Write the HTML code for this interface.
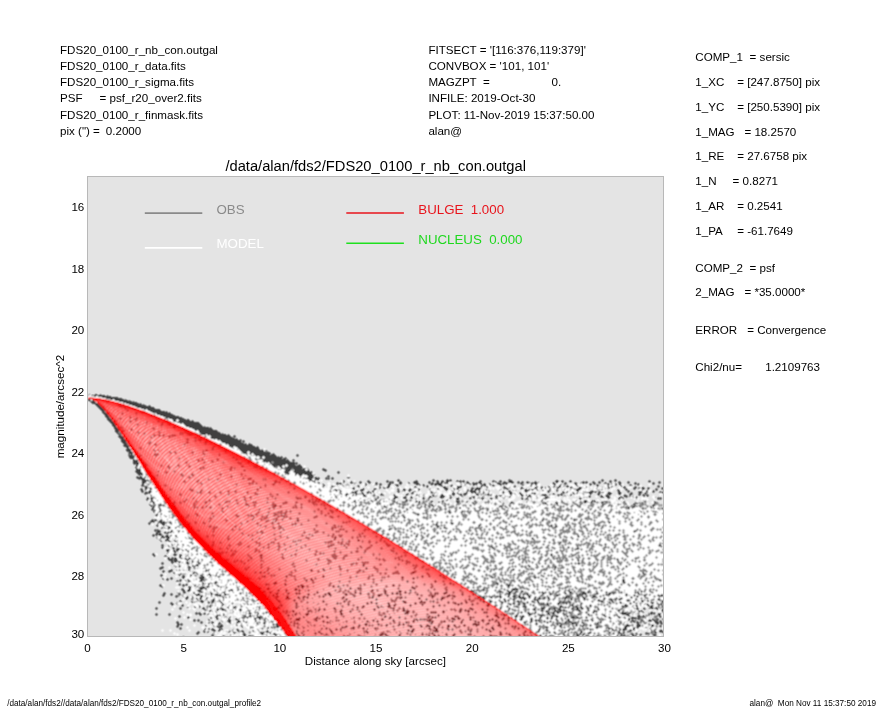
<!DOCTYPE html>
<html><head><meta charset="utf-8"><style>
html,body{margin:0;padding:0;background:#fff;width:885px;height:708px;overflow:hidden}
svg{display:block}
</style></head><body>
<svg width="885" height="708" viewBox="0 0 885 708" font-family="Liberation Sans, Arial, sans-serif">
<g shape-rendering="crispEdges">
<rect x="87" y="176" width="577" height="461" fill="#e4e4e4"/>
<g shape-rendering="auto"><line x1="144.8" y1="213.1" x2="202.3" y2="213.1" stroke="#8a8a8a" stroke-width="1.6"/>
<line x1="144.8" y1="247.9" x2="202.3" y2="247.9" stroke="#fff" stroke-width="1.6"/>
<line x1="346.3" y1="213.0" x2="403.9" y2="213.0" stroke="#e8141c" stroke-width="1.6"/>
<line x1="346.3" y1="243.3" x2="403.9" y2="243.3" stroke="#1ee01e" stroke-width="1.6"/></g>
<defs><clipPath id="pc"><rect x="87" y="176" width="577" height="461"/></clipPath></defs>
<defs><filter id="sb" x="0" y="0" width="885" height="708" filterUnits="userSpaceOnUse"><feConvolveMatrix order="3" kernelMatrix="1 2 1 2 4 2 1 2 1" divisor="16.0" edgeMode="none"/></filter></defs>
<g clip-path="url(#pc)"><g filter="url(#sb)">
<path d="M89 394.5h1m5 0h2m3 0h1m-13 1h1m2 0h14m2 0h1m-14 1h2m2 0h13m-9 1h16m-12 1h16m-34 1h2m20 0h3m1 0h10m1 0h1m-38 1h3m1 0h2m21 0h13m1 0h1m-40 1h5m24 0h13m1 0h1m-43 1h5m27 0h14m-45 1h6m28 0h13m1 0h1m-46 1h4m30 0h13m1 0h1m-48 1h4m32 0h14m3 0h1m-53 1h4m34 0h16m-53 1h4m35 0h17m-55 1h4m38 0h14m-55 1h4m40 0h2m1 0h13m-59 1h4m43 0h13m-59 1h2m46 0h15m1 0h1m-65 1h3m1 0h1m45 0h16m1 0h1m-67 1h4m47 0h1m1 0h15m-67 1h4m49 0h16m-68 1h3m52 0h15m-70 1h4m54 0h16m-73 1h3m57 0h16m-75 1h3m57 0h1m1 0h15m-77 1h5m60 0h5m1 0h8m1 0h2m-81 1h4m61 0h3m3 0h11m2 0h1m-84 1h4m60 0h4m1 0h16m-84 1h4m63 0h22m-88 1h4m65 0h2m1 0h17m-88 1h3m69 0h17m-89 1h4m69 0h17m-89 1h3m70 0h17m1 0h1m-91 1h3m72 0h20m1 0h1m-97 1h4m74 0h20m-97 1h4m75 0h19m-98 1h5m75 0h2m1 0h19m-102 1h4m80 0h19m-102 1h2m81 0h21m-103 1h2m1 0h1m80 0h20m1 0h1m-105 1h2m82 0h4m1 0h19m2 0h1m-110 1h2m87 0h1m1 0h20m4 0h1m-117 1h5m88 0h20m2 0h3m-117 1h6m85 0h23m1 0h1m-115 1h4m87 0h24m1 0h1m-116 1h4m89 0h1m2 0h21m2 0h1m-120 1h5m92 0h1m1 0h22m1 0h1m-123 1h5m95 0h20m1 0h3m-123 1h4m96 0h20m1 0h1m-121 1h4m98 0h19m1 0h1m3 0h1m-126 1h3m99 0h1m1 0h19m1 0h4m-129 1h5m1 0h1m99 0h24m-129 1h6m99 0h5m1 0h20m2 0h1m-132 1h3m102 0h2m4 0h22m-132 1h3m103 0h1m4 0h21m-133 1h5m106 0h1m1 0h21m2 0h1m-137 1h5m27 0h1m81 0h24m1 0h2m-140 1h5m109 0h7m1 0h15m1 0h1m1 0h1m-139 1h4m109 0h5m3 0h20m-142 1h5m108 0h1m1 0h5m1 0h3m1 0h18m2 0h1m-145 1h1m1 0h2m113 0h1m3 0h1m3 0h16m1 0h4m22 0h1m-170 1h5m114 0h1m3 0h1m1 0h1m1 0h21m20 0h3m-170 1h5m122 0h1m2 0h4m1 0h13m1 0h1m2 0h1m15 0h1m-169 1h6m125 0h2m3 0h18m2 0h1m-156 1h4m121 0h1m3 0h4m1 0h18m1 0h4m-154 1h2m1 0h1m121 0h1m1 0h1m1 0h24m1 0h1m5 0h1m-161 1h5m125 0h26m3 0h3m-162 1h5m124 0h10m1 0h17m3 0h1m-161 1h6m125 0h1m1 0h2m1 0h2m3 0h21m1 0h1m-164 1h6m131 0h2m1 0h25m-164 1h1m1 0h3m125 0h1m4 0h1m1 0h15m1 0h8m1 0h1m2 0h1m-164 1h2m134 0h11m1 0h1m3 0h8m1 0h4m-165 1h2m2 0h1m132 0h3m1 0h1m1 0h3m3 0h1m1 0h15m-167 1h2m3 0h1m35 0h1m97 0h1m5 0h3m2 0h18m-167 1h2m1 0h1m141 0h2m3 0h6m1 0h9m1 0h3m1 0h1m15 0h1m-188 1h5m137 0h1m1 0h1m4 0h6m3 0h11m3 0h1m13 0h4m-190 1h5m144 0h6m3 0h12m1 0h2m14 0h4m-192 1h6m143 0h6m3 0h17m1 0h1m13 0h1m12 0h1m-203 1h6m142 0h5m5 0h19m24 0h3m-203 1h6m142 0h5m5 0h17m26 0h1m-201 1h5m142 0h1m1 0h2m6 0h2m1 0h5m1 0h9m1 0h1m-176 1h1m2 0h1m102 0h1m49 0h1m3 0h3m5 0h7m14 0h1m-192 1h1m2 0h2m3 0h1m154 0h1m7 0h5m14 0h3m-194 1h7m1 0h2m1 0h1m2 0h1m149 0h1m3 0h1m2 0h7m1 0h2m1 0h1m7 0h1m1 0h1m3 0h1m14 0h3m-213 1h8m158 0h1m1 0h8m1 0h6m5 0h5m1 0h3m14 0h1m-210 1h1m1 0h5m1 0h1m160 0h4m3 0h4m7 0h1m1 0h1m3 0h1m65 0h1m34 0h1m13 0h1m2 0h1m58 0h1m92 0h1m12 0h1m-474 1h7m160 0h4m1 0h2m1 0h1m25 0h1m24 0h1m18 0h1m9 0h3m16 0h1m15 0h3m2 0h1m4 0h1m3 0h6m5 0h1m2 0h1m2 0h1m16 0h1m12 0h1m6 0h1m7 0h4m44 0h2m4 0h1m7 0h1m30 0h3m6 0h1m3 0h3m32 0h1m-508 1h5m1 0h1m151 0h1m8 0h1m2 0h3m28 0h2m6 0h1m8 0h1m6 0h3m16 0h3m1 0h1m1 0h1m4 0h2m1 0h1m13 0h4m11 0h1m3 0h1m2 0h3m2 0h3m2 0h3m1 0h1m5 0h9m2 0h1m11 0h3m10 0h4m3 0h3m2 0h1m4 0h4m5 0h1m3 0h1m4 0h1m7 0h1m19 0h4m2 0h3m5 0h3m11 0h1m2 0h1m6 0h1m5 0h1m2 0h1m6 0h3m3 0h1m3 0h1m8 0h1m19 0h3m8 0h1m-518 1h4m154 0h1m5 0h1m7 0h2m1 0h2m18 0h1m2 0h1m2 0h1m6 0h4m1 0h1m3 0h3m6 0h3m5 0h1m10 0h1m1 0h5m5 0h3m6 0h1m4 0h5m10 0h3m1 0h1m4 0h2m2 0h2m1 0h1m1 0h2m12 0h1m2 0h1m2 0h3m4 0h1m2 0h1m1 0h3m12 0h1m1 0h2m1 0h1m1 0h1m2 0h4m1 0h6m3 0h3m1 0h3m2 0h4m2 0h1m1 0h3m1 0h1m14 0h1m2 0h2m4 0h1m2 0h1m4 0h1m4 0h1m5 0h7m4 0h3m3 0h3m4 0h1m4 0h1m7 0h3m6 0h3m5 0h1m13 0h1m3 0h1m4 0h3m-519 1h3m1 0h1m171 0h2m16 0h6m9 0h1m2 0h1m5 0h1m4 0h1m3 0h1m5 0h3m2 0h1m8 0h2m1 0h1m6 0h3m6 0h2m4 0h5m10 0h1m1 0h3m1 0h8m1 0h4m12 0h1m3 0h1m2 0h3m2 0h6m1 0h3m2 0h1m4 0h1m7 0h4m1 0h6m4 0h1m5 0h1m1 0h3m4 0h2m1 0h8m14 0h3m9 0h3m7 0h4m2 0h1m1 0h2m2 0h1m3 0h1m2 0h3m3 0h1m4 0h3m1 0h1m2 0h1m3 0h1m3 0h3m6 0h1m5 0h3m1 0h1m13 0h3m4 0h1m-518 1h2m8 0h1m169 0h2m13 0h1m2 0h1m6 0h1m17 0h2m8 0h2m2 0h3m6 0h3m4 0h3m2 0h1m15 0h4m3 0h1m6 0h3m1 0h8m9 0h1m9 0h1m3 0h1m3 0h2m2 0h4m3 0h2m1 0h3m3 0h2m2 0h1m4 0h4m1 0h1m2 0h1m14 0h1m1 0h1m7 0h2m2 0h2m16 0h3m4 0h2m1 0h1m1 0h1m9 0h2m12 0h3m2 0h1m2 0h1m9 0h3m1 0h1m3 0h2m2 0h2m9 0h1m4 0h1m1 0h3m13 0h1m-513 1h4m1 0h1m176 0h2m7 0h1m9 0h1m3 0h1m1 0h1m9 0h1m6 0h1m8 0h1m1 0h1m3 0h1m7 0h2m6 0h3m18 0h1m1 0h2m1 0h3m2 0h1m3 0h1m3 0h2m1 0h5m7 0h3m7 0h1m3 0h1m8 0h2m1 0h1m4 0h5m4 0h1m1 0h3m5 0h1m13 0h1m7 0h2m6 0h2m4 0h1m17 0h1m4 0h2m3 0h1m2 0h1m8 0h2m12 0h1m5 0h3m9 0h1m6 0h1m4 0h2m7 0h3m6 0h1m19 0h1m-517 1h1m1 0h4m167 0h1m6 0h2m7 0h4m8 0h1m13 0h3m19 0h1m7 0h3m7 0h1m17 0h1m7 0h1m2 0h3m11 0h1m1 0h1m1 0h2m1 0h1m3 0h1m5 0h5m18 0h3m1 0h1m1 0h2m5 0h1m10 0h1m8 0h3m15 0h1m5 0h1m3 0h1m6 0h1m4 0h2m1 0h1m1 0h3m2 0h1m2 0h3m2 0h1m5 0h1m8 0h1m10 0h1m9 0h2m2 0h2m8 0h1m2 0h1m10 0h1m21 0h3m-515 1h2m1 0h1m1 0h1m172 0h1m6 0h1m1 0h1m20 0h1m4 0h1m20 0h2m2 0h2m1 0h3m25 0h3m10 0h1m15 0h4m10 0h4m11 0h1m1 0h1m1 0h2m1 0h1m1 0h1m5 0h1m15 0h4m2 0h1m4 0h1m6 0h2m12 0h3m2 0h3m2 0h1m2 0h2m3 0h1m3 0h3m7 0h1m2 0h3m6 0h3m4 0h1m10 0h1m4 0h1m5 0h2m1 0h1m11 0h3m8 0h3m2 0h1m2 0h2m4 0h1m9 0h1m3 0h1m-522 1h1m3 0h3m1 0h3m179 0h1m20 0h3m8 0h1m10 0h3m2 0h1m4 0h2m1 0h1m10 0h1m5 0h1m4 0h2m7 0h1m11 0h1m6 0h2m5 0h4m5 0h2m1 0h3m12 0h3m1 0h6m23 0h5m11 0h4m10 0h3m4 0h1m3 0h1m4 0h1m6 0h2m12 0h1m1 0h1m1 0h1m1 0h5m14 0h1m8 0h1m1 0h2m15 0h1m1 0h1m6 0h3m2 0h2m1 0h4m2 0h3m6 0h1m4 0h3m-524 1h3m2 0h2m3 0h2m178 0h1m3 0h3m1 0h1m14 0h1m7 0h4m9 0h2m21 0h3m3 0h3m3 0h3m6 0h2m9 0h1m8 0h1m6 0h3m6 0h1m2 0h1m9 0h1m3 0h2m2 0h6m5 0h1m13 0h1m3 0h1m1 0h2m13 0h1m3 0h2m2 0h1m1 0h3m2 0h2m11 0h2m6 0h1m6 0h1m5 0h1m3 0h1m1 0h5m16 0h1m1 0h1m1 0h2m15 0h1m6 0h3m6 0h1m7 0h2m4 0h1m6 0h3m4 0h1m-522 1h2m2 0h1m3 0h2m182 0h1m1 0h3m1 0h2m16 0h1m2 0h4m9 0h2m23 0h1m4 0h3m2 0h3m7 0h1m11 0h1m15 0h1m4 0h1m1 0h1m5 0h1m7 0h2m1 0h3m1 0h3m1 0h2m6 0h1m1 0h1m10 0h1m9 0h1m3 0h1m1 0h1m8 0h6m2 0h1m4 0h1m4 0h2m4 0h1m1 0h1m5 0h3m17 0h3m13 0h1m5 0h1m18 0h3m6 0h1m1 0h1m13 0h1m4 0h1m5 0h1m2 0h1m-516 1h3m2 0h1m1 0h4m4 0h1m179 0h1m3 0h2m10 0h1m2 0h3m3 0h1m6 0h1m3 0h2m23 0h3m2 0h1m1 0h1m4 0h1m4 0h2m15 0h1m20 0h1m5 0h1m7 0h2m2 0h6m3 0h2m2 0h1m5 0h1m13 0h1m4 0h3m14 0h3m19 0h3m7 0h1m5 0h1m3 0h1m9 0h1m5 0h1m1 0h1m4 0h7m2 0h1m18 0h2m7 0h3m9 0h3m4 0h2m4 0h3m5 0h1m2 0h1m-522 1h1m2 0h6m188 0h2m10 0h6m5 0h1m3 0h5m2 0h1m24 0h1m13 0h2m16 0h4m1 0h1m17 0h1m3 0h1m8 0h1m4 0h6m1 0h2m3 0h2m3 0h1m13 0h3m4 0h3m8 0h1m5 0h1m5 0h1m1 0h1m13 0h1m13 0h3m1 0h2m4 0h2m3 0h1m6 0h1m1 0h7m2 0h1m2 0h3m1 0h2m4 0h3m7 0h3m7 0h1m2 0h1m6 0h5m2 0h1m1 0h1m5 0h1m5 0h5m-520 1h4m1 0h1m190 0h2m4 0h2m2 0h1m1 0h1m2 0h3m1 0h1m1 0h3m3 0h2m1 0h2m9 0h1m25 0h1m3 0h3m17 0h1m2 0h1m17 0h3m2 0h2m1 0h1m3 0h4m4 0h1m2 0h1m1 0h1m2 0h1m1 0h2m4 0h1m14 0h1m5 0h4m1 0h1m4 0h3m9 0h5m17 0h1m7 0h1m1 0h1m9 0h2m1 0h2m4 0h1m6 0h3m6 0h2m7 0h5m6 0h4m8 0h3m6 0h2m3 0h3m16 0h1m-519 1h1m184 0h1m3 0h1m4 0h1m1 0h1m3 0h4m4 0h1m2 0h1m1 0h1m1 0h1m1 0h3m1 0h1m7 0h1m5 0h4m10 0h1m11 0h3m3 0h1m3 0h2m1 0h1m4 0h1m8 0h1m7 0h2m9 0h3m3 0h4m1 0h4m9 0h3m2 0h1m3 0h1m1 0h3m1 0h1m18 0h2m3 0h1m4 0h3m3 0h1m2 0h1m4 0h1m7 0h4m4 0h1m1 0h3m3 0h1m1 0h3m7 0h2m2 0h1m8 0h1m6 0h1m6 0h3m6 0h1m1 0h3m7 0h3m3 0h1m4 0h3m6 0h3m2 0h1m1 0h1m1 0h1m-498 1h2m183 0h1m1 0h1m7 0h2m5 0h2m1 0h2m6 0h3m9 0h1m5 0h1m1 0h1m9 0h3m10 0h2m8 0h1m1 0h1m4 0h1m8 0h3m1 0h1m3 0h4m5 0h2m2 0h1m6 0h2m2 0h1m12 0h1m6 0h1m1 0h1m1 0h1m1 0h2m4 0h1m2 0h3m9 0h1m9 0h3m2 0h1m1 0h3m10 0h6m2 0h1m7 0h3m1 0h1m2 0h1m5 0h1m18 0h1m8 0h1m2 0h1m3 0h4m1 0h1m12 0h4m3 0h1m2 0h1m5 0h1m2 0h3m1 0h3m-498 1h1m171 0h1m11 0h1m5 0h1m4 0h1m16 0h4m7 0h1m2 0h1m16 0h4m7 0h1m5 0h1m7 0h1m4 0h1m4 0h2m2 0h1m1 0h1m4 0h5m5 0h1m10 0h2m9 0h3m8 0h1m11 0h3m2 0h1m4 0h1m1 0h1m1 0h2m11 0h1m5 0h4m4 0h1m8 0h1m1 0h1m10 0h1m4 0h1m1 0h1m13 0h1m8 0h3m9 0h3m3 0h4m11 0h1m2 0h4m1 0h2m1 0h1m3 0h1m6 0h2m2 0h1m-501 1h2m1 0h2m179 0h1m17 0h1m27 0h2m15 0h4m5 0h4m3 0h3m10 0h1m4 0h4m8 0h4m5 0h3m6 0h1m11 0h1m2 0h2m3 0h1m3 0h1m1 0h1m6 0h1m4 0h1m5 0h1m1 0h1m4 0h1m12 0h1m4 0h2m1 0h1m6 0h1m7 0h5m30 0h1m3 0h1m1 0h1m2 0h1m11 0h3m3 0h4m8 0h4m3 0h1m6 0h1m1 0h3m17 0h1m2 0h1m1 0h1m-514 1h2m2 0h2m2 0h1m193 0h2m9 0h1m7 0h1m1 0h1m6 0h1m15 0h3m7 0h3m5 0h1m4 0h1m5 0h3m4 0h1m11 0h1m8 0h1m5 0h4m9 0h3m2 0h1m2 0h1m1 0h1m1 0h3m6 0h3m2 0h3m5 0h1m17 0h3m1 0h3m3 0h1m4 0h1m6 0h5m31 0h3m26 0h1m9 0h3m1 0h2m12 0h1m20 0h5m-516 1h3m1 0h3m185 0h1m9 0h1m27 0h1m4 0h1m1 0h1m5 0h1m4 0h1m11 0h1m8 0h1m7 0h1m23 0h1m8 0h3m11 0h1m11 0h1m8 0h1m30 0h1m2 0h1m1 0h2m13 0h1m2 0h1m34 0h1m38 0h1m38 0h1m1 0h1m-514 1h1m3 0h2m4 0h1m196 0h2m2 0h1m11 0h2m2 0h3m2 0h2m13 0h1m10 0h3m8 0h1m14 0h1m10 0h1m3 0h2m8 0h1m1 0h1m16 0h1m55 0h1m9 0h2m18 0h1m14 0h1m7 0h3m5 0h1m1 0h1m48 0h1m1 0h1m-496 1h4m199 0h2m28 0h2m1 0h1m7 0h2m1 0h1m4 0h1m1 0h1m1 0h1m8 0h3m1 0h1m10 0h3m6 0h1m1 0h3m12 0h4m6 0h2m6 0h1m1 0h1m22 0h1m11 0h1m15 0h1m13 0h1m5 0h1m8 0h1m4 0h1m13 0h1m4 0h1m2 0h5m3 0h5m6 0h1m1 0h3m17 0h1m19 0h1m9 0h1m-505 1h1m1 0h3m197 0h1m43 0h1m19 0h1m1 0h3m10 0h1m6 0h2m16 0h3m7 0h1m5 0h1m27 0h1m9 0h3m13 0h1m18 0h1m10 0h2m21 0h1m4 0h3m1 0h1m1 0h1m1 0h1m1 0h1m6 0h3m19 0h1m11 0h2m1 0h1m3 0h1m11 0h3m-504 1h2m5 0h1m215 0h1m22 0h1m19 0h1m24 0h1m12 0h1m14 0h2m2 0h1m14 0h1m19 0h1m30 0h1m1 0h3m8 0h3m44 0h1m31 0h1m1 0h2m4 0h1m11 0h1m-506 1h2m2 0h1m1 0h1m2 0h4m1 0h1m111 0h1m79 0h1m24 0h1m12 0h1m5 0h2m19 0h1m5 0h1m5 0h1m23 0h1m83 0h1m2 0h1m1 0h1m1 0h1m8 0h2m22 0h1m21 0h3m4 0h1m10 0h1m5 0h1m6 0h3m17 0h1m-504 1h3m1 0h2m2 0h1m1 0h5m109 0h3m75 0h1m3 0h1m8 0h1m18 0h1m2 0h1m3 0h1m11 0h1m1 0h1m22 0h1m2 0h3m1 0h1m20 0h1m43 0h1m38 0h1m7 0h1m9 0h2m18 0h1m2 0h1m7 0h1m14 0h1m4 0h2m14 0h1m7 0h1m1 0h1m4 0h1m12 0h3m-504 1h1m1 0h2m8 0h1m1 0h1m109 0h1m105 0h1m1 0h3m38 0h1m3 0h1m3 0h1m12 0h1m53 0h3m8 0h1m18 0h1m1 0h1m5 0h1m70 0h1m7 0h1m6 0h1m9 0h5m12 0h1m2 0h1m-502 1h3m3 0h1m216 0h1m8 0h1m74 0h2m5 0h1m32 0h1m1 0h1m4 0h2m24 0h1m12 0h1m8 0h2m24 0h1m42 0h1m4 0h2m2 0h3m8 0h1m6 0h3m7 0h1m1 0h1m-511 1h2m5 0h2m245 0h1m25 0h1m4 0h1m1 0h1m19 0h2m27 0h1m3 0h1m15 0h1m9 0h1m25 0h1m10 0h1m35 0h1m24 0h1m10 0h3m2 0h1m18 0h1m1 0h2m6 0h3m-513 1h4m4 0h2m251 0h1m75 0h1m25 0h1m39 0h1m14 0h1m58 0h1m14 0h1m16 0h1m1 0h1m-511 1h1m1 0h2m4 0h2m244 0h1m55 0h1m29 0h1m62 0h1m83 0h1m11 0h1m11 0h1m-511 1h2m4 0h2m288 0h1m11 0h3m176 0h2m1 0h1m11 0h2m-503 1h1m3 0h1m1 0h1m246 0h1m40 0h3m11 0h1m171 0h1m6 0h1m13 0h1m1 0h1m-501 1h1m3 0h1m256 0h1m30 0h1m-294 1h2m2 0h2m255 0h3m14 0h1m190 0h1m12 0h1m-484 1h3m6 0h1m4 0h1m248 0h1m-263 1h1m3 0h1m4 0h2m237 0h1m-236 1h1m233 0h3m-2 1h1m169 0h1m-423 1h1m1 0h3m4 0h1m5 0h1m129 0h1m244 0h1m30 0h3m41 0h1m-467 1h3m1 0h2m3 0h3m12 0h1m120 0h3m242 0h3m30 0h1m-425 1h6m1 0h1m1 0h3m1 0h2m2 0h1m2 0h1m126 0h1m244 0h1m66 0h1m-461 1h1m1 0h1m1 0h1m4 0h9m4 0h1m3 0h1m276 0h1m155 0h3m-463 1h3m6 0h2m1 0h5m1 0h1m3 0h2m264 0h1m14 0h3m155 0h1m-461 1h1m7 0h1m4 0h3m6 0h1m263 0h3m14 0h1m26 0h1m71 0h1m-396 1h3m4 0h1m2 0h1m12 0h1m256 0h1m1 0h1m39 0h3m69 0h3m3 0h1m-400 1h1m9 0h3m7 0h2m258 0h3m4 0h1m34 0h1m71 0h1m3 0h3m-397 1h2m1 0h1m3 0h3m4 0h2m2 0h1m258 0h1m4 0h3m110 0h1m-396 1h1m1 0h1m1 0h1m1 0h3m5 0h1m213 0h1m54 0h1m-290 1h1m1 0h1m10 0h1m219 0h3m-237 1h6m11 0h2m4 0h1m1 0h1m209 0h1m244 0h1m-480 1h1m1 0h4m4 0h1m2 0h1m1 0h3m5 0h2m2 0h2m449 0h3m-480 1h4m4 0h8m1 0h1m4 0h1m455 0h1m-479 1h2m1 0h2m4 0h1m1 0h2m-16 1h1m1 0h7m5 0h1m-16 1h3m1 0h1m2 0h2m1 0h1m3 0h3m1 0h2m3 0h2m239 0h1m161 0h1m-426 1h1m3 0h1m3 0h3m1 0h4m1 0h1m4 0h2m11 0h1m146 0h1m79 0h3m159 0h3m-424 1h1m4 0h4m1 0h4m7 0h1m7 0h1m3 0h1m144 0h3m79 0h1m115 0h1m45 0h1m-422 1h1m2 0h2m1 0h1m3 0h3m5 0h1m10 0h1m1 0h1m146 0h1m195 0h3m-375 1h1m6 0h3m22 0h1m166 0h1m173 0h1m-373 1h2m3 0h5m4 0h2m1 0h1m14 0h1m164 0h3m-199 1h1m4 0h1m1 0h3m4 0h2m4 0h1m9 0h1m166 0h1m201 0h1m-384 1h1m11 0h3m14 0h1m352 0h3m-2 1h1m44 0h1m-444 1h1m8 0h2m1 0h1m2 0h2m3 0h2m29 0h1m390 0h3m52 0h1m-499 1h3m4 0h1m3 0h1m4 0h1m5 0h1m3 0h2m416 0h1m52 0h3m-499 1h1m5 0h2m1 0h1m4 0h1m5 0h1m6 0h1m6 0h2m6 0h1m287 0h1m75 0h1m90 0h1m-499 1h3m9 0h1m3 0h1m21 0h1m291 0h3m73 0h3m7 0h1m-416 1h1m9 0h3m2 0h3m312 0h1m75 0h1m7 0h3m-413 1h3m4 0h1m2 0h4m1 0h1m3 0h2m4 0h1m385 0h1m-412 1h4m3 0h2m1 0h3m3 0h2m2 0h1m1 0h1m-22 1h2m4 0h3m1 0h1m9 0h2m8 0h1m-30 1h1m5 0h2m12 0h1m-36 1h1m13 0h1m6 0h1m16 0h1m5 0h1m2 0h1m3 0h2m345 0h1m-400 1h3m18 0h4m3 0h1m4 0h1m2 0h1m3 0h1m3 0h2m3 0h1m59 0h1m288 0h3m-400 1h3m9 0h1m8 0h3m2 0h3m5 0h1m3 0h1m68 0h3m288 0h1m-398 1h1m9 0h3m12 0h2m4 0h2m1 0h1m27 0h1m44 0h1m-94 1h1m3 0h1m2 0h1m3 0h2m8 0h1m5 0h1m-29 1h3m1 0h6m3 0h3m1 0h3m1 0h3m3 0h1m20 0h2m400 0h1m-450 1h5m1 0h3m8 0h5m1 0h1m1 0h1m4 0h1m2 0h2m8 0h1m366 0h1m37 0h3m-450 1h9m9 0h1m4 0h1m5 0h1m3 0h1m374 0h3m37 0h1m-447 1h2m1 0h3m1 0h3m5 0h1m2 0h1m1 0h3m3 0h2m2 0h1m8 0h1m52 0h1m314 0h1m-417 1h1m8 0h3m1 0h1m3 0h1m2 0h1m3 0h3m3 0h1m4 0h1m1 0h1m9 0h1m368 0h1m-418 1h3m8 0h1m13 0h4m1 0h1m6 0h3m376 0h3m-418 1h1m15 0h1m9 0h1m7 0h2m1 0h1m21 0h1m2 0h1m138 0h1m214 0h1m-405 1h1m4 0h1m7 0h1m4 0h2m1 0h4m22 0h1m140 0h3m164 0h1m96 0h1m-465 1h1m12 0h2m1 0h3m7 0h2m3 0h3m1 0h1m165 0h1m164 0h3m24 0h1m69 0h3m-468 1h4m15 0h1m7 0h4m3 0h1m9 0h1m21 0h1m139 0h1m162 0h1m24 0h3m69 0h1m-468 1h4m26 0h1m4 0h2m1 0h1m5 0h1m1 0h1m117 0h1m41 0h3m145 0h1m41 0h1m-396 1h1m10 0h1m7 0h1m8 0h3m15 0h1m1 0h2m9 0h2m1 0h1m88 0h1m10 0h3m41 0h1m145 0h3m-352 1h1m5 0h4m3 0h1m2 0h1m3 0h1m5 0h1m15 0h4m17 0h1m83 0h3m10 0h1m189 0h1m-352 1h3m3 0h4m18 0h1m1 0h1m10 0h1m1 0h2m1 0h1m51 0h1m50 0h1m101 0h1m-251 1h1m5 0h1m3 0h2m18 0h4m20 0h1m41 0h3m150 0h3m228 0h1m-470 1h1m5 0h2m1 0h1m1 0h1m6 0h3m1 0h2m11 0h1m6 0h1m43 0h1m152 0h1m228 0h3m-484 1h1m16 0h3m1 0h1m1 0h1m5 0h1m6 0h1m10 0h3m5 0h1m3 0h1m219 0h1m202 0h1m-484 1h3m16 0h1m3 0h1m6 0h2m8 0h2m5 0h1m1 0h3m1 0h1m1 0h2m10 0h1m36 0h1m21 0h1m36 0h1m98 0h1m16 0h3m-281 1h1m20 0h3m5 0h1m10 0h3m6 0h1m4 0h1m1 0h1m45 0h3m19 0h3m34 0h3m77 0h1m18 0h3m16 0h1m13 0h1m37 0h1m42 0h1m-365 1h1m10 0h3m14 0h6m4 0h1m1 0h1m6 0h1m25 0h1m19 0h1m21 0h1m36 0h1m77 0h3m9 0h1m8 0h1m30 0h3m35 0h3m40 0h3m-375 1h2m3 0h1m2 0h3m10 0h1m15 0h5m1 0h1m44 0h1m60 0h1m90 0h1m9 0h3m39 0h1m37 0h1m42 0h1m113 0h1m-487 1h1m2 0h3m2 0h1m8 0h1m6 0h2m7 0h1m3 0h4m2 0h1m4 0h1m7 0h1m10 0h1m75 0h1m3 0h3m100 0h1m105 0h1m103 0h1m36 0h1m-494 1h1m9 0h1m1 0h3m3 0h1m2 0h2m10 0h3m18 0h1m9 0h1m3 0h1m69 0h3m3 0h1m95 0h1m27 0h1m82 0h3m101 0h3m34 0h3m-486 1h3m1 0h1m5 0h1m1 0h3m8 0h3m13 0h2m89 0h1m99 0h3m25 0h3m82 0h1m103 0h2m35 0h1m-473 1h1m13 0h1m7 0h1m3 0h4m3 0h1m5 0h1m11 0h1m34 0h3m130 0h1m27 0h1m14 0h1m46 0h1m125 0h3m-447 1h1m6 0h1m15 0h2m1 0h1m2 0h2m1 0h2m1 0h2m17 0h1m32 0h1m6 0h4m8 0h1m163 0h3m44 0h3m125 0h1m-465 1h1m17 0h3m2 0h1m1 0h3m5 0h1m1 0h1m3 0h1m2 0h1m1 0h1m3 0h2m5 0h1m10 0h1m3 0h1m2 0h1m12 0h1m18 0h3m6 0h1m9 0h3m14 0h1m91 0h1m56 0h1m46 0h1m10 0h2m-351 1h3m17 0h1m2 0h3m1 0h1m7 0h2m7 0h1m4 0h1m3 0h1m12 0h1m10 0h1m8 0h1m20 0h1m18 0h1m12 0h1m1 0h4m29 0h1m4 0h1m53 0h3m112 0h4m-351 1h3m20 0h1m5 0h1m1 0h1m2 0h1m2 0h1m4 0h1m1 0h1m1 0h4m8 0h2m1 0h1m1 0h1m15 0h1m17 0h2m38 0h3m1 0h4m8 0h1m18 0h3m2 0h3m53 0h1m18 0h1m95 0h2m-348 1h1m25 0h3m5 0h1m1 0h1m1 0h5m1 0h1m1 0h1m11 0h2m32 0h1m3 0h3m7 0h1m29 0h1m2 0h3m29 0h1m4 0h1m11 0h1m7 0h1m1 0h1m50 0h4m100 0h1m-334 1h1m6 0h2m8 0h7m47 0h3m3 0h3m5 0h3m10 0h1m14 0h2m5 0h1m46 0h3m5 0h5m50 0h4m67 0h1m29 0h5m-337 1h3m4 0h3m7 0h1m1 0h3m2 0h2m6 0h2m5 0h1m4 0h1m4 0h3m21 0h1m3 0h3m6 0h2m9 0h1m7 0h1m7 0h4m1 0h1m23 0h1m26 0h1m7 0h1m1 0h1m11 0h1m37 0h1m3 0h1m67 0h3m27 0h7m-337 1h3m2 0h4m6 0h4m13 0h1m13 0h5m4 0h1m21 0h1m4 0h1m12 0h3m5 0h3m7 0h2m1 0h3m4 0h1m65 0h3m11 0h1m13 0h2m8 0h3m59 0h2m10 0h1m16 0h1m7 0h1m2 0h1m1 0h1m3 0h1m4 0h1m46 0h1m54 0h1m16 0h1m7 0h1m-467 1h2m3 0h2m8 0h5m11 0h1m1 0h1m7 0h2m3 0h1m2 0h1m10 0h1m19 0h2m5 0h1m1 0h1m5 0h1m7 0h1m12 0h1m17 0h1m37 0h1m16 0h1m11 0h3m11 0h4m3 0h1m4 0h1m35 0h1m23 0h4m25 0h3m5 0h6m2 0h1m5 0h3m18 0h1m25 0h3m12 0h1m4 0h1m17 0h1m14 0h1m13 0h1m2 0h1m1 0h3m-479 1h1m12 0h1m1 0h1m3 0h3m7 0h2m5 0h1m1 0h1m7 0h2m5 0h1m4 0h3m8 0h1m6 0h1m1 0h1m3 0h1m16 0h1m1 0h1m3 0h3m5 0h1m8 0h1m1 0h1m7 0h1m2 0h1m16 0h3m9 0h2m7 0h1m16 0h3m3 0h1m24 0h1m6 0h1m4 0h1m1 0h2m3 0h3m28 0h1m1 0h1m6 0h4m23 0h2m27 0h1m7 0h4m2 0h3m5 0h1m18 0h3m21 0h1m3 0h3m10 0h4m1 0h3m7 0h1m7 0h3m1 0h1m3 0h1m6 0h3m1 0h1m9 0h3m1 0h1m2 0h1m-479 1h3m5 0h1m6 0h2m4 0h1m9 0h1m3 0h1m6 0h1m5 0h2m3 0h1m1 0h1m2 0h1m2 0h2m13 0h3m1 0h1m2 0h1m1 0h1m21 0h1m4 0h4m8 0h3m5 0h6m7 0h1m8 0h1m7 0h1m1 0h4m15 0h1m8 0h1m3 0h3m22 0h3m4 0h3m2 0h3m1 0h1m4 0h1m11 0h1m16 0h5m4 0h4m15 0h1m10 0h1m33 0h4m4 0h1m7 0h1m3 0h1m14 0h3m5 0h1m13 0h3m3 0h1m8 0h1m2 0h5m1 0h1m7 0h3m7 0h1m1 0h3m1 0h3m6 0h1m4 0h1m8 0h1m1 0h3m-477 1h2m5 0h3m6 0h2m2 0h1m11 0h5m6 0h1m1 0h1m1 0h3m1 0h4m1 0h2m3 0h5m11 0h1m24 0h1m7 0h1m2 0h2m5 0h1m4 0h1m7 0h1m2 0h1m7 0h3m14 0h3m1 0h3m14 0h3m12 0h1m17 0h2m5 0h1m1 0h1m4 0h1m4 0h1m1 0h3m14 0h3m16 0h1m1 0h1m6 0h1m4 0h1m11 0h3m8 0h3m33 0h3m11 0h3m1 0h3m14 0h1m5 0h3m5 0h1m7 0h1m12 0h6m1 0h1m11 0h1m7 0h6m2 0h1m11 0h3m6 0h1m3 0h1m5 0h1m4 0h2m7 0h1m2 0h2m-501 1h3m6 0h1m4 0h1m5 0h1m13 0h4m1 0h2m2 0h1m5 0h1m3 0h7m1 0h1m1 0h1m9 0h2m18 0h2m1 0h2m2 0h1m3 0h1m2 0h1m2 0h3m2 0h1m9 0h1m20 0h1m14 0h1m1 0h1m3 0h3m14 0h1m30 0h4m5 0h3m11 0h1m16 0h1m14 0h1m14 0h4m3 0h1m7 0h1m10 0h1m6 0h1m16 0h1m2 0h1m7 0h2m3 0h2m4 0h1m3 0h1m3 0h3m20 0h1m5 0h3m7 0h1m1 0h1m8 0h1m1 0h1m2 0h1m11 0h1m11 0h1m2 0h1m16 0h1m2 0h1m3 0h3m1 0h1m5 0h3m3 0h1m7 0h7m-501 1h1m11 0h3m5 0h1m3 0h1m4 0h1m7 0h3m8 0h1m5 0h1m2 0h1m1 0h1m6 0h1m19 0h1m4 0h5m3 0h1m10 0h1m2 0h3m7 0h3m9 0h1m4 0h3m1 0h1m14 0h3m5 0h1m12 0h1m28 0h1m5 0h2m7 0h1m13 0h1m29 0h3m8 0h1m3 0h4m3 0h3m22 0h4m1 0h1m7 0h1m4 0h6m5 0h3m2 0h4m2 0h3m2 0h1m4 0h2m5 0h1m8 0h1m12 0h1m7 0h5m6 0h3m4 0h1m8 0h4m23 0h1m11 0h1m2 0h1m1 0h3m5 0h1m13 0h1m2 0h2m-487 1h1m9 0h3m3 0h2m6 0h2m5 0h1m14 0h2m1 0h2m2 0h1m12 0h2m11 0h1m1 0h1m1 0h1m2 0h1m14 0h1m8 0h3m8 0h3m2 0h3m1 0h3m14 0h1m18 0h3m26 0h3m26 0h3m16 0h1m12 0h1m8 0h3m3 0h1m6 0h1m22 0h4m1 0h3m5 0h3m4 0h1m1 0h3m6 0h1m4 0h2m3 0h7m3 0h3m3 0h3m2 0h1m3 0h3m2 0h1m16 0h2m1 0h1m8 0h1m4 0h3m6 0h4m9 0h1m11 0h1m4 0h1m8 0h3m4 0h1m-453 1h3m3 0h1m4 0h2m1 0h3m4 0h2m6 0h1m8 0h1m19 0h1m32 0h1m8 0h6m7 0h1m4 0h1m3 0h1m4 0h1m30 0h1m2 0h1m25 0h1m3 0h1m24 0h1m16 0h3m5 0h1m14 0h3m25 0h1m8 0h1m4 0h3m5 0h1m8 0h1m3 0h1m8 0h1m5 0h6m4 0h1m4 0h2m2 0h3m3 0h1m2 0h3m14 0h3m4 0h1m11 0h2m7 0h1m10 0h3m5 0h1m3 0h3m1 0h4m8 0h1m3 0h1m22 0h2m-474 1h1m10 0h1m2 0h1m5 0h1m5 0h3m8 0h1m18 0h1m6 0h1m20 0h1m5 0h2m8 0h1m1 0h1m5 0h1m50 0h3m27 0h3m41 0h1m5 0h3m12 0h3m25 0h3m13 0h1m18 0h3m2 0h1m3 0h3m6 0h1m1 0h3m7 0h3m1 0h1m1 0h1m8 0h1m16 0h1m4 0h3m10 0h3m12 0h1m5 0h1m5 0h3m3 0h1m1 0h4m5 0h1m16 0h1m12 0h3m-480 1h1m17 0h1m2 0h2m2 0h1m1 0h1m3 0h4m8 0h1m11 0h1m5 0h1m1 0h2m9 0h1m1 0h2m19 0h3m13 0h3m27 0h1m20 0h1m1 0h1m29 0h1m26 0h1m17 0h1m4 0h1m6 0h1m7 0h1m27 0h1m13 0h2m5 0h1m13 0h2m1 0h3m3 0h1m4 0h1m5 0h1m7 0h1m1 0h1m1 0h3m32 0h1m12 0h1m12 0h3m1 0h1m9 0h2m6 0h1m6 0h3m6 0h1m5 0h3m1 0h1m1 0h2m9 0h1m3 0h2m-505 1h1m19 0h3m9 0h1m1 0h1m1 0h1m1 0h1m1 0h5m4 0h1m3 0h2m1 0h1m1 0h1m2 0h1m8 0h1m15 0h1m9 0h1m15 0h1m6 0h3m13 0h1m27 0h3m18 0h3m25 0h1m19 0h1m10 0h4m14 0h3m1 0h1m7 0h3m13 0h1m17 0h1m15 0h4m3 0h3m10 0h1m1 0h3m1 0h1m8 0h3m7 0h1m3 0h3m3 0h2m20 0h1m3 0h1m5 0h1m28 0h1m1 0h3m4 0h1m1 0h1m1 0h3m6 0h1m6 0h1m5 0h2m3 0h1m2 0h3m3 0h2m2 0h1m4 0h1m5 0h2m-506 1h3m10 0h1m5 0h1m13 0h2m1 0h1m6 0h2m4 0h3m1 0h3m6 0h2m43 0h1m13 0h1m16 0h1m16 0h1m9 0h1m13 0h1m6 0h1m22 0h1m2 0h3m3 0h1m11 0h1m14 0h4m8 0h1m3 0h3m1 0h3m7 0h1m13 0h3m5 0h1m5 0h1m3 0h3m15 0h2m5 0h1m10 0h3m1 0h1m7 0h1m4 0h1m5 0h1m1 0h3m3 0h1m4 0h3m1 0h1m1 0h1m3 0h1m10 0h3m1 0h3m1 0h1m1 0h3m10 0h1m19 0h1m6 0h3m1 0h1m6 0h3m8 0h1m2 0h2m7 0h1m7 0h4m7 0h1m1 0h1m-505 1h1m10 0h3m3 0h1m31 0h1m3 0h1m2 0h1m5 0h2m20 0h1m1 0h1m1 0h1m6 0h1m2 0h2m1 0h1m1 0h1m17 0h1m14 0h3m20 0h1m17 0h3m9 0h1m17 0h3m2 0h1m3 0h3m9 0h3m15 0h1m8 0h3m3 0h1m1 0h1m1 0h1m23 0h1m5 0h3m1 0h1m1 0h3m3 0h1m5 0h1m29 0h1m7 0h1m1 0h3m3 0h1m4 0h3m1 0h1m10 0h1m1 0h5m1 0h3m8 0h3m3 0h1m1 0h3m1 0h1m10 0h3m26 0h1m10 0h2m1 0h1m5 0h3m13 0h1m1 0h1m3 0h3m6 0h1m-490 1h3m3 0h1m4 0h1m28 0h1m10 0h2m16 0h1m3 0h1m2 0h2m1 0h2m29 0h1m14 0h1m20 0h1m19 0h1m9 0h3m17 0h1m8 0h1m11 0h2m4 0h1m15 0h1m4 0h1m5 0h3m15 0h1m15 0h1m1 0h3m1 0h1m9 0h3m13 0h2m20 0h3m1 0h1m3 0h3m4 0h1m8 0h1m7 0h1m1 0h1m3 0h2m9 0h1m7 0h1m5 0h1m8 0h1m8 0h1m34 0h2m3 0h1m13 0h1m1 0h3m9 0h4m-490 1h1m8 0h3m15 0h1m10 0h1m1 0h1m2 0h1m5 0h2m6 0h1m34 0h1m14 0h4m12 0h3m50 0h1m14 0h1m24 0h3m2 0h3m13 0h3m10 0h1m10 0h1m4 0h3m17 0h1m13 0h1m13 0h4m4 0h1m12 0h1m2 0h1m5 0h1m1 0h1m4 0h1m1 0h1m6 0h3m12 0h3m10 0h2m9 0h3m15 0h3m30 0h1m1 0h4m5 0h1m1 0h3m2 0h1m6 0h3m1 0h3m5 0h1m1 0h1m-480 1h1m11 0h1m4 0h2m8 0h3m16 0h1m4 0h1m1 0h1m21 0h1m1 0h2m1 0h1m1 0h1m13 0h1m2 0h1m14 0h1m1 0h1m3 0h1m54 0h1m4 0h3m13 0h1m8 0h3m4 0h1m15 0h1m21 0h3m4 0h1m47 0h2m4 0h3m10 0h3m6 0h3m4 0h5m6 0h1m10 0h1m3 0h1m10 0h4m2 0h1m6 0h1m3 0h2m3 0h1m8 0h1m30 0h3m1 0h3m4 0h1m3 0h2m10 0h1m1 0h3m-497 1h1m23 0h1m6 0h2m5 0h2m3 0h1m3 0h1m6 0h1m6 0h1m3 0h1m5 0h2m4 0h4m9 0h1m9 0h1m1 0h2m5 0h1m2 0h1m4 0h1m3 0h3m15 0h3m15 0h1m5 0h1m14 0h1m21 0h3m4 0h1m13 0h3m3 0h1m4 0h1m4 0h1m9 0h1m29 0h1m36 0h1m23 0h1m5 0h1m6 0h1m1 0h1m6 0h1m6 0h1m1 0h1m15 0h5m8 0h1m4 0h3m2 0h3m5 0h1m2 0h4m1 0h3m5 0h1m33 0h1m3 0h1m6 0h1m3 0h1m6 0h1m5 0h4m1 0h2m2 0h1m1 0h1m-507 1h3m21 0h3m20 0h3m2 0h1m9 0h1m4 0h2m4 0h1m4 0h1m1 0h1m4 0h1m6 0h1m5 0h1m5 0h2m1 0h1m1 0h1m1 0h4m3 0h2m3 0h2m16 0h1m22 0h1m4 0h1m8 0h3m21 0h1m16 0h1m3 0h1m12 0h4m7 0h3m55 0h1m8 0h4m9 0h1m16 0h3m6 0h3m23 0h1m5 0h5m4 0h1m3 0h3m3 0h2m4 0h1m5 0h3m2 0h3m2 0h3m3 0h3m8 0h1m16 0h1m1 0h1m3 0h2m11 0h1m1 0h3m4 0h3m3 0h4m1 0h4m2 0h1m2 0h1m-508 1h1m23 0h1m22 0h2m1 0h1m9 0h3m2 0h4m10 0h1m3 0h3m14 0h1m1 0h1m9 0h1m4 0h3m27 0h1m14 0h3m2 0h3m8 0h1m6 0h1m31 0h3m17 0h1m9 0h2m54 0h3m3 0h1m4 0h4m7 0h3m16 0h1m8 0h1m23 0h3m5 0h2m5 0h3m3 0h2m2 0h3m2 0h1m8 0h1m2 0h5m2 0h1m5 0h1m8 0h3m16 0h1m1 0h1m18 0h1m6 0h1m11 0h2m4 0h2m-460 1h2m1 0h1m1 0h3m5 0h1m4 0h2m6 0h1m1 0h1m6 0h3m8 0h1m4 0h1m3 0h1m7 0h2m5 0h2m2 0h1m8 0h1m4 0h2m14 0h1m9 0h2m4 0h1m15 0h3m7 0h1m23 0h1m27 0h4m2 0h1m34 0h1m2 0h1m13 0h1m3 0h3m1 0h1m3 0h1m9 0h1m22 0h1m28 0h1m5 0h3m3 0h1m2 0h1m4 0h3m2 0h6m11 0h1m1 0h3m6 0h3m4 0h1m1 0h1m1 0h1m18 0h3m11 0h1m6 0h1m2 0h1m19 0h3m-455 1h2m1 0h1m2 0h1m17 0h1m6 0h1m5 0h1m2 0h1m16 0h1m1 0h2m2 0h1m5 0h2m10 0h1m1 0h3m12 0h3m6 0h1m1 0h1m20 0h3m7 0h3m51 0h2m1 0h4m21 0h1m1 0h1m1 0h1m6 0h3m14 0h3m3 0h1m1 0h3m14 0h1m1 0h1m17 0h3m14 0h1m13 0h1m5 0h1m3 0h3m5 0h3m1 0h2m1 0h1m2 0h1m5 0h1m9 0h1m6 0h1m1 0h1m4 0h5m7 0h1m12 0h1m3 0h1m9 0h1m1 0h1m3 0h5m8 0h1m10 0h1m-467 1h1m2 0h1m4 0h1m11 0h1m13 0h1m1 0h1m10 0h1m1 0h1m3 0h2m14 0h5m8 0h1m1 0h1m6 0h1m1 0h1m3 0h1m5 0h1m8 0h1m6 0h1m24 0h2m8 0h1m54 0h4m21 0h7m6 0h1m16 0h1m7 0h1m14 0h5m17 0h1m14 0h3m5 0h1m5 0h3m9 0h1m1 0h1m4 0h2m1 0h4m3 0h1m4 0h3m14 0h3m4 0h3m1 0h1m18 0h1m3 0h1m1 0h5m7 0h1m8 0h2m6 0h3m1 0h1m8 0h1m-508 1h1m12 0h1m25 0h6m2 0h3m2 0h1m14 0h1m22 0h1m1 0h4m6 0h1m7 0h1m2 0h2m4 0h1m5 0h1m3 0h2m8 0h1m3 0h1m6 0h3m31 0h3m18 0h1m32 0h1m9 0h5m22 0h1m1 0h1m1 0h1m48 0h1m1 0h1m34 0h1m5 0h4m4 0h1m11 0h3m2 0h3m2 0h2m3 0h3m4 0h1m8 0h1m7 0h1m1 0h1m4 0h1m11 0h1m14 0h7m1 0h2m18 0h1m1 0h6m2 0h3m-506 1h3m10 0h3m25 0h1m2 0h3m2 0h1m2 0h2m8 0h1m1 0h1m3 0h2m20 0h1m3 0h1m7 0h2m10 0h3m3 0h1m12 0h1m3 0h1m1 0h3m3 0h1m4 0h4m31 0h3m17 0h3m26 0h1m15 0h1m1 0h1m30 0h1m56 0h1m8 0h1m11 0h1m11 0h4m8 0h1m1 0h1m5 0h3m2 0h1m9 0h1m13 0h3m7 0h3m14 0h1m4 0h1m12 0h7m3 0h1m15 0h2m1 0h1m2 0h1m3 0h3m-505 1h1m12 0h1m9 0h1m20 0h1m15 0h5m2 0h1m21 0h1m3 0h2m1 0h1m1 0h1m1 0h2m2 0h1m13 0h1m4 0h1m7 0h3m2 0h1m2 0h1m10 0h2m14 0h1m18 0h1m19 0h1m23 0h1m43 0h1m7 0h3m15 0h1m31 0h1m6 0h4m5 0h3m9 0h3m4 0h2m6 0h1m8 0h5m5 0h1m2 0h1m3 0h2m9 0h1m10 0h1m9 0h1m14 0h3m11 0h1m8 0h4m8 0h2m3 0h1m4 0h1m10 0h2m-483 1h3m7 0h1m26 0h3m7 0h1m4 0h1m13 0h3m1 0h4m1 0h1m3 0h6m5 0h1m19 0h1m4 0h1m9 0h1m13 0h1m3 0h3m2 0h2m56 0h3m3 0h1m8 0h1m26 0h1m1 0h3m1 0h1m2 0h1m2 0h1m8 0h1m6 0h3m13 0h1m15 0h3m6 0h4m5 0h1m9 0h4m3 0h4m15 0h1m1 0h1m8 0h3m1 0h4m7 0h3m3 0h2m3 0h1m8 0h1m17 0h1m4 0h1m7 0h3m8 0h1m1 0h1m1 0h1m4 0h4m1 0h3m14 0h3m-483 1h1m7 0h3m20 0h2m4 0h2m6 0h1m1 0h1m2 0h2m10 0h2m1 0h1m1 0h3m1 0h1m3 0h1m1 0h5m38 0h1m3 0h2m11 0h2m4 0h1m3 0h3m24 0h2m29 0h2m3 0h3m6 0h3m26 0h3m1 0h6m15 0h1m2 0h1m2 0h1m10 0h3m15 0h1m9 0h3m3 0h1m4 0h1m6 0h2m4 0h3m15 0h3m5 0h1m3 0h2m3 0h2m9 0h1m3 0h4m1 0h3m6 0h3m20 0h3m7 0h3m10 0h5m2 0h2m3 0h1m1 0h1m8 0h1m1 0h1m3 0h1m-473 1h1m22 0h1m4 0h3m10 0h1m6 0h1m2 0h1m7 0h1m6 0h3m1 0h3m13 0h1m2 0h1m1 0h1m8 0h1m1 0h2m4 0h5m14 0h3m9 0h1m23 0h1m1 0h1m21 0h1m6 0h1m7 0h1m8 0h1m16 0h1m3 0h1m3 0h1m3 0h1m1 0h1m1 0h1m2 0h1m15 0h4m2 0h3m10 0h1m21 0h1m5 0h1m3 0h3m2 0h3m5 0h1m5 0h2m8 0h1m8 0h1m5 0h3m1 0h3m3 0h1m11 0h1m3 0h3m2 0h1m8 0h1m22 0h1m9 0h1m5 0h1m2 0h2m1 0h9m5 0h1m7 0h1m1 0h1m1 0h1m4 0h1m-469 1h1m3 0h1m9 0h1m8 0h1m10 0h3m4 0h4m15 0h2m3 0h2m3 0h1m2 0h1m9 0h2m11 0h1m4 0h5m16 0h1m56 0h1m7 0h3m9 0h1m21 0h3m1 0h3m1 0h3m3 0h3m20 0h4m2 0h1m4 0h1m5 0h3m10 0h1m6 0h1m1 0h3m2 0h1m6 0h1m4 0h1m5 0h3m3 0h3m7 0h3m3 0h1m1 0h1m8 0h1m3 0h1m3 0h3m9 0h3m3 0h1m11 0h1m1 0h1m4 0h1m12 0h1m22 0h2m2 0h1m5 0h1m3 0h1m6 0h1m2 0h3m1 0h3m-466 1h3m1 0h3m8 0h2m11 0h1m6 0h3m5 0h1m1 0h2m3 0h1m11 0h2m6 0h2m3 0h1m7 0h4m3 0h1m1 0h1m10 0h4m6 0h1m8 0h3m5 0h1m6 0h1m23 0h1m12 0h1m4 0h3m2 0h1m4 0h1m9 0h3m18 0h1m2 0h1m3 0h1m3 0h1m4 0h2m1 0h1m11 0h1m7 0h1m1 0h1m15 0h1m2 0h1m1 0h1m5 0h3m4 0h3m1 0h1m2 0h3m9 0h3m5 0h1m5 0h1m9 0h1m3 0h5m4 0h1m5 0h1m5 0h1m11 0h2m14 0h5m2 0h3m24 0h1m9 0h1m2 0h3m7 0h3m4 0h4m1 0h1m1 0h1m1 0h1m2 0h1m-484 1h1m16 0h1m3 0h1m2 0h1m10 0h1m9 0h1m4 0h4m6 0h4m2 0h2m1 0h1m8 0h1m17 0h1m2 0h4m4 0h1m6 0h1m15 0h1m8 0h1m5 0h3m2 0h1m2 0h1m1 0h1m29 0h1m3 0h3m4 0h1m2 0h3m14 0h1m12 0h1m5 0h3m13 0h6m9 0h3m5 0h3m7 0h1m12 0h3m1 0h1m3 0h1m6 0h1m6 0h1m1 0h1m9 0h1m15 0h1m5 0h3m3 0h1m1 0h1m4 0h3m1 0h1m1 0h3m13 0h1m2 0h4m3 0h1m6 0h1m2 0h1m1 0h1m4 0h1m7 0h1m15 0h1m1 0h1m11 0h1m1 0h3m2 0h1m3 0h1m1 0h1m5 0h3m2 0h4m1 0h3m-486 1h3m21 0h3m5 0h2m1 0h3m5 0h1m8 0h3m5 0h4m5 0h2m10 0h1m5 0h2m4 0h1m2 0h1m4 0h4m9 0h2m2 0h1m2 0h1m12 0h1m12 0h1m2 0h4m13 0h1m23 0h1m1 0h1m7 0h1m27 0h3m5 0h1m15 0h1m1 0h2m11 0h1m7 0h1m7 0h3m12 0h1m1 0h3m3 0h1m4 0h1m8 0h3m8 0h1m14 0h3m5 0h1m4 0h1m7 0h1m1 0h3m1 0h1m9 0h1m3 0h3m2 0h8m4 0h3m13 0h1m1 0h3m19 0h1m2 0h1m5 0h2m2 0h1m1 0h3m7 0h1m8 0h4m1 0h2m-485 1h2m2 0h1m19 0h1m6 0h1m3 0h1m5 0h3m9 0h1m6 0h1m3 0h1m14 0h2m5 0h3m7 0h1m2 0h3m14 0h6m28 0h1m2 0h1m34 0h2m11 0h1m20 0h1m3 0h1m2 0h1m23 0h3m28 0h1m11 0h4m1 0h1m8 0h3m8 0h2m7 0h3m14 0h1m10 0h3m9 0h1m9 0h1m1 0h3m3 0h1m5 0h5m6 0h1m13 0h3m1 0h1m20 0h1m15 0h2m6 0h1m10 0h3m1 0h3m-486 1h6m36 0h1m1 0h1m14 0h1m20 0h2m5 0h1m7 0h6m11 0h1m4 0h1m2 0h1m1 0h1m10 0h1m28 0h1m19 0h1m4 0h4m9 0h3m6 0h2m10 0h3m1 0h3m22 0h1m3 0h1m16 0h1m5 0h1m9 0h1m7 0h8m8 0h1m9 0h3m7 0h1m9 0h1m3 0h1m13 0h1m19 0h3m1 0h1m12 0h1m2 0h1m6 0h1m6 0h1m6 0h1m28 0h3m8 0h3m12 0h1m4 0h1m3 0h1m-485 1h2m2 0h1m23 0h2m6 0h1m6 0h3m13 0h2m9 0h1m8 0h1m16 0h1m2 0h3m12 0h1m1 0h2m3 0h1m8 0h1m3 0h1m8 0h1m2 0h1m22 0h1m11 0h3m4 0h2m11 0h1m6 0h3m11 0h1m3 0h1m6 0h2m9 0h1m4 0h4m17 0h3m3 0h3m7 0h3m7 0h1m1 0h4m14 0h1m3 0h3m12 0h1m2 0h1m5 0h3m33 0h1m1 0h3m13 0h3m4 0h3m4 0h3m20 0h1m12 0h6m5 0h5m1 0h1m8 0h3m6 0h1m-485 1h3m27 0h1m7 0h1m1 0h2m1 0h4m19 0h1m7 0h1m20 0h1m1 0h1m1 0h5m14 0h1m2 0h1m4 0h1m5 0h1m15 0h1m17 0h1m2 0h3m5 0h1m5 0h1m26 0h1m22 0h4m7 0h3m4 0h4m3 0h1m12 0h3m4 0h1m9 0h1m11 0h1m15 0h1m5 0h1m12 0h6m5 0h1m23 0h1m12 0h3m14 0h1m6 0h1m6 0h1m5 0h2m26 0h6m7 0h4m1 0h1m8 0h3m5 0h3m-485 1h1m2 0h1m36 0h5m20 0h1m7 0h1m16 0h2m2 0h2m4 0h2m3 0h1m1 0h1m2 0h1m9 0h2m4 0h2m21 0h1m14 0h3m2 0h1m5 0h3m8 0h1m11 0h1m27 0h1m6 0h2m9 0h1m7 0h1m3 0h3m12 0h1m9 0h1m32 0h3m18 0h1m2 0h1m2 0h1m26 0h3m12 0h1m26 0h1m7 0h4m10 0h1m14 0h3m6 0h2m1 0h3m6 0h2m4 0h1m8 0h1m-482 1h3m23 0h1m2 0h2m2 0h1m6 0h1m1 0h1m15 0h1m12 0h1m16 0h1m14 0h2m13 0h1m1 0h1m3 0h1m17 0h2m2 0h3m1 0h1m6 0h1m3 0h1m1 0h1m9 0h3m7 0h3m2 0h1m6 0h3m36 0h1m10 0h1m3 0h3m3 0h4m10 0h1m3 0h1m15 0h1m17 0h1m4 0h3m23 0h3m6 0h1m12 0h1m6 0h1m39 0h3m1 0h1m5 0h2m10 0h3m12 0h4m6 0h2m2 0h1m12 0h1m-471 1h1m23 0h2m2 0h1m2 0h4m4 0h4m10 0h1m2 0h3m18 0h1m63 0h1m4 0h1m2 0h2m4 0h3m2 0h2m11 0h1m9 0h1m3 0h1m7 0h1m32 0h1m3 0h3m14 0h1m5 0h3m9 0h3m1 0h3m13 0h3m15 0h3m1 0h1m2 0h3m23 0h1m19 0h3m6 0h1m20 0h1m18 0h1m1 0h3m17 0h1m2 0h2m1 0h1m4 0h1m2 0h4m3 0h1m2 0h2m16 0h1m8 0h1m-457 1h1m7 0h4m2 0h3m11 0h1m4 0h3m1 0h2m9 0h2m4 0h1m8 0h1m9 0h1m18 0h1m10 0h2m5 0h1m5 0h1m9 0h2m4 0h1m3 0h1m25 0h1m9 0h1m30 0h3m1 0h3m21 0h3m10 0h1m3 0h1m15 0h1m1 0h1m15 0h1m1 0h3m2 0h1m31 0h1m12 0h2m6 0h3m16 0h1m1 0h3m11 0h1m8 0h1m21 0h3m4 0h2m1 0h3m4 0h3m2 0h1m16 0h1m2 0h1m4 0h4m-465 1h1m4 0h3m1 0h2m5 0h1m4 0h1m6 0h1m6 0h1m4 0h1m1 0h4m9 0h1m5 0h1m1 0h1m1 0h1m1 0h4m2 0h1m12 0h2m3 0h1m6 0h2m20 0h2m10 0h3m8 0h1m24 0h2m21 0h1m9 0h1m8 0h1m1 0h4m16 0h1m3 0h5m30 0h3m17 0h3m8 0h1m23 0h3m3 0h1m6 0h3m4 0h1m2 0h1m1 0h1m4 0h1m9 0h3m1 0h1m11 0h3m7 0h1m20 0h1m2 0h1m3 0h2m3 0h1m6 0h1m7 0h1m12 0h1m3 0h1m3 0h5m-467 1h3m4 0h1m2 0h1m6 0h1m13 0h1m4 0h3m3 0h1m2 0h2m16 0h5m1 0h2m1 0h2m14 0h1m6 0h1m3 0h1m4 0h1m13 0h1m2 0h3m10 0h1m22 0h1m11 0h3m21 0h1m5 0h1m3 0h1m10 0h2m9 0h1m9 0h1m2 0h1m1 0h1m4 0h1m27 0h1m19 0h1m8 0h3m23 0h1m3 0h3m6 0h1m9 0h3m2 0h3m9 0h1m14 0h2m6 0h4m17 0h2m2 0h1m3 0h4m1 0h3m2 0h1m1 0h1m6 0h1m9 0h1m1 0h1m1 0h2m2 0h3m3 0h1m1 0h2m-468 1h3m14 0h1m20 0h1m8 0h2m15 0h4m6 0h1m2 0h3m8 0h3m2 0h1m1 0h2m3 0h2m3 0h2m11 0h3m3 0h3m3 0h1m7 0h1m14 0h1m14 0h1m2 0h1m14 0h1m2 0h1m15 0h1m20 0h1m8 0h3m12 0h1m7 0h1m13 0h1m1 0h1m29 0h1m8 0h1m20 0h1m18 0h1m4 0h1m22 0h1m1 0h3m1 0h1m3 0h4m15 0h1m3 0h1m1 0h3m3 0h4m1 0h1m8 0h1m2 0h3m2 0h1m4 0h5m5 0h1m-459 1h1m14 0h1m1 0h1m15 0h1m11 0h4m15 0h2m1 0h1m1 0h1m6 0h5m1 0h1m5 0h2m10 0h2m4 0h2m10 0h1m5 0h1m1 0h1m1 0h3m22 0h1m24 0h1m4 0h7m12 0h2m14 0h1m5 0h3m8 0h1m1 0h1m10 0h3m5 0h3m11 0h5m18 0h1m8 0h3m6 0h3m8 0h1m4 0h1m15 0h1m23 0h1m11 0h3m1 0h1m1 0h3m3 0h1m9 0h1m12 0h1m1 0h1m3 0h2m2 0h2m1 0h1m2 0h1m1 0h1m1 0h3m2 0h1m2 0h3m4 0h1m1 0h1m4 0h3m-445 1h3m9 0h1m6 0h1m12 0h3m3 0h1m1 0h3m12 0h1m8 0h2m3 0h1m5 0h3m3 0h1m5 0h2m3 0h1m20 0h1m1 0h1m1 0h1m14 0h1m3 0h1m1 0h1m14 0h1m14 0h4m2 0h4m9 0h3m21 0h1m5 0h2m3 0h3m10 0h1m5 0h3m13 0h1m1 0h1m12 0h1m5 0h3m2 0h1m1 0h1m3 0h1m8 0h1m8 0h3m2 0h3m13 0h3m3 0h1m3 0h1m3 0h1m9 0h3m10 0h3m4 0h1m2 0h1m1 0h1m4 0h1m3 0h3m6 0h1m10 0h1m3 0h1m1 0h2m3 0h1m3 0h2m1 0h1m4 0h1m12 0h4m-474 1h1m28 0h1m9 0h3m11 0h1m1 0h1m5 0h1m3 0h4m1 0h1m13 0h1m7 0h1m9 0h1m1 0h2m3 0h2m3 0h4m1 0h2m9 0h1m1 0h1m17 0h1m13 0h2m13 0h1m11 0h1m5 0h1m6 0h1m11 0h1m10 0h1m17 0h3m3 0h2m3 0h1m7 0h1m5 0h1m28 0h3m5 0h1m2 0h5m21 0h1m4 0h1m11 0h1m3 0h1m3 0h3m1 0h3m1 0h3m9 0h1m12 0h1m7 0h5m2 0h3m3 0h1m17 0h3m1 0h4m3 0h1m4 0h5m11 0h1m6 0h1" stroke="#404040" stroke-width="1"/>
<path d="M89 395.5h2m-3 1h6m2 0h2m-10 1h2m1 0h1m1 0h9m-14 1h1m5 0h2m1 0h3m1 0h5m-15 1h1m1 0h2m3 0h1m3 0h4m1 0h1m1 0h1m3 0h1m-23 1h1m2 0h2m1 0h3m1 0h4m5 0h5m-20 1h11m3 0h10m-23 1h11m1 0h10m1 0h4m-25 1h19m3 0h1m1 0h1m1 0h2m-27 1h19m7 0h4m-29 1h18m4 0h1m2 0h3m1 0h3m-31 1h2m1 0h15m7 0h1m3 0h5m-30 1h16m1 0h2m2 0h2m1 0h8m-33 1h20m3 0h7m1 0h6m-37 1h21m1 0h1m1 0h5m3 0h8m2 0h1m-41 1h20m3 0h5m1 0h8m1 0h4m-41 1h20m1 0h14m4 0h4m-43 1h1m1 0h13m1 0h13m1 0h4m7 0h4m-42 1h11m3 0h11m3 0h4m1 0h2m4 0h5m1 0h1m-46 1h12m1 0h13m1 0h10m1 0h3m2 0h1m1 0h2m-46 1h39m6 0h4m-49 1h19m1 0h20m2 0h1m1 0h1m1 0h6m-50 1h7m1 0h8m3 0h4m1 0h18m3 0h1m1 0h5m-51 1h5m3 0h8m1 0h4m3 0h18m1 0h1m3 0h3m4 0h1m-56 1h2m1 0h4m1 0h13m3 0h22m1 0h5m1 0h1m1 0h4m5 0h1m-66 1h2m3 0h13m1 0h4m1 0h22m1 0h7m3 0h4m3 0h3m-66 1h2m1 0h13m3 0h14m1 0h10m3 0h5m3 0h2m1 0h2m4 0h1m-64 1h16m1 0h14m3 0h10m1 0h3m1 0h3m1 0h1m4 0h5m-62 1h22m1 0h8m1 0h14m3 0h3m4 0h9m2 0h1m-68 1h21m3 0h22m2 0h5m3 0h4m1 0h8m-68 1h21m1 0h22m3 0h6m1 0h4m3 0h1m1 0h6m-69 1h5m1 0h39m1 0h11m3 0h1m3 0h6m-69 1h3m3 0h30m1 0h19m3 0h2m1 0h4m1 0h5m-71 1h3m1 0h9m1 0h20m3 0h19m1 0h7m3 0h7m-73 1h4m1 0h6m3 0h20m1 0h29m1 0h2m2 0h6m-74 1h2m3 0h6m1 0h53m4 0h6m2 0h1m-78 1h3m1 0h14m1 0h20m1 0h24m4 0h11m-78 1h16m3 0h4m1 0h13m3 0h19m1 0h1m1 0h2m1 0h1m1 0h4m1 0h2m1 0h3m-77 1h16m1 0h4m3 0h13m1 0h19m5 0h2m12 0h2m-77 1h21m1 0h9m1 0h4m1 0h3m1 0h8m1 0h1m1 0h5m1 0h1m1 0h4m6 0h2m11 0h1m-85 1h31m3 0h2m3 0h1m3 0h4m1 0h1m5 0h13m3 0h5m4 0h4m1 0h2m1 0h1m-87 1h28m1 0h2m1 0h4m1 0h3m1 0h4m3 0h1m1 0h1m1 0h23m1 0h2m1 0h2m3 0h4m-86 1h25m3 0h16m1 0h25m1 0h4m3 0h2m1 0h4m-86 1h27m1 0h35m1 0h6m3 0h2m1 0h1m1 0h5m1 0h3m-86 1h61m3 0h6m1 0h2m3 0h5m3 0h5m1 0h2m-91 1h1m1 0h59m1 0h6m3 0h2m3 0h4m2 0h2m1 0h7m1 0h1m-91 1h21m1 0h36m1 0h7m1 0h4m1 0h4m3 0h1m3 0h9m-92 1h20m3 0h34m3 0h16m2 0h3m1 0h4m1 0h6m-93 1h19m3 0h4m1 0h28m1 0h2m1 0h16m3 0h7m3 0h3m1 0h4m-95 1h19m1 0h4m3 0h26m3 0h19m1 0h9m1 0h2m4 0h4m1 0h1m-98 1h25m1 0h28m1 0h32m4 0h8m-99 1h83m1 0h4m1 0h10m5 0h1m-106 1h3m1 0h7m1 0h71m3 0h16m2 0h4m-107 1h1m3 0h5m3 0h16m1 0h53m2 0h12m1 0h6m1 0h4m26 0h1m-131 1h6m1 0h13m1 0h51m1 0h4m3 0h11m3 0h9m1 0h1m24 0h3m-135 1h1m1 0h20m3 0h2m1 0h44m1 0h1m3 0h4m1 0h12m2 0h13m24 0h1m-133 1h22m1 0h15m1 0h4m1 0h16m1 0h1m1 0h7m3 0h1m1 0h17m3 0h14m7 0h1m-116 1h36m3 0h2m3 0h14m3 0h9m1 0h21m1 0h16m5 0h3m-117 1h22m1 0h1m1 0h12m1 0h4m1 0h16m1 0h9m3 0h14m1 0h21m1 0h1m5 0h1m3 0h1m-120 1h1m1 0h2m1 0h2m1 0h13m5 0h44m3 0h12m3 0h25m1 0h3m1 0h3m-112 1h12m4 0h46m1 0h14m1 0h27m1 0h3m1 0h1m1 0h1m-120 1h2m1 0h2m1 0h14m1 0h77m1 0h10m1 0h4m1 0h6m1 0h2m4 0h1m-129 1h1m3 0h40m1 0h52m3 0h8m3 0h2m3 0h9m2 0h3m-131 1h3m1 0h3m1 0h36m3 0h21m1 0h14m1 0h15m1 0h2m1 0h7m1 0h2m1 0h1m2 0h4m2 0h2m4 0h1m-129 1h1m1 0h2m4 0h36m1 0h18m1 0h2m3 0h12m3 0h16m3 0h8m6 0h3m4 0h1m1 0h1m-120 1h55m3 0h2m1 0h9m1 0h4m1 0h18m1 0h10m5 0h4m1 0h6m-125 1h1m1 0h46m1 0h11m1 0h5m1 0h6m3 0h9m1 0h14m1 0h9m3 0h1m1 0h4m1 0h4m-123 1h46m3 0h15m3 0h6m1 0h9m3 0h12m4 0h6m3 0h1m3 0h2m3 0h5m1 0h1m2 0h1m-130 1h3m1 0h2m1 0h40m1 0h17m1 0h18m1 0h14m4 0h6m1 0h3m1 0h4m1 0h12m-131 1h2m6 0h14m1 0h16m1 0h61m1 0h23m1 0h4m1 0h1m15 0h1m-149 1h4m1 0h2m3 0h12m3 0h5m1 0h8m3 0h9m1 0h52m1 0h11m1 0h1m1 0h5m1 0h9m11 0h1m1 0h3m16 0h1m-167 1h2m1 0h2m1 0h2m1 0h14m1 0h5m3 0h8m1 0h9m3 0h12m1 0h27m1 0h9m3 0h9m5 0h3m3 0h9m5 0h1m3 0h3m1 0h1m16 0h3m-169 1h3m1 0h1m3 0h23m2 0h6m1 0h12m1 0h10m1 0h1m3 0h25m3 0h1m1 0h7m1 0h11m4 0h2m1 0h1m1 0h3m1 0h7m4 0h2m3 0h1m20 0h1m-167 1h1m1 0h3m1 0h24m3 0h28m3 0h1m1 0h26m2 0h1m3 0h20m1 0h2m3 0h3m3 0h8m1 0h4m25 0h1m-166 1h4m1 0h23m1 0h30m1 0h28m3 0h2m1 0h9m1 0h15m1 0h5m1 0h11m1 0h1m1 0h3m21 0h3m-167 1h3m4 0h10m1 0h15m1 0h55m1 0h12m3 0h19m3 0h17m6 0h1m1 0h1m12 0h1m-166 1h4m4 0h8m3 0h6m1 0h6m3 0h68m1 0h21m1 0h8m1 0h8m6 0h3m-151 1h3m3 0h2m1 0h7m1 0h6m3 0h6m1 0h99m3 0h1m1 0h5m5 0h5m19 0h1m-171 1h3m1 0h2m3 0h14m1 0h14m1 0h10m1 0h27m1 0h20m1 0h32m2 0h1m3 0h5m5 0h5m17 0h3m-172 1h2m4 0h1m1 0h6m1 0h22m3 0h8m3 0h25m3 0h18m3 0h30m3 0h2m1 0h3m1 0h2m1 0h1m2 0h6m2 0h1m5 0h1m9 0h1m34 0h1m-206 1h3m4 0h3m1 0h2m3 0h22m3 0h7m3 0h26m1 0h10m1 0h9m1 0h3m1 0h28m1 0h6m3 0h11m1 0h3m3 0h5m40 0h3m-208 1h3m1 0h2m1 0h3m3 0h2m1 0h24m1 0h6m1 0h2m1 0h37m3 0h49m1 0h1m1 0h15m1 0h7m40 0h1m-206 1h1m2 0h1m1 0h2m1 0h2m1 0h1m1 0h32m3 0h40m1 0h11m1 0h6m1 0h32m3 0h14m1 0h3m1 0h2m-162 1h9m3 0h32m1 0h18m1 0h8m1 0h24m3 0h3m4 0h11m1 0h1m1 0h15m1 0h2m1 0h18m1 0h1m8 0h1m-168 1h1m1 0h2m1 0h1m1 0h2m1 0h42m1 0h8m3 0h6m3 0h24m1 0h3m4 0h11m5 0h13m3 0h5m1 0h19m4 0h3m6 0h1m26 0h1m-195 1h2m1 0h27m1 0h12m3 0h8m1 0h8m1 0h30m1 0h4m1 0h9m1 0h1m1 0h9m2 0h4m1 0h4m4 0h19m4 0h1m2 0h1m3 0h3m18 0h1m5 0h3m4 0h1m-208 1h1m1 0h1m1 0h1m1 0h2m3 0h25m3 0h10m3 0h53m3 0h19m4 0h1m1 0h5m4 0h5m1 0h5m1 0h8m1 0h2m3 0h3m3 0h1m18 0h3m5 0h1m4 0h3m40 0h1m-251 1h3m3 0h4m1 0h27m1 0h12m1 0h3m1 0h47m1 0h2m2 0h2m1 0h17m3 0h1m3 0h5m1 0h6m3 0h4m1 0h2m1 0h2m1 0h7m2 0h1m11 0h2m11 0h1m12 0h1m40 0h3m52 0h1m6 0h1m36 0h1m64 0h1m-415 1h1m1 0h1m1 0h1m1 0h49m3 0h33m1 0h11m6 0h1m3 0h15m3 0h3m1 0h10m1 0h2m3 0h6m3 0h13m9 0h4m2 0h1m29 0h1m9 0h1m22 0h1m10 0h1m35 0h1m5 0h3m4 0h4m3 0h1m29 0h3m13 0h1m19 0h1m8 0h2m11 0h1m6 0h3m9 0h1m7 0h1m2 0h1m31 0h1m8 0h1m26 0h1m-506 1h3m3 0h2m1 0h2m1 0h9m1 0h35m1 0h33m3 0h11m1 0h2m1 0h3m1 0h8m1 0h6m3 0h14m3 0h2m1 0h8m1 0h15m1 0h2m6 0h2m2 0h3m27 0h3m7 0h3m31 0h3m33 0h3m1 0h1m3 0h1m6 0h4m1 0h3m3 0h1m10 0h1m8 0h1m5 0h1m13 0h3m1 0h1m14 0h4m2 0h1m3 0h4m9 0h3m4 0h1m1 0h1m2 0h1m6 0h5m3 0h6m4 0h1m17 0h1m4 0h1m1 0h3m6 0h3m16 0h1m7 0h3m-506 1h1m1 0h1m1 0h5m3 0h7m3 0h69m1 0h27m3 0h6m1 0h16m1 0h19m1 0h12m5 0h2m3 0h1m6 0h1m6 0h1m3 0h1m9 0h1m1 0h1m9 0h1m1 0h1m9 0h1m6 0h1m14 0h1m10 0h1m2 0h1m8 0h1m6 0h1m5 0h1m1 0h3m6 0h1m4 0h1m3 0h1m3 0h3m5 0h1m2 0h3m6 0h3m8 0h1m8 0h3m1 0h3m10 0h1m1 0h4m2 0h3m2 0h3m11 0h3m2 0h3m2 0h3m6 0h5m3 0h1m1 0h3m1 0h1m1 0h3m15 0h3m2 0h3m1 0h1m8 0h1m16 0h3m7 0h1m13 0h1m-516 1h7m1 0h9m1 0h94m1 0h4m1 0h43m3 0h3m1 0h6m5 0h4m4 0h1m3 0h4m3 0h3m1 0h3m7 0h3m5 0h1m5 0h4m6 0h3m4 0h3m11 0h2m1 0h1m2 0h1m5 0h6m6 0h3m4 0h4m6 0h1m6 0h3m8 0h1m3 0h1m5 0h3m2 0h1m3 0h1m4 0h3m5 0h4m6 0h4m2 0h1m10 0h3m1 0h1m4 0h2m4 0h3m11 0h1m4 0h1m4 0h1m9 0h3m1 0h1m4 0h1m1 0h3m1 0h1m3 0h1m3 0h1m9 0h2m3 0h1m8 0h1m8 0h1m1 0h1m9 0h1m-492 1h1m1 0h3m3 0h102m3 0h32m1 0h15m1 0h12m1 0h1m1 0h1m1 0h2m3 0h5m2 0h4m3 0h1m3 0h1m5 0h1m3 0h1m5 0h3m5 0h4m6 0h1m6 0h3m5 0h1m3 0h9m5 0h1m2 0h1m8 0h1m6 0h4m13 0h3m6 0h3m9 0h1m6 0h3m4 0h2m2 0h1m1 0h5m7 0h2m2 0h3m4 0h1m5 0h1m6 0h3m4 0h2m7 0h1m4 0h1m10 0h1m9 0h5m6 0h1m2 0h1m2 0h3m1 0h3m1 0h1m1 0h1m2 0h1m1 0h3m4 0h1m1 0h1m3 0h3m6 0h5m-484 1h1m3 0h3m1 0h3m1 0h10m1 0h19m1 0h66m1 0h2m1 0h32m3 0h23m1 0h11m1 0h7m3 0h4m1 0h1m1 0h1m6 0h3m9 0h1m8 0h1m8 0h1m6 0h1m5 0h3m3 0h2m1 0h1m2 0h1m3 0h2m14 0h1m2 0h1m4 0h1m1 0h1m10 0h1m2 0h1m8 0h3m16 0h1m5 0h6m1 0h5m11 0h1m1 0h1m2 0h3m12 0h1m4 0h3m4 0h1m1 0h3m2 0h3m5 0h1m2 0h3m1 0h1m1 0h1m3 0h1m1 0h1m1 0h1m5 0h1m3 0h3m2 0h1m2 0h2m1 0h8m1 0h1m4 0h5m3 0h1m1 0h1m6 0h1m1 0h1m9 0h1m-494 1h3m2 0h6m3 0h8m3 0h17m4 0h8m1 0h54m3 0h35m1 0h23m3 0h9m3 0h1m3 0h1m3 0h11m5 0h1m7 0h1m19 0h3m3 0h3m6 0h1m13 0h4m12 0h6m4 0h3m8 0h3m9 0h3m15 0h1m8 0h1m2 0h1m3 0h3m5 0h1m7 0h3m2 0h1m3 0h1m12 0h1m2 0h1m4 0h3m1 0h1m3 0h3m4 0h3m2 0h1m1 0h5m1 0h3m7 0h4m1 0h2m5 0h4m1 0h1m1 0h1m2 0h1m1 0h3m3 0h2m1 0h1m5 0h3m16 0h3m8 0h1m-505 1h3m2 0h8m1 0h1m1 0h8m1 0h19m4 0h6m3 0h25m1 0h6m1 0h21m1 0h61m3 0h7m2 0h2m5 0h1m3 0h11m11 0h3m8 0h1m10 0h3m1 0h5m11 0h1m8 0h3m10 0h1m2 0h1m2 0h1m3 0h1m2 0h1m7 0h2m1 0h1m3 0h1m3 0h1m3 0h3m10 0h1m2 0h3m2 0h1m1 0h1m10 0h1m1 0h1m3 0h3m7 0h1m6 0h3m6 0h1m2 0h4m7 0h2m6 0h3m4 0h1m4 0h3m1 0h1m2 0h4m6 0h8m5 0h2m6 0h3m1 0h1m3 0h3m8 0h1m18 0h1m2 0h1m5 0h3m-505 1h1m4 0h4m1 0h3m3 0h29m1 0h4m1 0h2m2 0h7m1 0h10m1 0h6m3 0h4m3 0h10m1 0h40m1 0h28m1 0h2m1 0h8m3 0h4m1 0h3m2 0h4m1 0h5m6 0h1m6 0h1m8 0h3m2 0h1m7 0h1m1 0h1m1 0h3m9 0h1m1 0h3m8 0h1m3 0h1m6 0h3m3 0h3m1 0h4m7 0h4m3 0h3m1 0h3m3 0h1m10 0h3m2 0h1m2 0h5m1 0h1m8 0h3m3 0h1m7 0h3m6 0h1m6 0h7m1 0h1m3 0h1m1 0h4m6 0h1m4 0h3m4 0h1m4 0h4m1 0h1m4 0h3m1 0h1m1 0h2m15 0h1m1 0h1m5 0h1m30 0h3m3 0h3m-499 1h9m1 0h34m6 0h6m3 0h8m3 0h6m1 0h6m1 0h10m3 0h6m1 0h31m3 0h21m1 0h4m3 0h11m1 0h8m2 0h10m6 0h3m5 0h1m9 0h1m2 0h3m3 0h1m3 0h3m11 0h3m1 0h1m8 0h1m2 0h4m6 0h2m4 0h1m3 0h4m2 0h1m3 0h3m5 0h1m1 0h3m16 0h1m2 0h3m2 0h1m1 0h1m1 0h3m8 0h1m4 0h1m1 0h1m6 0h1m1 0h1m4 0h3m3 0h5m1 0h1m2 0h3m1 0h6m13 0h1m8 0h2m1 0h1m2 0h3m4 0h1m22 0h3m36 0h1m5 0h1m-499 1h29m1 0h16m1 0h2m1 0h8m1 0h10m1 0h7m1 0h18m1 0h6m4 0h12m1 0h6m1 0h10m1 0h21m3 0h4m1 0h22m2 0h4m2 0h2m1 0h1m6 0h1m5 0h3m2 0h1m2 0h1m3 0h1m2 0h1m3 0h3m3 0h1m6 0h1m6 0h1m10 0h7m6 0h4m4 0h1m3 0h2m2 0h8m8 0h1m8 0h2m3 0h1m7 0h1m8 0h1m2 0h1m5 0h3m2 0h5m4 0h1m1 0h3m4 0h1m1 0h1m1 0h5m6 0h1m3 0h1m1 0h1m23 0h4m4 0h1m2 0h1m2 0h1m5 0h1m15 0h3m16 0h1m37 0h1m-509 1h27m3 0h45m3 0h25m4 0h10m3 0h4m3 0h32m1 0h8m1 0h9m1 0h3m1 0h4m1 0h1m2 0h2m4 0h4m6 0h1m1 0h1m3 0h1m1 0h6m2 0h3m6 0h1m10 0h4m2 0h1m11 0h1m1 0h1m2 0h1m1 0h1m4 0h5m4 0h3m1 0h3m3 0h6m7 0h1m9 0h4m1 0h3m17 0h3m5 0h1m4 0h4m3 0h3m1 0h1m1 0h1m4 0h3m1 0h2m3 0h1m18 0h1m16 0h2m5 0h1m1 0h6m2 0h4m14 0h3m11 0h1m3 0h3m35 0h3m-513 1h1m2 0h10m1 0h17m1 0h34m1 0h12m1 0h28m1 0h12m1 0h1m1 0h4m1 0h27m1 0h6m1 0h6m3 0h13m1 0h1m1 0h7m3 0h4m2 0h1m2 0h6m3 0h4m6 0h1m13 0h1m1 0h1m3 0h7m5 0h1m3 0h3m4 0h3m2 0h4m7 0h1m3 0h1m6 0h3m7 0h3m9 0h2m3 0h1m11 0h1m6 0h2m9 0h1m2 0h4m2 0h4m1 0h3m4 0h1m6 0h4m3 0h1m11 0h4m20 0h9m1 0h5m7 0h1m7 0h1m6 0h1m4 0h3m3 0h1m11 0h1m18 0h1m6 0h1m-513 1h3m1 0h1m1 0h1m1 0h5m3 0h5m1 0h44m3 0h27m1 0h5m1 0h20m3 0h22m1 0h7m3 0h4m3 0h2m1 0h3m1 0h2m1 0h11m2 0h4m1 0h4m1 0h5m1 0h10m4 0h3m1 0h1m3 0h1m13 0h5m4 0h1m2 0h1m5 0h3m3 0h1m3 0h1m2 0h1m4 0h4m18 0h3m7 0h1m2 0h1m15 0h1m7 0h3m4 0h3m8 0h3m1 0h1m1 0h1m2 0h4m3 0h1m5 0h1m7 0h4m1 0h3m1 0h2m6 0h6m2 0h1m1 0h1m4 0h1m2 0h1m7 0h1m2 0h1m1 0h3m2 0h1m1 0h1m7 0h3m12 0h3m1 0h1m2 0h1m13 0h1m1 0h3m6 0h1m9 0h3m-506 1h1m5 0h7m1 0h4m4 0h22m1 0h21m1 0h27m3 0h3m3 0h15m1 0h4m1 0h2m1 0h19m4 0h1m1 0h3m3 0h5m1 0h2m3 0h13m1 0h3m3 0h11m1 0h15m1 0h7m1 0h1m1 0h1m12 0h4m8 0h1m6 0h1m7 0h3m1 0h1m6 0h1m18 0h1m1 0h1m10 0h3m13 0h3m7 0h1m6 0h1m6 0h1m1 0h1m1 0h1m1 0h3m4 0h4m7 0h3m3 0h1m1 0h6m1 0h1m1 0h4m6 0h2m1 0h1m2 0h5m2 0h6m12 0h1m3 0h1m10 0h1m14 0h1m1 0h3m14 0h3m1 0h1m3 0h1m2 0h3m1 0h1m6 0h3m-501 1h1m1 0h10m4 0h16m1 0h5m3 0h49m1 0h5m1 0h15m3 0h5m3 0h19m6 0h3m1 0h6m1 0h3m1 0h2m2 0h15m1 0h12m2 0h9m1 0h5m1 0h1m1 0h1m1 0h2m13 0h1m3 0h2m8 0h3m14 0h1m1 0h3m8 0h1m14 0h3m6 0h1m5 0h1m15 0h1m1 0h1m19 0h5m3 0h1m2 0h1m1 0h4m9 0h1m3 0h3m1 0h2m1 0h1m3 0h4m5 0h1m1 0h6m1 0h1m1 0h1m4 0h1m2 0h1m5 0h1m1 0h1m8 0h3m1 0h1m13 0h1m2 0h1m8 0h3m4 0h1m9 0h1m1 0h3m1 0h3m1 0h7m5 0h3m-507 1h1m3 0h14m3 0h15m3 0h5m1 0h15m1 0h26m1 0h6m3 0h21m1 0h7m1 0h21m2 0h1m1 0h8m1 0h1m3 0h1m7 0h8m1 0h2m1 0h4m1 0h9m1 0h10m1 0h4m1 0h1m2 0h6m8 0h1m2 0h3m2 0h2m4 0h1m4 0h1m1 0h1m10 0h1m1 0h3m1 0h1m9 0h2m8 0h1m5 0h1m6 0h3m9 0h1m5 0h1m3 0h5m5 0h1m7 0h2m1 0h1m2 0h1m1 0h1m6 0h6m15 0h8m1 0h4m2 0h1m1 0h12m1 0h1m3 0h7m2 0h5m5 0h1m2 0h1m1 0h3m7 0h2m2 0h6m4 0h1m1 0h3m4 0h3m11 0h1m3 0h1m2 0h8m5 0h1m-507 1h3m2 0h4m1 0h6m1 0h3m3 0h13m1 0h1m1 0h9m1 0h11m3 0h16m1 0h1m1 0h5m3 0h6m3 0h61m3 0h1m1 0h2m2 0h1m3 0h3m1 0h3m7 0h19m2 0h2m1 0h4m3 0h1m2 0h1m3 0h1m3 0h2m2 0h10m4 0h3m4 0h3m8 0h3m1 0h1m4 0h1m7 0h1m8 0h3m6 0h1m5 0h1m9 0h3m3 0h3m3 0h1m1 0h3m3 0h3m3 0h1m1 0h6m10 0h4m7 0h1m10 0h1m2 0h1m1 0h1m1 0h4m2 0h18m3 0h2m1 0h4m2 0h3m1 0h2m2 0h3m3 0h4m5 0h4m2 0h1m2 0h1m4 0h6m5 0h1m15 0h1m4 0h1m1 0h1m2 0h1m-499 1h1m4 0h9m3 0h3m1 0h4m1 0h5m1 0h2m3 0h9m3 0h7m2 0h2m1 0h15m6 0h5m1 0h8m1 0h7m1 0h1m1 0h11m1 0h17m2 0h9m1 0h11m3 0h1m8 0h3m3 0h1m4 0h2m1 0h9m2 0h8m3 0h4m2 0h2m1 0h2m3 0h1m3 0h3m3 0h3m2 0h1m1 0h1m2 0h2m4 0h1m1 0h1m13 0h1m1 0h1m6 0h1m18 0h1m6 0h3m15 0h1m5 0h1m7 0h1m4 0h1m5 0h2m1 0h5m11 0h2m6 0h5m6 0h1m9 0h1m5 0h1m1 0h1m3 0h1m2 0h1m3 0h4m3 0h3m2 0h2m3 0h1m1 0h4m2 0h1m5 0h2m8 0h1m12 0h4m1 0h1m2 0h1m7 0h1m8 0h3m13 0h1m-502 1h1m3 0h9m2 0h7m3 0h3m3 0h2m1 0h9m1 0h1m1 0h7m4 0h16m4 0h1m1 0h7m1 0h8m1 0h5m5 0h9m3 0h4m1 0h9m5 0h7m3 0h11m1 0h1m5 0h2m1 0h3m4 0h2m2 0h12m4 0h5m2 0h1m3 0h2m11 0h2m1 0h3m5 0h8m1 0h2m6 0h2m9 0h5m3 0h1m3 0h1m5 0h2m11 0h1m5 0h3m1 0h1m4 0h1m7 0h1m6 0h1m12 0h1m6 0h1m2 0h2m1 0h4m2 0h1m1 0h1m4 0h1m5 0h8m2 0h1m1 0h3m18 0h5m6 0h1m5 0h1m3 0h3m3 0h4m8 0h1m1 0h1m3 0h1m17 0h3m1 0h6m5 0h3m8 0h1m9 0h1m3 0h3m-504 1h3m2 0h5m1 0h3m3 0h2m1 0h4m1 0h5m1 0h12m3 0h9m2 0h12m1 0h5m1 0h10m3 0h6m3 0h5m1 0h1m1 0h11m1 0h4m3 0h7m5 0h9m1 0h4m1 0h10m3 0h1m1 0h4m1 0h1m2 0h2m1 0h15m2 0h3m1 0h6m1 0h4m2 0h2m7 0h5m5 0h9m16 0h1m3 0h3m1 0h1m1 0h2m2 0h1m5 0h2m5 0h1m4 0h3m6 0h1m1 0h3m2 0h3m5 0h3m1 0h1m2 0h3m10 0h3m4 0h2m1 0h1m4 0h5m3 0h1m2 0h1m6 0h3m2 0h1m3 0h9m2 0h1m1 0h1m9 0h4m1 0h2m5 0h1m8 0h1m1 0h1m6 0h1m9 0h3m4 0h1m3 0h1m9 0h1m3 0h1m3 0h1m2 0h1m7 0h2m17 0h3m3 0h1m-502 1h1m4 0h2m4 0h1m1 0h1m1 0h2m3 0h3m1 0h19m1 0h23m3 0h16m1 0h7m4 0h5m1 0h17m2 0h1m1 0h7m1 0h11m1 0h4m3 0h10m5 0h2m3 0h1m1 0h1m4 0h10m1 0h2m1 0h3m3 0h5m1 0h3m4 0h3m1 0h1m2 0h6m5 0h8m5 0h3m1 0h1m10 0h3m2 0h3m4 0h1m1 0h1m3 0h1m5 0h2m2 0h5m1 0h1m6 0h1m3 0h2m6 0h1m3 0h2m1 0h1m1 0h2m3 0h2m3 0h5m1 0h1m1 0h5m5 0h3m2 0h1m1 0h1m1 0h1m2 0h2m1 0h4m7 0h1m2 0h11m2 0h2m1 0h1m3 0h2m5 0h1m2 0h6m5 0h1m1 0h1m1 0h1m12 0h4m5 0h1m1 0h3m6 0h3m3 0h5m4 0h1m5 0h3m17 0h1m-492 1h2m7 0h4m1 0h3m3 0h17m3 0h10m1 0h12m1 0h7m1 0h18m4 0h3m3 0h15m6 0h3m1 0h13m3 0h4m1 0h12m1 0h1m1 0h4m1 0h1m3 0h1m4 0h8m6 0h3m3 0h1m1 0h2m2 0h1m4 0h1m1 0h1m1 0h11m1 0h3m1 0h2m1 0h2m1 0h1m3 0h7m1 0h2m4 0h1m1 0h3m4 0h1m4 0h1m1 0h2m10 0h1m1 0h2m1 0h4m3 0h2m1 0h2m3 0h2m1 0h1m1 0h3m5 0h2m3 0h2m1 0h5m2 0h11m1 0h1m1 0h2m8 0h2m3 0h8m1 0h1m5 0h1m2 0h9m2 0h7m1 0h1m1 0h1m1 0h1m3 0h1m2 0h1m2 0h1m1 0h2m2 0h3m3 0h2m5 0h2m4 0h1m6 0h3m1 0h3m3 0h4m5 0h4m2 0h4m2 0h1m2 0h1m15 0h1m11 0h1m6 0h1m-509 1h3m3 0h2m1 0h1m1 0h2m1 0h5m2 0h18m1 0h2m1 0h4m1 0h2m3 0h2m1 0h15m3 0h19m1 0h5m1 0h17m4 0h3m3 0h11m1 0h1m2 0h4m1 0h22m1 0h4m3 0h8m1 0h2m1 0h3m3 0h3m4 0h2m1 0h2m3 0h2m1 0h13m6 0h10m4 0h1m2 0h6m1 0h1m2 0h3m1 0h2m3 0h1m2 0h2m3 0h1m3 0h2m4 0h3m3 0h2m6 0h1m1 0h6m1 0h1m2 0h3m2 0h7m3 0h6m1 0h9m9 0h2m2 0h10m4 0h1m4 0h1m1 0h5m1 0h1m1 0h12m3 0h4m6 0h5m3 0h4m4 0h7m1 0h1m4 0h4m1 0h1m4 0h3m2 0h1m3 0h3m1 0h4m3 0h1m18 0h1m1 0h1m9 0h4m1 0h1m1 0h1m-508 1h3m2 0h7m4 0h3m3 0h16m6 0h2m3 0h2m1 0h2m3 0h10m1 0h4m1 0h41m1 0h2m4 0h4m1 0h11m6 0h2m3 0h22m1 0h4m1 0h6m1 0h10m1 0h3m4 0h7m1 0h2m3 0h6m1 0h6m1 0h1m4 0h3m1 0h7m1 0h1m4 0h4m3 0h4m6 0h2m3 0h1m3 0h2m1 0h4m4 0h3m1 0h2m6 0h1m3 0h1m2 0h5m3 0h3m1 0h1m1 0h3m3 0h1m2 0h2m3 0h8m1 0h1m1 0h1m2 0h2m3 0h1m2 0h1m1 0h3m1 0h3m8 0h1m1 0h2m1 0h12m3 0h3m5 0h3m3 0h1m1 0h3m1 0h3m1 0h6m3 0h6m3 0h2m1 0h4m3 0h1m2 0h8m1 0h8m10 0h1m4 0h4m5 0h1m1 0h1m1 0h2m5 0h3m1 0h1m1 0h1m-508 1h5m2 0h7m4 0h1m3 0h18m1 0h2m1 0h4m1 0h7m1 0h10m3 0h35m1 0h8m3 0h2m2 0h18m1 0h2m1 0h4m1 0h16m1 0h5m3 0h9m3 0h13m3 0h7m1 0h3m2 0h3m1 0h9m3 0h2m1 0h2m4 0h2m1 0h6m2 0h2m2 0h2m1 0h6m4 0h4m1 0h1m1 0h1m1 0h2m2 0h2m2 0h1m3 0h2m3 0h2m1 0h1m1 0h2m3 0h2m2 0h6m3 0h3m3 0h3m10 0h3m1 0h3m3 0h2m4 0h3m1 0h2m3 0h1m4 0h2m3 0h2m1 0h1m3 0h13m5 0h3m1 0h2m1 0h1m5 0h4m3 0h2m1 0h10m1 0h5m1 0h1m2 0h6m1 0h1m2 0h9m1 0h2m1 0h1m1 0h4m1 0h3m5 0h2m1 0h8m6 0h4m1 0h1m2 0h2m-502 1h4m2 0h9m1 0h3m1 0h47m1 0h35m3 0h8m1 0h47m3 0h5m1 0h4m1 0h5m3 0h4m1 0h7m3 0h7m3 0h1m3 0h2m3 0h6m1 0h2m1 0h3m1 0h1m4 0h2m3 0h2m1 0h6m3 0h3m1 0h6m1 0h5m4 0h2m7 0h1m4 0h1m3 0h2m1 0h5m3 0h10m1 0h5m2 0h3m5 0h2m3 0h6m1 0h1m2 0h3m4 0h1m1 0h4m1 0h1m1 0h1m1 0h9m1 0h2m1 0h12m1 0h3m2 0h6m1 0h1m6 0h1m1 0h1m8 0h2m1 0h5m3 0h2m1 0h2m3 0h3m1 0h3m3 0h2m1 0h5m4 0h12m1 0h1m1 0h13m2 0h1m1 0h12m3 0h1m-506 1h3m3 0h7m1 0h1m1 0h4m1 0h45m1 0h36m1 0h21m1 0h4m1 0h3m1 0h23m1 0h3m1 0h2m1 0h7m4 0h2m3 0h2m1 0h1m3 0h7m1 0h5m1 0h3m1 0h3m1 0h4m1 0h1m1 0h4m3 0h4m5 0h1m1 0h3m6 0h3m1 0h1m2 0h16m4 0h2m7 0h1m4 0h3m1 0h2m3 0h4m2 0h5m1 0h1m1 0h2m2 0h1m1 0h3m7 0h5m3 0h3m8 0h4m1 0h1m3 0h25m2 0h5m3 0h2m3 0h6m1 0h1m8 0h1m4 0h1m1 0h2m3 0h5m1 0h2m3 0h2m1 0h3m3 0h3m1 0h2m3 0h4m3 0h6m1 0h19m1 0h7m1 0h3m1 0h1m2 0h4m1 0h3m-508 1h3m3 0h7m5 0h2m3 0h43m3 0h34m1 0h9m1 0h9m1 0h1m3 0h2m3 0h1m3 0h21m3 0h4m3 0h7m4 0h2m1 0h2m3 0h1m1 0h13m3 0h2m1 0h7m5 0h2m4 0h2m10 0h3m1 0h2m2 0h2m3 0h7m1 0h11m4 0h2m2 0h1m4 0h1m1 0h5m1 0h1m4 0h3m3 0h4m11 0h3m5 0h2m1 0h4m1 0h2m1 0h1m7 0h6m3 0h9m2 0h5m1 0h7m5 0h5m2 0h3m1 0h10m4 0h1m1 0h4m1 0h1m3 0h2m1 0h8m3 0h1m1 0h4m3 0h2m1 0h5m1 0h4m3 0h4m1 0h1m3 0h6m1 0h12m2 0h1m1 0h2m3 0h3m5 0h7m-509 1h3m1 0h1m1 0h8m1 0h1m1 0h4m1 0h2m1 0h32m1 0h9m1 0h34m3 0h7m3 0h4m1 0h2m5 0h2m3 0h3m1 0h8m1 0h14m1 0h6m1 0h6m1 0h2m3 0h6m1 0h1m3 0h11m3 0h1m4 0h4m1 0h2m1 0h1m1 0h3m10 0h1m1 0h2m1 0h2m1 0h3m4 0h2m1 0h2m1 0h4m4 0h7m1 0h1m3 0h8m1 0h7m3 0h1m4 0h3m1 0h4m3 0h1m1 0h2m4 0h6m2 0h2m3 0h2m1 0h2m3 0h1m1 0h3m1 0h1m1 0h4m4 0h8m4 0h3m3 0h1m1 0h3m5 0h5m4 0h4m2 0h2m1 0h5m1 0h11m1 0h13m1 0h1m3 0h2m1 0h1m1 0h2m4 0h7m3 0h4m7 0h2m1 0h1m4 0h3m2 0h6m1 0h1m2 0h2m1 0h5m1 0h1m1 0h1m1 0h5m-507 1h1m1 0h3m1 0h10m1 0h5m3 0h15m1 0h14m3 0h42m1 0h1m1 0h9m1 0h4m4 0h1m1 0h1m7 0h11m3 0h19m3 0h4m3 0h2m1 0h10m1 0h9m1 0h3m1 0h1m6 0h2m3 0h6m3 0h1m1 0h2m1 0h1m3 0h5m3 0h1m4 0h12m6 0h3m6 0h17m1 0h3m2 0h10m2 0h1m1 0h3m3 0h6m3 0h2m1 0h2m3 0h2m1 0h3m1 0h1m1 0h1m3 0h2m5 0h3m1 0h5m2 0h5m1 0h1m5 0h1m2 0h7m3 0h2m9 0h3m3 0h18m2 0h1m1 0h4m3 0h1m3 0h4m4 0h3m1 0h3m1 0h6m1 0h1m3 0h2m3 0h1m4 0h12m3 0h8m2 0h6m-503 1h1m2 0h9m4 0h4m1 0h8m1 0h6m3 0h14m1 0h23m1 0h11m1 0h2m1 0h3m3 0h9m1 0h6m4 0h3m1 0h2m2 0h13m1 0h21m1 0h3m1 0h2m1 0h18m1 0h4m3 0h5m1 0h2m1 0h4m1 0h8m1 0h8m1 0h5m3 0h3m1 0h3m2 0h11m5 0h3m1 0h2m3 0h1m1 0h3m2 0h25m6 0h2m1 0h8m1 0h7m1 0h6m5 0h1m1 0h4m1 0h1m3 0h1m3 0h3m1 0h6m9 0h8m3 0h2m6 0h1m3 0h2m1 0h1m1 0h2m1 0h4m2 0h9m6 0h4m1 0h3m1 0h1m1 0h3m3 0h3m4 0h11m1 0h4m2 0h1m1 0h1m1 0h8m1 0h5m1 0h8m4 0h6m-505 1h6m1 0h4m1 0h2m5 0h10m3 0h6m3 0h14m1 0h21m4 0h8m7 0h2m1 0h5m1 0h3m3 0h4m4 0h1m1 0h1m5 0h1m1 0h29m1 0h7m3 0h3m1 0h7m1 0h7m3 0h4m1 0h10m1 0h1m1 0h5m1 0h3m3 0h12m4 0h3m1 0h2m4 0h12m2 0h8m1 0h1m3 0h2m3 0h10m1 0h4m1 0h4m1 0h4m6 0h9m3 0h9m1 0h4m1 0h1m1 0h8m3 0h2m2 0h1m5 0h6m4 0h1m2 0h10m1 0h4m4 0h3m1 0h2m4 0h1m3 0h2m4 0h8m5 0h5m1 0h4m3 0h1m4 0h4m4 0h4m1 0h9m1 0h2m3 0h12m1 0h6m1 0h5m2 0h8m-509 1h1m1 0h3m1 0h4m2 0h5m6 0h8m1 0h1m1 0h8m1 0h14m3 0h21m4 0h8m1 0h2m4 0h6m3 0h2m2 0h6m1 0h2m3 0h1m7 0h26m4 0h7m1 0h3m4 0h4m3 0h7m3 0h13m5 0h3m3 0h3m1 0h4m2 0h1m1 0h4m6 0h1m3 0h2m3 0h18m2 0h1m3 0h1m1 0h4m1 0h10m3 0h2m3 0h2m3 0h3m5 0h11m2 0h8m3 0h6m1 0h2m1 0h5m1 0h2m8 0h6m1 0h1m4 0h1m1 0h3m1 0h13m1 0h3m2 0h3m6 0h3m3 0h8m5 0h5m3 0h4m1 0h1m1 0h1m2 0h6m2 0h4m3 0h7m3 0h2m1 0h4m1 0h7m3 0h4m3 0h14m-510 1h7m1 0h7m1 0h1m3 0h2m1 0h8m3 0h22m1 0h2m1 0h24m1 0h14m1 0h8m1 0h1m4 0h8m1 0h1m1 0h4m2 0h1m1 0h3m1 0h6m1 0h15m4 0h13m4 0h4m1 0h8m4 0h1m1 0h11m1 0h1m3 0h3m1 0h7m7 0h1m1 0h2m1 0h2m1 0h1m1 0h1m1 0h4m3 0h16m6 0h1m3 0h15m1 0h4m1 0h4m1 0h5m4 0h11m3 0h8m1 0h5m7 0h6m1 0h1m1 0h2m2 0h3m1 0h3m3 0h1m6 0h1m3 0h7m1 0h7m7 0h1m4 0h2m3 0h3m1 0h6m3 0h4m5 0h3m5 0h7m4 0h4m1 0h9m1 0h1m4 0h2m3 0h7m1 0h5m3 0h14m-509 1h5m2 0h10m1 0h4m2 0h7m1 0h22m3 0h40m3 0h6m1 0h1m4 0h6m1 0h1m3 0h4m1 0h6m3 0h4m3 0h15m1 0h17m1 0h15m2 0h1m3 0h13m1 0h4m1 0h2m1 0h3m5 0h1m1 0h1m6 0h2m3 0h6m1 0h3m1 0h8m1 0h5m6 0h1m1 0h32m1 0h1m1 0h2m1 0h10m1 0h1m2 0h11m7 0h6m3 0h7m3 0h1m1 0h1m1 0h3m1 0h2m1 0h1m1 0h1m1 0h1m1 0h5m3 0h1m1 0h5m7 0h2m2 0h1m3 0h3m3 0h1m1 0h1m1 0h4m1 0h2m8 0h2m1 0h1m1 0h9m4 0h14m4 0h1m1 0h2m1 0h5m1 0h9m1 0h14m-506 1h1m4 0h5m1 0h8m4 0h30m1 0h15m1 0h24m3 0h6m3 0h1m1 0h3m1 0h3m6 0h3m3 0h6m1 0h6m2 0h9m1 0h43m1 0h5m1 0h12m6 0h3m2 0h5m3 0h1m1 0h4m1 0h7m1 0h2m4 0h1m1 0h3m3 0h7m2 0h23m1 0h10m3 0h2m3 0h10m4 0h2m1 0h6m1 0h1m1 0h3m1 0h3m1 0h4m1 0h9m1 0h1m3 0h8m3 0h1m3 0h4m6 0h4m1 0h2m3 0h3m6 0h4m1 0h1m5 0h2m3 0h2m8 0h1m1 0h12m3 0h7m1 0h7m1 0h2m3 0h6m3 0h16m1 0h5m-499 1h12m1 0h1m3 0h29m1 0h15m3 0h19m1 0h4m1 0h8m1 0h4m4 0h3m1 0h1m2 0h5m1 0h13m4 0h7m3 0h39m1 0h7m3 0h12m1 0h2m1 0h12m1 0h1m1 0h1m1 0h2m1 0h2m1 0h4m3 0h2m6 0h3m2 0h13m1 0h17m3 0h10m1 0h4m1 0h12m2 0h2m3 0h4m3 0h7m3 0h6m1 0h9m1 0h8m3 0h3m1 0h4m3 0h2m1 0h1m2 0h1m3 0h1m3 0h4m1 0h1m2 0h7m4 0h3m2 0h5m1 0h3m1 0h1m3 0h6m1 0h5m1 0h10m1 0h5m1 0h3m1 0h6m3 0h16m3 0h5m-507 1h1m8 0h2m1 0h1m2 0h7m3 0h2m1 0h11m1 0h7m1 0h4m3 0h15m1 0h19m3 0h16m4 0h3m1 0h1m3 0h20m2 0h9m1 0h34m1 0h2m1 0h1m3 0h7m1 0h4m1 0h7m1 0h2m3 0h12m11 0h1m1 0h2m1 0h3m3 0h1m1 0h4m3 0h11m3 0h3m1 0h3m1 0h4m1 0h4m1 0h7m1 0h13m2 0h11m1 0h6m1 0h6m1 0h1m5 0h3m3 0h15m1 0h2m1 0h8m1 0h1m1 0h4m4 0h1m1 0h3m1 0h11m1 0h5m1 0h4m3 0h1m1 0h10m1 0h5m5 0h2m3 0h8m3 0h3m3 0h4m1 0h5m1 0h3m1 0h8m2 0h4m3 0h5m-509 1h3m9 0h1m4 0h3m1 0h2m3 0h1m3 0h4m1 0h4m3 0h5m3 0h4m1 0h31m1 0h5m1 0h9m1 0h8m1 0h4m3 0h1m1 0h2m1 0h16m1 0h30m1 0h15m6 0h1m1 0h12m3 0h5m3 0h2m1 0h1m1 0h12m1 0h1m1 0h2m1 0h2m1 0h1m3 0h4m4 0h7m1 0h13m1 0h3m3 0h1m3 0h2m3 0h2m3 0h5m3 0h11m4 0h14m1 0h8m3 0h1m5 0h3m1 0h15m3 0h9m3 0h4m5 0h16m3 0h2m1 0h5m3 0h1m3 0h9m1 0h3m8 0h2m3 0h8m1 0h5m1 0h4m3 0h7m3 0h6m4 0h4m1 0h6m-512 1h1m3 0h1m2 0h1m7 0h2m3 0h7m3 0h1m2 0h3m3 0h4m1 0h7m3 0h34m3 0h13m3 0h12m3 0h3m3 0h12m1 0h1m3 0h4m1 0h23m3 0h15m1 0h2m1 0h16m1 0h4m2 0h1m1 0h4m3 0h22m1 0h4m5 0h4m1 0h6m1 0h4m1 0h5m1 0h2m2 0h3m1 0h4m1 0h3m4 0h4m2 0h1m1 0h11m2 0h5m1 0h8m3 0h6m3 0h4m2 0h2m1 0h16m3 0h3m1 0h2m2 0h3m1 0h5m4 0h5m1 0h9m1 0h1m2 0h2m5 0h2m3 0h2m1 0h4m1 0h4m3 0h1m4 0h3m1 0h4m1 0h8m3 0h9m2 0h9m1 0h7m3 0h12m-513 1h3m4 0h3m5 0h5m1 0h7m7 0h2m2 0h14m1 0h36m1 0h15m1 0h2m1 0h11m1 0h5m1 0h12m6 0h3m3 0h13m1 0h9m1 0h7m1 0h32m6 0h4m1 0h14m1 0h13m2 0h1m1 0h4m3 0h1m1 0h2m3 0h2m3 0h3m6 0h3m1 0h2m1 0h6m2 0h4m6 0h16m3 0h7m3 0h5m1 0h1m1 0h8m3 0h5m1 0h4m1 0h3m3 0h1m1 0h1m7 0h1m4 0h3m3 0h2m1 0h2m3 0h7m6 0h2m5 0h2m3 0h3m1 0h1m3 0h4m6 0h3m1 0h1m1 0h13m1 0h9m4 0h7m3 0h5m3 0h13m-512 1h1m6 0h2m6 0h12m6 0h2m3 0h19m2 0h24m1 0h23m3 0h3m1 0h13m1 0h12m1 0h2m1 0h5m1 0h13m3 0h15m3 0h2m1 0h2m1 0h25m3 0h1m1 0h17m1 0h1m3 0h11m3 0h4m1 0h2m1 0h1m6 0h4m1 0h3m1 0h1m1 0h1m4 0h1m6 0h10m1 0h1m1 0h2m1 0h16m3 0h5m1 0h3m1 0h5m3 0h7m1 0h2m1 0h2m1 0h1m4 0h2m3 0h3m1 0h1m5 0h2m9 0h3m6 0h2m2 0h8m6 0h3m2 0h4m1 0h2m4 0h1m1 0h5m7 0h1m5 0h3m1 0h19m4 0h7m1 0h3m1 0h3m1 0h14m-505 1h3m4 0h1m3 0h7m3 0h2m1 0h5m1 0h19m4 0h2m1 0h1m1 0h17m3 0h23m1 0h3m3 0h6m1 0h4m4 0h34m1 0h15m1 0h1m2 0h1m6 0h23m3 0h19m3 0h1m1 0h1m1 0h11m1 0h4m4 0h2m3 0h1m1 0h1m1 0h6m3 0h3m4 0h1m1 0h2m1 0h10m3 0h12m1 0h1m1 0h5m2 0h1m1 0h3m3 0h5m2 0h2m1 0h2m1 0h4m3 0h3m6 0h4m1 0h7m4 0h3m1 0h2m1 0h2m1 0h5m5 0h1m4 0h5m1 0h1m3 0h1m2 0h2m3 0h3m7 0h9m1 0h2m2 0h1m3 0h1m1 0h3m3 0h2m1 0h16m2 0h11m3 0h16m-503 1h1m4 0h3m3 0h4m2 0h2m1 0h1m3 0h25m2 0h2m5 0h17m1 0h29m1 0h6m3 0h4m4 0h48m6 0h1m1 0h2m1 0h25m1 0h11m2 0h8m1 0h1m1 0h1m3 0h2m1 0h1m1 0h9m1 0h1m4 0h2m1 0h2m4 0h6m1 0h2m1 0h1m3 0h1m1 0h2m4 0h9m1 0h12m5 0h1m8 0h3m1 0h5m4 0h3m4 0h2m2 0h5m3 0h13m4 0h17m1 0h1m6 0h5m3 0h1m1 0h1m4 0h2m1 0h5m2 0h1m4 0h7m1 0h6m3 0h6m1 0h2m3 0h29m1 0h6m2 0h8m-498 1h1m1 0h1m4 0h4m1 0h6m1 0h9m1 0h20m2 0h1m1 0h15m1 0h6m1 0h33m3 0h2m4 0h1m1 0h30m1 0h16m3 0h1m1 0h4m1 0h2m1 0h21m1 0h2m1 0h8m5 0h7m4 0h1m8 0h1m1 0h5m3 0h2m1 0h5m5 0h8m3 0h1m1 0h1m3 0h2m4 0h5m1 0h1m4 0h10m2 0h1m1 0h1m8 0h2m1 0h4m1 0h3m2 0h5m7 0h6m3 0h13m1 0h12m1 0h2m1 0h2m1 0h3m4 0h6m2 0h4m3 0h1m1 0h1m1 0h5m3 0h2m3 0h5m3 0h1m1 0h2m3 0h11m1 0h22m1 0h13m4 0h2m1 0h2m1 0h2m-500 1h5m1 0h1m2 0h17m1 0h1m3 0h4m1 0h13m3 0h16m3 0h4m3 0h33m1 0h4m1 0h2m3 0h28m3 0h15m3 0h5m6 0h8m1 0h10m6 0h6m5 0h2m1 0h4m4 0h2m3 0h1m1 0h1m1 0h1m3 0h2m1 0h2m1 0h8m3 0h1m1 0h3m1 0h4m5 0h3m1 0h5m1 0h5m3 0h1m4 0h8m3 0h3m3 0h2m3 0h1m3 0h2m3 0h2m3 0h6m6 0h6m1 0h7m1 0h18m9 0h3m1 0h1m1 0h4m4 0h2m4 0h1m5 0h3m1 0h1m1 0h4m2 0h4m3 0h1m3 0h2m1 0h7m1 0h3m1 0h5m1 0h3m1 0h12m3 0h1m1 0h9m4 0h2m6 0h2m-500 1h7m2 0h4m3 0h8m3 0h1m1 0h4m3 0h13m1 0h18m1 0h6m1 0h21m1 0h21m1 0h30m1 0h2m1 0h14m1 0h3m1 0h1m1 0h1m1 0h2m1 0h2m1 0h5m3 0h8m3 0h2m1 0h6m5 0h2m3 0h4m1 0h5m1 0h1m3 0h3m1 0h2m3 0h2m1 0h8m1 0h5m3 0h4m3 0h6m1 0h2m1 0h4m1 0h2m1 0h2m1 0h1m3 0h5m1 0h1m4 0h3m2 0h3m3 0h1m1 0h4m1 0h4m1 0h8m1 0h2m1 0h1m1 0h4m3 0h5m3 0h2m1 0h4m1 0h10m4 0h2m3 0h3m3 0h2m11 0h2m1 0h1m1 0h3m5 0h3m3 0h1m1 0h2m1 0h3m1 0h3m1 0h6m3 0h1m3 0h3m3 0h1m3 0h9m4 0h1m3 0h8m3 0h4m1 0h2m1 0h3m-498 1h2m1 0h1m3 0h5m2 0h2m2 0h4m2 0h8m1 0h13m3 0h42m1 0h2m3 0h17m1 0h23m1 0h10m4 0h4m1 0h11m5 0h5m3 0h5m1 0h10m1 0h8m1 0h1m4 0h2m4 0h12m4 0h2m1 0h3m1 0h2m3 0h8m1 0h5m1 0h5m3 0h1m1 0h3m6 0h2m3 0h3m3 0h1m3 0h3m3 0h1m2 0h4m3 0h3m1 0h1m3 0h1m1 0h9m1 0h8m4 0h1m5 0h6m1 0h2m3 0h2m3 0h10m1 0h5m1 0h5m1 0h4m1 0h1m9 0h2m3 0h3m5 0h3m1 0h1m3 0h4m1 0h3m3 0h2m1 0h3m1 0h3m1 0h5m1 0h3m1 0h9m4 0h3m1 0h10m1 0h10m1 0h1m-492 1h1m1 0h4m1 0h8m3 0h23m1 0h28m1 0h13m3 0h1m4 0h15m3 0h21m3 0h8m4 0h4m3 0h11m1 0h1m1 0h7m1 0h15m1 0h9m6 0h4m2 0h10m1 0h3m7 0h6m1 0h2m1 0h5m3 0h1m1 0h9m1 0h1m3 0h3m1 0h2m1 0h2m3 0h5m1 0h2m3 0h4m1 0h1m1 0h3m1 0h3m1 0h5m1 0h1m1 0h1m3 0h7m3 0h6m4 0h1m6 0h2m1 0h7m1 0h2m4 0h9m3 0h9m3 0h3m10 0h3m3 0h5m3 0h4m1 0h1m1 0h4m3 0h3m1 0h2m3 0h15m3 0h9m1 0h26m-492 1h1m1 0h16m3 0h5m1 0h45m3 0h13m1 0h3m2 0h11m1 0h5m1 0h23m1 0h4m1 0h5m1 0h7m1 0h9m1 0h25m1 0h1m3 0h9m1 0h1m2 0h5m3 0h2m2 0h4m3 0h4m1 0h2m1 0h2m1 0h6m3 0h1m1 0h3m1 0h1m3 0h2m1 0h7m3 0h8m3 0h10m1 0h6m3 0h1m3 0h2m2 0h3m3 0h2m2 0h8m4 0h1m1 0h4m1 0h4m1 0h2m6 0h2m1 0h3m1 0h1m4 0h11m1 0h4m1 0h6m1 0h3m4 0h1m1 0h2m1 0h4m6 0h4m3 0h2m3 0h1m1 0h3m2 0h3m1 0h2m1 0h1m1 0h3m1 0h8m2 0h3m1 0h15m1 0h22m1 0h1m-496 1h3m1 0h16m1 0h2m1 0h2m3 0h16m1 0h28m1 0h5m1 0h3m1 0h20m3 0h26m1 0h5m3 0h1m1 0h15m1 0h3m3 0h4m1 0h1m1 0h16m3 0h1m1 0h18m3 0h2m4 0h3m2 0h4m3 0h3m3 0h3m1 0h2m1 0h1m3 0h2m1 0h2m1 0h2m3 0h7m1 0h10m1 0h15m1 0h3m1 0h1m3 0h2m4 0h2m2 0h2m3 0h4m1 0h4m2 0h1m3 0h4m1 0h1m1 0h5m4 0h1m4 0h1m3 0h1m2 0h3m1 0h1m1 0h10m4 0h1m1 0h5m4 0h11m6 0h2m3 0h4m1 0h1m3 0h1m3 0h2m6 0h2m4 0h4m6 0h3m1 0h2m1 0h10m3 0h7m1 0h15m-495 1h1m2 0h3m2 0h13m3 0h2m1 0h11m1 0h4m3 0h13m1 0h18m3 0h1m3 0h20m1 0h5m1 0h20m3 0h5m1 0h1m3 0h13m3 0h2m2 0h4m5 0h16m2 0h3m1 0h11m1 0h5m1 0h4m2 0h3m3 0h5m1 0h5m1 0h3m3 0h3m2 0h2m3 0h3m3 0h5m1 0h8m1 0h10m1 0h8m3 0h5m1 0h4m2 0h2m3 0h3m1 0h4m3 0h7m1 0h4m5 0h5m7 0h3m6 0h1m5 0h10m6 0h1m1 0h2m3 0h3m1 0h12m2 0h3m1 0h1m1 0h3m1 0h2m1 0h3m1 0h1m1 0h2m1 0h2m1 0h2m6 0h2m6 0h3m6 0h4m1 0h4m3 0h3m1 0h2m3 0h11m1 0h2m-506 1h2m11 0h4m2 0h11m1 0h2m1 0h1m1 0h12m3 0h4m1 0h13m3 0h18m1 0h3m1 0h26m3 0h5m1 0h14m1 0h3m1 0h5m1 0h15m1 0h2m3 0h1m1 0h3m3 0h10m1 0h4m1 0h1m3 0h1m3 0h9m3 0h3m3 0h2m1 0h6m2 0h4m1 0h3m1 0h1m4 0h2m1 0h3m3 0h3m3 0h2m3 0h3m4 0h6m3 0h3m1 0h4m3 0h8m1 0h13m1 0h2m1 0h10m1 0h3m1 0h3m1 0h1m2 0h3m1 0h1m1 0h7m1 0h2m1 0h6m1 0h1m2 0h3m1 0h1m2 0h5m2 0h5m1 0h1m1 0h1m3 0h2m2 0h2m4 0h4m1 0h5m3 0h3m3 0h1m3 0h6m3 0h6m1 0h1m2 0h1m1 0h3m3 0h5m4 0h1m1 0h4m3 0h3m3 0h2m3 0h2m1 0h4m1 0h2m1 0h3m3 0h1m-507 1h4m9 0h6m2 0h7m1 0h3m2 0h1m3 0h12m1 0h20m1 0h30m1 0h20m1 0h5m3 0h16m4 0h23m1 0h1m3 0h3m1 0h10m3 0h2m3 0h1m1 0h3m1 0h11m1 0h4m2 0h2m3 0h1m1 0h3m4 0h1m3 0h1m8 0h6m1 0h4m4 0h2m1 0h3m4 0h8m1 0h1m1 0h1m3 0h4m2 0h7m1 0h6m1 0h2m1 0h3m6 0h1m1 0h4m1 0h5m3 0h1m6 0h27m1 0h3m3 0h3m4 0h9m1 0h3m3 0h2m4 0h2m3 0h5m1 0h5m1 0h1m1 0h1m1 0h8m1 0h6m6 0h1m1 0h1m3 0h1m1 0h5m4 0h6m1 0h4m2 0h2m3 0h7m6 0h1m3 0h2m-506 1h2m2 0h1m7 0h2m2 0h1m1 0h10m1 0h1m6 0h33m3 0h22m1 0h5m3 0h14m1 0h11m1 0h18m4 0h24m2 0h6m1 0h9m1 0h4m1 0h22m3 0h3m5 0h2m5 0h1m1 0h3m1 0h2m1 0h1m1 0h6m1 0h5m3 0h6m3 0h11m3 0h1m1 0h2m1 0h2m3 0h5m3 0h4m6 0h3m8 0h2m3 0h1m1 0h3m1 0h2m5 0h27m3 0h3m1 0h5m4 0h6m1 0h6m1 0h2m1 0h2m1 0h4m3 0h3m1 0h5m1 0h1m3 0h12m1 0h4m1 0h1m2 0h1m3 0h1m1 0h1m3 0h5m2 0h4m1 0h6m3 0h1m1 0h1m1 0h8m2 0h2m1 0h3m1 0h3m-503 1h3m5 0h3m3 0h15m3 0h8m1 0h25m3 0h21m3 0h5m1 0h14m3 0h21m1 0h1m1 0h7m1 0h24m3 0h5m3 0h14m1 0h21m2 0h5m1 0h1m1 0h2m3 0h1m1 0h1m3 0h13m3 0h3m3 0h3m1 0h4m1 0h5m1 0h1m1 0h4m2 0h4m8 0h5m1 0h2m1 0h3m4 0h1m1 0h3m1 0h1m1 0h2m1 0h3m6 0h6m1 0h17m1 0h2m2 0h3m1 0h5m3 0h10m1 0h6m3 0h7m5 0h5m1 0h3m3 0h3m3 0h1m1 0h3m1 0h8m3 0h4m4 0h1m1 0h3m1 0h1m1 0h5m4 0h2m3 0h6m1 0h1m3 0h6m1 0h1m3 0h9m-501 1h1m7 0h1m5 0h1m1 0h3m1 0h10m1 0h6m4 0h25m1 0h23m1 0h22m1 0h17m1 0h1m1 0h1m5 0h28m2 0h2m1 0h7m1 0h5m2 0h7m3 0h2m1 0h6m1 0h9m3 0h2m1 0h6m3 0h3m1 0h1m1 0h3m1 0h2m1 0h5m1 0h2m1 0h5m1 0h2m4 0h8m5 0h2m3 0h3m3 0h2m1 0h1m1 0h8m3 0h3m1 0h2m3 0h8m1 0h3m1 0h2m1 0h19m1 0h4m7 0h1m4 0h2m1 0h1m3 0h1m1 0h1m1 0h4m1 0h7m3 0h7m6 0h9m1 0h3m1 0h1m1 0h5m3 0h4m1 0h2m2 0h6m4 0h3m3 0h7m2 0h4m1 0h10m1 0h6m3 0h1m3 0h7m-495 1h1m9 0h3m2 0h9m1 0h9m1 0h3m1 0h7m1 0h6m1 0h19m1 0h15m1 0h14m1 0h1m1 0h18m5 0h1m1 0h1m1 0h24m1 0h2m5 0h5m1 0h2m3 0h3m4 0h7m1 0h2m3 0h4m3 0h5m1 0h3m1 0h2m3 0h6m1 0h3m3 0h3m6 0h3m3 0h9m4 0h5m1 0h4m1 0h1m1 0h4m1 0h5m1 0h13m3 0h4m1 0h3m1 0h8m3 0h4m3 0h17m3 0h4m1 0h2m4 0h1m15 0h2m3 0h3m1 0h3m2 0h3m1 0h1m1 0h1m5 0h2m1 0h10m3 0h3m1 0h3m1 0h4m6 0h8m1 0h2m1 0h2m1 0h3m1 0h6m1 0h11m2 0h9m3 0h1m1 0h9m-497 1h4m3 0h1m2 0h1m1 0h11m4 0h13m1 0h5m3 0h4m3 0h17m3 0h13m3 0h1m1 0h10m5 0h3m1 0h14m1 0h1m1 0h28m8 0h5m3 0h1m2 0h3m1 0h1m2 0h12m1 0h5m3 0h4m3 0h6m1 0h1m1 0h10m1 0h4m2 0h1m2 0h3m1 0h1m1 0h11m4 0h2m4 0h2m1 0h12m1 0h15m1 0h4m3 0h1m3 0h8m1 0h6m1 0h2m1 0h12m1 0h3m2 0h8m4 0h1m2 0h1m10 0h4m1 0h3m3 0h2m3 0h1m5 0h1m4 0h1m3 0h10m1 0h3m5 0h3m1 0h2m1 0h2m1 0h11m3 0h4m3 0h3m4 0h4m1 0h4m4 0h9m1 0h9m1 0h2m-496 1h4m1 0h19m3 0h6m2 0h11m1 0h6m1 0h17m1 0h1m1 0h15m1 0h1m3 0h7m1 0h2m1 0h1m1 0h3m3 0h4m1 0h11m1 0h28m1 0h2m1 0h4m1 0h4m1 0h1m3 0h2m4 0h20m1 0h6m1 0h8m3 0h11m1 0h1m6 0h2m3 0h1m1 0h4m1 0h4m10 0h2m3 0h10m3 0h18m3 0h3m1 0h3m1 0h2m1 0h11m3 0h3m1 0h6m4 0h1m4 0h8m1 0h1m6 0h1m3 0h1m1 0h5m1 0h5m1 0h2m4 0h2m3 0h4m1 0h1m5 0h4m1 0h1m1 0h2m1 0h1m8 0h1m6 0h1m1 0h5m1 0h6m2 0h2m1 0h2m1 0h3m4 0h4m4 0h3m3 0h18m-490 1h2m2 0h1m1 0h2m2 0h3m2 0h8m1 0h6m4 0h9m2 0h15m1 0h7m5 0h17m1 0h7m3 0h8m1 0h4m3 0h9m3 0h7m1 0h24m5 0h5m3 0h1m1 0h1m4 0h21m1 0h14m4 0h8m3 0h1m1 0h1m3 0h3m1 0h1m3 0h2m3 0h4m1 0h2m2 0h1m1 0h5m1 0h12m1 0h11m1 0h3m1 0h4m1 0h7m6 0h4m1 0h2m1 0h3m1 0h3m3 0h2m1 0h3m4 0h1m4 0h10m1 0h2m1 0h1m1 0h1m1 0h7m3 0h3m1 0h4m2 0h3m3 0h1m1 0h1m3 0h1m1 0h1m1 0h4m11 0h1m4 0h1m2 0h2m1 0h1m4 0h2m3 0h5m6 0h5m2 0h4m1 0h2m4 0h1m1 0h1m3 0h17m2 0h2m-494 1h3m2 0h3m1 0h1m1 0h3m1 0h3m2 0h11m2 0h9m3 0h14m3 0h7m1 0h1m1 0h7m1 0h9m3 0h7m1 0h9m2 0h4m1 0h5m1 0h5m1 0h7m3 0h21m6 0h7m1 0h1m3 0h2m1 0h11m1 0h9m3 0h13m5 0h8m1 0h2m1 0h2m1 0h3m1 0h3m1 0h2m1 0h1m1 0h8m3 0h3m1 0h11m1 0h2m1 0h11m3 0h1m3 0h12m1 0h1m3 0h3m6 0h3m1 0h3m1 0h2m3 0h1m4 0h4m1 0h2m1 0h8m1 0h3m3 0h2m1 0h6m1 0h3m3 0h9m1 0h1m3 0h1m1 0h10m6 0h1m1 0h2m4 0h1m3 0h5m4 0h2m1 0h7m4 0h5m3 0h3m3 0h1m3 0h1m3 0h1m1 0h17m4 0h2m-497 1h1m2 0h1m4 0h1m1 0h5m1 0h6m1 0h4m1 0h1m2 0h6m1 0h7m1 0h16m1 0h17m3 0h9m1 0h3m1 0h4m1 0h8m4 0h8m3 0h9m1 0h3m1 0h21m5 0h12m1 0h1m1 0h12m3 0h7m1 0h1m1 0h15m3 0h8m6 0h4m4 0h3m3 0h5m1 0h4m1 0h3m3 0h9m6 0h11m1 0h3m1 0h7m1 0h1m1 0h1m1 0h4m1 0h5m5 0h2m3 0h6m7 0h6m3 0h6m3 0h3m1 0h2m3 0h3m1 0h4m3 0h3m1 0h7m1 0h1m2 0h4m1 0h7m3 0h1m1 0h6m2 0h2m4 0h6m1 0h2m3 0h1m1 0h5m2 0h7m2 0h4m1 0h3m1 0h3m1 0h2m1 0h7m1 0h10m4 0h1m-499 1h4m9 0h4m1 0h9m4 0h1m1 0h1m1 0h5m1 0h5m1 0h8m1 0h6m1 0h20m1 0h13m3 0h2m3 0h8m2 0h10m1 0h9m3 0h25m2 0h5m1 0h9m3 0h9m1 0h2m3 0h4m4 0h10m1 0h11m1 0h5m1 0h2m1 0h6m4 0h2m3 0h4m4 0h7m1 0h11m1 0h2m1 0h23m7 0h10m6 0h1m1 0h7m7 0h4m1 0h1m2 0h4m1 0h1m3 0h5m5 0h1m4 0h2m4 0h2m4 0h4m6 0h2m3 0h2m1 0h4m2 0h7m3 0h1m4 0h9m7 0h3m3 0h7m3 0h3m1 0h9m3 0h1m1 0h3m3 0h11m1 0h2m-500 1h4m12 0h1m1 0h9m4 0h1m3 0h4m2 0h5m1 0h8m3 0h4m3 0h27m1 0h6m1 0h4m1 0h9m1 0h6m1 0h15m1 0h7m1 0h24m3 0h9m1 0h9m3 0h2m1 0h4m4 0h10m3 0h9m3 0h13m1 0h2m1 0h3m2 0h6m4 0h45m7 0h10m1 0h2m4 0h7m5 0h1m4 0h1m5 0h3m5 0h5m10 0h4m4 0h2m4 0h4m1 0h1m3 0h1m1 0h1m1 0h2m3 0h1m5 0h1m1 0h5m1 0h1m4 0h9m4 0h2m1 0h2m1 0h2m1 0h2m1 0h6m1 0h1m5 0h7m1 0h1m1 0h1m3 0h3m1 0h14m-498 1h1m5 0h1m8 0h1m2 0h2m2 0h4m2 0h3m2 0h4m4 0h6m2 0h6m1 0h6m1 0h3m1 0h23m3 0h19m3 0h4m3 0h9m1 0h11m3 0h24m1 0h21m1 0h7m1 0h1m1 0h13m1 0h9m1 0h1m1 0h13m6 0h1m3 0h8m1 0h4m1 0h27m1 0h14m1 0h1m5 0h1m1 0h1m1 0h4m3 0h2m3 0h1m1 0h6m1 0h1m2 0h2m4 0h1m1 0h1m1 0h1m1 0h1m1 0h1m1 0h1m2 0h1m1 0h4m1 0h3m1 0h1m1 0h8m1 0h2m1 0h2m1 0h5m1 0h2m5 0h4m1 0h1m5 0h1m3 0h6m5 0h9m2 0h5m3 0h3m3 0h6m5 0h1m1 0h5m3 0h3m1 0h5m1 0h2m1 0h5m1 0h3m-492 1h3m6 0h3m2 0h1m4 0h6m3 0h5m2 0h6m4 0h15m3 0h2m1 0h19m2 0h2m1 0h18m1 0h6m1 0h9m3 0h11m1 0h6m1 0h17m1 0h21m2 0h6m3 0h23m4 0h14m1 0h2m1 0h1m4 0h1m1 0h10m3 0h13m1 0h11m3 0h17m2 0h1m5 0h4m1 0h4m1 0h1m4 0h5m8 0h5m5 0h1m6 0h5m1 0h3m1 0h6m7 0h6m6 0h1m1 0h4m3 0h1m1 0h5m1 0h4m1 0h1m3 0h1m1 0h2m1 0h7m3 0h5m2 0h4m1 0h4m1 0h3m2 0h2m3 0h5m1 0h9m6 0h2m4 0h3m-494 1h4m5 0h4m1 0h4m2 0h7m2 0h13m3 0h5m1 0h2m1 0h3m1 0h4m1 0h2m3 0h17m3 0h1m3 0h35m1 0h18m3 0h15m3 0h4m1 0h10m1 0h3m4 0h5m2 0h25m4 0h9m1 0h1m1 0h7m2 0h1m3 0h10m1 0h1m1 0h11m3 0h6m1 0h1m2 0h1m1 0h6m1 0h15m3 0h5m1 0h7m4 0h5m2 0h2m1 0h3m1 0h2m3 0h1m1 0h1m4 0h1m1 0h4m4 0h1m3 0h4m4 0h2m1 0h4m2 0h2m4 0h1m3 0h4m1 0h5m1 0h6m3 0h1m1 0h1m1 0h2m3 0h7m1 0h4m1 0h1m3 0h2m3 0h2m3 0h2m3 0h2m3 0h15m2 0h1m1 0h2m4 0h2m1 0h1m-494 1h5m5 0h2m2 0h5m1 0h18m1 0h4m4 0h2m6 0h1m3 0h5m1 0h1m1 0h19m1 0h3m1 0h56m1 0h3m1 0h2m1 0h10m1 0h4m3 0h8m3 0h3m2 0h5m3 0h27m1 0h2m1 0h6m5 0h10m1 0h12m3 0h11m1 0h4m1 0h1m6 0h6m3 0h15m1 0h5m3 0h3m1 0h3m2 0h2m1 0h3m1 0h2m1 0h3m7 0h3m4 0h5m4 0h2m2 0h6m2 0h7m4 0h2m2 0h3m1 0h9m4 0h6m1 0h3m3 0h2m1 0h3m1 0h8m3 0h1m1 0h4m1 0h4m6 0h4m1 0h15m4 0h4m1 0h3m-504 1h1m11 0h3m1 0h1m10 0h4m1 0h3m1 0h5m1 0h2m1 0h3m5 0h4m4 0h2m2 0h1m1 0h3m1 0h5m3 0h47m1 0h12m1 0h19m1 0h3m6 0h9m1 0h5m1 0h10m1 0h12m1 0h8m1 0h5m1 0h15m3 0h6m1 0h1m1 0h5m1 0h5m1 0h4m1 0h6m1 0h1m1 0h8m1 0h1m1 0h5m5 0h1m2 0h8m1 0h6m1 0h16m1 0h3m3 0h5m3 0h1m6 0h3m1 0h1m3 0h5m4 0h5m1 0h3m3 0h1m1 0h4m3 0h2m1 0h4m2 0h3m3 0h7m1 0h3m4 0h8m1 0h3m1 0h6m3 0h8m1 0h13m5 0h20m3 0h10m1 0h1m-508 1h3m10 0h3m13 0h1m4 0h3m1 0h3m2 0h3m1 0h2m1 0h2m1 0h1m1 0h1m1 0h1m4 0h2m3 0h9m4 0h13m1 0h11m2 0h19m3 0h7m1 0h2m3 0h17m3 0h3m1 0h2m1 0h8m4 0h10m1 0h25m3 0h3m3 0h15m1 0h8m1 0h5m3 0h3m3 0h2m3 0h4m3 0h8m5 0h5m3 0h18m3 0h16m1 0h3m2 0h6m1 0h3m1 0h2m1 0h3m1 0h1m3 0h4m1 0h1m5 0h9m1 0h1m3 0h2m3 0h2m3 0h5m1 0h3m2 0h1m1 0h4m7 0h1m1 0h3m1 0h3m3 0h2m1 0h2m1 0h1m4 0h7m1 0h3m1 0h12m3 0h19m1 0h2m1 0h14m-508 1h1m12 0h1m7 0h1m5 0h3m2 0h3m2 0h10m4 0h1m5 0h1m2 0h4m1 0h9m4 0h13m3 0h9m4 0h19m1 0h7m3 0h2m1 0h19m1 0h15m6 0h7m4 0h25m1 0h5m1 0h21m1 0h2m3 0h5m1 0h5m1 0h1m2 0h1m1 0h6m1 0h10m1 0h1m3 0h2m1 0h1m3 0h12m1 0h2m1 0h1m1 0h1m1 0h9m2 0h5m4 0h1m3 0h4m3 0h3m1 0h1m1 0h1m6 0h2m1 0h1m3 0h1m1 0h1m1 0h13m1 0h2m4 0h2m3 0h1m1 0h2m3 0h2m5 0h2m1 0h1m5 0h1m3 0h1m3 0h3m1 0h2m9 0h5m1 0h1m3 0h1m3 0h12m3 0h17m3 0h16m-488 1h3m4 0h2m2 0h1m1 0h15m4 0h1m1 0h1m1 0h4m1 0h1m1 0h1m1 0h10m1 0h16m1 0h1m1 0h9m2 0h20m1 0h8m1 0h40m6 0h5m4 0h14m1 0h36m1 0h1m3 0h2m1 0h11m7 0h7m1 0h1m1 0h7m1 0h2m1 0h2m3 0h1m1 0h12m8 0h9m4 0h5m4 0h1m1 0h6m1 0h3m11 0h1m3 0h1m1 0h1m3 0h1m1 0h11m3 0h2m2 0h4m5 0h2m2 0h2m4 0h2m6 0h2m1 0h1m2 0h2m1 0h8m1 0h1m5 0h4m4 0h1m5 0h14m3 0h9m1 0h5m1 0h1m1 0h9m1 0h7m-499 1h1m11 0h1m4 0h3m1 0h3m1 0h5m1 0h10m1 0h5m1 0h6m3 0h5m1 0h21m3 0h8m3 0h18m3 0h48m5 0h6m2 0h15m3 0h13m1 0h18m1 0h1m3 0h1m1 0h13m1 0h2m1 0h1m5 0h1m2 0h2m5 0h5m3 0h5m1 0h16m1 0h1m4 0h4m1 0h1m1 0h4m4 0h4m4 0h12m4 0h1m1 0h3m1 0h1m3 0h2m1 0h1m6 0h3m1 0h5m4 0h5m1 0h3m3 0h1m11 0h2m1 0h1m1 0h3m6 0h2m1 0h4m2 0h4m3 0h4m4 0h2m5 0h2m1 0h7m1 0h4m1 0h7m5 0h3m3 0h9m3 0h6m-500 1h3m12 0h1m3 0h1m3 0h1m3 0h3m1 0h2m1 0h13m3 0h1m2 0h2m2 0h5m2 0h22m3 0h7m3 0h9m1 0h9m3 0h33m1 0h8m1 0h5m4 0h5m3 0h13m1 0h2m1 0h13m3 0h1m1 0h3m1 0h10m3 0h1m2 0h14m3 0h2m1 0h3m1 0h1m4 0h2m3 0h7m1 0h1m1 0h11m1 0h6m1 0h2m1 0h2m2 0h4m5 0h4m5 0h3m4 0h12m1 0h4m1 0h5m2 0h1m6 0h1m1 0h3m3 0h3m4 0h5m3 0h2m9 0h1m6 0h4m1 0h3m4 0h2m3 0h2m4 0h4m3 0h4m3 0h1m10 0h1m1 0h3m3 0h1m1 0h8m5 0h5m1 0h11m1 0h6m-498 1h1m12 0h7m5 0h1m1 0h1m1 0h4m1 0h2m2 0h8m2 0h1m1 0h3m1 0h7m3 0h8m1 0h10m1 0h2m1 0h9m1 0h21m1 0h22m1 0h10m3 0h6m4 0h5m1 0h7m1 0h13m3 0h16m1 0h1m3 0h1m3 0h10m1 0h2m3 0h1m1 0h12m1 0h2m3 0h5m2 0h3m3 0h6m1 0h1m3 0h4m1 0h1m1 0h2m3 0h4m6 0h1m3 0h4m1 0h1m1 0h6m5 0h2m1 0h1m1 0h16m4 0h4m3 0h1m4 0h2m1 0h4m3 0h3m3 0h3m4 0h1m1 0h2m2 0h1m2 0h1m5 0h1m3 0h3m3 0h3m2 0h3m2 0h4m2 0h5m4 0h2m3 0h3m5 0h2m1 0h1m3 0h3m1 0h1m3 0h5m1 0h2m2 0h6m3 0h16m-483 1h7m3 0h3m1 0h5m1 0h3m1 0h10m3 0h1m3 0h7m1 0h1m1 0h4m1 0h1m3 0h2m1 0h5m3 0h10m3 0h42m3 0h10m1 0h8m4 0h27m1 0h20m1 0h3m3 0h13m1 0h1m3 0h2m2 0h11m1 0h2m2 0h8m1 0h6m3 0h1m3 0h2m5 0h2m1 0h4m1 0h1m1 0h2m1 0h3m1 0h7m1 0h6m4 0h2m5 0h14m4 0h6m1 0h2m8 0h4m1 0h3m3 0h3m4 0h1m3 0h5m6 0h1m5 0h3m1 0h4m3 0h1m3 0h12m3 0h1m3 0h3m5 0h6m2 0h4m3 0h5m3 0h1m1 0h3m1 0h3m3 0h17m-482 1h5m4 0h1m3 0h1m1 0h1m3 0h1m1 0h8m2 0h2m1 0h3m1 0h14m3 0h1m1 0h2m3 0h5m1 0h12m1 0h1m1 0h42m1 0h21m4 0h30m1 0h2m1 0h1m1 0h16m1 0h17m1 0h2m5 0h11m4 0h11m1 0h1m1 0h1m1 0h3m1 0h4m1 0h1m1 0h7m3 0h7m1 0h6m3 0h4m6 0h1m6 0h5m1 0h8m1 0h2m1 0h8m2 0h1m2 0h1m3 0h1m1 0h5m2 0h4m3 0h3m2 0h4m7 0h2m3 0h10m1 0h2m3 0h5m1 0h4m1 0h2m1 0h3m1 0h5m1 0h2m1 0h6m3 0h1m1 0h2m1 0h2m1 0h4m1 0h1m3 0h1m3 0h3m1 0h17m-479 1h3m3 0h3m2 0h2m5 0h8m4 0h5m1 0h10m1 0h3m2 0h6m1 0h2m1 0h48m1 0h34m1 0h1m1 0h22m1 0h2m1 0h4m8 0h37m5 0h11m2 0h10m8 0h3m2 0h2m1 0h10m1 0h7m3 0h1m1 0h4m1 0h5m2 0h1m9 0h4m4 0h6m1 0h2m3 0h6m3 0h1m3 0h1m1 0h1m3 0h3m3 0h5m1 0h3m4 0h4m5 0h9m1 0h3m1 0h2m2 0h1m4 0h3m3 0h2m3 0h1m1 0h2m3 0h3m6 0h5m6 0h3m3 0h6m1 0h3m1 0h6m1 0h5m1 0h10m-488 1h1m6 0h1m1 0h1m5 0h1m2 0h4m4 0h6m1 0h3m1 0h5m3 0h8m5 0h10m3 0h15m1 0h30m3 0h21m1 0h10m3 0h21m7 0h4m4 0h1m1 0h12m1 0h17m1 0h6m3 0h1m1 0h19m1 0h3m4 0h1m4 0h2m7 0h5m1 0h12m1 0h1m4 0h7m3 0h3m1 0h1m1 0h2m1 0h4m4 0h6m6 0h5m1 0h2m1 0h3m1 0h5m1 0h3m1 0h1m3 0h3m3 0h3m2 0h1m1 0h5m1 0h6m1 0h1m1 0h1m3 0h1m12 0h2m3 0h1m3 0h1m3 0h2m1 0h5m1 0h2m3 0h5m4 0h5m1 0h1m1 0h15m3 0h3m3 0h4m1 0h2m1 0h1m-489 1h4m3 0h3m1 0h1m3 0h3m1 0h3m4 0h4m1 0h1m3 0h3m1 0h5m1 0h2m1 0h2m1 0h4m3 0h12m1 0h15m3 0h28m3 0h20m4 0h10m1 0h21m4 0h2m1 0h6m2 0h14m3 0h15m3 0h6m1 0h6m1 0h2m1 0h11m3 0h1m3 0h4m2 0h4m2 0h2m3 0h3m3 0h4m1 0h4m2 0h3m5 0h6m1 0h6m1 0h4m1 0h3m2 0h8m1 0h2m1 0h5m3 0h7m1 0h6m3 0h1m1 0h5m1 0h2m1 0h3m3 0h4m1 0h1m1 0h3m5 0h1m1 0h3m1 0h2m2 0h2m1 0h1m1 0h2m5 0h1m1 0h2m2 0h2m3 0h4m1 0h3m1 0h7m3 0h6m3 0h13m1 0h1m1 0h2m4 0h4m-482 1h4m3 0h5m3 0h1m3 0h1m4 0h4m5 0h3m3 0h7m1 0h8m1 0h30m1 0h30m1 0h1m1 0h21m1 0h22m1 0h11m1 0h10m3 0h15m1 0h17m1 0h13m6 0h5m1 0h5m1 0h3m2 0h1m1 0h1m3 0h9m1 0h1m1 0h3m1 0h4m3 0h2m4 0h3m5 0h2m1 0h6m1 0h1m3 0h2m3 0h15m1 0h2m1 0h3m1 0h1m2 0h2m1 0h1m3 0h6m2 0h4m1 0h4m3 0h2m4 0h2m5 0h3m1 0h1m1 0h3m1 0h8m3 0h4m3 0h2m1 0h1m3 0h3m1 0h4m3 0h4m1 0h3m1 0h2m1 0h5m1 0h2m1 0h8m1 0h4m3 0h2m4 0h6m1 0h2m1 0h1m-494 1h1m7 0h1m3 0h3m1 0h3m8 0h1m2 0h5m2 0h6m1 0h26m1 0h8m1 0h12m1 0h31m3 0h42m3 0h22m1 0h10m1 0h20m1 0h17m1 0h1m2 0h5m3 0h8m5 0h1m2 0h1m1 0h4m1 0h1m1 0h1m3 0h1m3 0h2m3 0h2m4 0h5m1 0h1m1 0h2m3 0h4m3 0h1m1 0h3m3 0h5m1 0h6m1 0h1m6 0h3m7 0h1m3 0h5m3 0h2m3 0h3m3 0h2m5 0h2m1 0h1m3 0h7m4 0h7m1 0h9m5 0h3m3 0h4m1 0h3m4 0h1m3 0h6m3 0h9m3 0h4m1 0h4m1 0h14m-496 1h3m7 0h1m1 0h1m1 0h1m1 0h3m8 0h3m2 0h4m3 0h19m1 0h8m1 0h9m1 0h1m3 0h2m1 0h7m3 0h5m1 0h25m1 0h35m1 0h8m2 0h25m1 0h6m3 0h18m3 0h17m3 0h4m3 0h10m4 0h1m5 0h2m5 0h1m2 0h2m1 0h2m3 0h1m5 0h5m1 0h6m1 0h4m4 0h6m2 0h4m3 0h4m3 0h1m1 0h2m1 0h5m2 0h1m3 0h2m1 0h1m1 0h3m4 0h3m1 0h3m11 0h1m1 0h1m5 0h7m4 0h17m3 0h5m1 0h8m5 0h2m2 0h4m1 0h2m1 0h11m3 0h23m-495 1h1m7 0h5m2 0h3m9 0h1m1 0h1m1 0h3m1 0h1m1 0h38m3 0h1m1 0h12m1 0h5m3 0h9m1 0h43m1 0h5m3 0h7m3 0h23m3 0h6m4 0h8m1 0h8m1 0h17m3 0h6m1 0h3m1 0h1m1 0h7m1 0h2m4 0h1m1 0h2m1 0h1m1 0h2m3 0h5m1 0h1m5 0h5m3 0h11m4 0h1m1 0h1m5 0h1m4 0h4m3 0h3m1 0h11m4 0h1m4 0h2m2 0h5m5 0h1m1 0h2m1 0h1m2 0h1m7 0h3m1 0h4m3 0h5m1 0h2m1 0h5m1 0h2m3 0h7m1 0h8m1 0h1m1 0h1m1 0h1m3 0h2m3 0h14m1 0h3m1 0h10m1 0h9m-486 1h1m1 0h1m4 0h1m5 0h1m3 0h11m1 0h1m2 0h9m2 0h1m1 0h22m3 0h19m2 0h9m3 0h14m1 0h15m1 0h10m3 0h5m1 0h8m3 0h5m1 0h11m2 0h5m1 0h8m4 0h6m3 0h26m1 0h10m5 0h8m4 0h1m3 0h4m1 0h2m1 0h9m1 0h8m3 0h3m2 0h6m3 0h1m7 0h1m5 0h4m2 0h2m4 0h4m1 0h6m9 0h6m7 0h5m3 0h2m1 0h1m1 0h5m3 0h4m2 0h4m6 0h3m3 0h1m2 0h6m4 0h10m3 0h1m1 0h2m3 0h16m1 0h1m4 0h7m3 0h2m1 0h4m-488 1h1m6 0h1m7 0h3m3 0h9m4 0h9m1 0h3m1 0h2m2 0h10m1 0h8m1 0h19m3 0h10m1 0h14m3 0h13m3 0h5m1 0h4m3 0h14m1 0h5m3 0h9m4 0h1m1 0h13m1 0h8m1 0h10m1 0h17m1 0h10m1 0h1m1 0h10m2 0h2m5 0h1m3 0h12m1 0h8m1 0h3m4 0h3m1 0h2m1 0h2m2 0h1m2 0h4m1 0h1m1 0h4m3 0h1m4 0h4m3 0h2m2 0h1m1 0h1m1 0h2m1 0h1m1 0h6m7 0h4m1 0h2m1 0h2m4 0h6m1 0h5m3 0h2m1 0h1m2 0h1m1 0h5m5 0h5m4 0h1m1 0h10m1 0h2m1 0h3m1 0h16m8 0h7m1 0h2m3 0h2m-488 1h4m1 0h1m1 0h4m1 0h1m4 0h1m4 0h7m1 0h1m2 0h1m1 0h12m6 0h18m1 0h9m1 0h4m1 0h3m1 0h2m1 0h23m1 0h3m1 0h15m1 0h5m3 0h4m1 0h22m1 0h9m4 0h1m3 0h11m3 0h16m4 0h14m4 0h25m7 0h1m1 0h4m1 0h7m3 0h12m2 0h3m3 0h3m3 0h9m1 0h3m1 0h1m1 0h2m2 0h7m1 0h2m6 0h12m2 0h8m3 0h2m1 0h2m5 0h4m1 0h2m1 0h3m2 0h1m6 0h6m4 0h1m1 0h3m8 0h3m1 0h7m3 0h20m8 0h3m1 0h6m1 0h4m-488 1h13m1 0h4m4 0h12m1 0h7m2 0h3m1 0h2m1 0h12m1 0h15m3 0h2m3 0h1m3 0h2m1 0h21m3 0h25m1 0h37m3 0h4m1 0h13m1 0h2m1 0h4m1 0h7m6 0h12m5 0h11m1 0h15m1 0h2m3 0h5m3 0h7m2 0h3m1 0h14m1 0h5m1 0h4m1 0h4m3 0h1m3 0h2m3 0h8m5 0h1m1 0h2m1 0h1m2 0h5m4 0h2m1 0h6m1 0h2m3 0h3m4 0h2m6 0h2m3 0h1m4 0h8m1 0h2m3 0h3m6 0h3m3 0h7m1 0h4m1 0h18m2 0h2m1 0h3m3 0h11m-499 1h1m10 0h2m1 0h1m2 0h1m1 0h1m1 0h1m1 0h4m3 0h1m2 0h1m1 0h2m2 0h4m2 0h6m2 0h4m2 0h5m1 0h6m4 0h15m1 0h4m1 0h3m1 0h2m3 0h19m1 0h1m1 0h48m1 0h16m1 0h21m3 0h2m3 0h5m8 0h10m4 0h12m3 0h18m3 0h2m2 0h1m1 0h8m3 0h1m4 0h14m1 0h6m4 0h3m2 0h3m1 0h4m1 0h3m1 0h3m7 0h3m6 0h3m4 0h2m3 0h9m1 0h1m1 0h1m4 0h4m4 0h4m1 0h4m3 0h11m1 0h3m1 0h3m4 0h2m3 0h9m1 0h1m3 0h14m1 0h2m4 0h4m2 0h11m-499 1h3m21 0h2m4 0h1m1 0h1m7 0h3m4 0h1m1 0h3m1 0h3m5 0h3m3 0h7m2 0h28m1 0h2m1 0h2m1 0h13m4 0h47m3 0h30m1 0h7m1 0h4m1 0h7m1 0h4m1 0h12m1 0h15m3 0h10m1 0h5m3 0h2m6 0h8m1 0h2m5 0h12m3 0h1m1 0h2m4 0h3m4 0h1m3 0h1m1 0h1m1 0h2m3 0h1m5 0h1m1 0h3m3 0h1m2 0h1m1 0h3m1 0h2m1 0h2m1 0h3m1 0h2m1 0h4m3 0h1m1 0h8m1 0h4m1 0h6m2 0h7m1 0h6m3 0h3m2 0h4m1 0h8m4 0h1m1 0h2m1 0h11m3 0h2m4 0h2m3 0h10m-497 1h1m10 0h1m10 0h3m14 0h3m1 0h1m3 0h1m1 0h1m2 0h2m1 0h2m2 0h3m3 0h12m1 0h19m1 0h1m1 0h5m6 0h10m1 0h2m4 0h1m1 0h28m1 0h16m1 0h15m1 0h12m1 0h1m3 0h14m1 0h33m1 0h5m2 0h9m3 0h1m1 0h3m1 0h3m3 0h1m1 0h7m1 0h2m4 0h1m1 0h2m1 0h7m1 0h2m7 0h1m4 0h3m4 0h1m1 0h1m8 0h3m5 0h5m1 0h1m1 0h2m3 0h4m4 0h3m6 0h4m2 0h2m1 0h3m1 0h4m1 0h2m3 0h4m4 0h4m4 0h6m1 0h3m3 0h1m1 0h10m4 0h4m3 0h10m2 0h1m5 0h4m1 0h3m1 0h8m-499 1h1m10 0h3m9 0h2m3 0h3m10 0h5m1 0h4m1 0h1m4 0h20m3 0h4m1 0h12m5 0h5m1 0h2m1 0h10m3 0h3m1 0h1m3 0h26m3 0h25m1 0h4m3 0h10m3 0h1m1 0h9m1 0h1m1 0h2m3 0h12m1 0h14m1 0h3m3 0h4m3 0h9m1 0h1m3 0h5m3 0h1m1 0h7m7 0h4m3 0h5m3 0h2m1 0h2m4 0h1m2 0h2m1 0h3m1 0h5m1 0h1m1 0h2m1 0h3m3 0h1m1 0h6m8 0h2m1 0h2m4 0h3m1 0h2m1 0h2m1 0h2m6 0h1m4 0h1m3 0h2m1 0h2m1 0h1m4 0h4m6 0h10m1 0h1m3 0h2m1 0h5m3 0h4m1 0h2m1 0h10m8 0h6m1 0h1m3 0h8m-501 1h3m10 0h1m9 0h4m1 0h5m9 0h4m1 0h1m1 0h6m2 0h22m1 0h1m1 0h3m2 0h9m1 0h2m1 0h1m1 0h21m1 0h7m1 0h9m1 0h10m1 0h7m1 0h25m3 0h4m1 0h11m2 0h11m5 0h2m1 0h12m3 0h9m1 0h2m3 0h3m1 0h6m1 0h12m4 0h5m1 0h1m3 0h7m7 0h4m1 0h1m1 0h5m1 0h1m2 0h1m1 0h2m6 0h1m3 0h2m1 0h6m6 0h2m2 0h7m5 0h2m7 0h3m1 0h2m1 0h6m3 0h2m1 0h2m1 0h3m4 0h1m1 0h5m3 0h1m3 0h4m6 0h13m1 0h2m3 0h3m1 0h1m1 0h4m3 0h7m2 0h4m1 0h1m3 0h3m1 0h3m3 0h1m3 0h6m-499 1h1m20 0h8m1 0h1m3 0h1m7 0h9m1 0h27m1 0h3m4 0h7m3 0h34m1 0h7m3 0h5m1 0h2m3 0h33m1 0h16m3 0h3m1 0h8m1 0h1m1 0h17m1 0h9m3 0h2m1 0h25m4 0h3m1 0h3m1 0h7m5 0h1m1 0h6m3 0h5m6 0h3m1 0h1m1 0h1m1 0h1m2 0h1m3 0h2m1 0h3m1 0h2m1 0h2m3 0h6m6 0h3m2 0h2m1 0h2m1 0h3m3 0h4m5 0h9m4 0h6m3 0h2m2 0h3m1 0h1m2 0h1m1 0h16m1 0h1m1 0h3m3 0h6m1 0h7m4 0h4m3 0h3m3 0h1m1 0h1m1 0h2m5 0h5m-478 1h1m2 0h4m4 0h3m8 0h3m1 0h1m1 0h5m1 0h8m1 0h1m1 0h11m3 0h3m1 0h10m1 0h25m1 0h8m3 0h7m1 0h1m1 0h3m3 0h2m1 0h52m1 0h3m3 0h6m1 0h19m3 0h9m1 0h31m1 0h3m3 0h9m4 0h2m1 0h3m1 0h3m3 0h6m2 0h1m1 0h7m6 0h1m7 0h2m4 0h2m1 0h1m1 0h5m7 0h8m3 0h3m1 0h6m5 0h7m4 0h8m2 0h2m3 0h1m6 0h16m5 0h3m1 0h6m3 0h7m2 0h6m1 0h4m2 0h8m6 0h2m-480 1h1m7 0h2m2 0h4m8 0h12m1 0h1m1 0h5m3 0h1m1 0h3m1 0h7m1 0h40m3 0h8m1 0h9m3 0h3m3 0h25m1 0h9m1 0h23m1 0h6m3 0h19m1 0h4m1 0h27m1 0h7m1 0h6m1 0h11m3 0h1m7 0h3m1 0h6m3 0h6m1 0h1m1 0h1m1 0h2m3 0h1m12 0h3m3 0h3m4 0h1m4 0h8m3 0h9m1 0h2m1 0h9m1 0h1m1 0h7m4 0h2m1 0h3m1 0h2m1 0h5m1 0h12m1 0h1m1 0h6m1 0h4m3 0h19m3 0h6m1 0h2m1 0h1m4 0h2m-482 1h4m5 0h8m6 0h10m2 0h11m1 0h7m1 0h1m1 0h46m1 0h20m1 0h5m2 0h24m3 0h7m3 0h22m1 0h7m1 0h24m3 0h4m1 0h20m3 0h5m3 0h11m1 0h6m1 0h3m8 0h9m1 0h6m6 0h2m4 0h1m1 0h3m1 0h1m6 0h3m1 0h1m1 0h1m3 0h2m1 0h2m3 0h8m1 0h3m1 0h5m3 0h11m4 0h7m7 0h10m3 0h2m1 0h2m2 0h5m3 0h4m3 0h3m3 0h7m1 0h12m1 0h2m1 0h3m3 0h5m1 0h3m-487 1h1m5 0h4m2 0h2m1 0h9m4 0h5m1 0h3m4 0h1m1 0h1m1 0h5m1 0h7m3 0h1m1 0h34m3 0h35m3 0h15m1 0h8m1 0h9m1 0h22m3 0h32m1 0h4m3 0h20m1 0h7m1 0h6m1 0h4m3 0h3m1 0h3m1 0h3m8 0h6m1 0h1m1 0h6m6 0h2m2 0h1m3 0h3m3 0h2m1 0h5m10 0h2m1 0h8m3 0h1m3 0h4m4 0h5m1 0h3m6 0h8m1 0h1m3 0h1m1 0h9m1 0h2m7 0h4m2 0h6m1 0h4m4 0h5m3 0h9m1 0h3m3 0h3m1 0h10m-488 1h3m6 0h1m2 0h4m1 0h9m4 0h1m6 0h1m4 0h15m1 0h2m1 0h2m1 0h1m1 0h24m1 0h1m1 0h4m4 0h8m1 0h27m1 0h15m3 0h32m1 0h8m1 0h2m1 0h36m1 0h10m1 0h6m1 0h12m1 0h4m3 0h1m1 0h2m1 0h3m3 0h1m3 0h3m2 0h1m5 0h4m5 0h5m7 0h5m1 0h1m2 0h1m3 0h9m1 0h2m2 0h2m1 0h4m1 0h3m1 0h4m1 0h3m1 0h4m4 0h4m4 0h3m2 0h1m1 0h12m1 0h1m3 0h1m1 0h9m7 0h3m4 0h9m1 0h1m2 0h3m1 0h3m1 0h3m1 0h5m3 0h3m1 0h15m-501 1h1m13 0h1m11 0h2m1 0h1m1 0h1m1 0h1m3 0h1m4 0h3m2 0h1m1 0h3m3 0h8m1 0h3m1 0h2m1 0h12m1 0h4m1 0h13m5 0h4m1 0h9m3 0h14m1 0h27m2 0h12m1 0h3m1 0h12m1 0h2m3 0h9m3 0h15m1 0h5m1 0h23m3 0h4m3 0h10m3 0h4m1 0h1m3 0h6m1 0h1m3 0h6m3 0h1m1 0h6m1 0h1m1 0h2m1 0h2m8 0h2m1 0h3m6 0h1m1 0h5m1 0h10m1 0h2m3 0h1m3 0h3m1 0h9m1 0h4m6 0h22m1 0h1m4 0h1m1 0h6m5 0h4m5 0h7m3 0h4m3 0h5m3 0h5m1 0h8m1 0h8m1 0h2m-502 1h3m26 0h3m10 0h3m2 0h3m1 0h3m3 0h6m1 0h10m1 0h8m1 0h4m4 0h12m1 0h1m1 0h16m1 0h12m1 0h1m4 0h3m1 0h20m3 0h2m1 0h4m1 0h3m3 0h1m3 0h10m3 0h2m1 0h6m1 0h4m1 0h9m1 0h5m3 0h3m3 0h15m1 0h7m1 0h6m2 0h11m1 0h8m1 0h10m1 0h8m1 0h5m2 0h6m8 0h2m1 0h2m3 0h3m8 0h3m3 0h2m1 0h5m3 0h2m2 0h2m1 0h3m3 0h1m1 0h2m1 0h4m1 0h2m6 0h5m2 0h1m1 0h17m6 0h7m1 0h5m3 0h1m1 0h9m1 0h6m3 0h4m3 0h7m1 0h5m3 0h4m1 0h1m3 0h1m-501 1h1m12 0h1m1 0h1m13 0h2m11 0h1m4 0h1m2 0h4m3 0h1m1 0h1m2 0h1m1 0h10m1 0h1m1 0h4m1 0h6m4 0h2m2 0h38m3 0h1m4 0h1m3 0h4m1 0h15m1 0h2m3 0h2m3 0h3m1 0h3m1 0h12m1 0h9m3 0h12m3 0h5m1 0h5m1 0h12m1 0h2m3 0h13m3 0h12m1 0h15m1 0h4m2 0h4m1 0h3m5 0h2m1 0h3m1 0h2m3 0h2m1 0h3m3 0h4m3 0h2m1 0h5m6 0h5m1 0h3m6 0h3m1 0h1m7 0h1m3 0h2m1 0h1m1 0h5m7 0h3m1 0h11m4 0h1m1 0h1m1 0h4m1 0h6m3 0h10m1 0h9m1 0h6m1 0h7m3 0h5m1 0h4m3 0h1m1 0h2m-489 1h5m6 0h1m5 0h3m2 0h1m11 0h9m1 0h1m2 0h1m1 0h1m3 0h8m3 0h4m3 0h7m2 0h3m3 0h7m1 0h29m1 0h2m3 0h3m1 0h25m1 0h4m1 0h1m1 0h9m1 0h7m1 0h1m1 0h10m1 0h14m1 0h11m1 0h12m4 0h1m1 0h13m3 0h12m3 0h13m3 0h2m4 0h2m3 0h1m5 0h2m7 0h2m1 0h2m3 0h3m1 0h5m3 0h5m1 0h3m6 0h1m1 0h7m1 0h2m1 0h7m1 0h2m4 0h1m1 0h4m3 0h1m1 0h1m5 0h1m1 0h3m3 0h4m1 0h1m1 0h1m1 0h2m1 0h4m4 0h1m3 0h6m1 0h10m3 0h24m1 0h12m1 0h5m-488 1h1m1 0h1m6 0h3m4 0h2m2 0h3m10 0h3m1 0h4m1 0h6m1 0h1m1 0h10m2 0h3m1 0h1m1 0h3m1 0h4m3 0h3m3 0h5m3 0h10m1 0h14m2 0h5m1 0h36m3 0h7m3 0h5m5 0h22m1 0h12m3 0h12m4 0h15m1 0h2m1 0h9m3 0h15m1 0h4m2 0h4m1 0h3m2 0h4m6 0h7m1 0h3m3 0h1m1 0h3m1 0h3m6 0h1m10 0h8m1 0h9m1 0h2m1 0h7m9 0h2m1 0h2m1 0h2m3 0h1m8 0h6m5 0h1m1 0h15m2 0h2m1 0h19m1 0h5m1 0h4m1 0h2m1 0h10m-478 1h1m4 0h4m2 0h1m5 0h2m3 0h5m2 0h1m2 0h2m1 0h3m2 0h4m3 0h4m3 0h1m3 0h3m3 0h4m1 0h2m4 0h6m2 0h9m1 0h7m1 0h7m4 0h1m1 0h8m1 0h14m1 0h11m1 0h4m1 0h4m1 0h4m1 0h4m1 0h2m1 0h1m1 0h11m1 0h4m1 0h5m3 0h12m1 0h11m1 0h3m1 0h13m1 0h4m3 0h9m3 0h12m1 0h10m1 0h2m1 0h1m4 0h1m4 0h1m2 0h7m1 0h3m1 0h1m1 0h1m3 0h1m1 0h3m8 0h1m1 0h3m1 0h1m4 0h6m3 0h7m3 0h10m1 0h2m1 0h2m1 0h2m6 0h2m1 0h1m4 0h1m1 0h1m1 0h3m1 0h4m1 0h1m1 0h4m1 0h12m5 0h16m1 0h2m3 0h3m3 0h2m6 0h1m1 0h7m-486 1h1m12 0h5m6 0h4m1 0h3m1 0h3m3 0h11m6 0h3m2 0h3m2 0h4m1 0h7m4 0h4m1 0h12m3 0h5m3 0h7m2 0h1m3 0h4m1 0h1m3 0h24m3 0h2m3 0h2m3 0h1m1 0h5m3 0h2m3 0h9m3 0h2m3 0h5m2 0h13m2 0h8m3 0h15m3 0h4m1 0h10m3 0h11m3 0h8m19 0h5m3 0h1m3 0h3m1 0h1m3 0h2m7 0h3m2 0h5m1 0h4m1 0h3m1 0h9m1 0h5m1 0h4m3 0h3m6 0h2m1 0h1m1 0h3m4 0h6m3 0h5m1 0h3m3 0h10m1 0h1m5 0h4m1 0h9m3 0h2m1 0h1m1 0h2m2 0h3m2 0h2m1 0h1m3 0h6m-487 1h3m10 0h3m1 0h1m1 0h1m6 0h3m2 0h1m2 0h3m1 0h1m1 0h5m1 0h1m2 0h3m1 0h2m1 0h10m1 0h6m2 0h5m1 0h5m2 0h5m1 0h1m1 0h5m1 0h7m1 0h12m1 0h8m1 0h8m1 0h17m1 0h2m3 0h2m1 0h1m1 0h1m3 0h5m1 0h4m1 0h9m3 0h4m1 0h5m4 0h11m4 0h3m1 0h4m1 0h4m1 0h12m1 0h1m1 0h15m1 0h6m1 0h6m1 0h1m1 0h7m5 0h1m1 0h1m4 0h1m1 0h2m2 0h7m1 0h1m6 0h4m6 0h2m4 0h1m4 0h1m1 0h6m3 0h4m1 0h2m1 0h2m1 0h3m1 0h2m3 0h1m4 0h4m2 0h2m4 0h1m3 0h1m8 0h2m4 0h4m3 0h3m1 0h4m1 0h4m5 0h2m2 0h1m1 0h13m1 0h1m2 0h1m6 0h3m4 0h3m1 0h7m-486 1h1m10 0h3m3 0h3m6 0h1m7 0h5m1 0h4m3 0h8m1 0h6m1 0h1m1 0h3m1 0h1m5 0h10m1 0h1m1 0h3m3 0h5m1 0h8m1 0h1m1 0h7m1 0h2m1 0h16m3 0h9m2 0h7m1 0h1m1 0h2m3 0h3m1 0h1m1 0h3m3 0h3m1 0h7m1 0h2m1 0h1m1 0h10m2 0h6m1 0h3m2 0h1m2 0h3m3 0h2m3 0h2m3 0h12m3 0h3m1 0h1m1 0h6m4 0h4m3 0h6m3 0h7m6 0h2m1 0h5m3 0h8m8 0h2m1 0h1m4 0h1m5 0h2m3 0h1m4 0h3m4 0h3m9 0h1m3 0h1m2 0h1m4 0h4m3 0h3m4 0h1m1 0h1m1 0h1m1 0h1m6 0h1m5 0h4m2 0h7m3 0h1m8 0h1m5 0h1m1 0h9m5 0h2m1 0h2m1 0h5m4 0h10m-474 1h1m5 0h1m6 0h2m8 0h1m1 0h1m3 0h2m1 0h1m3 0h3m1 0h9m3 0h1m1 0h2m1 0h1m6 0h16m1 0h4m4 0h8m3 0h5m6 0h7m1 0h5m1 0h2m1 0h7m1 0h1m4 0h12m1 0h1m2 0h2m4 0h2m1 0h3m3 0h5m3 0h2m3 0h6m1 0h2m3 0h4m3 0h1m4 0h1m1 0h4m1 0h2m3 0h4m1 0h1m1 0h12m2 0h2m5 0h4m4 0h6m1 0h8m1 0h10m5 0h6m3 0h10m1 0h1m2 0h1m1 0h2m6 0h1m4 0h3m3 0h1m6 0h3m4 0h3m1 0h2m4 0h3m8 0h2m1 0h4m3 0h2m5 0h1m3 0h1m8 0h1m1 0h1m1 0h3m5 0h7m1 0h1m8 0h3m1 0h1m1 0h4m1 0h8m1 0h1m3 0h1m1 0h4m1 0h5m1 0h11m-480 1h1m17 0h4m1 0h1m1 0h1m3 0h1m7 0h3m6 0h10m1 0h5m1 0h3m1 0h1m1 0h6m1 0h5m1 0h7m1 0h2m2 0h5m1 0h4m1 0h7m1 0h2m1 0h7m3 0h3m3 0h8m3 0h1m3 0h13m4 0h2m5 0h5m1 0h6m3 0h3m1 0h4m5 0h2m1 0h1m1 0h4m1 0h3m2 0h1m3 0h7m1 0h6m3 0h2m1 0h7m4 0h1m2 0h1m1 0h6m1 0h4m1 0h2m1 0h8m3 0h8m3 0h1m1 0h1m1 0h6m1 0h8m1 0h4m3 0h2m7 0h2m4 0h2m2 0h1m7 0h1m1 0h3m1 0h6m3 0h5m4 0h1m7 0h4m1 0h1m1 0h1m4 0h3m11 0h3m1 0h1m6 0h5m1 0h1m6 0h2m1 0h11m3 0h6m1 0h3m5 0h1m4 0h1m2 0h7m1 0h2m2 0h1m-481 1h3m8 0h1m8 0h2m1 0h5m1 0h3m7 0h1m4 0h1m3 0h4m2 0h8m3 0h3m3 0h1m2 0h1m2 0h2m1 0h3m1 0h2m1 0h2m3 0h2m1 0h9m1 0h20m1 0h5m1 0h4m1 0h3m1 0h1m1 0h3m3 0h13m2 0h5m4 0h12m1 0h3m3 0h2m5 0h4m3 0h11m1 0h16m1 0h2m3 0h5m8 0h11m8 0h7m1 0h6m1 0h3m1 0h3m4 0h3m1 0h1m1 0h2m1 0h2m4 0h1m1 0h1m2 0h4m1 0h2m2 0h3m8 0h2m1 0h3m5 0h8m4 0h3m1 0h2m1 0h2m7 0h6m6 0h4m7 0h2m3 0h1m7 0h4m1 0h1m3 0h1m4 0h15m3 0h1m1 0h3m3 0h1m1 0h1m1 0h1m1 0h1m4 0h2m1 0h4m1 0h2m-473 1h1m5 0h1m2 0h3m2 0h1m8 0h4m2 0h1m2 0h1m9 0h3m2 0h10m1 0h4m1 0h2m1 0h2m1 0h1m5 0h3m1 0h5m1 0h3m2 0h1m4 0h7m3 0h9m1 0h4m3 0h1m1 0h10m3 0h1m3 0h5m1 0h12m1 0h9m3 0h13m1 0h2m2 0h4m2 0h7m1 0h9m1 0h1m1 0h1m1 0h3m1 0h15m1 0h7m1 0h1m4 0h7m1 0h1m1 0h1m4 0h2m4 0h12m3 0h7m24 0h5m3 0h2m5 0h1m3 0h1m2 0h4m3 0h4m1 0h3m4 0h1m1 0h1m3 0h5m4 0h5m1 0h1m8 0h3m8 0h1m3 0h2m1 0h1m5 0h2m3 0h1m1 0h4m1 0h10m1 0h6m1 0h4m1 0h2m1 0h1m3 0h5m2 0h7m3 0h2m5 0h1m-475 1h3m2 0h1m2 0h3m3 0h1m5 0h1m1 0h1m3 0h3m3 0h1m5 0h2m1 0h6m1 0h5m2 0h1m1 0h1m1 0h7m1 0h1m1 0h1m1 0h2m1 0h4m3 0h4m4 0h8m3 0h8m3 0h2m3 0h1m3 0h10m1 0h3m1 0h18m3 0h9m1 0h13m6 0h22m7 0h1m3 0h12m1 0h11m3 0h7m5 0h1m1 0h4m1 0h1m1 0h14m1 0h5m1 0h1m8 0h1m1 0h2m4 0h1m4 0h1m3 0h6m1 0h1m1 0h2m13 0h2m3 0h3m3 0h1m3 0h1m4 0h1m3 0h4m2 0h3m1 0h2m12 0h1m1 0h1m3 0h2m5 0h4m7 0h2m1 0h3m1 0h11m1 0h4m1 0h8m3 0h3m2 0h3m1 0h2m4 0h6m1 0h4m1 0h4m-481 1h1m6 0h1m7 0h1m3 0h3m3 0h1m1 0h3m2 0h3m1 0h4m2 0h12m1 0h3m8 0h3m1 0h15m1 0h6m2 0h8m6 0h7m3 0h2m1 0h3m1 0h4m1 0h28m3 0h2m1 0h22m1 0h2m1 0h3m1 0h14m1 0h3m3 0h1m3 0h3m1 0h12m3 0h5m1 0h5m1 0h4m1 0h3m4 0h6m3 0h15m1 0h4m7 0h1m4 0h5m1 0h3m1 0h4m1 0h3m1 0h4m3 0h1m4 0h2m8 0h2m1 0h4m2 0h1m9 0h1m3 0h3m3 0h2m15 0h1m6 0h3m3 0h1m1 0h4m1 0h1m1 0h1m1 0h6m3 0h3m3 0h2m4 0h1m4 0h8m1 0h3m2 0h3m3 0h2m4 0h4m1 0h4m2 0h4m-482 1h3m9 0h1m8 0h1m3 0h3m1 0h1m3 0h4m1 0h3m1 0h12m3 0h1m5 0h2m1 0h1m1 0h1m3 0h3m1 0h12m1 0h5m2 0h8m1 0h1m1 0h5m1 0h4m1 0h2m3 0h37m1 0h2m3 0h27m3 0h12m3 0h2m2 0h3m1 0h18m1 0h5m3 0h8m3 0h1m3 0h9m1 0h12m1 0h2m3 0h2m1 0h1m1 0h1m1 0h1m2 0h3m1 0h4m1 0h9m1 0h3m3 0h2m1 0h1m1 0h1m4 0h5m1 0h1m3 0h7m8 0h1m3 0h3m3 0h1m3 0h4m1 0h2m1 0h1m2 0h2m1 0h1m3 0h1m6 0h3m6 0h4m3 0h2m2 0h3m2 0h3m9 0h1m4 0h5m3 0h5m3 0h3m1 0h2m1 0h2m1 0h3m4 0h2m4 0h3m-481 1h1m9 0h3m10 0h1m1 0h1m6 0h3m3 0h1m2 0h11m1 0h1m5 0h1m2 0h2m1 0h3m4 0h1m2 0h19m3 0h13m3 0h5m1 0h1m1 0h19m1 0h20m1 0h1m1 0h2m1 0h26m1 0h14m6 0h6m1 0h17m1 0h4m1 0h3m1 0h2m1 0h3m1 0h3m1 0h22m3 0h2m1 0h1m4 0h4m3 0h1m2 0h3m4 0h6m3 0h3m2 0h1m3 0h3m2 0h2m2 0h1m2 0h2m1 0h7m1 0h1m5 0h8m3 0h3m1 0h4m4 0h1m3 0h1m3 0h1m1 0h2m3 0h1m2 0h4m1 0h2m1 0h4m1 0h1m1 0h2m8 0h4m4 0h1m3 0h2m1 0h6m5 0h4m2 0h4m3 0h1m1 0h1m2 0h1m4 0h4m-472 1h1m7 0h1m3 0h1m6 0h3m8 0h1m6 0h6m1 0h10m1 0h4m4 0h3m4 0h15m1 0h6m3 0h13m1 0h5m3 0h4m1 0h14m3 0h18m3 0h2m3 0h20m1 0h19m5 0h6m4 0h14m3 0h1m1 0h4m6 0h2m1 0h10m1 0h4m1 0h11m2 0h3m4 0h6m1 0h1m4 0h1m1 0h1m4 0h2m1 0h3m4 0h1m3 0h1m1 0h4m10 0h4m1 0h3m4 0h2m2 0h9m1 0h10m12 0h3m7 0h10m3 0h4m6 0h3m1 0h1m1 0h1m3 0h1m1 0h4m1 0h6m3 0h3m2 0h3m1 0h2m3 0h3m2 0h2m1 0h1m2 0h1m1 0h3m-482 1h1m1 0h1m4 0h3m2 0h1m6 0h3m6 0h1m8 0h3m1 0h1m4 0h4m1 0h3m1 0h13m2 0h5m1 0h11m1 0h13m1 0h16m1 0h4m1 0h4m3 0h4m1 0h9m1 0h13m1 0h2m1 0h3m1 0h2m3 0h17m1 0h2m3 0h3m1 0h11m1 0h5m1 0h8m4 0h8m1 0h3m7 0h4m1 0h2m1 0h2m3 0h8m3 0h2m4 0h5m1 0h3m3 0h3m1 0h5m1 0h5m2 0h1m6 0h2m3 0h3m4 0h1m1 0h2m1 0h4m2 0h2m8 0h1m3 0h3m4 0h1m3 0h1m1 0h1m1 0h3m1 0h2m1 0h7m14 0h1m1 0h1m2 0h2m1 0h1m1 0h10m1 0h8m4 0h3m3 0h1m3 0h1m1 0h2m3 0h8m1 0h2m2 0h1m1 0h3m1 0h1m1 0h7m4 0h3m1 0h3m-484 1h5m4 0h1m2 0h3m2 0h3m1 0h1m1 0h1m4 0h3m5 0h1m2 0h5m5 0h1m1 0h1m1 0h1m3 0h1m4 0h4m1 0h1m3 0h4m1 0h1m1 0h2m2 0h1m1 0h1m1 0h17m1 0h14m3 0h9m1 0h10m1 0h7m1 0h9m6 0h6m1 0h17m3 0h2m1 0h3m3 0h9m3 0h5m1 0h9m1 0h8m3 0h3m1 0h1m1 0h1m1 0h12m1 0h10m1 0h4m4 0h1m1 0h1m3 0h3m1 0h5m1 0h3m3 0h8m1 0h2m1 0h4m1 0h5m2 0h4m4 0h1m4 0h2m3 0h1m4 0h1m1 0h2m1 0h3m1 0h3m7 0h1m6 0h5m11 0h1m2 0h1m3 0h5m3 0h15m1 0h2m1 0h1m1 0h3m1 0h1m3 0h1m1 0h1m3 0h2m2 0h1m1 0h1m1 0h3m3 0h3m3 0h1m3 0h3m1 0h1m1 0h3m3 0h2m3 0h1m-482 1h1m1 0h1m7 0h1m1 0h1m2 0h5m1 0h3m4 0h1m5 0h10m5 0h5m1 0h2m6 0h3m1 0h2m2 0h1m2 0h1m1 0h19m1 0h7m1 0h14m1 0h20m1 0h7m3 0h9m1 0h2m1 0h6m3 0h3m1 0h13m1 0h8m1 0h11m2 0h4m3 0h13m1 0h4m1 0h5m3 0h15m1 0h4m1 0h10m1 0h1m3 0h1m1 0h9m3 0h3m1 0h9m2 0h6m2 0h3m3 0h5m4 0h1m2 0h2m4 0h1m4 0h3m3 0h1m1 0h4m11 0h1m1 0h6m3 0h1m1 0h1m1 0h2m1 0h2m5 0h3m1 0h2m2 0h8m1 0h6m6 0h1m1 0h1m3 0h1m1 0h5m1 0h7m3 0h1m1 0h1m1 0h5m1 0h3m1 0h3m1 0h1m3 0h2m2 0h4m6 0h1m-490 1h1m12 0h3m4 0h4m2 0h3m2 0h2m6 0h1m2 0h5m5 0h3m1 0h4m5 0h1m2 0h22m1 0h14m4 0h12m3 0h28m1 0h15m1 0h5m1 0h3m3 0h8m1 0h13m1 0h3m1 0h6m3 0h2m3 0h13m3 0h10m1 0h10m1 0h4m3 0h2m3 0h12m1 0h13m1 0h13m4 0h4m4 0h3m1 0h5m1 0h2m1 0h3m1 0h1m1 0h1m2 0h3m3 0h4m1 0h1m3 0h4m11 0h3m1 0h4m1 0h1m2 0h7m5 0h1m7 0h4m1 0h2m3 0h3m1 0h2m1 0h2m1 0h1m3 0h1m1 0h1m1 0h12m7 0h3m2 0h1m3 0h2m1 0h6m7 0h1m1 0h2m2 0h1m-488 1h3m12 0h1m7 0h3m2 0h1m10 0h9m3 0h1m2 0h1m1 0h3m6 0h2m3 0h1m1 0h12m1 0h1m2 0h1m1 0h1m4 0h10m1 0h2m1 0h14m1 0h1m1 0h3m1 0h38m3 0h9m1 0h3m1 0h4m3 0h11m3 0h1m3 0h4m4 0h3m1 0h15m1 0h21m3 0h4m1 0h4m1 0h42m2 0h4m4 0h3m3 0h3m3 0h4m6 0h3m5 0h6m1 0h1m1 0h5m1 0h1m2 0h1m1 0h1m1 0h1m6 0h3m5 0h1m1 0h2m3 0h1m6 0h2m2 0h3m3 0h1m3 0h2m4 0h6m1 0h3m3 0h10m8 0h3m1 0h3m2 0h3m1 0h1m1 0h4m5 0h3m4 0h1m-487 1h1m14 0h1m3 0h1m3 0h1m13 0h3m1 0h2m1 0h2m3 0h3m3 0h4m4 0h4m1 0h4m1 0h9m1 0h1m2 0h5m4 0h4m7 0h15m3 0h9m1 0h5m1 0h5m1 0h14m1 0h7m1 0h13m3 0h2m3 0h13m3 0h1m1 0h1m1 0h4m4 0h1m1 0h5m1 0h3m1 0h29m1 0h36m1 0h23m1 0h5m2 0h5m1 0h1m1 0h4m1 0h1m4 0h3m4 0h7m3 0h4m5 0h3m9 0h1m11 0h2m11 0h3m3 0h1m1 0h3m5 0h10m1 0h2m1 0h3m1 0h1m1 0h3m5 0h1m2 0h1m1 0h1m1 0h1m4 0h3m3 0h2m7 0h1m5 0h1m-489 1h1m15 0h3m1 0h3m13 0h1m3 0h1m1 0h3m7 0h1m2 0h1m1 0h3m4 0h4m1 0h6m1 0h5m1 0h5m2 0h1m1 0h1m1 0h1m4 0h3m7 0h16m1 0h9m3 0h6m1 0h3m1 0h4m1 0h8m3 0h16m1 0h4m1 0h4m1 0h11m1 0h3m1 0h11m5 0h3m3 0h1m3 0h22m1 0h23m1 0h2m1 0h5m2 0h7m4 0h9m1 0h4m1 0h8m1 0h2m3 0h6m3 0h1m1 0h5m1 0h5m3 0h1m1 0h4m4 0h1m1 0h1m5 0h3m13 0h2m1 0h1m1 0h2m1 0h2m4 0h1m3 0h1m4 0h2m4 0h5m1 0h1m2 0h6m1 0h5m3 0h1m3 0h2m5 0h3m1 0h5m6 0h1m-470 1h3m15 0h1m3 0h3m11 0h3m3 0h1m1 0h1m10 0h3m1 0h1m3 0h1m1 0h3m3 0h6m1 0h7m1 0h1m3 0h6m2 0h4m4 0h26m1 0h3m1 0h2m1 0h3m3 0h1m3 0h2m3 0h8m3 0h4m1 0h9m3 0h2m3 0h14m3 0h17m1 0h1m1 0h1m1 0h1m1 0h3m2 0h2m1 0h18m3 0h21m6 0h3m4 0h2m1 0h2m1 0h1m4 0h7m3 0h2m3 0h6m3 0h2m1 0h7m2 0h1m5 0h2m1 0h4m7 0h2m4 0h1m3 0h1m4 0h3m8 0h1m5 0h1m2 0h6m9 0h1m2 0h4m2 0h5m1 0h2m3 0h4m3 0h5m1 0h3m1 0h1m6 0h5m1 0h1m1 0h2m16 0h1m4 0h1m4 0h1m-489 1h1m21 0h1m8 0h1m4 0h1m3 0h3m5 0h1m6 0h1m1 0h1m1 0h1m1 0h6m3 0h5m4 0h4m1 0h3m1 0h7m2 0h5m2 0h2m1 0h4m2 0h1m2 0h4m2 0h14m4 0h3m1 0h2m2 0h4m1 0h10m1 0h4m3 0h7m1 0h1m1 0h4m1 0h1m1 0h14m1 0h12m1 0h4m3 0h1m3 0h3m7 0h4m1 0h13m1 0h15m1 0h2m1 0h4m1 0h2m3 0h2m3 0h2m6 0h2m1 0h9m1 0h4m1 0h8m1 0h8m1 0h1m3 0h2m8 0h4m3 0h1m1 0h4m4 0h1m1 0h1m4 0h2m4 0h2m1 0h1m13 0h5m3 0h1m5 0h6m3 0h3m4 0h1m1 0h6m1 0h4m1 0h6m4 0h1m3 0h4m3 0h3m14 0h3m2 0h3m2 0h2m-478 1h1m18 0h3m2 0h1m3 0h1m1 0h2m4 0h6m3 0h5m1 0h6m1 0h5m1 0h1m2 0h4m2 0h1m1 0h8m1 0h1m2 0h2m1 0h5m2 0h2m6 0h2m1 0h1m3 0h12m6 0h3m1 0h1m1 0h15m3 0h2m3 0h7m3 0h6m3 0h18m1 0h6m3 0h4m1 0h3m1 0h5m2 0h1m4 0h2m3 0h16m1 0h1m1 0h1m1 0h6m3 0h10m1 0h2m4 0h3m1 0h1m3 0h5m1 0h8m1 0h1m1 0h9m1 0h7m5 0h5m2 0h2m1 0h2m1 0h2m3 0h1m1 0h6m1 0h5m3 0h1m5 0h1m1 0h1m9 0h1m5 0h1m1 0h1m3 0h4m4 0h4m1 0h1m1 0h4m5 0h7m1 0h3m3 0h6m2 0h2m2 0h1m3 0h2m3 0h1m3 0h1m12 0h1m4 0h1m2 0h3m-479 1h3m18 0h1m2 0h3m1 0h6m2 0h1m1 0h6m3 0h1m1 0h1m2 0h3m1 0h1m3 0h1m1 0h1m1 0h3m2 0h3m5 0h4m1 0h1m5 0h8m1 0h1m1 0h2m1 0h2m2 0h1m1 0h3m1 0h2m1 0h2m1 0h8m1 0h2m1 0h3m1 0h19m1 0h4m2 0h8m1 0h8m1 0h18m3 0h2m2 0h2m1 0h17m4 0h3m3 0h15m7 0h5m3 0h14m2 0h7m1 0h5m3 0h6m5 0h7m3 0h7m1 0h1m1 0h1m1 0h1m3 0h3m6 0h2m1 0h1m3 0h2m1 0h1m3 0h5m1 0h3m9 0h1m5 0h2m1 0h2m1 0h1m5 0h6m4 0h2m3 0h4m3 0h1m1 0h12m2 0h4m1 0h3m1 0h1m15 0h2m3 0h1m17 0h1m-477 1h1m3 0h1m2 0h1m16 0h1m3 0h1m2 0h2m1 0h3m1 0h2m1 0h3m7 0h2m1 0h3m1 0h5m1 0h1m4 0h3m1 0h1m2 0h3m3 0h1m1 0h2m2 0h4m1 0h1m1 0h3m1 0h3m2 0h8m3 0h1m1 0h6m3 0h31m3 0h18m1 0h17m1 0h2m4 0h8m1 0h9m5 0h4m1 0h2m1 0h10m1 0h3m1 0h1m1 0h1m1 0h7m1 0h24m1 0h6m1 0h8m1 0h1m1 0h9m2 0h3m1 0h2m1 0h1m9 0h2m2 0h2m1 0h5m9 0h2m1 0h3m1 0h4m3 0h1m4 0h2m2 0h3m6 0h1m5 0h4m4 0h4m1 0h1m1 0h4m1 0h2m1 0h5m1 0h2m1 0h10m1 0h3m20 0h3m3 0h1m9 0h1m-471 1h6m17 0h1m1 0h1m2 0h3m1 0h1m1 0h3m2 0h1m3 0h1m1 0h1m1 0h4m1 0h2m2 0h1m1 0h1m1 0h3m3 0h5m2 0h4m1 0h5m3 0h3m1 0h2m1 0h1m1 0h5m1 0h1m1 0h3m1 0h1m3 0h3m1 0h4m4 0h31m3 0h17m3 0h15m4 0h1m2 0h4m1 0h15m1 0h1m1 0h7m3 0h8m3 0h9m1 0h28m3 0h25m4 0h1m6 0h1m1 0h1m5 0h2m3 0h9m5 0h1m1 0h2m8 0h1m5 0h1m4 0h7m4 0h3m3 0h1m1 0h2m5 0h5m3 0h1m1 0h3m3 0h3m4 0h4m1 0h4m4 0h3m10 0h1m2 0h1m6 0h1m3 0h1m1 0h1m7 0h2m4 0h1m-475 1h1m1 0h3m16 0h5m2 0h1m5 0h1m6 0h5m1 0h7m5 0h3m4 0h1m1 0h1m2 0h2m1 0h8m1 0h1m2 0h1m1 0h4m1 0h7m3 0h2m2 0h1m1 0h10m2 0h8m1 0h5m1 0h18m1 0h1m1 0h17m1 0h17m4 0h2m1 0h25m1 0h2m3 0h10m1 0h1m1 0h7m3 0h15m1 0h1m1 0h10m1 0h18m1 0h6m4 0h3m1 0h1m3 0h5m1 0h3m3 0h2m1 0h1m2 0h4m3 0h4m1 0h2m8 0h1m1 0h1m1 0h1m7 0h5m5 0h1m8 0h1m1 0h1m1 0h7m5 0h3m1 0h5m4 0h7m5 0h4m1 0h1m1 0h1m4 0h6m25 0h2m-479 1h1m5 0h1m18 0h1m1 0h3m5 0h1m9 0h1m1 0h1m4 0h6m5 0h1m4 0h1m1 0h3m6 0h5m1 0h19m1 0h4m1 0h9m1 0h13m1 0h3m3 0h2m2 0h8m1 0h5m3 0h36m1 0h2m3 0h3m1 0h8m1 0h10m3 0h2m1 0h10m1 0h1m3 0h1m1 0h2m1 0h2m1 0h8m1 0h6m5 0h11m1 0h2m1 0h12m3 0h6m4 0h5m1 0h6m1 0h2m4 0h1m6 0h4m1 0h4m3 0h3m3 0h1m1 0h2m1 0h2m9 0h5m1 0h1m3 0h1m8 0h3m1 0h4m1 0h2m1 0h1m1 0h5m1 0h6m3 0h2m1 0h4m1 0h2m3 0h1m1 0h2m1 0h3m3 0h1m2 0h1m28 0h1m-489 1h1m7 0h3m26 0h1m5 0h3m2 0h1m1 0h1m5 0h1m5 0h4m8 0h1m1 0h3m1 0h1m7 0h2m1 0h33m1 0h3m2 0h11m2 0h1m1 0h2m1 0h3m3 0h6m3 0h5m1 0h9m2 0h4m1 0h4m1 0h19m2 0h3m3 0h6m3 0h4m1 0h5m1 0h15m3 0h1m6 0h10m1 0h4m1 0h2m1 0h1m3 0h9m6 0h12m1 0h9m3 0h3m1 0h4m1 0h1m3 0h2m2 0h3m4 0h7m1 0h3m1 0h3m3 0h4m3 0h2m2 0h3m2 0h3m1 0h3m1 0h1m1 0h2m13 0h2m3 0h4m1 0h3m3 0h2m1 0h3m1 0h2m3 0h7m8 0h3m18 0h1m14 0h2m-490 1h3m7 0h1m5 0h1m22 0h1m5 0h1m2 0h5m3 0h3m5 0h1m1 0h2m4 0h1m1 0h6m3 0h1m9 0h6m2 0h1m2 0h1m1 0h8m1 0h1m2 0h4m5 0h13m7 0h6m1 0h8m1 0h4m1 0h9m1 0h1m1 0h4m3 0h2m3 0h9m1 0h6m1 0h5m3 0h8m1 0h4m3 0h7m1 0h1m1 0h3m1 0h1m1 0h1m1 0h1m1 0h1m1 0h1m1 0h1m1 0h2m1 0h10m3 0h2m4 0h2m4 0h9m1 0h2m1 0h18m1 0h5m1 0h3m3 0h2m3 0h1m1 0h3m1 0h4m3 0h7m3 0h6m2 0h5m3 0h1m3 0h3m1 0h3m3 0h1m3 0h1m1 0h2m11 0h4m1 0h4m3 0h3m7 0h5m3 0h5m1 0h1m1 0h4m2 0h2m16 0h1m1 0h3m5 0h1m-480 1h1m13 0h3m20 0h3m6 0h5m5 0h1m7 0h4m1 0h10m2 0h3m2 0h1m1 0h1m2 0h1m1 0h5m6 0h11m1 0h4m5 0h13m4 0h2m1 0h16m1 0h1m1 0h20m1 0h4m1 0h8m1 0h7m3 0h5m1 0h3m1 0h11m1 0h7m5 0h1m13 0h15m1 0h1m1 0h2m4 0h2m2 0h2m2 0h5m3 0h10m2 0h5m1 0h1m3 0h2m1 0h4m3 0h4m1 0h5m3 0h2m4 0h7m3 0h2m2 0h1m4 0h5m1 0h3m1 0h3m3 0h3m2 0h2m1 0h1m3 0h3m1 0h1m1 0h3m1 0h2m1 0h2m1 0h1m1 0h2m3 0h5m8 0h4m1 0h5m3 0h9m15 0h3m1 0h1m-458 1h1m16 0h1m5 0h1m8 0h4m9 0h1m4 0h2m2 0h3m1 0h7m2 0h1m1 0h1m1 0h2m3 0h2m1 0h2m1 0h1m7 0h3m1 0h1m1 0h8m6 0h6m1 0h7m4 0h5m1 0h6m1 0h4m5 0h6m1 0h7m1 0h12m1 0h4m3 0h2m1 0h4m1 0h9m3 0h18m2 0h1m3 0h1m1 0h1m1 0h1m1 0h1m5 0h1m1 0h8m1 0h2m1 0h3m3 0h1m1 0h1m1 0h6m3 0h6m1 0h2m1 0h1m1 0h5m4 0h3m3 0h1m1 0h2m3 0h4m1 0h4m3 0h4m3 0h3m2 0h4m1 0h3m3 0h1m9 0h1m1 0h5m1 0h5m3 0h2m3 0h2m4 0h2m3 0h3m1 0h2m8 0h2m3 0h5m5 0h6m1 0h6m2 0h1m1 0h6m17 0h2m-440 1h3m7 0h1m7 0h1m7 0h1m1 0h3m5 0h1m2 0h1m2 0h6m4 0h1m1 0h4m3 0h1m1 0h1m4 0h2m4 0h4m3 0h4m1 0h1m3 0h9m1 0h1m2 0h7m1 0h5m3 0h2m1 0h2m1 0h1m1 0h3m1 0h1m1 0h6m3 0h6m1 0h7m1 0h3m3 0h4m1 0h2m3 0h14m2 0h4m1 0h6m1 0h1m1 0h3m3 0h2m1 0h9m7 0h6m6 0h3m1 0h1m3 0h7m2 0h11m3 0h1m1 0h3m2 0h5m1 0h4m3 0h1m1 0h9m1 0h6m1 0h8m4 0h2m3 0h2m2 0h1m4 0h1m3 0h1m1 0h1m3 0h1m1 0h2m3 0h3m1 0h2m7 0h1m1 0h1m1 0h1m3 0h2m1 0h2m1 0h1m1 0h4m1 0h5m1 0h1m2 0h7m3 0h4m1 0h1m4 0h3m20 0h2m5 0h1m-446 1h1m7 0h3m9 0h1m3 0h3m1 0h1m5 0h4m4 0h5m7 0h2m3 0h2m2 0h1m2 0h4m4 0h4m1 0h4m2 0h2m1 0h2m1 0h9m4 0h12m1 0h2m4 0h13m1 0h2m1 0h6m3 0h11m1 0h1m1 0h7m1 0h12m1 0h2m3 0h2m3 0h4m5 0h3m1 0h15m1 0h1m2 0h7m3 0h1m1 0h7m1 0h7m3 0h12m1 0h1m3 0h3m1 0h4m1 0h6m1 0h1m3 0h5m1 0h2m1 0h14m4 0h2m3 0h4m1 0h2m4 0h1m1 0h1m3 0h1m1 0h1m3 0h1m5 0h1m1 0h1m15 0h2m4 0h10m1 0h1m5 0h8m1 0h2m1 0h5m3 0h1m2 0h1m3 0h1m20 0h4m-447 1h1m7 0h2m9 0h3m3 0h1m5 0h3m1 0h4m3 0h4m2 0h1m2 0h1m1 0h3m3 0h7m1 0h2m5 0h3m1 0h5m1 0h2m6 0h9m1 0h18m1 0h2m1 0h23m1 0h10m2 0h11m1 0h10m3 0h2m1 0h4m1 0h3m1 0h2m1 0h1m1 0h21m3 0h6m1 0h1m1 0h19m1 0h11m4 0h1m1 0h7m4 0h8m2 0h4m6 0h14m2 0h1m1 0h2m1 0h4m3 0h3m1 0h5m1 0h4m2 0h1m15 0h1m8 0h3m5 0h7m5 0h1m1 0h11m3 0h3m4 0h1m1 0h3m1 0h3m19 0h3m-459 1h1m11 0h3m5 0h3m10 0h1m6 0h1m2 0h4m1 0h4m2 0h9m2 0h1m1 0h1m1 0h1m1 0h4m1 0h2m8 0h9m3 0h2m1 0h2m1 0h1m1 0h10m1 0h3m1 0h24m1 0h19m1 0h4m4 0h1m1 0h2m1 0h4m3 0h1m1 0h4m2 0h2m1 0h7m3 0h1m3 0h3m1 0h11m1 0h6m1 0h3m1 0h6m3 0h7m1 0h5m1 0h9m1 0h7m8 0h5m4 0h9m3 0h4m1 0h2m1 0h9m1 0h3m1 0h1m5 0h1m1 0h4m3 0h5m1 0h7m4 0h1m3 0h1m14 0h1m3 0h2m1 0h2m5 0h2m1 0h3m6 0h5m3 0h5m1 0h4m3 0h1m3 0h1m3 0h1m4 0h1m11 0h1m-454 1h3m11 0h1m2 0h1m3 0h3m14 0h1m1 0h3m2 0h2m3 0h4m1 0h8m1 0h4m1 0h1m3 0h2m1 0h4m1 0h2m5 0h9m2 0h1m2 0h3m1 0h8m1 0h3m1 0h1m3 0h4m1 0h2m2 0h21m1 0h11m3 0h4m2 0h1m6 0h4m1 0h1m3 0h2m3 0h5m1 0h3m3 0h3m1 0h3m5 0h7m3 0h4m4 0h8m2 0h7m3 0h3m3 0h3m1 0h3m3 0h7m1 0h1m4 0h7m1 0h6m1 0h3m4 0h11m1 0h2m1 0h5m3 0h1m1 0h1m1 0h1m3 0h4m1 0h2m2 0h1m3 0h5m6 0h1m1 0h1m4 0h1m1 0h1m1 0h1m2 0h2m2 0h1m3 0h1m9 0h1m3 0h3m7 0h2m5 0h3m1 0h3m1 0h2m1 0h3m1 0h1m9 0h2m8 0h4m2 0h1m-464 1h1m6 0h1m7 0h2m3 0h1m1 0h3m3 0h1m14 0h3m1 0h1m1 0h1m1 0h1m4 0h1m1 0h5m3 0h10m3 0h2m2 0h1m1 0h1m7 0h14m1 0h2m1 0h4m1 0h5m1 0h5m1 0h9m1 0h17m1 0h1m4 0h5m1 0h4m2 0h9m1 0h2m1 0h8m1 0h4m1 0h5m3 0h3m1 0h9m5 0h7m3 0h2m6 0h3m1 0h2m3 0h2m1 0h4m3 0h4m3 0h1m3 0h3m1 0h3m1 0h7m1 0h5m1 0h9m1 0h5m4 0h9m6 0h5m3 0h5m1 0h7m10 0h3m1 0h2m3 0h2m3 0h2m1 0h2m3 0h2m3 0h1m1 0h3m4 0h1m2 0h3m1 0h5m7 0h2m4 0h7m1 0h7m6 0h2m1 0h2m6 0h1m1 0h4m3 0h1m3 0h1m8 0h1m-478 1h3m12 0h4m1 0h3m1 0h1m5 0h1m14 0h1m3 0h5m6 0h4m4 0h6m1 0h1m1 0h1m1 0h2m12 0h3m4 0h1m1 0h9m2 0h4m2 0h21m1 0h14m6 0h4m4 0h2m3 0h3m1 0h7m1 0h3m1 0h1m1 0h15m1 0h9m1 0h6m2 0h9m1 0h4m1 0h2m1 0h3m3 0h2m1 0h2m3 0h3m2 0h6m5 0h7m3 0h11m3 0h7m3 0h6m1 0h4m1 0h6m1 0h1m2 0h2m1 0h3m3 0h4m3 0h7m10 0h5m2 0h4m6 0h2m1 0h1m1 0h2m2 0h4m1 0h2m2 0h1m1 0h1m1 0h7m7 0h4m4 0h1m1 0h3m3 0h1m1 0h4m4 0h5m7 0h3m1 0h1m7 0h4m3 0h1m2 0h2m-477 1h1m14 0h2m3 0h1m7 0h3m18 0h1m1 0h1m1 0h1m6 0h3m1 0h1m1 0h4m1 0h1m5 0h1m13 0h3m4 0h9m1 0h1m2 0h1m1 0h3m1 0h17m2 0h2m3 0h1m1 0h6m1 0h2m2 0h1m1 0h1m1 0h5m5 0h3m1 0h3m3 0h2m1 0h6m5 0h15m1 0h18m1 0h10m1 0h3m3 0h3m4 0h4m1 0h3m3 0h3m1 0h3m1 0h11m1 0h2m1 0h5m1 0h4m1 0h3m1 0h4m3 0h10m3 0h6m3 0h1m3 0h3m1 0h2m1 0h2m2 0h8m2 0h1m3 0h1m2 0h5m3 0h5m1 0h2m1 0h4m7 0h2m3 0h1m7 0h1m1 0h1m1 0h3m2 0h7m8 0h3m1 0h1m9 0h5m4 0h1m2 0h5m1 0h1m5 0h4m3 0h3m2 0h1m-502 1h1m7 0h1m18 0h1m16 0h1m9 0h1m8 0h1m1 0h1m6 0h1m4 0h3m6 0h1m1 0h7m3 0h1m3 0h1m5 0h1m8 0h1m3 0h6m1 0h31m1 0h4m1 0h2m2 0h4m3 0h2m2 0h9m1 0h1m1 0h9m1 0h3m1 0h7m1 0h1m1 0h15m3 0h12m1 0h3m3 0h14m3 0h1m1 0h1m3 0h9m3 0h1m3 0h6m1 0h6m6 0h3m3 0h6m3 0h1m1 0h2m3 0h10m1 0h8m1 0h3m1 0h9m4 0h6m3 0h2m1 0h1m3 0h6m1 0h4m1 0h2m1 0h5m7 0h3m8 0h1m1 0h1m5 0h12m1 0h1m2 0h1m3 0h1m2 0h2m9 0h1m6 0h3m2 0h1m1 0h5m5 0h1m4 0h1m1 0h1m3 0h1m-503 1h3m5 0h3m16 0h3m14 0h3m13 0h1m2 0h5m4 0h3m4 0h1m10 0h1m2 0h4m1 0h7m3 0h3m1 0h1m2 0h1m2 0h2m1 0h5m4 0h5m2 0h5m1 0h3m2 0h5m1 0h5m1 0h9m2 0h4m1 0h2m2 0h23m1 0h1m1 0h9m1 0h10m1 0h6m1 0h12m3 0h1m3 0h16m1 0h1m6 0h10m1 0h3m1 0h6m3 0h3m1 0h2m1 0h1m2 0h5m1 0h8m1 0h1m3 0h2m1 0h31m1 0h3m3 0h6m2 0h5m4 0h9m6 0h1m1 0h1m3 0h2m1 0h4m5 0h1m2 0h5m1 0h1m1 0h11m5 0h3m9 0h1m13 0h4m4 0h1m1 0h1m3 0h1m6 0h3m4 0h1m-502 1h1m7 0h1m18 0h1m16 0h1m13 0h3m2 0h1m1 0h1m6 0h1m13 0h1m7 0h2m2 0h1m1 0h1m1 0h1m5 0h1m1 0h10m1 0h1m3 0h2m1 0h1m2 0h3m2 0h4m3 0h13m2 0h10m3 0h8m1 0h21m5 0h10m1 0h4m1 0h2m4 0h9m1 0h8m1 0h1m4 0h16m1 0h2m6 0h20m3 0h2m3 0h2m3 0h4m3 0h10m3 0h8m1 0h23m3 0h3m3 0h3m4 0h4m1 0h1m2 0h1m1 0h4m1 0h4m1 0h1m2 0h1m3 0h1m1 0h2m1 0h2m3 0h1m1 0h1m3 0h7m1 0h12m7 0h1m1 0h2m1 0h1m1 0h1m2 0h3m11 0h4m1 0h1m8 0h3m6 0h1m-484 1h1m40 0h1m4 0h2m1 0h4m4 0h1m8 0h2m5 0h1m4 0h1m3 0h3m6 0h1m5 0h3m1 0h10m1 0h6m2 0h1m2 0h4m1 0h1m1 0h3m1 0h7m1 0h1m4 0h10m2 0h21m1 0h9m1 0h1m3 0h12m4 0h2m1 0h2m1 0h5m1 0h3m1 0h6m1 0h3m2 0h9m1 0h6m1 0h2m1 0h2m1 0h1m1 0h4m1 0h17m3 0h2m1 0h4m1 0h6m1 0h12m1 0h8m3 0h4m1 0h16m3 0h3m3 0h3m4 0h4m1 0h2m1 0h1m3 0h2m3 0h4m6 0h2m1 0h1m8 0h2m3 0h1m1 0h3m4 0h2m1 0h3m1 0h5m1 0h3m3 0h2m1 0h1m1 0h1m4 0h1m13 0h1m1 0h4m8 0h1m-477 1h3m1 0h1m36 0h3m2 0h7m2 0h5m6 0h4m5 0h1m2 0h7m6 0h3m5 0h1m3 0h2m1 0h5m3 0h2m1 0h1m2 0h3m2 0h3m3 0h1m1 0h8m3 0h3m3 0h3m1 0h4m4 0h14m1 0h10m1 0h3m1 0h2m1 0h12m4 0h1m1 0h15m1 0h4m3 0h1m1 0h11m1 0h3m1 0h1m6 0h12m1 0h7m1 0h6m1 0h6m1 0h1m1 0h29m2 0h3m3 0h1m1 0h12m3 0h5m1 0h4m2 0h5m6 0h1m1 0h4m3 0h1m7 0h2m3 0h1m1 0h1m5 0h1m3 0h1m3 0h1m4 0h2m3 0h1m3 0h6m5 0h1m3 0h3m9 0h3m9 0h1m19 0h1m-486 1h1m1 0h3m36 0h1m2 0h1m1 0h1m2 0h1m5 0h1m1 0h1m3 0h1m1 0h1m2 0h2m10 0h6m1 0h2m4 0h1m2 0h1m9 0h1m1 0h5m5 0h1m1 0h5m2 0h3m3 0h10m1 0h5m1 0h1m1 0h1m3 0h2m1 0h1m1 0h17m1 0h7m1 0h16m1 0h3m8 0h12m2 0h6m1 0h1m3 0h3m1 0h5m3 0h1m3 0h1m1 0h2m1 0h1m1 0h3m1 0h6m3 0h5m3 0h11m5 0h18m1 0h8m4 0h3m1 0h1m3 0h8m1 0h3m2 0h2m1 0h3m1 0h2m4 0h2m1 0h2m1 0h2m1 0h4m1 0h3m1 0h1m4 0h1m3 0h2m2 0h4m2 0h1m5 0h1m3 0h1m1 0h1m1 0h5m1 0h3m1 0h1m1 0h3m1 0h3m2 0h1m1 0h1m1 0h3m2 0h1m8 0h1m29 0h3m-484 1h1m39 0h5m10 0h1m1 0h5m1 0h3m11 0h8m2 0h2m1 0h3m3 0h1m3 0h3m2 0h4m3 0h3m1 0h5m2 0h3m1 0h11m2 0h3m1 0h3m1 0h1m1 0h1m1 0h14m2 0h2m1 0h1m1 0h7m4 0h3m1 0h14m4 0h2m4 0h9m3 0h9m1 0h11m1 0h3m1 0h1m2 0h3m3 0h1m3 0h6m1 0h5m3 0h13m1 0h1m1 0h3m1 0h8m1 0h5m4 0h1m1 0h1m1 0h3m2 0h7m3 0h6m3 0h2m6 0h1m3 0h2m2 0h2m3 0h3m2 0h2m5 0h4m1 0h4m7 0h2m8 0h1m3 0h1m4 0h4m1 0h2m6 0h1m4 0h1m3 0h5m2 0h1m40 0h2m-443 1h1m1 0h1m8 0h1m1 0h3m1 0h1m1 0h1m3 0h1m10 0h1m1 0h13m1 0h1m3 0h3m1 0h3m2 0h4m1 0h1m2 0h3m4 0h1m4 0h1m2 0h9m1 0h1m2 0h16m1 0h9m3 0h1m2 0h9m5 0h11m1 0h5m1 0h6m1 0h11m1 0h10m1 0h8m1 0h8m3 0h3m2 0h2m2 0h2m1 0h4m1 0h5m1 0h19m3 0h6m3 0h5m8 0h12m1 0h8m1 0h4m1 0h2m3 0h1m1 0h4m1 0h2m3 0h2m11 0h9m1 0h2m3 0h3m1 0h2m4 0h2m1 0h2m6 0h1m7 0h1m1 0h3m2 0h3m1 0h1m1 0h3m4 0h1m11 0h1m24 0h1m2 0h3m1 0h1" stroke="#fff" stroke-width="1"/>
<path d="M90 397.5h1m1 0h1m-4 1h5m2 0h1m3 0h1m-11 1h1m1 0h1m2 0h3m1 0h3m4 0h1m1 0h1m-13 1h1m3 0h1m4 0h5m-4 1h3m-2 1h1m10 0h1m-2 1h3m1 0h1m1 0h1m-6 1h7m-7 1h4m1 0h2m3 0h1m-26 1h1m15 0h7m1 0h3m-28 1h3m16 0h1m2 0h2m2 0h1m-26 1h1m20 0h3m7 0h1m-10 1h1m1 0h1m5 0h3m-31 1h1m20 0h3m5 0h1m8 0h1m-40 1h3m20 0h1m14 0h4m-41 1h1m2 0h1m13 0h1m13 0h1m4 0h7m-41 1h3m11 0h3m11 0h3m4 0h1m2 0h4m-41 1h2m12 0h1m13 0h1m10 0h1m3 0h2m1 0h1m-47 1h3m39 0h6m-47 1h2m19 0h1m20 0h2m1 0h1m1 0h1m-48 1h4m7 0h1m8 0h3m4 0h1m18 0h3m1 0h1m5 0h1m-56 1h4m5 0h3m8 0h1m4 0h3m18 0h1m1 0h3m3 0h3m-55 1h1m2 0h1m4 0h1m13 0h3m22 0h1m5 0h1m1 0h1m-54 1h3m13 0h1m4 0h1m22 0h1m7 0h3m-54 1h1m13 0h3m14 0h1m10 0h3m5 0h3m2 0h1m-41 1h1m14 0h3m10 0h1m3 0h1m3 0h1m1 0h4m-35 1h1m8 0h1m14 0h3m3 0h4m-35 1h3m22 0h2m5 0h3m4 0h1m-39 1h1m22 0h3m6 0h1m4 0h3m1 0h1m-58 1h1m39 0h1m11 0h3m1 0h3m-60 1h3m30 0h1m19 0h3m2 0h1m4 0h1m-63 1h1m9 0h1m20 0h3m19 0h1m7 0h3m-62 1h1m6 0h3m20 0h1m29 0h1m2 0h2m-66 1h3m6 0h1m53 0h4m-70 1h1m3 0h1m14 0h1m20 0h1m24 0h4m-70 1h3m16 0h3m4 0h1m13 0h3m19 0h1m1 0h1m2 0h1m1 0h1m4 0h1m2 0h1m-77 1h1m1 0h1m16 0h1m4 0h3m13 0h1m19 0h5m2 0h12m2 0h1m-81 1h3m21 0h1m9 0h1m4 0h1m3 0h1m8 0h1m1 0h1m5 0h1m1 0h1m4 0h6m2 0h7m-81 1h1m31 0h3m2 0h3m1 0h3m4 0h1m1 0h5m13 0h3m5 0h4m4 0h1m-55 1h1m2 0h1m4 0h1m3 0h1m4 0h3m1 0h1m1 0h1m23 0h1m2 0h1m2 0h3m-57 1h3m16 0h1m25 0h1m4 0h3m2 0h1m-55 1h1m35 0h1m6 0h3m2 0h1m1 0h1m5 0h1m-22 1h3m6 0h1m2 0h3m5 0h3m-82 1h1m59 0h1m6 0h3m2 0h3m4 0h2m2 0h1m-85 1h3m21 0h1m36 0h1m7 0h1m4 0h1m4 0h3m1 0h3m-86 1h3m20 0h3m34 0h3m16 0h2m3 0h1m4 0h1m-89 1h2m19 0h3m4 0h1m28 0h1m2 0h1m16 0h3m7 0h3m3 0h1m-94 1h3m19 0h1m4 0h3m26 0h3m19 0h1m9 0h1m2 0h4m-94 1h1m26 0h1m28 0h1m32 0h4m-8 1h1m4 0h1m-87 1h1m7 0h1m71 0h3m-84 1h3m5 0h3m70 0h2m12 0h1m-96 1h3m6 0h1m13 0h1m51 0h1m4 0h3m11 0h3m-96 1h1m20 0h3m47 0h1m1 0h3m4 0h1m12 0h2m-73 1h1m15 0h1m4 0h1m16 0h1m9 0h3m1 0h1m17 0h3m-58 1h3m2 0h3m14 0h3m9 0h1m21 0h1m-71 1h1m1 0h1m12 0h1m4 0h1m16 0h1m9 0h3m14 0h1m-86 1h1m2 0h1m2 0h1m13 0h5m44 0h3m12 0h3m-88 1h9m12 0h4m46 0h1m14 0h1m-86 1h1m2 0h1m2 0h1m14 0h1m77 0h1m10 0h1m4 0h1m-114 1h3m40 0h1m52 0h3m8 0h3m2 0h3m-114 1h1m3 0h1m36 0h3m21 0h1m14 0h1m15 0h1m2 0h1m7 0h1m2 0h1m1 0h2m5 0h1m-118 1h4m36 0h1m18 0h1m2 0h3m12 0h3m16 0h3m8 0h6m3 0h3m-120 1h4m55 0h3m2 0h1m9 0h1m4 0h1m18 0h1m10 0h5m4 0h1m-118 1h1m46 0h1m11 0h1m5 0h1m6 0h3m9 0h1m14 0h1m9 0h3m1 0h1m4 0h1m14 0h1m-88 1h3m15 0h3m6 0h1m9 0h3m12 0h4m6 0h3m1 0h3m2 0h3m12 0h3m-132 1h1m2 0h1m40 0h1m17 0h1m18 0h1m14 0h4m6 0h1m3 0h1m4 0h1m14 0h1m-132 1h6m14 0h1m16 0h1m61 0h1m-99 1h1m2 0h3m12 0h3m5 0h1m8 0h3m9 0h1m52 0h1m11 0h1m1 0h1m5 0h1m-120 1h1m2 0h1m14 0h1m5 0h3m8 0h1m9 0h3m12 0h1m27 0h1m9 0h3m9 0h5m3 0h3m12 0h1m-135 1h3m23 0h2m19 0h1m10 0h1m1 0h3m25 0h3m1 0h1m7 0h1m11 0h4m2 0h1m1 0h1m3 0h1m8 0h3m6 0h1m-142 1h1m24 0h3m28 0h3m1 0h1m26 0h2m1 0h3m20 0h1m2 0h3m3 0h3m8 0h1m6 0h3m6 0h1m-148 1h1m23 0h1m30 0h1m28 0h3m2 0h1m9 0h1m15 0h1m5 0h1m17 0h1m6 0h3m-150 1h4m10 0h1m15 0h1m55 0h1m12 0h3m19 0h3m24 0h1m-148 1h4m8 0h3m6 0h1m6 0h3m68 0h1m21 0h1m8 0h1m-131 1h3m2 0h1m7 0h1m6 0h3m6 0h1m99 0h3m1 0h1m-133 1h1m2 0h3m14 0h1m14 0h1m10 0h1m27 0h1m20 0h1m32 0h2m1 0h3m-135 1h4m1 0h1m6 0h1m22 0h3m8 0h3m25 0h3m18 0h3m30 0h3m2 0h1m3 0h1m-137 1h4m3 0h1m2 0h3m22 0h3m7 0h3m26 0h1m10 0h1m9 0h1m32 0h1m6 0h3m-136 1h1m3 0h3m2 0h1m24 0h1m6 0h1m2 0h1m37 0h3m49 0h1m1 0h1m-132 1h1m1 0h1m32 0h3m40 0h1m11 0h1m6 0h1m32 0h3m-132 1h3m32 0h1m18 0h1m8 0h1m24 0h3m3 0h4m11 0h1m1 0h1m15 0h1m2 0h1m-135 1h1m1 0h1m2 0h1m42 0h1m8 0h3m6 0h3m24 0h1m3 0h4m11 0h5m13 0h3m5 0h1m-140 1h5m2 0h1m27 0h1m12 0h3m8 0h1m8 0h1m30 0h1m4 0h1m9 0h1m1 0h1m9 0h2m4 0h1m4 0h4m-140 1h1m1 0h1m2 0h3m25 0h3m10 0h3m53 0h3m19 0h4m1 0h1m5 0h4m5 0h1m-146 1h3m4 0h1m27 0h1m12 0h1m3 0h1m47 0h1m2 0h2m2 0h1m17 0h3m1 0h3m5 0h1m6 0h3m7 0h1m-156 1h1m1 0h1m49 0h3m33 0h1m11 0h6m1 0h3m15 0h3m3 0h1m10 0h1m2 0h3m6 0h3m-158 1h3m5 0h1m9 0h1m35 0h1m33 0h3m11 0h1m2 0h1m3 0h1m8 0h1m6 0h3m14 0h3m2 0h1m8 0h1m-156 1h1m5 0h3m7 0h3m69 0h1m27 0h3m6 0h1m16 0h1m19 0h1m-156 1h1m9 0h1m94 0h1m4 0h1m43 0h3m-158 1h3m102 0h3m32 0h1m15 0h1m-156 1h1m3 0h1m10 0h1m19 0h1m66 0h1m2 0h1m32 0h3m23 0h1m-162 1h3m8 0h3m17 0h4m8 0h1m54 0h3m35 0h1m23 0h3m-162 1h1m1 0h1m8 0h1m19 0h4m6 0h3m25 0h1m6 0h1m21 0h1m61 0h3m8 0h1m-171 1h3m29 0h1m4 0h1m2 0h2m7 0h1m10 0h1m6 0h3m4 0h3m10 0h1m40 0h1m28 0h1m2 0h1m8 0h3m-171 1h1m34 0h6m6 0h3m8 0h3m6 0h1m6 0h1m10 0h3m6 0h1m31 0h3m21 0h1m4 0h3m11 0h1m-151 1h1m16 0h1m2 0h1m8 0h1m10 0h1m7 0h1m18 0h1m6 0h4m12 0h1m6 0h1m10 0h1m21 0h3m4 0h1m-139 1h3m45 0h3m25 0h4m10 0h3m4 0h3m32 0h1m8 0h1m52 0h1m-212 1h1m17 0h1m34 0h1m12 0h1m28 0h1m12 0h1m1 0h1m4 0h1m27 0h1m6 0h1m6 0h3m50 0h3m-222 1h1m7 0h3m5 0h1m44 0h3m27 0h1m5 0h1m20 0h3m22 0h1m7 0h3m4 0h3m2 0h1m3 0h1m15 0h1m36 0h1m-222 1h3m7 0h1m4 0h4m22 0h1m21 0h1m27 0h3m3 0h3m15 0h1m4 0h1m2 0h1m19 0h4m1 0h1m3 0h3m5 0h1m2 0h3m17 0h3m37 0h1m-223 1h1m12 0h4m16 0h1m5 0h3m49 0h1m5 0h1m15 0h3m5 0h3m19 0h6m3 0h1m6 0h1m3 0h1m2 0h2m15 0h1m37 0h3m51 0h1m-262 1h3m15 0h3m5 0h1m15 0h1m26 0h1m6 0h3m21 0h1m7 0h1m21 0h2m1 0h1m8 0h1m1 0h3m1 0h7m8 0h1m2 0h1m30 0h1m10 0h1m16 0h1m17 0h1m16 0h3m-266 1h1m3 0h3m13 0h1m1 0h1m9 0h1m11 0h3m16 0h1m1 0h1m5 0h3m6 0h3m61 0h3m1 0h1m2 0h2m1 0h3m3 0h1m3 0h7m28 0h3m6 0h1m18 0h3m15 0h3m11 0h1m2 0h1m1 0h1m33 0h1m25 0h1m-326 1h3m3 0h1m4 0h1m5 0h1m2 0h3m9 0h3m7 0h2m2 0h1m15 0h6m5 0h1m8 0h1m7 0h1m1 0h1m11 0h1m17 0h2m9 0h1m11 0h3m1 0h8m3 0h3m1 0h4m2 0h1m9 0h2m10 0h1m4 0h2m2 0h1m3 0h1m2 0h3m3 0h3m12 0h2m9 0h1m1 0h1m4 0h1m11 0h6m33 0h3m11 0h1m9 0h1m1 0h3m43 0h2m8 0h1m18 0h1m10 0h1m7 0h1m15 0h1m9 0h1m1 0h1m35 0h1m-482 1h2m7 0h3m3 0h3m2 0h1m9 0h1m1 0h1m7 0h4m16 0h4m1 0h1m7 0h1m8 0h1m5 0h5m9 0h3m4 0h1m9 0h5m7 0h3m11 0h1m1 0h5m2 0h1m3 0h4m2 0h2m12 0h4m8 0h3m2 0h11m2 0h1m3 0h5m11 0h3m2 0h1m4 0h5m15 0h3m1 0h1m2 0h1m12 0h1m16 0h1m2 0h1m11 0h3m7 0h6m5 0h1m7 0h1m9 0h1m18 0h4m6 0h3m16 0h4m7 0h3m5 0h3m8 0h1m4 0h3m6 0h6m13 0h2m14 0h1m3 0h3m10 0h1m-494 1h3m2 0h1m4 0h1m5 0h1m12 0h3m9 0h2m12 0h1m5 0h1m10 0h3m6 0h3m5 0h1m1 0h1m11 0h1m4 0h3m7 0h5m9 0h1m4 0h1m10 0h3m1 0h1m4 0h1m1 0h2m2 0h1m15 0h2m3 0h1m6 0h1m4 0h2m2 0h7m6 0h4m9 0h4m2 0h3m3 0h4m1 0h1m10 0h1m2 0h5m2 0h3m10 0h3m1 0h1m2 0h1m9 0h3m13 0h2m9 0h1m2 0h1m5 0h3m5 0h3m4 0h2m1 0h3m4 0h1m1 0h1m11 0h2m8 0h1m7 0h1m10 0h6m5 0h4m3 0h3m7 0h4m3 0h1m6 0h4m1 0h1m8 0h1m4 0h4m12 0h3m1 0h1m1 0h1m9 0h4m-494 1h1m2 0h3m3 0h1m19 0h1m23 0h3m16 0h1m7 0h4m5 0h1m17 0h2m9 0h1m11 0h1m4 0h3m10 0h5m2 0h3m1 0h1m1 0h4m10 0h1m2 0h1m3 0h3m9 0h4m3 0h1m1 0h2m6 0h4m9 0h4m4 0h1m3 0h8m3 0h2m3 0h3m2 0h1m1 0h2m3 0h3m10 0h1m1 0h6m7 0h3m3 0h1m1 0h1m4 0h1m2 0h3m18 0h3m5 0h2m5 0h2m2 0h1m4 0h5m1 0h1m25 0h3m1 0h1m9 0h5m3 0h1m1 0h4m3 0h1m8 0h5m10 0h1m5 0h1m5 0h3m4 0h2m14 0h7m7 0h4m1 0h1m1 0h1m-503 1h1m9 0h1m3 0h3m17 0h3m10 0h1m12 0h1m7 0h1m18 0h4m3 0h3m15 0h3m6 0h1m13 0h3m4 0h1m12 0h1m1 0h1m4 0h1m1 0h3m1 0h4m8 0h6m3 0h3m4 0h1m2 0h4m1 0h1m13 0h1m12 0h1m8 0h1m2 0h1m1 0h1m2 0h1m3 0h4m1 0h3m2 0h1m2 0h3m2 0h2m7 0h1m4 0h3m2 0h1m2 0h1m1 0h1m4 0h1m3 0h5m2 0h3m2 0h1m5 0h1m14 0h1m5 0h3m1 0h1m2 0h3m8 0h1m1 0h1m1 0h3m1 0h1m23 0h1m1 0h3m4 0h1m2 0h1m2 0h2m3 0h3m2 0h1m1 0h2m9 0h5m7 0h2m7 0h3m5 0h1m8 0h1m3 0h1m8 0h4m1 0h1m1 0h1m7 0h1m2 0h5m-505 1h3m7 0h1m5 0h2m18 0h1m2 0h1m4 0h1m2 0h3m2 0h1m15 0h3m19 0h1m5 0h1m17 0h3m4 0h3m11 0h1m1 0h2m4 0h1m22 0h1m4 0h3m8 0h1m2 0h1m3 0h3m3 0h4m2 0h1m2 0h3m2 0h1m18 0h1m11 0h3m1 0h2m6 0h1m1 0h2m3 0h1m2 0h3m2 0h1m3 0h2m2 0h2m2 0h4m3 0h1m4 0h6m1 0h1m6 0h1m1 0h1m4 0h1m8 0h3m20 0h1m1 0h3m2 0h1m11 0h4m1 0h3m23 0h3m4 0h6m5 0h3m4 0h4m7 0h1m1 0h4m4 0h1m1 0h4m6 0h3m8 0h1m3 0h4m1 0h3m6 0h3m4 0h3m10 0h1m1 0h1m-503 1h1m7 0h4m3 0h3m16 0h6m2 0h3m2 0h1m2 0h3m10 0h1m4 0h1m41 0h1m2 0h4m4 0h1m11 0h6m2 0h3m22 0h1m4 0h1m6 0h1m10 0h1m3 0h4m7 0h1m2 0h3m13 0h1m2 0h3m3 0h1m7 0h1m1 0h4m4 0h3m4 0h6m2 0h3m1 0h3m2 0h1m4 0h4m3 0h1m2 0h6m1 0h3m10 0h1m5 0h1m3 0h3m1 0h2m2 0h1m10 0h1m4 0h1m2 0h1m6 0h1m3 0h1m3 0h8m1 0h1m16 0h2m3 0h3m5 0h3m1 0h1m3 0h1m3 0h1m6 0h2m7 0h3m2 0h1m4 0h3m1 0h2m8 0h1m8 0h3m1 0h4m3 0h1m8 0h1m1 0h1m2 0h1m1 0h1m10 0h1m-491 1h4m1 0h3m18 0h1m2 0h1m4 0h1m7 0h1m10 0h3m35 0h1m8 0h3m2 0h2m18 0h1m2 0h1m4 0h1m16 0h1m5 0h3m9 0h3m13 0h3m7 0h1m3 0h2m3 0h1m9 0h3m2 0h1m2 0h4m2 0h1m6 0h2m3 0h1m2 0h1m6 0h4m4 0h1m1 0h1m1 0h1m3 0h1m2 0h1m3 0h2m2 0h3m2 0h1m1 0h1m2 0h3m10 0h3m3 0h3m3 0h9m8 0h3m2 0h4m6 0h3m1 0h3m3 0h3m2 0h1m1 0h3m14 0h4m3 0h1m4 0h5m4 0h3m2 0h1m10 0h1m5 0h1m1 0h1m7 0h1m1 0h1m10 0h1m9 0h1m3 0h2m14 0h6m10 0h3m-490 1h1m3 0h1m47 0h1m35 0h3m8 0h1m47 0h3m5 0h1m4 0h1m5 0h3m4 0h1m7 0h3m7 0h3m1 0h3m2 0h3m6 0h1m2 0h1m3 0h1m1 0h4m2 0h3m2 0h1m6 0h3m10 0h1m5 0h4m2 0h7m1 0h4m1 0h3m2 0h1m5 0h3m10 0h1m5 0h2m3 0h5m2 0h2m7 0h1m1 0h2m3 0h4m1 0h1m4 0h1m3 0h1m12 0h1m12 0h1m3 0h2m8 0h6m1 0h1m1 0h4m1 0h3m2 0h1m5 0h3m2 0h1m2 0h3m3 0h1m3 0h3m2 0h1m5 0h3m13 0h1m15 0h1m2 0h1m12 0h1m-490 1h1m1 0h1m4 0h1m45 0h1m36 0h1m21 0h1m4 0h1m3 0h1m23 0h1m3 0h1m2 0h1m7 0h4m2 0h3m2 0h1m1 0h3m7 0h1m5 0h1m3 0h1m3 0h1m4 0h1m1 0h1m4 0h3m4 0h5m1 0h1m3 0h6m3 0h1m2 0h1m16 0h4m2 0h7m1 0h4m3 0h1m2 0h3m4 0h2m7 0h1m2 0h2m1 0h1m3 0h7m5 0h3m4 0h7m4 0h1m1 0h3m25 0h2m5 0h3m2 0h3m8 0h8m1 0h4m1 0h1m2 0h3m5 0h1m2 0h3m2 0h1m3 0h3m3 0h1m2 0h3m4 0h2m7 0h1m27 0h1m5 0h1m-486 1h5m2 0h3m43 0h3m34 0h1m9 0h1m9 0h1m1 0h3m2 0h3m1 0h3m21 0h3m4 0h3m7 0h4m2 0h1m2 0h3m1 0h1m13 0h3m2 0h1m7 0h5m2 0h4m2 0h10m3 0h1m2 0h2m2 0h3m7 0h1m11 0h4m2 0h2m1 0h4m1 0h1m5 0h1m1 0h2m1 0h1m3 0h3m7 0h8m3 0h5m2 0h1m4 0h1m2 0h1m1 0h7m6 0h3m9 0h2m5 0h1m7 0h5m5 0h2m3 0h1m10 0h4m1 0h1m4 0h1m1 0h3m2 0h1m8 0h3m1 0h1m4 0h3m2 0h1m5 0h1m4 0h3m4 0h1m1 0h3m6 0h1m18 0h3m3 0h3m-486 1h1m1 0h1m4 0h1m2 0h1m32 0h1m9 0h1m34 0h3m7 0h3m4 0h1m2 0h5m2 0h3m3 0h1m8 0h1m14 0h1m6 0h1m6 0h1m2 0h3m6 0h1m1 0h3m11 0h3m1 0h4m4 0h1m2 0h1m1 0h1m3 0h10m1 0h1m2 0h1m2 0h1m3 0h4m2 0h1m7 0h4m7 0h1m1 0h3m8 0h1m7 0h3m4 0h1m3 0h1m4 0h2m2 0h1m2 0h4m6 0h2m2 0h3m2 0h1m2 0h3m1 0h1m3 0h1m1 0h1m4 0h4m8 0h4m3 0h3m1 0h1m3 0h5m5 0h4m4 0h2m2 0h1m5 0h1m11 0h1m13 0h1m1 0h3m2 0h1m1 0h1m2 0h4m7 0h3m4 0h7m2 0h1m1 0h4m14 0h1m2 0h1m5 0h1m9 0h1m-492 1h1m5 0h3m15 0h1m14 0h3m42 0h1m1 0h1m9 0h1m4 0h4m1 0h1m1 0h7m11 0h3m19 0h3m4 0h3m2 0h1m10 0h1m9 0h1m3 0h1m1 0h6m2 0h3m6 0h3m1 0h1m2 0h1m1 0h3m5 0h3m1 0h4m12 0h5m4 0h6m17 0h1m4 0h1m10 0h2m1 0h1m3 0h3m6 0h3m2 0h1m2 0h3m2 0h1m3 0h1m1 0h1m1 0h3m2 0h5m3 0h1m5 0h2m5 0h1m1 0h5m1 0h2m7 0h3m2 0h9m3 0h3m18 0h2m1 0h1m4 0h3m1 0h3m4 0h4m3 0h1m3 0h1m6 0h1m1 0h3m2 0h3m1 0h4m12 0h3m8 0h2m6 0h2m-493 1h4m4 0h1m8 0h1m6 0h3m14 0h1m23 0h1m11 0h1m2 0h1m3 0h3m9 0h1m6 0h4m3 0h1m2 0h2m13 0h1m21 0h1m3 0h1m2 0h1m18 0h1m4 0h3m5 0h1m2 0h1m4 0h1m8 0h1m8 0h1m5 0h3m3 0h1m3 0h2m11 0h2m6 0h1m2 0h3m1 0h1m4 0h1m25 0h6m2 0h1m8 0h1m7 0h1m6 0h5m1 0h1m4 0h1m1 0h3m1 0h3m3 0h1m6 0h9m8 0h3m2 0h6m1 0h3m2 0h1m1 0h1m2 0h1m4 0h2m9 0h6m4 0h1m3 0h1m1 0h1m3 0h3m3 0h4m11 0h1m4 0h1m2 0h1m1 0h1m14 0h1m8 0h4m6 0h1m-492 1h5m10 0h3m6 0h3m14 0h1m21 0h4m8 0h7m2 0h1m5 0h1m3 0h3m4 0h4m1 0h1m1 0h5m1 0h1m29 0h1m7 0h3m3 0h1m7 0h1m7 0h3m4 0h1m10 0h1m1 0h1m5 0h1m3 0h3m12 0h4m3 0h1m2 0h4m12 0h1m9 0h1m1 0h3m2 0h3m10 0h1m4 0h1m4 0h1m4 0h6m9 0h3m9 0h1m4 0h1m1 0h1m8 0h3m2 0h2m1 0h5m6 0h4m1 0h2m10 0h1m4 0h4m3 0h1m2 0h4m1 0h3m2 0h4m8 0h5m5 0h1m4 0h3m1 0h4m4 0h4m4 0h1m9 0h1m2 0h3m12 0h1m6 0h1m5 0h2m-484 1h6m8 0h1m1 0h1m8 0h1m14 0h3m21 0h4m8 0h1m2 0h4m6 0h3m2 0h2m6 0h1m2 0h3m1 0h7m26 0h4m7 0h1m3 0h4m4 0h3m7 0h3m13 0h5m3 0h3m3 0h1m4 0h2m1 0h1m4 0h6m1 0h3m2 0h2m19 0h2m1 0h3m1 0h1m4 0h1m10 0h3m2 0h3m2 0h3m3 0h5m11 0h2m8 0h3m6 0h1m2 0h1m5 0h1m2 0h8m6 0h1m1 0h4m1 0h1m3 0h1m13 0h1m3 0h2m3 0h6m3 0h3m8 0h5m5 0h3m4 0h1m1 0h1m1 0h2m6 0h2m4 0h3m7 0h3m2 0h1m4 0h1m7 0h3m4 0h3m-479 1h3m2 0h1m8 0h3m22 0h1m2 0h1m24 0h1m14 0h1m8 0h1m1 0h4m8 0h1m1 0h1m4 0h2m1 0h1m3 0h1m6 0h1m15 0h4m13 0h4m4 0h1m8 0h4m1 0h1m11 0h1m1 0h3m3 0h1m7 0h7m1 0h1m2 0h1m2 0h1m1 0h1m1 0h1m23 0h6m1 0h3m15 0h1m4 0h1m4 0h1m5 0h4m11 0h3m8 0h1m5 0h7m6 0h1m1 0h1m2 0h2m3 0h1m3 0h3m1 0h6m1 0h3m7 0h1m7 0h7m1 0h4m2 0h3m3 0h1m6 0h3m4 0h5m3 0h5m7 0h4m4 0h1m9 0h1m1 0h4m2 0h3m7 0h1m5 0h3m-478 1h1m4 0h2m7 0h1m22 0h3m40 0h3m6 0h1m1 0h4m6 0h1m1 0h3m4 0h1m6 0h3m4 0h3m15 0h1m17 0h1m15 0h2m1 0h3m13 0h1m4 0h1m2 0h1m3 0h5m1 0h1m1 0h6m2 0h3m10 0h1m8 0h1m5 0h6m1 0h1m32 0h1m1 0h1m2 0h1m10 0h1m1 0h2m11 0h7m6 0h3m7 0h3m1 0h1m1 0h1m3 0h1m2 0h1m1 0h1m1 0h1m1 0h1m5 0h3m1 0h1m5 0h7m2 0h2m1 0h3m3 0h3m3 0h1m4 0h1m2 0h8m2 0h1m1 0h1m9 0h4m14 0h4m1 0h1m2 0h1m5 0h1m9 0h1m14 0h1m-488 1h4m30 0h1m15 0h1m24 0h3m6 0h3m1 0h1m3 0h1m3 0h6m3 0h3m6 0h1m7 0h1m9 0h1m43 0h1m5 0h1m12 0h6m3 0h2m5 0h3m1 0h1m4 0h1m7 0h1m2 0h4m1 0h1m3 0h3m7 0h2m23 0h1m10 0h3m2 0h3m10 0h4m2 0h1m6 0h1m1 0h1m3 0h1m3 0h1m4 0h1m9 0h1m1 0h3m8 0h3m1 0h3m5 0h5m4 0h1m2 0h3m3 0h6m4 0h1m4 0h2m2 0h3m2 0h8m1 0h1m12 0h3m15 0h1m2 0h3m6 0h3m16 0h1m5 0h2m-487 1h3m29 0h1m15 0h3m19 0h1m4 0h1m8 0h1m4 0h4m3 0h1m1 0h2m5 0h1m16 0h1m7 0h3m39 0h1m7 0h3m12 0h1m2 0h1m12 0h1m1 0h1m1 0h1m2 0h1m2 0h1m4 0h3m2 0h6m3 0h2m13 0h1m17 0h3m10 0h1m4 0h1m12 0h2m2 0h3m4 0h3m7 0h3m6 0h1m9 0h1m8 0h3m3 0h1m9 0h1m1 0h2m1 0h3m1 0h3m4 0h1m1 0h2m7 0h1m1 0h2m3 0h2m5 0h1m3 0h1m1 0h3m6 0h1m5 0h1m10 0h1m5 0h1m3 0h1m6 0h3m16 0h3m5 0h1m-495 1h1m8 0h3m2 0h1m11 0h1m7 0h1m4 0h3m15 0h1m19 0h3m16 0h4m3 0h1m1 0h3m21 0h1m9 0h1m34 0h1m2 0h1m1 0h3m7 0h1m4 0h1m7 0h1m2 0h3m12 0h11m1 0h1m2 0h1m3 0h3m1 0h1m4 0h3m11 0h3m3 0h1m3 0h1m4 0h1m4 0h1m7 0h1m13 0h2m11 0h1m6 0h1m6 0h1m1 0h5m3 0h3m15 0h1m2 0h1m8 0h1m6 0h4m1 0h1m3 0h1m11 0h1m5 0h1m4 0h3m1 0h1m10 0h1m5 0h5m2 0h2m9 0h3m3 0h3m4 0h1m5 0h1m3 0h1m8 0h2m4 0h3m-491 1h3m7 0h3m1 0h3m4 0h1m4 0h3m5 0h3m4 0h1m31 0h1m5 0h1m9 0h1m8 0h1m4 0h3m1 0h1m2 0h1m16 0h1m30 0h1m15 0h6m1 0h1m12 0h3m5 0h3m2 0h1m1 0h1m12 0h1m1 0h1m2 0h1m2 0h1m1 0h3m4 0h4m7 0h1m13 0h1m3 0h3m1 0h3m2 0h3m2 0h2m6 0h3m11 0h4m14 0h1m8 0h3m1 0h5m3 0h1m15 0h3m9 0h3m4 0h5m16 0h3m2 0h1m5 0h3m1 0h3m9 0h1m3 0h8m13 0h1m5 0h1m4 0h3m7 0h3m6 0h4m4 0h1m-489 1h1m9 0h3m1 0h2m3 0h3m4 0h1m7 0h3m34 0h3m13 0h3m12 0h3m3 0h3m12 0h1m1 0h3m4 0h1m23 0h3m15 0h1m2 0h1m16 0h1m4 0h2m1 0h1m4 0h3m22 0h1m4 0h5m4 0h1m6 0h1m4 0h1m5 0h1m3 0h1m3 0h1m4 0h1m3 0h1m7 0h2m1 0h1m11 0h2m5 0h1m8 0h3m6 0h3m4 0h2m2 0h1m16 0h3m3 0h1m2 0h2m3 0h1m5 0h4m5 0h1m9 0h1m1 0h2m2 0h5m2 0h3m2 0h1m4 0h1m4 0h3m1 0h4m3 0h1m13 0h3m9 0h2m9 0h1m7 0h3m-473 1h7m2 0h2m14 0h1m36 0h1m15 0h1m2 0h1m11 0h1m5 0h1m12 0h6m3 0h3m13 0h1m9 0h1m7 0h1m32 0h6m4 0h1m14 0h1m13 0h2m1 0h1m4 0h3m1 0h1m2 0h3m2 0h3m3 0h3m6 0h1m2 0h1m6 0h1m5 0h6m17 0h2m7 0h3m5 0h1m1 0h1m8 0h3m5 0h1m4 0h1m3 0h3m1 0h1m1 0h7m1 0h4m3 0h3m5 0h3m7 0h6m2 0h5m2 0h3m3 0h1m1 0h3m4 0h6m3 0h1m1 0h1m13 0h1m9 0h4m7 0h3m5 0h3m-471 1h5m2 0h3m19 0h2m24 0h1m23 0h3m3 0h1m13 0h1m12 0h1m2 0h1m5 0h1m13 0h3m15 0h3m2 0h1m2 0h1m25 0h3m1 0h1m17 0h1m1 0h3m11 0h3m4 0h1m2 0h1m1 0h6m4 0h1m3 0h1m1 0h1m1 0h1m1 0h1m2 0h6m10 0h1m1 0h1m2 0h1m24 0h1m3 0h1m5 0h3m7 0h1m2 0h1m2 0h1m1 0h4m2 0h3m3 0h1m1 0h5m2 0h9m3 0h3m5 0h1m9 0h6m3 0h2m4 0h1m2 0h4m1 0h1m5 0h7m1 0h5m3 0h1m19 0h4m7 0h1m3 0h1m3 0h1m-468 1h1m5 0h1m19 0h4m2 0h1m1 0h1m17 0h3m23 0h1m3 0h3m6 0h1m4 0h4m34 0h1m15 0h1m1 0h2m1 0h6m23 0h3m19 0h3m1 0h1m1 0h1m11 0h1m4 0h4m2 0h3m1 0h1m1 0h1m6 0h3m3 0h1m4 0h1m13 0h3m12 0h1m1 0h1m5 0h1m2 0h1m3 0h3m5 0h2m2 0h1m2 0h1m4 0h3m3 0h6m4 0h1m7 0h4m3 0h1m2 0h1m2 0h1m5 0h3m1 0h1m1 0h1m8 0h1m1 0h3m1 0h2m2 0h3m3 0h7m9 0h1m2 0h2m1 0h3m1 0h1m3 0h3m2 0h1m16 0h2m11 0h3m16 0h1m-483 1h3m25 0h2m2 0h5m17 0h1m29 0h1m6 0h3m4 0h4m48 0h6m1 0h1m2 0h1m25 0h1m11 0h2m8 0h1m1 0h1m1 0h3m2 0h1m1 0h1m9 0h1m1 0h4m2 0h1m2 0h4m6 0h1m2 0h1m1 0h2m2 0h1m5 0h1m9 0h1m12 0h5m1 0h8m3 0h1m5 0h4m3 0h4m2 0h2m5 0h3m13 0h4m17 0h1m1 0h5m6 0h3m1 0h1m1 0h4m2 0h1m5 0h2m1 0h4m7 0h1m6 0h3m6 0h1m2 0h3m29 0h1m6 0h2m8 0h2m-482 1h1m9 0h1m20 0h2m1 0h1m15 0h1m6 0h1m33 0h3m2 0h4m1 0h1m30 0h1m16 0h3m1 0h1m4 0h1m2 0h1m21 0h1m2 0h1m8 0h5m8 0h3m1 0h8m1 0h1m5 0h3m2 0h1m5 0h5m8 0h3m1 0h1m1 0h3m3 0h3m5 0h1m1 0h4m10 0h2m1 0h1m1 0h8m2 0h1m4 0h1m3 0h2m5 0h7m6 0h3m13 0h1m12 0h1m2 0h1m2 0h1m3 0h4m6 0h2m4 0h3m1 0h1m1 0h1m5 0h3m2 0h3m5 0h3m1 0h1m2 0h3m11 0h1m22 0h1m13 0h4m2 0h1m2 0h1m2 0h1m-475 1h1m1 0h3m4 0h1m13 0h3m16 0h3m4 0h3m33 0h1m4 0h1m2 0h3m28 0h3m15 0h3m5 0h6m8 0h1m10 0h6m6 0h5m2 0h1m7 0h1m2 0h3m1 0h1m1 0h1m1 0h3m2 0h1m2 0h1m8 0h3m1 0h1m3 0h1m4 0h5m3 0h1m5 0h1m5 0h3m1 0h4m8 0h3m3 0h3m2 0h3m1 0h3m2 0h3m2 0h3m6 0h6m6 0h1m7 0h1m18 0h9m3 0h1m1 0h1m4 0h4m2 0h4m1 0h5m3 0h1m1 0h1m4 0h2m4 0h3m1 0h3m2 0h1m7 0h1m3 0h1m5 0h1m3 0h1m12 0h3m1 0h1m9 0h4m2 0h6m-474 1h3m1 0h1m4 0h3m13 0h1m18 0h1m6 0h1m21 0h1m21 0h1m30 0h1m2 0h1m14 0h1m3 0h1m1 0h1m1 0h1m2 0h1m2 0h1m5 0h3m8 0h3m2 0h1m6 0h5m2 0h3m10 0h1m1 0h3m3 0h1m2 0h3m2 0h1m8 0h1m5 0h3m4 0h3m6 0h1m2 0h1m4 0h1m2 0h1m2 0h1m1 0h3m5 0h1m1 0h4m3 0h2m3 0h3m1 0h1m4 0h1m4 0h1m8 0h1m2 0h1m1 0h1m4 0h3m5 0h3m2 0h1m4 0h1m10 0h4m2 0h3m3 0h3m2 0h11m2 0h1m1 0h1m3 0h5m3 0h3m1 0h1m2 0h1m3 0h1m3 0h1m6 0h3m1 0h3m3 0h3m1 0h3m10 0h3m1 0h3m8 0h3m4 0h1m2 0h1m-473 1h2m8 0h1m13 0h3m42 0h1m2 0h3m17 0h1m23 0h1m10 0h4m4 0h1m11 0h5m5 0h3m5 0h1m10 0h1m8 0h1m1 0h4m2 0h4m12 0h4m2 0h1m3 0h1m2 0h3m8 0h1m5 0h1m5 0h3m1 0h1m3 0h6m2 0h3m3 0h3m1 0h3m3 0h3m1 0h2m4 0h3m3 0h1m1 0h3m1 0h1m9 0h1m8 0h4m1 0h5m6 0h1m2 0h3m2 0h3m10 0h1m5 0h1m5 0h1m4 0h1m1 0h9m2 0h3m3 0h5m3 0h1m1 0h3m4 0h1m3 0h3m2 0h1m3 0h1m3 0h1m5 0h1m3 0h1m12 0h1m3 0h1m10 0h1m10 0h1m-476 1h3m23 0h1m28 0h1m13 0h3m1 0h4m15 0h3m21 0h3m8 0h4m4 0h3m11 0h1m1 0h1m7 0h1m15 0h1m9 0h6m4 0h2m10 0h1m3 0h7m6 0h1m2 0h1m5 0h3m1 0h1m9 0h1m1 0h3m3 0h1m2 0h1m2 0h3m5 0h1m2 0h3m4 0h1m1 0h1m3 0h1m3 0h1m5 0h1m1 0h1m1 0h3m7 0h3m6 0h4m1 0h6m2 0h1m7 0h1m2 0h4m9 0h3m9 0h3m3 0h10m3 0h3m5 0h3m4 0h1m1 0h1m4 0h3m3 0h1m2 0h3m15 0h3m36 0h3m-477 1h3m5 0h1m45 0h3m13 0h1m3 0h2m11 0h1m5 0h1m23 0h1m4 0h1m5 0h1m7 0h1m9 0h1m25 0h1m1 0h3m9 0h1m1 0h2m5 0h3m2 0h2m4 0h3m4 0h1m2 0h1m2 0h1m6 0h3m1 0h1m3 0h1m1 0h3m2 0h1m7 0h3m8 0h3m10 0h1m6 0h3m1 0h3m2 0h2m3 0h3m2 0h2m8 0h4m1 0h1m4 0h1m4 0h1m2 0h6m2 0h1m3 0h1m1 0h4m11 0h1m4 0h1m6 0h1m3 0h4m1 0h1m2 0h1m4 0h6m4 0h3m2 0h3m1 0h1m3 0h2m3 0h1m2 0h1m1 0h1m3 0h1m8 0h2m3 0h1m15 0h1m22 0h1m-475 1h1m2 0h1m2 0h3m16 0h1m28 0h1m5 0h1m3 0h1m20 0h3m26 0h1m5 0h3m1 0h1m15 0h1m3 0h3m4 0h1m1 0h1m16 0h3m1 0h1m18 0h3m2 0h4m3 0h2m4 0h3m3 0h3m3 0h1m2 0h1m1 0h3m2 0h1m2 0h1m2 0h3m7 0h1m10 0h1m15 0h1m3 0h1m1 0h3m2 0h4m2 0h2m2 0h3m4 0h1m4 0h2m1 0h3m4 0h1m1 0h1m5 0h4m1 0h4m1 0h3m1 0h2m3 0h1m1 0h1m10 0h4m1 0h1m5 0h4m11 0h6m2 0h3m4 0h1m1 0h3m1 0h3m2 0h6m2 0h4m4 0h6m3 0h1m2 0h1m10 0h3m7 0h1m-459 1h3m2 0h1m11 0h1m4 0h3m13 0h1m18 0h3m1 0h3m20 0h1m5 0h1m20 0h3m5 0h1m1 0h3m13 0h3m2 0h2m4 0h5m16 0h2m3 0h1m11 0h1m5 0h1m4 0h2m3 0h3m5 0h1m5 0h1m3 0h3m4 0h1m2 0h3m3 0h3m5 0h1m8 0h1m10 0h1m8 0h3m5 0h1m4 0h2m2 0h3m3 0h1m4 0h3m7 0h1m4 0h5m5 0h7m3 0h6m1 0h5m10 0h6m1 0h1m2 0h3m3 0h1m12 0h1m4 0h1m1 0h1m3 0h1m2 0h1m3 0h1m1 0h1m2 0h1m2 0h1m2 0h6m2 0h6m3 0h6m4 0h1m4 0h3m3 0h1m2 0h3m11 0h1m-471 1h1m1 0h1m12 0h3m4 0h1m13 0h3m18 0h1m3 0h1m26 0h3m5 0h1m14 0h1m3 0h1m5 0h1m15 0h1m2 0h3m5 0h3m10 0h1m4 0h1m1 0h3m1 0h3m9 0h3m3 0h3m2 0h1m6 0h2m4 0h1m3 0h1m1 0h4m2 0h1m9 0h3m2 0h3m3 0h4m6 0h3m3 0h1m4 0h3m8 0h1m13 0h1m2 0h1m10 0h1m3 0h1m3 0h1m1 0h2m3 0h1m1 0h1m7 0h1m2 0h1m6 0h1m1 0h2m3 0h1m1 0h2m5 0h2m5 0h1m1 0h1m1 0h3m2 0h2m2 0h4m4 0h1m11 0h3m1 0h3m6 0h3m6 0h1m1 0h2m1 0h1m3 0h3m5 0h4m1 0h1m4 0h3m3 0h3m2 0h3m2 0h1m4 0h1m2 0h1m3 0h3m-473 1h1m1 0h3m12 0h1m20 0h1m30 0h1m20 0h1m5 0h3m16 0h4m23 0h1m7 0h1m10 0h3m2 0h3m1 0h1m3 0h1m11 0h1m4 0h2m2 0h3m1 0h1m3 0h4m1 0h3m1 0h8m11 0h4m2 0h1m3 0h4m8 0h1m1 0h1m1 0h3m4 0h2m7 0h1m6 0h1m2 0h1m3 0h6m1 0h1m4 0h1m5 0h3m1 0h6m31 0h3m3 0h4m9 0h1m3 0h3m2 0h4m2 0h3m11 0h1m1 0h1m1 0h1m8 0h1m6 0h6m1 0h1m1 0h3m1 0h1m5 0h4m6 0h1m4 0h2m2 0h3m7 0h6m1 0h3m-473 1h5m33 0h3m22 0h1m5 0h3m14 0h1m11 0h1m18 0h4m24 0h1m7 0h1m9 0h1m4 0h1m22 0h3m3 0h5m2 0h5m1 0h1m3 0h1m2 0h1m1 0h1m6 0h1m5 0h3m6 0h3m11 0h3m1 0h1m2 0h1m2 0h3m5 0h3m4 0h6m3 0h8m2 0h3m1 0h1m3 0h1m2 0h5m33 0h1m5 0h4m6 0h1m6 0h1m2 0h1m2 0h1m4 0h3m3 0h1m5 0h1m1 0h3m12 0h1m4 0h1m1 0h2m1 0h3m1 0h1m1 0h3m5 0h2m4 0h1m6 0h3m1 0h1m1 0h1m8 0h2m2 0h1m3 0h1m-471 1h1m1 0h1m8 0h1m25 0h3m21 0h3m5 0h1m14 0h3m21 0h1m1 0h1m7 0h1m24 0h3m5 0h3m36 0h2m5 0h1m1 0h1m2 0h3m1 0h1m1 0h3m13 0h3m3 0h3m3 0h1m4 0h1m5 0h1m1 0h1m4 0h2m4 0h8m5 0h1m2 0h1m3 0h4m1 0h1m3 0h1m1 0h1m2 0h1m3 0h6m6 0h1m17 0h1m2 0h2m3 0h1m6 0h2m10 0h1m6 0h3m7 0h5m5 0h1m3 0h3m3 0h3m1 0h1m3 0h1m8 0h3m4 0h4m1 0h1m3 0h1m1 0h1m5 0h4m2 0h3m6 0h1m1 0h3m6 0h1m1 0h3m9 0h1m-464 1h3m25 0h1m23 0h1m22 0h1m17 0h1m1 0h1m1 0h5m28 0h2m2 0h1m7 0h1m5 0h2m12 0h1m6 0h1m9 0h3m2 0h1m6 0h3m3 0h1m1 0h1m3 0h1m2 0h1m5 0h1m2 0h1m5 0h1m2 0h4m8 0h5m2 0h3m3 0h3m2 0h1m1 0h1m8 0h3m3 0h1m2 0h3m8 0h1m3 0h1m2 0h1m19 0h1m4 0h7m1 0h4m2 0h1m1 0h3m1 0h1m1 0h1m4 0h1m7 0h3m7 0h6m9 0h1m3 0h1m1 0h1m5 0h3m4 0h1m2 0h2m6 0h4m3 0h3m7 0h2m4 0h1m10 0h1m6 0h3m1 0h3m7 0h2m-463 1h1m11 0h1m6 0h1m19 0h1m15 0h1m14 0h1m1 0h1m18 0h5m1 0h1m1 0h1m24 0h1m2 0h5m5 0h1m2 0h3m3 0h4m10 0h3m4 0h3m5 0h1m3 0h1m2 0h3m6 0h1m3 0h3m3 0h6m3 0h3m9 0h4m5 0h1m4 0h1m1 0h1m4 0h1m5 0h1m13 0h3m4 0h1m3 0h1m8 0h3m4 0h3m17 0h3m4 0h1m2 0h4m1 0h15m2 0h3m3 0h1m3 0h2m3 0h1m3 0h5m2 0h1m10 0h3m3 0h1m3 0h1m4 0h6m8 0h1m2 0h1m2 0h1m3 0h1m6 0h1m11 0h2m9 0h3m1 0h1m9 0h1m-472 1h1m19 0h3m4 0h3m17 0h3m13 0h3m1 0h1m10 0h5m3 0h1m14 0h1m1 0h1m28 0h8m5 0h3m1 0h2m3 0h1m1 0h2m12 0h1m5 0h3m4 0h3m6 0h1m1 0h1m10 0h1m4 0h2m1 0h2m3 0h1m1 0h1m11 0h4m2 0h4m2 0h1m12 0h1m15 0h1m4 0h3m1 0h3m8 0h1m6 0h1m2 0h1m12 0h1m3 0h2m8 0h4m1 0h2m1 0h10m4 0h1m3 0h3m2 0h3m1 0h2m4 0h4m1 0h3m10 0h1m3 0h5m3 0h1m2 0h1m2 0h1m11 0h3m4 0h3m3 0h4m4 0h1m4 0h4m9 0h1m9 0h1m2 0h1m-473 1h3m6 0h2m11 0h1m6 0h1m17 0h1m1 0h1m15 0h1m1 0h3m7 0h1m2 0h1m1 0h1m3 0h3m4 0h1m11 0h1m28 0h1m2 0h1m4 0h1m4 0h1m1 0h3m2 0h4m20 0h1m6 0h1m8 0h3m11 0h1m1 0h6m2 0h3m1 0h1m4 0h1m4 0h10m2 0h3m10 0h3m18 0h3m3 0h1m3 0h1m2 0h1m11 0h3m3 0h1m6 0h4m1 0h4m8 0h1m1 0h6m1 0h3m1 0h1m5 0h1m5 0h1m2 0h4m2 0h2m5 0h1m1 0h5m4 0h1m1 0h1m2 0h1m1 0h8m1 0h6m1 0h1m12 0h2m2 0h1m2 0h1m3 0h4m4 0h4m3 0h3m18 0h5m-472 1h1m6 0h4m9 0h1m16 0h1m7 0h5m17 0h1m7 0h3m8 0h1m4 0h3m9 0h3m7 0h1m24 0h5m5 0h3m1 0h1m1 0h4m21 0h1m14 0h4m8 0h3m1 0h1m1 0h3m3 0h1m1 0h3m2 0h3m4 0h1m2 0h2m1 0h1m5 0h1m12 0h1m11 0h1m3 0h1m4 0h1m7 0h6m4 0h1m2 0h1m3 0h1m3 0h3m2 0h1m3 0h4m1 0h4m10 0h1m2 0h1m1 0h1m1 0h1m7 0h3m3 0h1m4 0h2m3 0h3m1 0h1m1 0h3m1 0h1m1 0h1m4 0h11m1 0h4m1 0h2m2 0h1m1 0h4m10 0h6m5 0h2m4 0h1m2 0h4m1 0h1m1 0h3m18 0h1m2 0h1m-464 1h2m9 0h3m14 0h3m7 0h1m1 0h1m7 0h1m9 0h3m7 0h1m9 0h2m4 0h1m5 0h1m5 0h1m7 0h3m21 0h6m7 0h1m1 0h3m2 0h1m11 0h1m9 0h3m13 0h5m8 0h1m2 0h1m2 0h1m3 0h1m3 0h1m2 0h1m1 0h1m8 0h3m3 0h1m11 0h1m2 0h1m11 0h3m1 0h3m12 0h1m1 0h3m3 0h6m3 0h1m3 0h1m2 0h3m1 0h4m4 0h1m2 0h1m8 0h1m3 0h3m2 0h1m6 0h1m3 0h3m9 0h1m1 0h3m1 0h1m10 0h6m1 0h1m2 0h4m1 0h3m5 0h4m10 0h4m5 0h3m3 0h3m1 0h3m1 0h3m1 0h1m20 0h1m-468 1h1m17 0h1m16 0h1m17 0h3m9 0h1m3 0h1m4 0h1m8 0h4m8 0h3m9 0h1m3 0h1m21 0h5m12 0h1m1 0h1m12 0h3m7 0h1m1 0h1m15 0h3m8 0h6m4 0h4m3 0h3m5 0h1m4 0h1m3 0h3m9 0h6m11 0h1m3 0h1m7 0h1m1 0h1m1 0h1m4 0h1m5 0h4m3 0h3m6 0h7m6 0h3m6 0h3m3 0h1m2 0h3m3 0h1m4 0h3m3 0h1m7 0h1m1 0h2m12 0h3m1 0h1m6 0h2m2 0h4m6 0h1m2 0h3m1 0h1m5 0h2m7 0h2m4 0h1m3 0h1m3 0h1m2 0h1m7 0h1m11 0h3m-471 1h4m1 0h1m22 0h1m6 0h1m20 0h1m13 0h3m2 0h3m8 0h2m10 0h1m9 0h3m25 0h2m5 0h1m9 0h3m9 0h1m2 0h3m4 0h4m10 0h1m11 0h1m5 0h1m2 0h1m6 0h4m2 0h3m4 0h4m7 0h1m11 0h1m2 0h1m23 0h7m10 0h2m3 0h1m1 0h1m7 0h7m4 0h1m1 0h2m4 0h1m1 0h3m5 0h5m1 0h4m2 0h4m2 0h4m4 0h6m7 0h1m5 0h1m7 0h3m1 0h4m9 0h7m3 0h3m7 0h3m3 0h1m9 0h3m1 0h1m3 0h3m11 0h1m-471 1h4m1 0h3m4 0h2m14 0h3m4 0h3m27 0h1m6 0h1m4 0h1m9 0h1m6 0h1m15 0h1m7 0h1m24 0h3m9 0h1m9 0h3m2 0h1m4 0h4m10 0h3m9 0h3m13 0h1m2 0h1m3 0h2m6 0h4m45 0h7m10 0h1m3 0h3m7 0h5m1 0h4m1 0h5m3 0h5m5 0h10m4 0h4m2 0h4m4 0h1m1 0h3m1 0h1m4 0h3m1 0h1m3 0h1m1 0h1m5 0h1m1 0h4m9 0h4m2 0h1m2 0h1m2 0h1m2 0h1m6 0h1m1 0h5m7 0h1m1 0h1m1 0h3m3 0h1m14 0h1m-472 1h1m3 0h2m4 0h4m6 0h2m6 0h1m6 0h1m3 0h1m23 0h3m19 0h3m4 0h3m9 0h1m11 0h3m24 0h1m21 0h1m7 0h1m1 0h1m13 0h1m9 0h1m1 0h1m13 0h6m1 0h3m8 0h1m4 0h1m27 0h1m14 0h1m1 0h5m1 0h1m1 0h1m4 0h3m2 0h3m1 0h1m6 0h1m1 0h2m2 0h4m1 0h1m1 0h1m1 0h1m1 0h1m1 0h1m1 0h2m1 0h1m4 0h1m3 0h1m1 0h1m8 0h1m2 0h1m2 0h1m5 0h1m2 0h5m4 0h1m1 0h3m1 0h1m1 0h3m6 0h5m9 0h2m5 0h3m3 0h3m6 0h5m1 0h1m5 0h3m3 0h1m5 0h1m2 0h1m5 0h1m3 0h2m-469 1h3m5 0h2m6 0h4m15 0h3m2 0h1m19 0h2m2 0h1m18 0h1m6 0h1m9 0h3m11 0h1m6 0h1m17 0h1m21 0h2m6 0h3m23 0h4m14 0h1m2 0h1m1 0h4m1 0h1m10 0h3m13 0h1m11 0h3m17 0h2m1 0h5m4 0h1m4 0h1m1 0h4m5 0h8m5 0h5m1 0h6m5 0h1m3 0h1m6 0h7m6 0h6m1 0h1m4 0h3m1 0h1m5 0h1m4 0h1m1 0h3m1 0h1m2 0h1m7 0h3m5 0h2m4 0h1m4 0h1m3 0h2m2 0h3m5 0h1m9 0h6m2 0h4m3 0h1m-468 1h1m15 0h2m5 0h1m2 0h1m3 0h1m4 0h1m2 0h3m17 0h3m1 0h3m35 0h1m18 0h3m15 0h3m4 0h1m10 0h1m3 0h4m5 0h2m25 0h4m9 0h1m1 0h1m7 0h2m1 0h3m10 0h1m1 0h1m11 0h3m6 0h1m1 0h2m1 0h1m6 0h1m15 0h3m5 0h1m7 0h4m5 0h2m2 0h1m3 0h1m2 0h3m1 0h1m1 0h4m1 0h1m4 0h4m1 0h3m4 0h4m2 0h1m4 0h2m2 0h4m1 0h3m4 0h1m5 0h1m6 0h3m1 0h1m1 0h1m2 0h3m7 0h1m4 0h1m1 0h3m2 0h3m2 0h3m2 0h3m2 0h3m15 0h2m1 0h1m2 0h4m2 0h1m1 0h1m-457 1h1m4 0h4m2 0h6m1 0h3m5 0h1m1 0h1m19 0h1m3 0h1m56 0h1m3 0h1m2 0h1m10 0h1m4 0h3m8 0h3m3 0h2m5 0h3m27 0h1m2 0h1m6 0h5m10 0h1m12 0h3m11 0h1m4 0h1m1 0h6m6 0h3m15 0h1m5 0h3m3 0h1m3 0h2m2 0h1m3 0h1m2 0h1m3 0h7m3 0h4m5 0h4m2 0h2m6 0h2m7 0h4m2 0h2m3 0h1m9 0h4m6 0h1m3 0h3m2 0h1m3 0h1m8 0h3m1 0h1m4 0h1m4 0h6m4 0h1m15 0h4m4 0h1m3 0h4m-458 1h3m4 0h4m2 0h2m1 0h1m3 0h1m5 0h3m47 0h1m12 0h1m19 0h1m3 0h6m9 0h1m5 0h1m10 0h1m12 0h1m8 0h1m5 0h1m15 0h3m6 0h1m1 0h1m5 0h1m5 0h1m4 0h1m6 0h1m1 0h1m8 0h1m1 0h1m5 0h5m1 0h2m8 0h1m6 0h1m16 0h1m3 0h3m5 0h3m1 0h6m3 0h1m1 0h3m5 0h4m5 0h1m3 0h3m1 0h1m4 0h3m7 0h2m3 0h3m7 0h1m3 0h4m8 0h1m3 0h1m6 0h3m8 0h1m13 0h5m20 0h3m10 0h1m1 0h1m-460 1h1m2 0h1m1 0h1m1 0h1m1 0h3m3 0h3m9 0h4m13 0h1m11 0h1m20 0h3m7 0h1m2 0h3m17 0h3m3 0h1m2 0h1m8 0h4m10 0h1m25 0h3m3 0h3m15 0h1m8 0h1m5 0h3m3 0h3m2 0h3m4 0h3m8 0h5m5 0h3m18 0h3m16 0h1m3 0h2m6 0h1m3 0h1m2 0h1m3 0h1m1 0h3m4 0h1m1 0h5m9 0h1m1 0h3m2 0h3m10 0h1m3 0h2m1 0h1m4 0h7m1 0h1m3 0h1m3 0h3m2 0h1m2 0h1m1 0h4m7 0h1m3 0h1m12 0h3m19 0h1m2 0h1m-447 1h4m1 0h5m1 0h1m5 0h1m9 0h4m13 0h3m9 0h1m22 0h1m7 0h3m2 0h1m19 0h1m15 0h6m7 0h4m25 0h1m5 0h1m21 0h1m2 0h3m5 0h1m5 0h1m1 0h2m1 0h1m6 0h1m10 0h1m1 0h3m2 0h1m1 0h3m12 0h1m2 0h1m1 0h1m1 0h1m9 0h2m5 0h4m1 0h3m4 0h3m3 0h1m1 0h1m1 0h6m2 0h1m1 0h3m1 0h1m1 0h1m13 0h1m2 0h4m2 0h1m1 0h1m1 0h1m2 0h3m2 0h5m2 0h1m1 0h5m1 0h3m1 0h3m3 0h1m2 0h9m5 0h1m1 0h3m1 0h3m12 0h3m17 0h3m-444 1h4m1 0h1m1 0h1m8 0h1m10 0h1m16 0h1m1 0h1m9 0h1m21 0h1m8 0h1m40 0h6m5 0h4m14 0h1m36 0h1m1 0h3m2 0h1m11 0h7m7 0h1m1 0h1m7 0h1m2 0h1m2 0h3m1 0h1m12 0h8m9 0h4m5 0h4m1 0h1m6 0h1m3 0h11m1 0h3m1 0h1m1 0h3m1 0h1m11 0h3m2 0h2m4 0h5m2 0h2m2 0h4m2 0h6m2 0h1m1 0h2m2 0h1m8 0h1m1 0h5m4 0h4m1 0h5m14 0h3m9 0h1m5 0h1m1 0h1m9 0h1m-451 1h1m5 0h1m6 0h3m27 0h3m8 0h3m18 0h3m48 0h5m6 0h2m15 0h3m13 0h1m18 0h1m1 0h3m1 0h1m13 0h1m2 0h1m1 0h5m1 0h2m2 0h5m5 0h3m5 0h1m16 0h1m1 0h4m4 0h1m1 0h1m4 0h4m4 0h4m12 0h4m1 0h1m3 0h1m1 0h3m2 0h1m1 0h6m3 0h1m5 0h4m5 0h1m3 0h3m1 0h11m2 0h1m1 0h1m3 0h6m2 0h1m4 0h2m4 0h3m4 0h4m2 0h5m2 0h1m7 0h1m4 0h1m7 0h5m3 0h3m9 0h3m-447 1h3m6 0h1m6 0h1m22 0h3m7 0h3m19 0h3m33 0h1m8 0h1m5 0h4m5 0h3m13 0h1m2 0h1m13 0h3m1 0h1m3 0h1m10 0h3m1 0h2m14 0h3m2 0h1m3 0h1m1 0h4m2 0h3m7 0h1m1 0h1m11 0h1m6 0h1m2 0h1m2 0h2m4 0h5m4 0h5m3 0h4m12 0h1m4 0h1m5 0h2m1 0h6m1 0h1m3 0h3m3 0h4m5 0h3m2 0h9m1 0h6m4 0h1m3 0h4m2 0h3m2 0h4m4 0h3m4 0h3m1 0h10m5 0h3m1 0h1m8 0h5m5 0h1m11 0h1m6 0h1m-452 1h1m1 0h1m3 0h1m7 0h3m8 0h1m10 0h1m2 0h1m9 0h1m21 0h1m22 0h1m10 0h3m6 0h4m5 0h1m7 0h1m13 0h3m16 0h1m1 0h3m1 0h3m10 0h1m2 0h3m1 0h1m12 0h1m2 0h3m5 0h2m3 0h3m6 0h1m1 0h3m4 0h1m1 0h1m2 0h3m4 0h6m1 0h3m4 0h1m1 0h1m6 0h5m2 0h1m1 0h1m16 0h4m4 0h3m1 0h4m2 0h1m4 0h3m3 0h3m3 0h4m1 0h1m2 0h2m1 0h2m1 0h5m1 0h3m3 0h3m3 0h1m4 0h2m4 0h2m5 0h4m2 0h3m3 0h5m2 0h1m7 0h1m1 0h3m5 0h1m2 0h2m6 0h3m16 0h2m-451 1h3m1 0h3m7 0h1m6 0h1m1 0h3m2 0h1m5 0h3m10 0h3m42 0h3m10 0h1m8 0h4m27 0h1m20 0h1m3 0h3m13 0h1m1 0h3m2 0h2m11 0h1m2 0h2m8 0h1m6 0h3m1 0h3m2 0h5m2 0h1m4 0h1m1 0h1m2 0h1m3 0h1m7 0h1m6 0h4m2 0h5m14 0h4m6 0h1m2 0h8m4 0h1m3 0h3m3 0h4m1 0h3m5 0h6m1 0h5m3 0h1m8 0h3m12 0h3m1 0h3m3 0h5m7 0h1m4 0h3m5 0h3m1 0h1m3 0h1m3 0h3m17 0h1m-453 1h1m2 0h1m3 0h1m14 0h3m1 0h1m2 0h3m5 0h1m12 0h1m44 0h1m21 0h4m30 0h1m2 0h1m1 0h1m16 0h1m17 0h1m2 0h5m11 0h4m11 0h1m1 0h1m1 0h1m3 0h1m4 0h1m1 0h1m7 0h3m7 0h1m6 0h3m4 0h6m1 0h6m5 0h1m8 0h1m2 0h1m8 0h2m1 0h2m1 0h3m1 0h1m5 0h2m4 0h3m3 0h2m4 0h7m2 0h3m13 0h3m5 0h1m4 0h1m2 0h1m3 0h1m5 0h1m2 0h1m6 0h3m1 0h1m2 0h1m2 0h1m4 0h1m1 0h3m1 0h3m3 0h1m17 0h2m-454 1h3m5 0h1m10 0h1m4 0h1m6 0h1m2 0h1m48 0h1m34 0h1m1 0h1m22 0h1m2 0h1m4 0h8m37 0h5m11 0h2m10 0h8m3 0h2m2 0h1m10 0h1m7 0h3m1 0h1m4 0h1m5 0h2m1 0h9m4 0h4m6 0h1m2 0h3m6 0h3m1 0h3m1 0h1m1 0h3m3 0h3m5 0h1m3 0h4m4 0h5m9 0h1m3 0h1m3 0h1m1 0h4m3 0h3m2 0h3m1 0h1m2 0h3m3 0h6m5 0h6m3 0h3m6 0h1m3 0h1m6 0h1m5 0h1m10 0h1m-457 1h1m3 0h1m5 0h3m8 0h3m12 0h3m15 0h1m30 0h3m21 0h1m10 0h3m21 0h7m4 0h4m1 0h1m12 0h1m17 0h1m6 0h3m1 0h1m19 0h1m3 0h4m1 0h4m2 0h7m5 0h1m12 0h1m1 0h4m7 0h3m3 0h1m1 0h1m2 0h1m4 0h4m6 0h6m5 0h1m2 0h1m3 0h1m5 0h1m3 0h1m1 0h3m3 0h3m3 0h2m1 0h1m5 0h1m6 0h1m1 0h1m1 0h3m1 0h3m3 0h6m2 0h3m1 0h3m1 0h3m2 0h1m5 0h1m2 0h3m5 0h4m5 0h1m1 0h1m15 0h3m3 0h3m4 0h1m2 0h1m1 0h1m-460 1h1m1 0h3m3 0h1m5 0h1m10 0h1m14 0h1m15 0h3m28 0h3m21 0h3m10 0h1m21 0h4m2 0h1m7 0h1m14 0h3m15 0h3m6 0h1m6 0h1m2 0h1m11 0h3m1 0h3m4 0h2m4 0h2m2 0h3m3 0h3m4 0h1m4 0h2m3 0h5m6 0h1m6 0h1m4 0h1m3 0h2m8 0h1m2 0h1m5 0h3m7 0h1m6 0h3m1 0h1m5 0h1m2 0h1m3 0h3m4 0h1m1 0h1m3 0h5m1 0h1m3 0h1m3 0h1m2 0h1m1 0h1m2 0h5m1 0h1m2 0h2m2 0h3m4 0h1m3 0h1m7 0h3m6 0h3m13 0h1m1 0h1m2 0h4m4 0h7m-461 1h3m1 0h1m3 0h3m47 0h1m30 0h1m1 0h1m21 0h1m22 0h1m11 0h1m28 0h1m17 0h1m13 0h6m5 0h1m5 0h1m3 0h2m1 0h1m1 0h3m9 0h1m1 0h1m3 0h1m4 0h3m2 0h4m3 0h5m2 0h1m6 0h1m1 0h3m2 0h3m15 0h1m2 0h1m3 0h1m1 0h2m2 0h1m1 0h2m7 0h2m4 0h1m4 0h3m2 0h4m2 0h5m3 0h1m1 0h1m3 0h1m8 0h3m4 0h3m2 0h1m1 0h3m3 0h1m4 0h3m4 0h1m3 0h1m2 0h1m8 0h1m8 0h1m4 0h3m2 0h4m6 0h1m2 0h1m1 0h1m-460 1h1m7 0h1m35 0h1m12 0h1m31 0h3m42 0h3m33 0h1m20 0h1m17 0h1m1 0h2m5 0h3m8 0h5m1 0h2m1 0h1m4 0h1m1 0h1m1 0h3m1 0h3m2 0h3m2 0h4m5 0h1m1 0h1m2 0h3m4 0h3m1 0h1m3 0h3m5 0h1m6 0h1m1 0h6m3 0h7m9 0h3m2 0h3m3 0h3m2 0h3m1 0h1m2 0h1m1 0h3m7 0h4m7 0h1m9 0h5m3 0h3m4 0h1m3 0h4m1 0h3m18 0h3m4 0h1m4 0h1m-405 1h1m1 0h3m10 0h3m5 0h1m25 0h1m35 0h1m8 0h2m32 0h3m18 0h3m17 0h3m4 0h3m10 0h4m1 0h5m2 0h5m1 0h2m2 0h1m2 0h3m1 0h5m5 0h1m6 0h1m4 0h4m6 0h2m4 0h3m4 0h3m1 0h1m2 0h1m5 0h2m1 0h3m4 0h1m3 0h4m3 0h1m3 0h8m4 0h1m1 0h5m7 0h4m17 0h3m5 0h1m8 0h5m2 0h2m4 0h1m14 0h3m-397 1h3m1 0h1m12 0h1m5 0h3m9 0h1m49 0h3m7 0h3m32 0h4m8 0h1m8 0h1m17 0h3m6 0h1m3 0h1m1 0h1m7 0h1m2 0h4m1 0h1m2 0h1m1 0h1m2 0h3m5 0h1m1 0h5m5 0h3m11 0h4m1 0h1m1 0h5m1 0h4m4 0h3m15 0h4m1 0h4m2 0h2m5 0h5m1 0h1m2 0h1m1 0h1m2 0h7m3 0h1m4 0h3m5 0h1m2 0h1m5 0h1m2 0h3m7 0h1m8 0h1m1 0h1m1 0h1m1 0h3m2 0h3m14 0h1m3 0h1m10 0h1m-410 1h3m19 0h2m9 0h3m14 0h1m34 0h1m8 0h3m5 0h1m11 0h2m14 0h4m6 0h3m26 0h1m10 0h5m8 0h4m1 0h3m4 0h1m2 0h1m9 0h1m8 0h3m3 0h2m6 0h3m1 0h7m1 0h5m4 0h2m2 0h1m7 0h1m6 0h9m6 0h7m5 0h3m2 0h1m1 0h1m5 0h3m4 0h2m4 0h6m3 0h3m1 0h2m6 0h4m10 0h3m1 0h1m2 0h3m16 0h1m1 0h4m7 0h3m2 0h1m4 0h1m-442 1h1m2 0h1m20 0h1m19 0h3m10 0h1m14 0h3m21 0h1m5 0h2m14 0h1m5 0h3m9 0h4m1 0h1m13 0h1m8 0h1m10 0h1m17 0h1m10 0h1m1 0h1m10 0h2m2 0h5m1 0h3m12 0h1m8 0h1m3 0h4m3 0h1m2 0h1m2 0h2m1 0h2m4 0h1m1 0h1m4 0h3m1 0h3m5 0h3m2 0h2m1 0h1m1 0h1m2 0h1m1 0h1m6 0h7m4 0h1m2 0h1m2 0h4m6 0h1m5 0h3m2 0h1m1 0h2m1 0h1m5 0h5m5 0h4m1 0h1m10 0h1m2 0h1m3 0h1m16 0h8m7 0h1m2 0h3m2 0h2m-443 1h6m28 0h1m8 0h1m2 0h1m23 0h1m3 0h1m21 0h3m4 0h1m22 0h1m9 0h4m1 0h3m11 0h3m16 0h4m15 0h3m25 0h7m1 0h1m4 0h1m7 0h3m12 0h2m3 0h3m3 0h3m9 0h1m3 0h1m1 0h1m2 0h2m7 0h1m2 0h6m12 0h2m8 0h3m2 0h1m2 0h5m4 0h1m2 0h1m3 0h2m1 0h6m6 0h4m1 0h1m3 0h8m3 0h1m7 0h3m20 0h8m3 0h1m6 0h1m4 0h1m-442 1h1m2 0h1m12 0h1m15 0h3m6 0h3m2 0h1m21 0h3m25 0h1m37 0h3m4 0h1m13 0h1m2 0h1m4 0h1m7 0h6m12 0h1m3 0h1m11 0h1m15 0h1m2 0h3m5 0h3m7 0h2m3 0h1m14 0h1m5 0h1m4 0h1m4 0h3m1 0h3m2 0h3m8 0h5m1 0h1m2 0h1m1 0h2m5 0h4m2 0h1m6 0h1m2 0h3m3 0h4m2 0h6m2 0h3m1 0h4m8 0h1m2 0h3m3 0h6m3 0h3m7 0h1m4 0h1m18 0h1m3 0h1m3 0h3m-451 1h1m19 0h2m5 0h1m7 0h3m15 0h1m8 0h1m2 0h3m19 0h1m1 0h1m48 0h1m16 0h1m21 0h3m2 0h3m5 0h8m10 0h3m13 0h3m18 0h3m2 0h2m1 0h1m8 0h3m1 0h4m14 0h1m6 0h4m3 0h2m3 0h1m4 0h1m3 0h1m3 0h7m3 0h6m3 0h4m2 0h3m9 0h1m1 0h1m1 0h4m4 0h4m4 0h1m4 0h3m11 0h1m3 0h1m3 0h4m2 0h3m9 0h1m1 0h3m14 0h1m5 0h1m4 0h2m11 0h1m-469 1h1m5 0h3m17 0h4m3 0h3m7 0h1m29 0h1m2 0h1m2 0h1m13 0h4m47 0h3m30 0h1m7 0h1m4 0h1m7 0h1m4 0h1m12 0h1m15 0h3m16 0h3m2 0h6m8 0h1m2 0h5m12 0h3m1 0h1m2 0h4m3 0h4m1 0h3m1 0h1m1 0h1m2 0h3m1 0h5m1 0h1m3 0h3m1 0h2m1 0h1m3 0h1m2 0h1m2 0h1m3 0h1m2 0h1m4 0h3m1 0h1m8 0h1m4 0h1m6 0h2m7 0h1m6 0h3m3 0h2m4 0h1m8 0h4m1 0h1m2 0h1m11 0h3m3 0h3m2 0h3m10 0h2m-470 1h3m5 0h1m16 0h1m2 0h2m5 0h1m12 0h1m19 0h1m7 0h6m13 0h4m1 0h1m45 0h1m15 0h1m12 0h1m1 0h3m14 0h1m39 0h2m13 0h1m3 0h1m3 0h3m1 0h1m7 0h1m2 0h4m1 0h1m2 0h1m7 0h1m2 0h7m1 0h4m3 0h4m1 0h1m1 0h8m3 0h5m5 0h1m1 0h1m2 0h3m4 0h4m3 0h6m4 0h2m2 0h1m3 0h1m4 0h1m2 0h3m4 0h4m4 0h4m6 0h1m3 0h3m1 0h1m10 0h4m4 0h3m10 0h2m1 0h5m4 0h1m3 0h1m8 0h1m-469 1h1m22 0h3m20 0h3m17 0h2m8 0h1m2 0h1m16 0h1m1 0h3m54 0h1m4 0h3m10 0h3m1 0h1m9 0h1m1 0h1m2 0h3m27 0h1m10 0h3m11 0h3m5 0h3m9 0h7m4 0h3m5 0h3m2 0h1m2 0h3m2 0h2m2 0h1m3 0h1m5 0h1m1 0h1m2 0h1m3 0h3m1 0h1m6 0h7m3 0h1m2 0h4m3 0h1m2 0h1m2 0h1m2 0h6m1 0h4m1 0h3m2 0h1m2 0h1m1 0h4m4 0h6m10 0h1m1 0h3m2 0h1m5 0h3m4 0h1m2 0h1m10 0h8m6 0h1m1 0h3m-437 1h1m22 0h1m5 0h1m10 0h1m2 0h1m31 0h1m9 0h1m10 0h1m33 0h3m4 0h1m11 0h2m11 0h5m2 0h1m27 0h3m10 0h1m12 0h4m5 0h1m11 0h7m4 0h1m1 0h1m5 0h1m1 0h2m1 0h1m2 0h1m3 0h2m1 0h3m2 0h1m6 0h6m2 0h2m7 0h5m2 0h1m3 0h3m3 0h1m2 0h1m6 0h3m2 0h1m2 0h1m3 0h4m1 0h1m5 0h3m1 0h3m4 0h6m13 0h1m2 0h3m3 0h1m1 0h1m4 0h3m7 0h2m4 0h1m1 0h3m3 0h1m3 0h3m1 0h3m6 0h1m-421 1h1m3 0h3m8 0h3m34 0h1m7 0h3m8 0h3m33 0h1m16 0h3m3 0h1m8 0h1m1 0h1m32 0h1m25 0h4m3 0h1m11 0h5m1 0h1m6 0h3m5 0h6m5 0h1m1 0h1m1 0h2m1 0h3m2 0h1m3 0h1m2 0h1m2 0h3m6 0h6m3 0h1m3 0h1m2 0h1m3 0h3m4 0h5m9 0h4m6 0h3m2 0h2m3 0h1m1 0h2m1 0h1m16 0h1m1 0h1m3 0h3m6 0h1m7 0h4m4 0h3m3 0h3m3 0h1m2 0h5m-455 1h1m23 0h1m13 0h3m3 0h1m10 0h1m25 0h1m8 0h3m7 0h1m10 0h1m52 0h1m3 0h3m6 0h1m19 0h3m41 0h1m3 0h3m9 0h4m2 0h1m3 0h1m3 0h3m6 0h2m1 0h1m7 0h6m1 0h7m2 0h4m2 0h1m7 0h7m8 0h3m3 0h1m6 0h5m7 0h4m8 0h2m2 0h3m1 0h6m16 0h5m3 0h1m6 0h1m1 0h1m7 0h2m6 0h1m4 0h2m8 0h5m3 0h1m-461 1h3m21 0h3m13 0h1m40 0h3m8 0h1m16 0h2m25 0h1m9 0h1m23 0h1m6 0h3m19 0h1m40 0h1m6 0h1m11 0h3m1 0h7m3 0h1m6 0h3m6 0h1m1 0h1m1 0h1m2 0h3m1 0h12m9 0h4m1 0h4m8 0h3m9 0h1m2 0h1m9 0h1m1 0h1m7 0h4m2 0h1m3 0h1m2 0h1m5 0h1m12 0h1m1 0h1m6 0h1m26 0h3m6 0h1m2 0h1m1 0h1m-455 1h1m23 0h1m7 0h1m48 0h1m26 0h2m24 0h3m7 0h3m22 0h1m7 0h1m31 0h1m28 0h3m11 0h1m6 0h1m3 0h8m9 0h1m6 0h6m2 0h4m1 0h1m3 0h1m1 0h6m5 0h1m1 0h3m2 0h1m2 0h3m8 0h1m3 0h1m5 0h3m11 0h4m7 0h7m10 0h3m2 0h1m2 0h2m5 0h3m4 0h3m3 0h1m9 0h1m12 0h1m2 0h1m3 0h3m-420 1h3m74 0h3m15 0h1m8 0h1m9 0h1m22 0h3m37 0h3m28 0h1m11 0h3m3 0h1m3 0h1m3 0h8m6 0h1m1 0h1m6 0h5m3 0h2m1 0h3m3 0h3m2 0h1m5 0h10m2 0h1m8 0h3m1 0h3m4 0h4m5 0h1m3 0h6m8 0h1m1 0h3m1 0h1m9 0h1m2 0h7m4 0h2m6 0h1m4 0h1m8 0h3m9 0h1m3 0h3m3 0h1m-418 1h1m31 0h1m44 0h1m15 0h3m32 0h1m8 0h1m2 0h1m36 0h1m10 0h1m6 0h1m12 0h1m8 0h1m2 0h1m3 0h3m1 0h3m3 0h2m1 0h5m4 0h5m5 0h4m8 0h1m1 0h2m1 0h3m9 0h1m2 0h2m2 0h1m4 0h1m3 0h1m4 0h1m3 0h1m4 0h4m4 0h4m3 0h2m1 0h1m12 0h1m1 0h3m1 0h1m9 0h7m3 0h4m9 0h1m1 0h1m4 0h1m3 0h1m3 0h1m5 0h3m3 0h1m-432 1h1m33 0h1m16 0h2m59 0h2m12 0h1m3 0h1m12 0h1m2 0h3m9 0h3m21 0h1m23 0h3m4 0h3m10 0h3m6 0h3m6 0h1m1 0h3m6 0h3m1 0h1m6 0h1m1 0h1m2 0h1m2 0h6m1 0h1m2 0h1m3 0h3m2 0h1m1 0h1m5 0h1m10 0h1m2 0h3m1 0h3m3 0h1m9 0h1m4 0h6m22 0h1m1 0h4m1 0h1m6 0h5m4 0h5m7 0h3m4 0h3m5 0h3m5 0h1m8 0h1m8 0h1m-446 1h3m31 0h4m14 0h1m38 0h1m20 0h3m11 0h3m1 0h3m10 0h3m2 0h1m6 0h1m4 0h1m9 0h1m11 0h3m15 0h1m7 0h1m6 0h2m11 0h1m8 0h1m10 0h1m8 0h1m5 0h2m6 0h8m2 0h1m2 0h3m3 0h1m4 0h3m3 0h3m2 0h1m5 0h3m2 0h2m2 0h1m3 0h3m1 0h1m2 0h1m4 0h1m2 0h6m5 0h2m1 0h1m17 0h6m7 0h1m5 0h3m1 0h1m9 0h1m6 0h3m4 0h3m7 0h1m5 0h3m4 0h1m1 0h3m-446 1h1m8 0h1m10 0h1m6 0h1m6 0h4m51 0h3m20 0h1m13 0h1m3 0h1m12 0h1m9 0h3m12 0h3m11 0h1m15 0h3m13 0h3m12 0h1m15 0h1m4 0h2m4 0h1m3 0h5m2 0h1m3 0h1m2 0h3m2 0h1m3 0h3m4 0h1m4 0h1m5 0h6m5 0h1m3 0h6m3 0h1m1 0h7m1 0h3m2 0h1m1 0h1m5 0h7m3 0h1m11 0h4m1 0h1m1 0h1m4 0h1m6 0h3m10 0h1m9 0h1m6 0h1m7 0h3m5 0h1m4 0h3m1 0h1m-437 1h3m8 0h3m4 0h3m7 0h1m53 0h1m32 0h1m30 0h1m14 0h1m11 0h1m17 0h1m13 0h3m12 0h3m13 0h3m2 0h4m2 0h3m1 0h5m2 0h7m2 0h1m2 0h3m3 0h1m5 0h3m9 0h6m1 0h1m7 0h1m2 0h1m7 0h1m2 0h4m1 0h1m4 0h3m1 0h1m1 0h5m1 0h1m3 0h3m4 0h1m1 0h1m1 0h1m2 0h1m4 0h4m1 0h3m6 0h1m10 0h3m24 0h1m12 0h1m-433 1h1m10 0h2m3 0h1m1 0h1m3 0h1m90 0h3m42 0h1m12 0h3m31 0h1m2 0h1m9 0h3m15 0h1m4 0h2m4 0h1m3 0h2m5 0h5m7 0h1m3 0h3m1 0h1m3 0h1m3 0h1m6 0h10m8 0h1m9 0h1m2 0h1m7 0h9m2 0h1m2 0h1m2 0h3m1 0h8m6 0h5m1 0h1m15 0h2m2 0h1m19 0h1m5 0h1m4 0h1m2 0h1m-417 1h3m1 0h3m3 0h3m7 0h1m50 0h1m26 0h1m4 0h1m4 0h1m9 0h1m21 0h1m5 0h3m12 0h1m29 0h1m4 0h3m9 0h3m12 0h1m10 0h1m2 0h1m1 0h4m1 0h1m4 0h2m7 0h1m3 0h1m1 0h1m1 0h3m1 0h1m3 0h1m8 0h1m3 0h1m1 0h4m6 0h3m7 0h3m10 0h1m2 0h1m2 0h1m2 0h6m2 0h1m1 0h4m1 0h1m1 0h1m3 0h1m4 0h1m1 0h1m4 0h1m12 0h5m16 0h1m2 0h3m3 0h3m2 0h6m1 0h1m-419 1h1m3 0h1m5 0h1m7 0h3m48 0h3m24 0h3m2 0h3m2 0h3m1 0h1m5 0h3m2 0h3m14 0h3m5 0h1m42 0h3m4 0h1m10 0h3m11 0h3m8 0h1m2 0h10m1 0h5m5 0h3m1 0h2m4 0h1m1 0h2m4 0h1m1 0h3m4 0h1m6 0h1m4 0h1m3 0h1m9 0h1m5 0h1m4 0h3m3 0h5m3 0h1m1 0h1m3 0h4m6 0h3m5 0h1m3 0h3m10 0h1m1 0h5m14 0h3m2 0h1m4 0h2m4 0h1m2 0h1m1 0h3m-408 1h1m6 0h1m50 0h1m26 0h1m2 0h3m2 0h1m1 0h1m1 0h3m10 0h1m9 0h2m5 0h1m5 0h1m31 0h1m12 0h1m1 0h1m22 0h1m6 0h1m1 0h1m11 0h1m1 0h1m1 0h4m1 0h1m2 0h2m7 0h1m1 0h2m3 0h1m13 0h3m1 0h1m4 0h1m6 0h3m4 0h1m5 0h1m3 0h1m2 0h3m1 0h4m4 0h2m5 0h1m1 0h3m1 0h6m1 0h1m2 0h1m1 0h2m4 0h3m3 0h1m9 0h5m2 0h2m17 0h1m5 0h3m3 0h4m3 0h1m-408 1h4m86 0h1m2 0h3m3 0h1m1 0h1m17 0h1m2 0h1m1 0h1m10 0h1m11 0h1m12 0h3m2 0h3m12 0h3m20 0h3m6 0h3m9 0h4m2 0h1m5 0h3m8 0h4m1 0h3m2 0h1m6 0h1m3 0h1m2 0h2m2 0h4m3 0h4m3 0h3m3 0h3m1 0h3m1 0h2m1 0h4m4 0h2m7 0h1m1 0h1m1 0h1m1 0h1m1 0h2m8 0h2m4 0h1m13 0h3m1 0h3m1 0h2m17 0h1m6 0h1m5 0h4m-405 1h5m60 0h1m28 0h1m1 0h1m3 0h4m14 0h3m2 0h3m6 0h1m13 0h1m12 0h3m4 0h1m14 0h2m21 0h1m20 0h4m6 0h3m10 0h1m1 0h2m1 0h1m2 0h2m5 0h3m4 0h3m2 0h3m1 0h1m3 0h4m3 0h1m5 0h1m3 0h1m1 0h6m2 0h1m9 0h1m1 0h3m1 0h3m2 0h2m8 0h1m3 0h2m15 0h1m3 0h1m3 0h1m21 0h1m4 0h1m5 0h1m-475 1h1m67 0h1m3 0h1m1 0h1m60 0h3m28 0h1m5 0h5m12 0h3m3 0h1m6 0h3m13 0h1m12 0h1m11 0h1m7 0h4m1 0h1m17 0h1m23 0h1m1 0h1m6 0h1m8 0h1m4 0h3m2 0h4m5 0h4m2 0h2m4 0h1m4 0h1m3 0h1m6 0h2m9 0h1m1 0h3m1 0h3m6 0h1m1 0h4m3 0h2m6 0h1m1 0h1m3 0h1m1 0h5m6 0h1m35 0h4m2 0h3m-471 1h3m65 0h3m3 0h3m60 0h1m4 0h1m25 0h1m6 0h4m12 0h1m3 0h3m6 0h1m38 0h3m5 0h4m1 0h3m15 0h3m15 0h1m7 0h3m4 0h1m1 0h1m2 0h1m2 0h4m3 0h1m5 0h1m9 0h4m1 0h1m9 0h2m8 0h4m3 0h1m5 0h3m3 0h1m7 0h1m1 0h3m4 0h1m1 0h1m1 0h2m3 0h3m1 0h5m1 0h1m4 0h1m1 0h3m2 0h2m16 0h1m1 0h1m11 0h1m1 0h1m4 0h1m7 0h1m-477 1h1m67 0h1m5 0h1m15 0h1m6 0h1m42 0h3m32 0h3m13 0h1m3 0h1m23 0h1m1 0h1m5 0h1m15 0h1m7 0h1m4 0h1m9 0h1m7 0h1m15 0h3m11 0h1m1 0h7m1 0h4m20 0h1m5 0h1m7 0h1m8 0h4m3 0h3m5 0h3m6 0h1m6 0h3m6 0h4m2 0h3m2 0h1m5 0h1m2 0h3m1 0h1m4 0h1m17 0h1m18 0h1m7 0h3m3 0h2m-414 1h1m19 0h3m4 0h3m42 0h1m34 0h1m13 0h3m25 0h4m4 0h3m24 0h1m1 0h1m10 0h2m6 0h1m16 0h1m5 0h1m5 0h1m4 0h1m2 0h1m4 0h3m13 0h1m4 0h3m7 0h1m12 0h1m1 0h1m1 0h1m4 0h1m1 0h1m4 0h2m3 0h1m2 0h3m2 0h1m1 0h5m1 0h1m2 0h2m5 0h2m8 0h3m2 0h1m40 0h1m2 0h4m6 0h1m4 0h1m-468 1h1m44 0h1m8 0h3m3 0h1m15 0h1m6 0h1m23 0h2m40 0h2m26 0h1m21 0h1m3 0h3m1 0h2m4 0h1m26 0h1m4 0h1m6 0h1m6 0h3m20 0h4m1 0h2m1 0h1m12 0h1m13 0h3m2 0h3m8 0h2m10 0h1m3 0h3m1 0h1m7 0h3m2 0h6m3 0h4m1 0h1m1 0h6m5 0h1m1 0h1m6 0h1m1 0h1m12 0h2m3 0h1m21 0h1m3 0h3m2 0h4m4 0h1m-463 1h3m25 0h1m16 0h3m8 0h1m3 0h3m45 0h1m2 0h3m37 0h1m47 0h3m2 0h2m3 0h1m35 0h3m13 0h1m12 0h1m7 0h1m1 0h1m1 0h1m1 0h2m8 0h1m9 0h1m10 0h1m4 0h1m20 0h1m1 0h1m1 0h1m1 0h3m4 0h2m1 0h3m4 0h1m2 0h1m1 0h1m3 0h1m5 0h6m6 0h3m4 0h3m3 0h1m3 0h1m4 0h2m3 0h3m12 0h2m5 0h3m3 0h1m5 0h1m3 0h4m5 0h1m-469 1h1m25 0h3m16 0h1m9 0h1m3 0h3m47 0h1m1 0h1m45 0h1m41 0h6m33 0h1m6 0h1m26 0h3m4 0h4m4 0h3m6 0h2m1 0h1m6 0h3m13 0h1m2 0h1m2 0h2m13 0h1m11 0h3m3 0h1m4 0h4m1 0h3m1 0h3m4 0h3m1 0h2m7 0h1m4 0h1m1 0h1m5 0h1m1 0h3m4 0h2m3 0h3m12 0h2m5 0h1m13 0h4m5 0h3m-443 1h1m26 0h3m3 0h3m45 0h3m4 0h1m40 0h3m41 0h4m33 0h3m5 0h1m15 0h1m11 0h1m4 0h4m6 0h1m6 0h1m4 0h1m2 0h1m3 0h3m11 0h4m3 0h3m11 0h1m13 0h1m11 0h3m1 0h5m1 0h1m3 0h7m10 0h3m5 0h1m3 0h1m11 0h1m12 0h2m30 0h1m-429 1h1m14 0h1m5 0h1m47 0h1m4 0h3m31 0h1m6 0h3m44 0h1m27 0h1m7 0h1m5 0h3m13 0h3m16 0h1m5 0h1m8 0h4m1 0h1m2 0h3m3 0h1m7 0h1m5 0h1m2 0h1m1 0h5m9 0h3m14 0h1m10 0h1m3 0h1m1 0h1m3 0h1m1 0h1m1 0h2m2 0h1m12 0h1m9 0h3m8 0h2m1 0h1m19 0h1m3 0h1m16 0h1m4 0h1m-432 1h3m73 0h1m18 0h1m12 0h3m53 0h1m41 0h1m15 0h1m22 0h3m8 0h1m2 0h1m4 0h1m5 0h1m5 0h3m5 0h1m3 0h2m1 0h1m7 0h1m3 0h1m4 0h1m9 0h3m8 0h3m1 0h1m5 0h1m1 0h3m23 0h1m2 0h1m1 0h1m3 0h1m2 0h2m1 0h1m1 0h3m17 0h3m1 0h3m14 0h3m2 0h3m-432 1h1m92 0h3m12 0h1m12 0h1m41 0h2m47 0h1m32 0h1m17 0h2m3 0h3m5 0h1m5 0h1m5 0h1m1 0h2m1 0h1m3 0h3m6 0h3m1 0h1m1 0h3m3 0h1m6 0h1m1 0h1m1 0h1m1 0h1m5 0h3m1 0h1m3 0h1m2 0h1m16 0h6m1 0h1m1 0h3m1 0h1m5 0h1m19 0h1m3 0h1m16 0h1m4 0h1m-456 1h1m33 0h1m84 0h1m15 0h1m9 0h3m22 0h1m3 0h1m61 0h3m49 0h3m3 0h1m12 0h1m4 0h1m4 0h1m5 0h1m8 0h8m6 0h1m4 0h1m10 0h2m4 0h7m4 0h1m8 0h1m2 0h1m2 0h1m1 0h3m1 0h1m1 0h1m48 0h1m3 0h2m-458 1h3m31 0h3m98 0h3m9 0h1m22 0h2m2 0h3m7 0h1m53 0h1m51 0h1m3 0h3m10 0h2m3 0h1m16 0h1m5 0h1m1 0h1m2 0h1m3 0h6m7 0h1m4 0h3m2 0h3m4 0h1m4 0h3m1 0h1m1 0h1m2 0h4m6 0h1m3 0h3m13 0h1m32 0h3m1 0h3m-457 1h1m12 0h1m20 0h1m34 0h1m30 0h1m34 0h1m18 0h2m18 0h1m7 0h3m7 0h1m101 0h1m12 0h1m2 0h3m4 0h1m1 0h1m7 0h3m12 0h5m1 0h3m4 0h2m3 0h3m3 0h2m4 0h1m6 0h2m2 0h1m3 0h5m10 0h1m2 0h1m10 0h3m32 0h1m3 0h2m-445 1h3m53 0h3m28 0h3m6 0h1m36 0h1m9 0h1m27 0h1m7 0h3m26 0h1m23 0h1m2 0h1m6 0h1m25 0h1m8 0h1m15 0h1m5 0h1m5 0h3m1 0h1m4 0h1m1 0h2m1 0h1m9 0h1m1 0h3m3 0h3m4 0h1m4 0h1m5 0h1m5 0h1m5 0h1m8 0h1m1 0h1m7 0h1m5 0h3m6 0h1m3 0h1m-405 1h1m4 0h1m22 0h1m27 0h1m30 0h1m2 0h1m3 0h3m18 0h2m14 0h3m2 0h3m38 0h1m1 0h1m7 0h1m18 0h3m21 0h6m6 0h1m5 0h1m17 0h3m6 0h3m10 0h1m2 0h5m2 0h1m4 0h7m2 0h1m4 0h3m3 0h2m6 0h3m3 0h1m3 0h1m2 0h1m6 0h1m1 0h2m6 0h1m5 0h1m6 0h1m9 0h3m5 0h1m6 0h3m1 0h1m-400 1h3m20 0h3m33 0h1m2 0h1m22 0h3m3 0h1m19 0h1m16 0h1m4 0h1m1 0h1m27 0h1m4 0h3m1 0h3m7 0h2m5 0h1m13 0h1m23 0h1m2 0h3m2 0h1m1 0h1m5 0h1m1 0h1m17 0h1m8 0h1m10 0h3m2 0h8m4 0h3m1 0h1m4 0h1m1 0h2m1 0h1m4 0h1m3 0h2m3 0h1m4 0h2m6 0h2m5 0h3m2 0h1m15 0h1m1 0h1m9 0h1m4 0h1m9 0h1m1 0h3m-400 1h1m22 0h1m6 0h1m1 0h1m24 0h6m22 0h3m21 0h3m21 0h3m18 0h1m6 0h3m4 0h1m3 0h1m14 0h3m40 0h1m2 0h1m16 0h1m20 0h1m10 0h2m5 0h2m2 0h1m5 0h3m1 0h1m13 0h2m4 0h2m1 0h1m4 0h1m2 0h1m1 0h1m2 0h4m3 0h3m4 0h1m1 0h2m27 0h3m7 0h1m3 0h1m3 0h1m2 0h1m-377 1h5m4 0h1m19 0h1m2 0h1m9 0h1m14 0h1m23 0h1m23 0h1m18 0h3m2 0h2m2 0h1m24 0h3m27 0h1m1 0h1m14 0h1m14 0h3m18 0h3m9 0h1m1 0h1m1 0h3m3 0h3m5 0h1m1 0h1m1 0h1m2 0h1m9 0h1m4 0h1m1 0h4m7 0h1m5 0h1m4 0h2m6 0h4m27 0h1m15 0h6m6 0h1m-384 1h1m1 0h1m4 0h3m31 0h2m81 0h1m2 0h4m27 0h1m2 0h1m10 0h1m15 0h1m24 0h1m6 0h1m20 0h2m3 0h1m2 0h1m1 0h9m2 0h2m12 0h4m3 0h1m3 0h1m8 0h1m13 0h3m2 0h4m5 0h3m14 0h1m5 0h1m13 0h1m10 0h1m2 0h1m6 0h3m-397 1h1m19 0h1m114 0h4m1 0h2m30 0h3m8 0h3m38 0h3m26 0h3m1 0h4m1 0h1m1 0h1m1 0h5m3 0h2m13 0h1m1 0h1m2 0h3m1 0h1m1 0h2m1 0h2m4 0h1m1 0h2m8 0h3m3 0h3m1 0h1m5 0h2m9 0h1m3 0h3m3 0h3m10 0h4m20 0h1m7 0h1m10 0h1m-416 1h3m98 0h1m35 0h4m28 0h1m2 0h3m10 0h1m29 0h1m10 0h1m32 0h1m9 0h1m8 0h1m7 0h2m5 0h1m2 0h1m5 0h2m1 0h1m3 0h1m1 0h3m7 0h4m2 0h8m3 0h1m8 0h4m3 0h1m5 0h1m10 0h4m28 0h3m7 0h4m-416 1h1m92 0h1m5 0h3m36 0h1m28 0h3m2 0h1m41 0h2m14 0h1m37 0h1m7 0h2m8 0h1m4 0h3m4 0h1m2 0h1m2 0h1m2 0h1m3 0h1m9 0h1m5 0h2m2 0h3m4 0h1m7 0h1m1 0h1m5 0h1m7 0h2m7 0h1m9 0h1m16 0h1m4 0h1m7 0h4m-415 1h1m17 0h2m2 0h1m53 0h1m15 0h3m5 0h1m15 0h1m4 0h1m40 0h1m5 0h1m35 0h1m9 0h1m1 0h1m12 0h3m35 0h3m7 0h1m10 0h1m3 0h1m10 0h1m1 0h1m12 0h1m3 0h1m4 0h1m4 0h1m3 0h4m9 0h1m3 0h3m2 0h1m3 0h1m17 0h3m14 0h3m1 0h1m10 0h1m-414 1h3m16 0h6m47 0h1m3 0h3m15 0h1m21 0h3m2 0h3m22 0h2m14 0h3m7 0h1m7 0h1m3 0h1m19 0h3m11 0h1m12 0h1m37 0h1m8 0h1m9 0h1m1 0h1m6 0h1m20 0h3m1 0h3m4 0h1m3 0h2m1 0h4m9 0h3m3 0h7m6 0h2m12 0h1m15 0h2m1 0h1m19 0h1m-421 1h1m18 0h1m2 0h1m47 0h3m3 0h1m16 0h1m1 0h1m20 0h1m4 0h1m24 0h1m15 0h1m7 0h2m7 0h1m3 0h3m18 0h1m1 0h1m9 0h1m2 0h1m20 0h1m17 0h2m16 0h1m15 0h1m3 0h3m19 0h2m2 0h1m9 0h1m3 0h1m2 0h1m7 0h2m6 0h7m5 0h1m24 0h1m3 0h3m13 0h1m6 0h2m-399 1h1m5 0h1m22 0h1m19 0h1m20 0h5m6 0h1m67 0h1m2 0h2m3 0h1m3 0h3m12 0h1m6 0h3m10 0h3m20 0h1m17 0h1m11 0h1m1 0h1m3 0h1m5 0h1m3 0h1m1 0h1m1 0h1m5 0h3m14 0h2m2 0h3m2 0h2m4 0h3m3 0h1m2 0h3m15 0h5m6 0h1m9 0h1m13 0h3m3 0h1m13 0h1m1 0h1m6 0h1m-405 1h1m4 0h3m3 0h3m20 0h3m12 0h1m27 0h1m1 0h1m6 0h3m6 0h1m39 0h1m4 0h1m8 0h1m8 0h1m9 0h1m12 0h3m6 0h1m12 0h1m20 0h1m10 0h2m19 0h1m9 0h3m7 0h1m3 0h3m11 0h1m2 0h3m3 0h1m3 0h2m5 0h1m3 0h3m18 0h1m2 0h1m7 0h3m7 0h3m13 0h1m4 0h1m3 0h1m-387 1h3m4 0h1m5 0h1m35 0h3m36 0h1m6 0h3m34 0h1m2 0h3m2 0h3m7 0h2m30 0h3m52 0h1m9 0h1m20 0h1m2 0h2m8 0h4m9 0h3m1 0h4m2 0h1m4 0h2m8 0h2m5 0h1m10 0h1m2 0h1m11 0h1m2 0h1m5 0h2m18 0h3m1 0h3m-387 1h1m48 0h1m45 0h1m34 0h3m2 0h1m13 0h1m30 0h1m1 0h1m44 0h1m17 0h3m18 0h1m1 0h1m2 0h1m10 0h1m10 0h2m1 0h2m1 0h1m3 0h3m1 0h4m6 0h3m4 0h4m7 0h2m16 0h3m3 0h3m2 0h1m16 0h1m3 0h1m4 0h1m-432 1h1m22 0h1m72 0h1m54 0h1m2 0h1m8 0h1m8 0h1m17 0h1m11 0h1m17 0h3m44 0h3m17 0h1m18 0h5m1 0h1m4 0h1m1 0h1m5 0h1m7 0h4m6 0h12m2 0h1m1 0h1m2 0h1m3 0h4m6 0h3m1 0h2m5 0h3m5 0h1m4 0h3m1 0h3m7 0h1m15 0h3m-434 1h3m20 0h3m21 0h1m48 0h3m52 0h6m6 0h3m10 0h1m3 0h2m8 0h3m9 0h2m17 0h2m19 0h1m26 0h1m13 0h1m24 0h1m1 0h1m1 0h3m4 0h1m2 0h2m1 0h3m5 0h6m6 0h1m1 0h1m1 0h1m1 0h2m2 0h2m5 0h3m3 0h3m7 0h7m2 0h5m10 0h1m3 0h1m7 0h3m15 0h1m6 0h1m-439 1h1m22 0h1m10 0h1m10 0h3m8 0h1m39 0h1m29 0h1m13 0h1m10 0h1m2 0h1m8 0h1m10 0h3m3 0h1m9 0h1m16 0h2m10 0h3m2 0h1m12 0h2m1 0h3m7 0h1m13 0h1m16 0h3m21 0h2m5 0h1m7 0h8m1 0h1m3 0h1m2 0h3m7 0h1m2 0h3m2 0h3m5 0h3m2 0h2m11 0h5m2 0h4m7 0h1m15 0h1m22 0h3m-407 1h3m8 0h1m1 0h1m8 0h3m68 0h2m5 0h1m5 0h3m17 0h1m15 0h1m32 0h1m11 0h1m2 0h3m3 0h1m7 0h3m1 0h1m7 0h3m11 0h3m16 0h1m4 0h1m8 0h1m7 0h3m4 0h3m7 0h6m3 0h1m5 0h2m5 0h5m2 0h1m1 0h1m2 0h2m4 0h1m2 0h2m1 0h1m13 0h3m4 0h3m2 0h1m3 0h3m1 0h1m36 0h1m-405 1h1m8 0h3m10 0h1m6 0h1m62 0h1m5 0h2m6 0h1m18 0h2m15 0h1m47 0h1m3 0h2m8 0h1m14 0h1m5 0h1m4 0h1m21 0h3m6 0h3m7 0h1m5 0h2m9 0h1m1 0h3m2 0h1m5 0h3m5 0h1m2 0h1m4 0h7m2 0h3m1 0h4m6 0h1m12 0h3m3 0h2m3 0h1m1 0h3m34 0h1m-394 1h1m17 0h3m68 0h1m25 0h1m15 0h3m34 0h2m1 0h1m26 0h1m9 0h3m3 0h3m26 0h1m8 0h1m13 0h4m11 0h1m1 0h2m7 0h1m4 0h1m2 0h1m6 0h6m3 0h8m6 0h2m12 0h1m1 0h1m2 0h1m4 0h1m2 0h1m34 0h3m-428 1h1m51 0h1m21 0h1m60 0h1m22 0h1m6 0h1m35 0h1m1 0h3m24 0h3m3 0h1m5 0h1m5 0h1m51 0h3m13 0h1m12 0h6m8 0h1m4 0h4m2 0h2m7 0h1m11 0h5m6 0h3m10 0h1m24 0h1m1 0h1m-428 1h3m18 0h1m52 0h3m58 0h3m17 0h1m2 0h3m44 0h1m25 0h3m2 0h3m9 0h3m52 0h2m3 0h1m9 0h1m12 0h1m1 0h2m8 0h1m2 0h3m1 0h1m24 0h7m6 0h1m10 0h3m22 0h3m-426 1h1m18 0h3m52 0h1m28 0h1m31 0h1m16 0h4m2 0h1m19 0h1m21 0h1m30 0h3m2 0h1m11 0h1m28 0h1m16 0h2m10 0h3m5 0h1m2 0h1m13 0h5m3 0h1m1 0h8m4 0h1m1 0h1m9 0h1m3 0h1m5 0h1m3 0h1m19 0h1m2 0h1m20 0h2m-405 1h1m81 0h3m46 0h2m1 0h1m22 0h3m1 0h1m15 0h1m1 0h3m30 0h1m39 0h1m3 0h3m14 0h3m10 0h2m5 0h6m7 0h2m1 0h7m2 0h3m1 0h1m1 0h4m7 0h2m7 0h3m1 0h3m7 0h3m20 0h2m19 0h3m-322 1h1m25 0h1m20 0h1m27 0h1m1 0h3m13 0h3m1 0h1m8 0h1m63 0h1m3 0h1m16 0h1m3 0h1m3 0h1m2 0h4m5 0h1m2 0h1m4 0h1m3 0h1m1 0h4m1 0h2m3 0h2m4 0h2m4 0h1m6 0h1m7 0h1m5 0h1m3 0h1m3 0h2m10 0h1m31 0h1m-309 1h1m12 0h4m49 0h1m15 0h1m10 0h3m34 0h1m17 0h1m8 0h1m8 0h2m14 0h3m1 0h3m2 0h2m9 0h1m3 0h3m5 0h1m7 0h4m2 0h4m3 0h1m1 0h2m2 0h1m1 0h1m8 0h1m3 0h2m1 0h3m2 0h3m8 0h2m4 0h1m-283 1h3m12 0h4m57 0h1m18 0h1m3 0h1m30 0h3m15 0h2m17 0h1m16 0h3m1 0h1m7 0h1m1 0h1m5 0h1m3 0h1m15 0h3m3 0h1m2 0h1m1 0h2m2 0h1m7 0h1m4 0h3m2 0h1m3 0h2m3 0h1m1 0h1m12 0h3m13 0h1m21 0h1" stroke="#888" stroke-width="1"/>
<defs><filter id="rb4" x="-30%" y="-30%" width="160%" height="160%"><feGaussianBlur stdDeviation="4"/></filter><filter id="rb20" x="-30%" y="-30%" width="160%" height="160%"><feGaussianBlur stdDeviation="20"/></filter><mask id="rm" maskUnits="userSpaceOnUse" x="0" y="0" width="885" height="708"><rect x="0" y="0" width="885" height="708" fill="#fff"/><polygon points="270,440 600,440 600,650 270,650" fill="#bbb" filter="url(#rb20)"/><polygon points="290,650 289,603 300,596 330,584 400,576 480,590 570,612 570,650" fill="#888" filter="url(#rb4)"/></mask></defs>
<path d="M504 640.2l-13.8-1.3l-13.5-.4l-14.7 .4l-15.6 1.2M515.4 640.3l-20.3-3.1l-21.1-1l-23.3 1l-26 3M522.2 640.3l-12.6-2.9l-12.5-2l-12.3-1.2l-13.5-.4l-13.2 .4l-15.7 1.2l-34.6 4.8M527.5 640.4l-14.3-4l-14.2-2.7l-15.4-1.7l-15-.5l-16.1 .5l-17 1.5l-20.2 2.8l-22.3 3.9M531.3 640.4l-16-5l-15.8-3.4l-17-2.2l-16.6-.6l-17.6 .6l-19.7 2l-23.7 3.5l-23.8 4.7M533.6 640.1l-17.8-6l-17.4-4.1l-17.1-2.3l-18.1-.8l-20.5 .8l-22.2 2.5l-28.2 4.7l-23.5 5.3M537.4 640.7l-19.5-7.4l-19.1-5l-18.7-2.8l-19.6-1l-21.9 1l-26.2 3.3l-31 5.7l-22.2 5.7M538.1 640.1l-19.6-7.9l-9.6-3l-11.2-2.8l-20.3-3.2l-19.7-1l-11.8 .3l-12.9 1l-28.5 3.9l-32.5 6.5l-11.5 3l-10.3 3.4M540.4 640.4l-9.9-4.6l-11.4-4.5l-9.7-3.3l-11.2-3.1l-11-2.3l-10.9-1.5l-21.3-1.2l-13.2 .4l-12.9 1l-15.2 2l-17.1 2.8l-18.3 3.6l-14.3 3.4l-11.9 3.5l-9.5 3.7M541.1 640.1l-11.6-5.6l-9.8-4.1l-11.3-4.1l-11.3-3.2l-11-2.4l-10.9-1.7l-10.8-1l-12.1-.4l-14.7 .5l-14.3 1.3l-16.4 2.2l-18 3.2l-17.8 3.8l-14.9 3.8l-11.2 3.7l-8.8 4M543.4 640.8l-11.6-6l-11.5-5.2l-11.4-4.3l-12.8-4l-11.1-2.6l-11-1.8l-12.3-1.2l-12.1-.4l-14.7 .5l-15.7 1.5l-19 2.8l-20.2 3.8l-17.1 3.9l-13.2 3.7l-10.6 3.9l-8.8 4.6M544.1 640.7l-13.3-7.1l-11.5-5.4l-11.4-4.5l-12.9-4.1l-11.1-2.8l-12.6-2.1l-12.3-1.3l-12.1-.4l-16.2 .6l-17 1.7l-18.8 3l-22.3 4.5l-16.6 4l-13.5 4.2l-9.8 4.2l-8 4.9M544.8 640.8l-13.3-7.5l-13.2-6.4l-11.4-4.7l-13-4.3l-11.1-2.9l-12.6-2.4l-12.4-1.4l-13.6-.5l-16.2 .6l-18.4 2l-21.3 3.5l-24.2 5.2l-15.8 4.2l-12.7 4.4l-8.9 4.5l-7.1 5.3M545.6 641l-13.4-7.8l-13.3-6.8l-13.1-5.6l-12.9-4.6l-12.8-3.4l-12.6-2.4l-12.4-1.4l-13.6-.6l-17.6 .7l-18.4 2.1l-22.5 4l-24.9 5.5l-15.3 4.3l-12.1 4.7l-9 5.1l-6.2 5.5M544.7 640.3l-15.1-9l-13.3-6.9l-13.1-5.7l-13-4.6l-12.8-3.5l-12.6-2.5l-13.9-1.5l-13.6-.5l-19 1l-19.6 2.5l-24.6 4.7l-24 5.7l-14.5 4.6l-10.5 4.5l-8.1 5.4l-5.4 5.8M545.4 640.7l-15.1-9.4l-13.3-7.2l-13.2-6.1l-13-5l-12.9-3.8l-14.2-3l-13.9-1.8l-13.7-.6l-19.1 .9l-21 2.7l-25.9 5l-24.7 6.2l-14.1 4.6l-10.7 5.1l-7.5 5.6l-3 3.4l-1.9 3.2M544.5 640l-15.2-9.6l-13.3-7.4l-14.9-7.1l-13-5l-12.8-3.9l-14.3-3.1l-13.9-1.7l-15.2-.6l-19.1 .9l-20.9 2.9l-26.9 5.4l-25.3 6.6l-13.5 4.8l-10 5.3l-4 3l-2.8 2.8l-2.5 3.6l-1.6 3.3M545.3 640.6l-15.2-10l-15.1-8.7l-14.9-7.3l-13-5.2l-12.9-4.1l-14.3-3.3l-14-2l-15.2-.7l-19.1 .8l-22.4 3l-28.1 5.9l-25 6.7l-14 5.3l-9.5 5.4l-3.7 3.1l-2.9 3.4l-2.2 3.7l-1.1 3.4M544.4 640.1l-15.2-10.3l-15.1-8.9l-15-7.5l-14.7-6.1l-14.5-4.6l-14.2-3.2l-14-1.9l-15.2-.6l-20.5 1.1l-22.2 3.3l-30.1 6.6l-24 7l-13.1 5.5l-4.7 2.7l-3.9 3l-3.2 3.2l-2.3 3.6l-1.6 3.9l-.6 3.6M545.2 640.9l-17-11.8l-15.1-9.1l-14.9-7.8l-14.8-6.4l-14.5-4.8l-14.3-3.4l-15.6-2.2l-15.2-.7l-20.5 1.2l-23.6 3.6l-31 7l-23.4 7.1l-12.6 5.7l-4.4 2.8l-3.6 3l-2.9 3.4l-2 3.6l-1.2 4l-.3 4.4M544.3 640.6l-17-12.1l-15.1-9.4l-16.7-8.9l-14.8-6.4l-14.5-4.9l-14.3-3.5l-15.6-2.2l-15.2-.7l-20.6 1.1l-23.5 3.7l-32.1 7.5l-13.8 4l-10.2 3.5l-12 5.8l-4.6 3.3l-3.2 3.2l-2.4 3.5l-1.6 3.8l-.7 4.1l0.1 4.6M543.5 640.2l-17.1-12.3l-15.2-9.7l-16.7-9.1l-14.8-6.7l-14.6-5.2l-15.9-4l-15.6-2.3l-15.2-.7l-10.4 .3l-11.6 1l-23.4 3.8l-31.9 7.7l-13.6 4.1l-10 3.6l-6.3 2.8l-5.4 3.1l-4.4 3.3l-3 3.3l-2.4 4l-1.2 3.9l-.4 4.3l0.5 4.6M544.3 641.3l-17.1-12.7l-16.9-11.2l-16.7-9.4l-14.9-6.9l-14.6-5.5l-16-4.2l-15.6-2.6l-16.8-.9l-10.4 .3l-11.6 1.1l-23.5 3.8l-16.6 3.9l-17.4 4.6l-13.2 4.1l-9.7 3.7l-6 2.9l-5.1 3.2l-4 3.4l-2.7 3.3l-2.1 4.2l-.8 4l0 4.4l1.1 5.4M543.4 641.1l-17.1-13l-17-11.4l-16.7-9.7l-16.5-7.9l-14.7-5.6l-16-4.3l-15.6-2.6l-16.8-.9l-10.4 .3l-11.6 1l-24.8 4.2l-16.5 4l-17.2 4.7l-13.1 4.2l-9.4 3.8l-5.9 2.9l-4.8 3.2l-3.9 3.5l-2.7 3.9l-1.7 4.2l-.4 4.1l0.5 5.2l1.7 5.7M542.6 641l-18.9-14.5l-17-11.6l-16.7-9.8l-16.6-8l-14.6-5.6l-16-4.5l-15.7-2.6l-16.8-1l-10.4 .3l-11.7 1.1l-12.6 1.8l-13.4 2.8l-17.6 4.3l-16.9 4.8l-12.7 4.3l-9.1 3.9l-5.5 3l-4.6 3.3l-3.4 3.6l-2.4 3.9l-1.2 4.4l-.1 4.2l1 5.3l2.1 5.8M541.7 640.9l-18.9-14.8l-17-11.8l-16.8-10.2l-16.6-8.3l-16.3-6.4l-16-4.5l-15.7-2.7l-16.8-1l-11.9 .4l-11.6 1.1l-11.2 1.7l-13.5 2.8l-17.5 4.4l-16.9 4.9l-12.6 4.4l-9.7 4.2l-6 3.5l-4.2 3.4l-3 3.7l-2 4.1l-.8 4.5l0.4 4.9l1.6 5.5l2.8 6M540.9 640.9l-18.9-15.1l-18.8-13.3l-16.8-10.2l-16.6-8.4l-16.3-6.6l-16.1-4.6l-17.3-2.9l-16.7-.9l-11.9 .5l-11.5 1.2l-12.6 2.1l-13.3 2.9l-17.3 4.6l-17.5 5.4l-12.1 4.4l-8.5 4l-5.5 3.6l-3.8 3.4l-2.7 3.8l-1.5 4.2l-.4 4.6l0.9 5.1l2 5.6l3.2 6.2M540.1 640.9l-19-15.4l-18.8-13.6l-18.5-11.4l-16.6-8.6l-16.4-6.6l-17.7-5.1l-15.6-2.6l-16.8-.9l-11.9 .5l-11.6 1.2l-12.5 2.1l-13.3 3l-17.3 4.6l-17.5 5.5l-12 4.5l-9 4.4l-5.3 3.6l-3.6 3.6l-2.4 3.8l-1.3 4.3l0 4.6l1.2 5.2l2.3 5.7l4 7.1M539.2 640.9l-20.7-17l-18.8-13.6l-18.6-11.7l-16.6-8.6l-16.4-6.7l-17.6-5.2l-15.7-2.7l-16.8-.9l-11.9 .4l-11.6 1.3l-12.5 2.1l-13.3 3l-18.4 5.1l-17.3 5.6l-11.8 4.6l-8.7 4.5l-5.1 3.7l-3.3 3.5l-2.3 4.5l-.8 4.3l0.4 4.8l1.6 5.3l2.8 5.8l4.6 7.3M538.4 641.1l-20.8-17.4l-18.8-13.9l-18.6-12l-16.7-9l-16.4-7l-17.7-5.4l-17.3-3.2l-16.8-1l-11.9 .5l-11.6 1.3l-12.5 2.1l-14.6 3.4l-18.3 5.2l-17 5.7l-11.5 4.7l-8.5 4.5l-4.8 3.8l-3 3.6l-2.1 4.5l-.5 4.4l0.8 4.9l1.9 5.3l3.6 6.7l5 7.5M537.6 641.2l-20.8-17.6l-18.9-14.3l-18.6-12.3l-18.4-10l-16.4-7.2l-17.8-5.6l-17.3-3.2l-16.8-1l-11.9 .5l-11.6 1.2l-12.6 2.2l-14.5 3.5l-18.3 5.3l-16.9 5.8l-12.3 5.1l-8.1 4.6l-4.5 3.8l-2.8 3.7l-1.7 4.6l-.2 4.5l1 4.9l2.7 6.1l4.1 6.8l5.5 7.8M536.8 641.4l-20.9-17.9l-20.6-15.8l-18.6-12.4l-18.4-10.2l-18.1-7.9l-16.1-5.1l-17.4-3.2l-16.9-1.1l-11.9 .4l-12.9 1.5l-12.5 2.3l-14.5 3.6l-19.2 5.8l-16.6 5.9l-10.9 4.8l-7.9 4.8l-4.2 3.8l-2.6 3.8l-1.3 4.6l0.1 4.5l1.4 5l3 6.2l4.5 7l6.6 8.8M534.3 640.1l-20.9-18l-20.7-16l-18.7-12.6l-18.4-10.3l-18.1-8l-17.7-5.5l-17.3-3.2l-16.9-.9l-11.8 .5l-13 1.6l-12.4 2.5l-14.4 3.6l-19 6l-16.3 6l-10.7 4.9l-7.5 4.8l-4 3.9l-2.4 4.3l-.8 4.8l0.5 4.6l1.9 5.1l3.6 6.4l12.1 16.2M533.5 640.4l-21-18.3l-20.7-16.3l-20.4-14l-18.4-10.5l-18.1-8.1l-17.8-5.6l-17.3-3.3l-16.9-.9l-11.8 .5l-13 1.6l-12.4 2.5l-14.4 3.7l-19 6.1l-16.2 6.1l-10.6 5l-7.4 4.9l-3.8 3.9l-2.3 4.3l-.7 4.3l0.8 5.2l2 5.1l3.8 6.3l13.4 17.2M532.7 640.8l-21-18.7l-20.7-16.6l-20.5-14.3l-18.5-10.8l-18.1-8.5l-17.9-6l-17.4-3.5l-9.2-1l-9.2-.2l-11.9 .5l-12.9 1.6l-13.8 2.8l-14.3 3.9l-18.8 6.2l-15.9 6.2l-10.3 5.1l-7 4.9l-3.5 4.1l-2 4.4l-.4 4.3l1.2 5.2l2.3 5.2l4.2 6.5l15 18.4M531.9 641.2l-22.8-20.5l-20.7-16.7l-20.5-14.5l-18.5-11l-18.2-8.6l-17.8-6.1l-17.4-3.6l-9.3-.9l-9.2-.4l-11.9 .6l-12.9 1.6l-13.8 2.9l-14.3 3.9l-18.8 6.4l-15.8 6.3l-10.8 5.5l-6.7 5.1l-3.2 4.1l-1.6 4.4l-.1 4.4l1.5 5.4l2.8 5.2l4.5 6.5l16.8 19.8M531.1 641.6l-22.8-20.7l-22.5-18.4l-20.5-14.7l-18.5-11.1l-18.2-8.7l-17.9-6.2l-17.4-3.7l-9.3-1l-9.2-.3l-11.9 .5l-12.9 1.6l-13.8 2.9l-14.3 4l-18.8 6.5l-15.7 6.5l-10.7 5.6l-6.5 5.1l-3.1 4.1l-1.4 4.5l0.1 4.4l1.7 5.4l2.9 5.2l4.7 6.6l18.3 20.8M528.6 640.4l-22.8-20.9l-22.6-18.5l-20.5-14.8l-18.5-11.3l-18.3-8.8l-17.8-6.4l-17.5-3.8l-9.3-1l-9.2-.3l-11.9 .4l-13 1.7l-13.8 2.9l-14.2 4.1l-18.7 6.6l-15.7 6.6l-10.6 5.8l-6.3 5.1l-2.9 4.2l-1.3 4.5l0.3 4.4l1.9 5.4l3.1 5.3l4.9 6.5l19.8 21.9M527.8 640.9l-22.8-21.1l-22.6-19l-20.6-15.1l-20.3-12.5l-18.2-9l-17.9-6.5l-17.5-3.9l-9.3-1.1l-9.2-.3l-13.4 .6l-12.9 1.8l-13.7 3l-14.2 4.3l-18.5 6.7l-15.3 6.7l-10.2 5.9l-6 5.2l-2.6 4.3l-.9 4.6l0.6 4.4l2.4 5.5l3.4 5.4l5.3 6.6l21.7 23.4M527.1 641.5l-22.9-21.5l-22.7-19.2l-20.6-15.5l-20.3-13l-10-5.4l-10-4.6l-17.9-6.6l-17.5-4l-9.3-1.1l-9.2-.4l-13.4 .6l-12.9 1.8l-13.7 3.1l-14.2 4.3l-18.4 6.9l-15.3 6.8l-10.1 6l-5.7 5.3l-2.5 4.3l-.7 4.1l0.8 5l2.5 5.5l3.7 5.4l5.5 6.6l23.4 24.5M524.5 640.3l-24.6-23.1l-22.7-19.3l-20.6-15.4l-20.3-12.9l-10-5.3l-9.9-4.7l-17.9-6.4l-8-2.1l-9.5-1.8l-9.3-1l-9.2-.3l-13.4 .7l-12.8 2l-13.7 3.2l-14 4.4l-18.2 7.1l-15 7l-9.7 6l-5.3 5.5l-2.1 4.3l-.4 4.2l1.2 5.1l2.9 5.6l4 5.4l5.2 6l25.1 25.7M523.8 641l-24.7-23.5l-22.7-19.6l-22.4-17l-20.3-13l-10-5.4l-10-4.7l-17.9-6.6l-8-2.1l-9.5-1.9l-9.3-1l-9.2-.4l-13.4 .7l-12.9 2l-13.6 3.3l-14 4.5l-18.2 7.2l-14.8 7.1l-9.6 6.2l-5.1 5.5l-2 4.4l-.2 4.2l1.5 5.2l3.1 5.6l9.6 11.4l26.8 26.9M523 641.6l-26.5-25.3l-22.7-19.8l-20.7-15.9l-20.3-13.4l-10.1-5.7l-10-4.9l-18-6.9l-9.6-2.7l-9.5-1.9l-9.3-1.1l-9.2-.3l-13.4 .6l-12.9 2l-13.6 3.3l-14 4.6l-18.2 7.4l-14.7 7.3l-8.8 5.8l-3.4 3.2l-2.1 2.9l-1.8 4.4l0 4.3l1.6 5.1l3.4 5.7l9.2 10.7l30.5 30.2M520.5 640.6l-26.5-25.5l-22.7-19.9l-22.5-17.4l-20.3-13.3l-10.1-5.6l-10-4.9l-17.9-6.8l-9.7-2.6l-9.4-1.8l-9.4-1l-9.1-.3l-13.3 .8l-12.9 2.1l-13.6 3.5l-15.1 5.2l-16.6 7.1l-14.4 7.4l-8.4 6l-3.2 3.2l-1.9 2.9l-1.3 4.6l0.3 4.3l1.7 4.7l3.6 5.7l9.6 10.7l32.4 31.5M519.8 641.3l-26.6-25.8l-22.8-20.2l-22.4-17.8l-20.5-13.7l-10.1-5.8l-9.9-5.1l-18.1-7.2l-9.6-2.8l-9.5-2l-9.4-1.1l-9.2-.5l-13.4 .7l-12.9 2l-13.7 3.4l-15.2 5.2l-16.8 7.2l-14.5 7.7l-8.5 6l-3.2 3.3l-1.9 3l-1.4 4.5l0.3 4.4l2.1 5.2l3.9 5.8l9.1 10l34 32.4M517.3 640.3l-26.6-26l-24.6-21.8l-22.4-17.7l-20.5-13.7l-10-5.8l-10-5l-18-7.1l-9.7-2.7l-9.5-1.9l-9.3-1.1l-9.2-.3l-13.4 .8l-12.8 2.1l-13.6 3.6l-15.1 5.4l-16.5 7.4l-13.4 7.3l-8.3 6.2l-3.1 3.3l-1.8 3l-1.2 4.6l0.5 4.4l1.9 4.7l3.9 5.8l9.3 10l24.6 22.6l12.1 11.9M516.6 641.1l-26.7-26.3l-24.6-22.2l-22.5-18l-12-8.6l-10.2-6.5l-10.1-5.9l-10-5.1l-18-7.2l-9.7-2.8l-9.5-2l-9.3-1.1l-9.2-.4l-13.4 .8l-12.8 2.1l-13.6 3.7l-15.1 5.5l-16.5 7.5l-13.2 7.5l-8.2 6.3l-3 3.4l-1.7 3.1l-1 4.7l0.7 4.4l2.2 4.8l4.1 5.7l9.6 10.1l25.2 22.7l13.6 13.3M514.1 640.1l-26.7-26.4l-24.6-22.3l-22.6-18.3l-22.2-15.3l-10.1-5.9l-10-5.2l-9.9-4.4l-9.8-3.5l-9.6-2.7l-9.5-1.9l-9.4-1l-9.1-.3l-13.4 .9l-14.1 2.6l-13.4 3.9l-14.8 5.8l-16.1 7.7l-12.6 7.6l-7.5 6.5l-2.2 3l-1.5 3.1l-.6 4.2l0.9 4.5l2.4 4.8l4.3 5.9l9.2 9.3l27.8 24.8l13.9 13.5M513.4 641l-28.5-28.4l-24.7-22.5l-22.6-18.4l-22.2-15.5l-10.1-6l-10-5.3l-9.9-4.4l-9.8-3.7l-8.1-2.3l-9.5-2.1l-9.4-1.2l-9.2-.5l-13.4 .8l-12.9 2.1l-13.5 3.8l-15.1 5.7l-16.4 7.8l-12.9 7.9l-7.9 6.6l-2.7 3.5l-1.5 3.2l-.6 4.3l0.9 4.5l2.4 4.8l4.4 5.9l9.3 9.3l28 24.5l15.4 14.7M510.9 640.1l-28.5-28.6l-24.7-22.7l-22.6-18.5l-22.3-15.7l-10.1-6.1l-10.1-5.4l-9.9-4.5l-9.8-3.7l-9.7-2.8l-9.5-2l-9.3-1.2l-9.2-.3l-13.4 .9l-12.8 2.3l-13.5 3.9l-14.9 5.9l-15.1 7.5l-12.9 8l-7.6 6.8l-2.6 3.6l-1.4 3.2l-.4 4.4l1.1 4.6l2.6 4.9l4.7 5.9l10.5 10.2l30.3 26.1l14.4 13.9M510.2 641l-28.6-28.8l-26.5-24.6l-22.6-18.8l-22.3-15.8l-10.1-6.2l-10.1-5.4l-9.9-4.6l-9.8-3.8l-9.7-2.9l-9.6-2.1l-9.3-1.1l-9.2-.4l-13.4 .8l-12.8 2.4l-13.5 3.9l-14.9 6l-15 7.7l-12.8 8.2l-7.4 6.9l-2.5 3.7l-1.2 3.3l-.3 4.4l1.3 4.7l2.9 5l4.9 5.9l10.8 10.3l31 26.3l16 15.3M507.7 640.1l-28.6-29l-26.5-24.7l-22.7-18.9l-22.3-16.1l-10.2-6.3l-10-5.5l-10-4.7l-9.8-3.8l-9.7-3l-9.5-2.1l-9.4-1.2l-9.2-.4l-13.4 .8l-14.2 2.7l-13.4 4.1l-14.7 6.2l-14.8 7.8l-12.3 8.4l-4.3 3.8l-2.8 3.3l-1.9 3.2l-1.1 3.4l0 4.5l1.5 4.8l3.1 5l4.5 5.3l10.9 10.3l32.5 27.2l16.3 15.5M507 641.1l-28.6-29.3l-26.6-25l-24.4-20.7l-22.4-16.2l-10.2-6.4l-10-5.6l-10-4.8l-9.9-3.9l-9.7-3.1l-9.5-2.1l-9.4-1.3l-9.2-.5l-13.4 .8l-12.9 2.4l-13.4 4l-14.8 6.2l-15 8l-12.4 8.6l-4.3 4l-2.8 3.3l-2 3.3l-1.1 3.4l0 4.6l1.5 4.8l3.1 5.1l4.6 5.3l11.1 10.3l34 28.2l16.5 15.5M504.6 640.2l-30.5-31.1l-26.6-25.1l-24.4-20.6l-22.4-16.2l-10.2-6.3l-10-5.6l-10-4.7l-9.8-3.9l-9.7-2.9l-9.6-2.1l-9.3-1.2l-9.2-.4l-13.4 1l-12.8 2.5l-13.3 4.2l-14.7 6.4l-14.7 8.2l-11.3 8.2l-4.2 4l-2.7 3.5l-1.9 3.4l-.9 3.4l0.1 4.7l1.8 4.9l3.3 5.1l4.8 5.4l10.6 9.6l35.7 29.2l18 17.1M503.9 641.3l-30.5-31.5l-26.7-25.4l-24.5-21l-22.4-16.6l-10.2-6.5l-10.1-5.8l-10-5l-9.9-4.1l-9.7-3.1l-9.6-2.3l-9.4-1.4l-9.2-.6l-13.4 .8l-14.3 2.7l-13.4 4.3l-14.6 6.4l-14.6 8.4l-11.2 8.4l-4.1 4.1l-2.6 3.5l-1.7 3.5l-.8 3.6l0.4 4.7l2 5l3.5 5.2l5 5.5l10.9 9.7l35.1 28.3l19.6 18.3M501.4 640.5l-32.3-33.4l-26.6-25.4l-24.6-21l-22.4-16.5l-10.2-6.6l-10.1-5.7l-10-4.9l-9.8-4l-9.8-3.1l-9.5-2.2l-9.4-1.3l-9.2-.5l-13.4 .9l-14.2 2.9l-13.3 4.5l-14.4 6.7l-13.4 7.9l-11 8.6l-4 4.2l-2.5 3.6l-1.6 3.6l-.7 3.6l0.4 4.3l2.1 5l3.6 5.2l5 5.6l11.1 9.7l36.7 29.3l11.1 9.9l10.2 10M500.8 641.6l-32.4-33.7l-26.7-25.7l-24.6-21.4l-22.5-17l-11.9-7.7l-10.1-5.9l-10-5l-9.9-4.1l-9.7-3.2l-9.6-2.2l-9.4-1.4l-9.2-.5l-13.4 .9l-12.8 2.6l-13.4 4.3l-14.6 6.7l-13.5 8.1l-11.2 8.8l-4 4.4l-2.5 3.6l-1.6 3.7l-.7 3.7l0.4 4.3l2.1 5.1l3.6 5.3l5.2 5.6l11.1 9.7l38.4 30.4l11.3 10l10.3 10M498.3 640.8l-32.4-33.8l-28.5-27.5l-24.6-21.4l-22.5-16.9l-10.2-6.7l-10.1-5.9l-10-5.1l-9.9-4.2l-9.8-3.3l-9.6-2.3l-9.4-1.4l-9.2-.5l-13.4 .8l-14.2 2.9l-13.3 4.6l-14.4 6.9l-13.2 8.3l-5.9 4.5l-4.8 4.5l-3.3 3.8l-2.4 3.7l-1.5 3.8l-.5 3.7l0.6 4.5l2.3 5.2l3.9 5.4l5.3 5.6l11.5 9.9l37.8 29.4l11.3 9.9l11.9 11.4M497.7 641.9l-32.5-34l-28.6-27.9l-24.6-21.7l-22.5-17.4l-12-8l-10.1-6l-10.1-5.1l-9.9-4.3l-9.7-3.4l-9.7-2.4l-9.4-1.5l-9.2-.5l-13.4 .8l-12.9 2.5l-13.3 4.5l-14.5 6.9l-13.4 8.4l-5.9 4.6l-5 4.6l-3.3 3.9l-2.4 3.9l-1.5 3.8l-.6 3.9l0.7 4.5l2.3 5.3l3.9 5.4l5.5 5.7l11.6 10l39.4 30.5l11.5 9.9l12 11.5M495.2 641.2l-32.5-34.2l-28.6-28l-26.4-23.4l-22.5-17.3l-12-8l-10.1-5.9l-10.1-5.1l-9.9-4.3l-9.7-3.2l-9.6-2.4l-9.4-1.4l-9.2-.4l-13.4 1l-12.8 2.7l-13.2 4.7l-14.3 7.1l-13.1 8.6l-9.8 8.8l-3.2 4l-2.3 3.9l-1.4 3.9l-.4 4l0.8 4.6l2.6 5.4l3.6 4.8l5.5 5.8l11.8 10l41.1 31.6l11.7 10l12.1 11.5M492.8 640.4l-32.6-34.3l-28.6-28.1l-26.4-23.6l-22.6-17.5l-12-8.1l-10.1-6.1l-10.1-5.2l-9.9-4.3l-9.8-3.3l-9.6-2.4l-9.4-1.5l-9.2-.5l-13.4 1l-14.2 3.1l-13.1 4.9l-14.1 7.3l-12.8 8.8l-5.5 4.8l-3.8 4.2l-3 4l-2 4.1l-1.1 4l-.1 3.4l1.1 4.7l2.3 4.8l4.3 5.6l5.7 5.9l12.2 10.1l41.9 31.9l13.3 11.5l12.3 11.7M492.2 641.6l-34.5-36.3l-28.6-28.4l-26.5-23.7l-22.6-17.7l-12-8.2l-10.2-6.2l-10-5.3l-9.9-4.4l-9.8-3.4l-9.7-2.5l-9.4-1.5l-9.2-.5l-13.4 .9l-14.2 3.1l-13.1 4.9l-14.1 7.5l-12.6 8.9l-8.7 8.5l-3 4.2l-2 4.1l-1.1 4.2l0 4.1l1.2 4.8l2.6 4.9l3.9 5l5.8 5.9l12.3 10.2l42.2 31.9l13.4 11.4l13.9 13.1M489.7 640.9l-34.4-36.5l-30.5-30.1l-26.5-23.8l-22.6-17.6l-12-8.2l-10.2-6.1l-10-5.3l-9.9-4.3l-9.8-3.4l-9.6-2.3l-9.4-1.4l-9.3-.5l-13.3 1.1l-14.1 3.3l-13 5.1l-12.8 7l-12.5 9.2l-8.5 8.6l-2.8 4.3l-2 4.3l-.9 4.2l0.1 3.5l1.2 4.9l2.6 5l4.6 5.8l6.1 6l11.6 9.5l44 33.1l13.6 11.4l14 13.2M487.3 640.2l-36.3-38.4l-28.7-28.5l-26.5-24l-22.7-17.8l-12-8.3l-10.2-6.2l-10-5.3l-10-4.5l-9.8-3.4l-9.6-2.5l-9.4-1.4l-9.3-.5l-13.3 1l-14.1 3.4l-14.2 5.7l-12.6 7.2l-11.4 8.6l-4.5 4.5l-3.7 4.4l-2.8 4.4l-1.8 4.3l-.7 4.3l0.1 3.6l1.5 5.1l2.9 5l4.1 5.2l6.2 6.1l12.8 10.4l43.3 32.2l13.6 11.4l15.7 14.5M486.7 641.5l-36.4-38.7l-30.5-30.5l-26.6-24.1l-22.6-18.1l-12.1-8.3l-10.2-6.3l-10.1-5.5l-9.9-4.5l-9.8-3.6l-9.7-2.5l-9.4-1.5l-9.3-.6l-13.3 1l-14.1 3.4l-13 5.2l-12.7 7.2l-11.5 8.7l-4.6 4.6l-3.8 4.5l-2.8 4.5l-1.8 4.4l-.8 4.4l0.2 3.7l1.5 5.2l2.9 5.2l4.2 5.2l6.3 6.2l12.9 10.5l30.6 22.2l14.6 11.2l13.7 11.4l15.8 14.6M484.3 640.8l-36.4-38.8l-30.6-30.6l-26.6-24.4l-22.7-18.2l-12.1-8.5l-10.2-6.4l-10.1-5.5l-10-4.7l-9.8-3.6l-9.6-2.6l-9.5-1.6l-9.3-.6l-13.3 1l-14.1 3.3l-13 5.3l-12.7 7.3l-11.4 8.9l-4.5 4.6l-3.7 4.6l-2.7 4.6l-1.6 4.6l-.6 4.5l0.3 3.8l1.8 5.2l3.1 5.3l4.4 5.4l6.5 6.2l12.3 9.9l32.2 23.3l14.8 11.2l13.8 11.6l16 14.6M481.8 640.2l-36.4-38.9l-30.6-30.9l-26.6-24.5l-12.3-10.3l-12.2-9.4l-12.1-8.4l-10.2-6.4l-10.1-5.5l-9.9-4.6l-9.9-3.5l-9.6-2.6l-9.4-1.4l-9.3-.5l-13.3 1.1l-14 3.6l-12.8 5.5l-12.5 7.5l-11 9.1l-4.4 4.7l-3.3 4.7l-2.4 4.7l-1.2 3.9l-.4 3.9l0.5 4.6l1.6 4.6l3.1 5.4l4.5 5.5l6.6 6.3l13.5 10.8l31.5 22.6l14.8 11.2l15.5 12.8l16.1 14.6M481.3 641.5l-38.3-41l-30.7-31l-26.7-24.7l-24.5-19.9l-12-8.6l-10.3-6.4l-10.1-5.6l-10-4.7l-9.8-3.6l-9.7-2.7l-9.4-1.5l-9.3-.5l-13.3 1.1l-7.1 1.5l-6.9 2l-12.8 5.5l-12.5 7.6l-5.8 4.6l-5.1 4.7l-4.2 4.9l-2.8 4l-2.4 4.8l-1.2 4l-.5 3.9l0.6 4.8l1.9 5.5l3.5 5.5l4.7 5.5l6.9 6.5l12.7 10.1l33.2 23.7l14.9 11.3l15.7 13l16.2 14.6M478.9 640.9l-38.4-41.1l-30.7-31.1l-26.7-24.9l-24.5-20.2l-12.1-8.7l-10.3-6.5l-10.1-5.7l-10-4.8l-9.9-3.7l-9.6-2.7l-9.5-1.7l-9.3-.5l-13.3 1l-7.2 1.5l-6.8 2.1l-12.8 5.5l-12.4 7.7l-5.8 4.7l-5 4.8l-4.2 4.9l-2.7 4.1l-2.2 4.9l-1.1 4.1l-.3 4.1l0.7 4.8l1.9 4.8l3.4 5.6l4.9 5.7l6.9 6.6l14.1 11l32.2 23l15.1 11.3l15.8 12.8l17.9 16.1M476.4 640.3l-40.2-43.2l-30.7-31.1l-26.7-24.8l-24.5-20.2l-12.1-8.6l-10.3-6.5l-10.1-5.7l-10-4.7l-9.8-3.7l-9.7-2.6l-9.5-1.5l-9.2-.4l-13.3 1.2l-7.1 1.6l-6.8 2.2l-12.6 5.8l-12.2 7.9l-5.6 4.8l-4.8 4.9l-3.9 5l-2.4 4.2l-2 5l-.7 4.2l0 4.1l0.9 4.2l2 4.9l3.7 5.7l5.1 5.8l7.2 6.7l13.3 10.3l34 24.1l15.2 11.4l15.9 13l18.1 16.1M475.9 641.7l-40.3-43.4l-30.8-31.4l-26.7-25.2l-24.7-20.6l-12.1-8.9l-10.3-6.8l-10.1-5.9l-10.1-4.9l-9.9-4l-9.7-2.8l-9.5-1.8l-9.3-.7l-13.4 .9l-7.1 1.5l-6.9 2.1l-12.8 5.6l-12.2 7.9l-5.7 4.8l-4.9 5l-3.9 5.1l-2.5 4.3l-2 5.2l-.8 4.2l0.1 4.3l0.8 4.2l2.1 5l3.8 5.9l5.2 5.9l7.3 6.8l14.6 11.3l33 23.3l15.4 11.4l17.6 14.3l18.2 16.1M473.5 641.1l-40.3-43.4l-32.6-33.4l-26.8-25.2l-24.7-20.5l-12.1-8.9l-10.3-6.8l-10.1-5.8l-10.1-4.9l-9.8-3.9l-9.7-2.8l-9.5-1.6l-9.3-.6l-13.3 1.1l-7.1 1.6l-6.8 2.2l-12.7 5.9l-11.9 8.1l-5.5 5l-4 4.2l-3.8 5.2l-2.4 4.4l-1.8 5.2l-.6 4.4l0.2 4.3l1 4.3l2.3 5.2l4.1 6l5.4 6l7.6 6.9l13.7 10.6l34.9 24.6l15.5 11.5l17.7 14.4l18.4 16.1M471.1 640.5l-42.2-45.4l-30.8-31.6l-26.9-25.4l-24.6-20.7l-12.2-9l-10.3-6.9l-10.2-6l-10-5l-9.9-3.9l-9.7-2.9l-9.5-1.8l-9.3-.6l-13.3 1.1l-7.1 1.6l-6.8 2.2l-12.7 5.9l-5.7 3.6l-6.2 4.7l-5.4 5l-3.9 4.3l-3.7 5.3l-2.3 4.4l-1.4 4.5l-.7 4.5l0.3 4.4l1 4.4l2.4 5.3l4.1 6.1l5.5 6.1l7.7 7.1l13.8 10.7l35.2 24.7l15.6 11.5l19.5 15.7l18.5 16.1M470.6 641.9l-42.3-45.6l-32.7-33.6l-26.9-25.5l-24.7-21l-12.1-9.1l-10.4-7l-10.2-6.1l-10-5.1l-9.9-4.1l-9.8-2.9l-9.5-1.8l-9.3-.7l-6 .1l-7.4 .9l-7.1 1.6l-6.8 2.1l-12.6 6l-5.6 3.6l-6.2 4.8l-5.4 5.1l-3.8 4.4l-3 4.4l-2.3 4.6l-1.7 5.5l-.5 4.5l0.4 4.6l1.2 4.5l2.6 5.4l4.4 6.2l5.7 6.2l8 7.2l14.3 11l34.1 23.8l17.3 12.8l19.7 15.8l18.6 16.1M468.2 641.3l-44.2-47.5l-32.7-33.6l-26.9-25.6l-24.7-20.9l-12.1-9.1l-10.4-7l-10.2-6l-10-5.1l-9.9-4l-9.7-2.8l-9.5-1.7l-9.3-.6l-6 .3l-7.3 .9l-12.5 3.5l-6.5 2.8l-6.1 3.2l-5.6 3.7l-6.1 4.8l-5.3 5.2l-3.7 4.4l-3 4.6l-2.2 4.6l-1.3 4.7l-.5 4.7l0.4 4.6l1.2 4.6l2.7 5.5l4.4 6.4l5.9 6.4l8 7.3l14.4 11.1l36 25.1l15.9 11.6l19.7 15.8l20.4 17.6M465.8 640.8l-44.2-47.7l-32.7-33.7l-27-25.7l-24.7-21.2l-12.2-9.2l-10.3-7.1l-10.3-6.1l-10.1-5.2l-9.9-4.1l-9.7-2.9l-9.5-1.8l-9.3-.6l-6 .2l-7.3 .9l-12.5 3.5l-6.5 2.8l-6 3.3l-5.7 3.7l-6.1 4.8l-5.2 5.3l-3.6 4.5l-2.9 4.7l-2 4.7l-1.2 4.8l-.3 4.7l0.5 4.8l1.5 4.7l2.9 5.6l4.7 6.5l6.1 6.5l7.3 6.5l15.8 12.2l35 24.4l17.6 12.8l19.9 15.9l20.5 17.6M463.4 640.2l-44.2-47.7l-32.8-33.8l-28.7-27.6l-24.8-21.1l-12.2-9.2l-10.4-7l-10.2-6.1l-10-5.1l-10-4l-9.7-2.9l-9.5-1.7l-9.2-.5l-6 .3l-7.3 1.1l-12.3 3.7l-6.4 2.9l-6 3.4l-5.5 3.8l-5.9 5l-4.2 4.5l-3.6 4.6l-2.7 4.8l-1.9 4.8l-1.1 4.8l-.1 4.9l0.8 4.8l1.6 4.8l3.1 5.8l5.1 6.6l6.3 6.7l7.5 6.6l14.9 11.4l36.8 25.6l16.2 11.8l21.7 17.2l20.6 17.7M462.9 641.7l-46.1-49.8l-32.8-34l-28.8-27.7l-24.9-21.3l-12.2-9.3l-10.3-7.2l-12-7.1l-10-5.1l-9.9-3.9l-9.7-2.8l-8-1.4l-9.2-.5l-6 .3l-7.3 1l-7 1.8l-6.7 2.4l-6.3 3.1l-5.8 3.5l-5.4 3.9l-4.8 4.3l-4.2 4.5l-3.4 4.7l-2.6 4.8l-1.8 4.9l-.9 5l0 3.9l0.7 5l1.7 4.9l3.2 5.9l5.1 6.8l6.5 6.8l7.6 6.7l16.4 12.6l35.8 24.8l17.8 13.1l21.9 17.3l20.7 17.6M460.6 641.2l-48.1-51.8l-32.8-34l-28.8-27.7l-24.8-21.3l-12.3-9.3l-10.3-7.1l-10.3-6.2l-10.1-5.1l-9.9-4.1l-9.7-2.8l-7.9-1.5l-9.3-.6l-6 .2l-7.3 1l-7 1.8l-6.7 2.5l-6.3 3l-5.8 3.6l-5.4 3.9l-4.7 4.4l-4.1 4.5l-3.3 4.8l-2.5 4.9l-1.7 5l-.7 5.1l0.1 4l1 5.1l1.9 5l3.4 6l5.5 6.9l6.7 6.9l7.8 6.9l15.5 11.8l37.6 26.1l18 13.2l22 17.4l20.9 17.7M458.2 640.6l-48.1-51.8l-32.9-34.1l-28.8-27.9l-24.9-21.5l-12.2-9.4l-10.4-7.2l-10.3-6.3l-10.1-5.3l-9.9-4.1l-9.8-3l-7.9-1.5l-9.3-.8l-6 .3l-7.3 1l-7 1.7l-6.7 2.5l-6.3 3l-5.8 3.6l-5.3 4l-4.7 4.4l-4 4.7l-3.2 4.8l-2.4 5l-1.3 4.1l-.7 5.1l0.1 4.1l1 5.2l2 5.1l3.4 6.2l5.5 7l6.9 7.1l7.9 7l17 12.9l36.5 25.4l18.1 13.2l22.2 17.4l20.9 17.6M455.8 640.1l-49.9-53.8l-32.9-34.1l-28.9-27.9l-24.9-21.5l-12.2-9.4l-10.4-7.1l-10.3-6.3l-10.1-5.2l-9.9-4.1l-9.8-2.8l-7.9-1.5l-9.2-.6l-6 .4l-7.3 1.1l-5.6 1.4l-6.6 2.5l-6.3 3.1l-5.8 3.6l-5.2 4.1l-4.7 4.4l-3.9 4.7l-3.1 4.9l-2.3 5.1l-1.1 4.2l-.6 5.2l0.3 4.2l1.2 5.2l2.2 5.3l3.8 6.2l5.8 7.3l7.1 7.1l8.2 7.1l15.9 12.2l55 38.8l22.2 17.4l22.8 19M455.4 641.6l-51.9-55.8l-33-34.2l-28.9-28.1l-24.9-21.7l-12.3-9.5l-10.4-7.3l-10.3-6.4l-10.1-5.3l-10-4.2l-9.7-3l-8-1.5l-9.2-.6l-6 .2l-7.3 1.1l-5.6 1.5l-6.6 2.4l-6.3 3.1l-5.8 3.7l-5.2 4.1l-4.5 4.5l-3.9 4.8l-3 5l-2.1 5.1l-1 4.2l-.4 4.3l0.5 5.4l1 4.2l2.3 5.4l3.8 6.4l5.9 7.4l7.2 7.3l8.3 7.2l17.6 13.4l37.2 26l18.4 13.3l22.3 17.5l22.9 19.1M453 641.1l-51.9-55.8l-33-34.4l-29-28.2l-24.9-21.9l-12.3-9.7l-10.5-7.4l-10.3-6.5l-10.1-5.4l-10-4.3l-9.8-3.1l-7.9-1.6l-9.3-.7l-6 .2l-7.3 1.1l-5.6 1.4l-6.7 2.5l-6.2 3.1l-5.7 3.6l-5.2 4.2l-4.5 4.6l-3.8 4.8l-2.9 5.1l-1.9 5.3l-.9 4.2l-.2 4.4l0.7 5.4l1.2 4.4l2.5 5.5l4.1 6.5l6.2 7.5l7.5 7.4l8.5 7.4l16.5 12.6l39.2 27.3l18.5 13.5l22.5 17.6l23 19.1M450.7 640.6l-53.8-57.8l-33.1-34.3l-29-28.3l-24.9-21.9l-12.3-9.6l-10.5-7.4l-10.3-6.4l-10.1-5.4l-10-4.2l-9.7-3l-8-1.5l-9.2-.6l-6 .3l-7.2 1.2l-5.6 1.6l-6.5 2.6l-5 2.5l-5.7 3.7l-5.1 4.2l-4.5 4.7l-3.6 4.9l-2.3 4.1l-2 5.3l-.9 4.3l-.2 4.4l0.7 5.6l1.2 4.4l2.5 5.6l4.2 6.7l6.3 7.7l7.6 7.5l10 8.6l16.8 12.8l38 26.5l18.6 13.6l24.4 18.9l23.1 19.2M448.4 640.1l-55.8-59.8l-33-34.3l-27.2-26.5l-25.1-22.2l-12.3-9.7l-10.4-7.5l-10.4-6.6l-10.1-5.5l-10-4.3l-9.8-3.1l-8-1.6l-9.2-.7l-6 .3l-7.3 1.2l-5.5 1.5l-6.6 2.6l-4.9 2.6l-5.7 3.7l-5.1 4.3l-4.3 4.7l-3.6 4.9l-2.2 4.2l-1.8 5.4l-.8 4.4l0 4.5l0.9 5.7l1.5 4.5l2.7 5.7l4.5 6.8l6.6 7.8l7.9 7.7l8.9 7.7l17 12.9l39.9 28l18.8 13.7l24.5 19.1l23.2 19.2M447.9 641.7l-57.7-61.8l-33.1-34.5l-29-28.4l-25.1-22.1l-12.3-9.7l-10.4-7.5l-10.4-6.5l-10.1-5.5l-10-4.2l-8.2-2.6l-8-1.7l-9.2-.7l-6 .2l-7.3 1.2l-5.5 1.5l-6.6 2.6l-4.9 2.6l-5.7 3.7l-5 4.3l-4.3 4.8l-3.4 5l-2.1 4.3l-1.7 5.4l-.6 4.5l0.2 4.6l0.8 4.6l1.5 4.6l2.8 5.8l4.6 6.9l6.7 8l8 7.9l10.4 8.9l17.3 13.2l57.5 40.9l24.6 19l23.3 19.2M445.6 641.2l-59.6-63.8l-33.1-34.4l-29.1-28.4l-23.3-20.6l-12.3-9.9l-10.5-7.6l-10.4-6.6l-10.1-5.6l-10.1-4.4l-8.1-2.7l-9.6-2l-7.7-.6l-6 .3l-7.3 1.1l-5.5 1.5l-6.6 2.6l-4.9 2.6l-5.6 3.8l-5 4.3l-4.2 4.8l-3.3 5.1l-2 4.3l-1.5 5.6l-.4 4.5l0.3 4.7l1 4.7l1.8 4.7l3 5.9l4.8 7l7.1 8.1l8.3 8.1l9.2 7.9l19.1 14.5l58 41.4l24.8 19.2l23.3 19.2M443.3 640.7l-61.5-65.7l-31.3-32.6l-29.2-28.5l-25.1-22.3l-12.3-9.9l-10.5-7.5l-10.4-6.6l-10.1-5.5l-10-4.4l-8.2-2.6l-8-1.6l-9.3-.7l-5.9 .3l-5.8 1l-5.6 1.4l-6.5 2.6l-4.9 2.7l-5.6 3.8l-4.9 4.4l-4.1 4.8l-3.2 5.2l-1.9 4.4l-1.1 4.5l-.4 4.6l0.3 4.7l1 4.7l1.8 4.8l3.1 6l5 7.2l7.1 8.3l8.4 8.2l10.8 9.2l17.8 13.6l41.1 29l19.1 14.1l24.8 19.2l23.5 19.3M441 640.2l-63.4-67.6l-31.4-32.6l-29.1-28.5l-25.2-22.3l-12.3-9.8l-10.5-7.6l-10.4-6.5l-10.1-5.5l-10-4.2l-8.2-2.5l-7.9-1.6l-9.3-.5l-5.9 .4l-5.7 1.1l-5.5 1.6l-6.5 2.7l-5.9 3.5l-5.3 4.1l-4.5 4.7l-3 4l-2.4 4.2l-1.7 4.4l-1 4.6l-.2 4.7l0.5 4.8l1.2 4.8l2 4.9l3.4 6.1l5.2 7.3l7.5 8.4l8.7 8.4l11 9.3l18.2 13.9l39.7 28.1l21 15.5l24.9 19.3l23.6 19.3M440.6 641.8l-65.4-69.6l-31.4-32.7l-29.2-28.7l-23.4-21l-12.4-10.1l-10.5-7.8l-10.4-6.8l-10.3-5.8l-10-4.6l-8.2-2.8l-9.6-2.1l-7.8-.6l-6 .2l-5.7 .9l-5.6 1.5l-6.5 2.5l-6 3.4l-5.4 4l-4.7 4.6l-3 4l-2.5 4.2l-1.7 4.5l-1 4.6l-.3 4.7l0.6 4.9l1.3 4.9l2 4.9l3.4 6.2l5.4 7.5l7.6 8.6l8.8 8.5l11.1 9.5l18.4 14.1l41.7 29.7l21.1 15.6l25.1 19.4l23.6 19.4M438.3 641.3l-69.2-73.5l-29.5-30.6l-29.3-28.8l-23.4-21l-12.4-10l-10.5-7.8l-10.4-6.8l-10.3-5.8l-10-4.5l-8.2-2.7l-8-1.7l-7.8-.7l-6 .2l-5.8 .8l-5.5 1.5l-6.5 2.6l-4.9 2.6l-5.5 3.9l-4.7 4.5l-3.1 4l-2.5 4.3l-1.8 4.4l-1 4.7l-.3 4.7l0.6 4.9l1.3 5l2 5l3.6 6.3l5.4 7.6l7.8 8.8l8.9 8.6l11.3 9.8l20.1 15.4l61.6 44.5l25.1 19.5l23.7 19.3M436 640.8l-71.1-75.3l-29.6-30.7l-29.2-28.7l-23.4-21l-12.5-10.1l-10.5-7.7l-10.4-6.8l-10.3-5.7l-10-4.4l-8.2-2.6l-7.9-1.6l-7.8-.6l-5.9 .3l-5.8 1l-5.5 1.5l-6.4 2.8l-4.7 2.8l-5.3 4.1l-4.5 4.6l-2.9 4.1l-2.2 4.4l-1.4 4.6l-.7 4.7l0.2 4.9l0.9 5l1.8 5l5.6 10.3l5.7 7.7l8.1 8.9l9.2 8.8l11.6 9.9l20.4 15.7l62 45l25.3 19.6l23.8 19.4M433.7 640.4l-73-77.3l-29.6-30.6l-29.3-28.8l-23.4-20.9l-12.5-10.1l-10.5-7.7l-10.4-6.7l-10.3-5.7l-10-4.3l-8.2-2.5l-7.9-1.5l-7.7-.4l-5.9 .4l-5.7 1.1l-5.4 1.7l-6.3 2.9l-4.6 2.9l-5.1 4.2l-3.4 3.9l-2.8 4.1l-2.1 4.4l-1.3 4.7l-.4 4.8l0.2 3.7l0.9 5l1.8 5.2l5.8 10.4l5.8 7.8l8.3 9.1l10.7 10.2l11.8 10l20.7 16l62.5 45.5l25.4 19.7l23.9 19.5M433.3 641.9l-104.6-109.9l-29.3-28.9l-23.5-21.1l-12.5-10.2l-10.6-7.8l-10.4-6.9l-10.3-5.8l-10-4.5l-8.2-2.6l-8-1.6l-7.7-.5l-5.9 .4l-5.7 1l-5.4 1.7l-6.3 2.9l-4.6 3l-5 4.3l-3.4 3.8l-2.6 4.2l-2 4.5l-1.1 4.7l-.3 3.6l0.4 5l1.2 5.1l2.1 5.3l6.2 10.5l6.2 8l8.5 9.2l11 10.4l12.1 10.2l19.3 14.9l64.7 47.4l25.5 19.8l23.9 19.5M431.1 641.4l-106.6-111.7l-27.6-27.2l-23.5-21.3l-12.5-10.3l-10.6-8l-10.5-7l-10.3-5.9l-10.1-4.6l-8.2-2.8l-8-1.7l-7.7-.5l-5.9 .3l-5.7 1l-5.5 1.7l-5 2.3l-4.7 2.8l-5.1 4.2l-3.4 3.8l-2.8 4.1l-1.9 4.5l-1.2 4.7l-.3 3.7l0.4 5l1.3 5.2l2 5.2l6.4 10.8l6.3 8l8.7 9.4l11.2 10.6l12.2 10.4l21.1 16.4l65.1 47.9l23.8 18.5l24 19.4M428.8 641l-108.6-113.6l-27.5-27.1l-23.6-21.4l-12.5-10.3l-10.6-7.9l-10.5-7l-8.6-5l-10.1-4.7l-8.2-2.9l-8-1.8l-7.8-.7l-6 .3l-5.7 1l-5.4 1.7l-5 2.2l-4.6 2.9l-5.1 4.2l-3.3 3.8l-2.7 4.2l-1.8 4.6l-1 4.7l-.1 3.8l0.6 5.1l3.2 9.2l6.5 10.9l7.7 9.5l9 9.6l11.4 10.7l12.4 10.5l21.5 16.7l65.5 48.4l47.9 38.1M426.6 640.6l-110.6-115.5l-27.6-27.1l-23.6-21.4l-12.5-10.2l-10.6-7.9l-10.5-7l-8.6-4.9l-10.1-4.7l-8.2-2.8l-8-1.6l-7.7-.6l-5.9 .4l-5.7 1.2l-5.3 1.8l-4.9 2.4l-4.5 3l-3.9 3.4l-3.3 3.9l-2.5 4.3l-1.6 4.5l-.8 4.9l0 3.8l0.9 5.1l3.7 9.4l7 11l8 9.8l9.3 9.6l11.8 10.9l12.6 10.7l21.7 16.9l66 49l48 38.2M424.3 640.1l-110.7-115.4l-27.6-27.2l-23.6-21.6l-12.6-10.4l-10.6-8l-10.5-7.1l-8.7-5l-10.1-4.9l-8.3-2.9l-8-1.8l-7.7-.6l-5.9 .4l-5.7 1.1l-5.3 1.8l-4.9 2.4l-4.4 3l-3.9 3.5l-3.2 3.9l-2.3 4.3l-1.5 4.7l-.5 3.6l0 3.8l0.9 5.2l3.8 9.5l7.2 11.1l8.2 9.9l9.4 9.8l11.9 11.1l12.8 10.9l21.8 17.1l68.1 50.9l46.3 36.8M424 641.6l-114.6-119.1l-27.7-27.3l-21.8-19.9l-12.6-10.6l-10.7-8.1l-10.5-7.3l-8.6-5.1l-10.2-5l-8.3-3l-8-1.9l-7.8-.7l-10.2 1l-5.4 1.6l-5 2.3l-4.6 2.8l-3.9 3.4l-3.2 3.9l-2.5 4.3l-1.5 4.6l-.5 3.6l0 3.8l0.9 5.3l3.9 9.5l7.4 11.3l8.3 10l9.6 10l12.1 11.2l14.5 12.4l22.1 17.5l68.5 51.3l46.4 37M421.7 641.2l-118.4-122.8l-27.6-27.1l-21.9-19.8l-12.6-10.4l-10.6-8l-10.5-7l-8.7-5l-8.4-4l-8.3-2.9l-8-1.8l-7.7-.5l-10.1 1.3l-5.3 1.7l-4.9 2.5l-4.4 3l-3.7 3.5l-2.9 4.1l-2.1 4.4l-1.2 7.2l0.2 3.8l1.3 5.3l4.3 9.7l7.9 11.5l8.7 10.1l9.9 10.1l12.4 11.5l14.7 12.5l22.4 17.7l68.8 51.9l46.6 37.2M419.5 640.7l-118.5-122.7l-27.8-27.2l-21.9-19.9l-12.6-10.6l-10.7-8.1l-10.5-7.2l-8.7-5l-8.4-4.2l-8.3-3l-8.1-1.9l-7.7-.6l-4.5 .2l-5.6 1l-5.4 1.7l-4.8 2.4l-4.3 3.1l-3.6 3.5l-2.8 4.1l-1.5 3.3l-1 3.5l-.3 3.7l0.2 3.9l1.3 5.3l4.5 9.7l8.1 11.6l8.9 10.3l11.5 11.7l12.6 11.6l15 12.7l22.6 17.9l71 53.9l44.8 35.9M417.3 640.3l-120.5-124.5l-26-25.5l-21.9-20l-12.7-10.7l-10.7-8.3l-10.6-7.3l-8.6-5.2l-8.6-4.2l-8.3-3.2l-8.1-2l-7.7-.8l-4.5 .2l-5.7 .9l-5.3 1.8l-4.8 2.4l-4.2 3l-3.6 3.7l-2.6 4.1l-1.4 3.3l-.8 3.6l-.1 3.7l0.4 3.9l1.6 5.4l5.1 9.9l7.4 10.2l9 10.4l11.8 11.9l12.7 11.8l15.1 12.9l24.5 19.6l71.4 54.5l43 34.4M417 641.7l-36-36.6l-88.4-91.4l-26-25.5l-22-20.1l-12.6-10.6l-10.8-8.3l-10.6-7.3l-8.6-5.1l-8.6-4.2l-8.3-3.1l-8-1.9l-6.2-.6l-4.5 .2l-5.7 .9l-4 1.2l-4.9 2.2l-4.4 2.9l-3.6 3.5l-2.8 4.1l-1.4 3.3l-.8 3.5l-.2 3.8l0.5 3.9l1.6 5.4l5.3 9.9l7.6 10.3l9.2 10.5l11.9 12.1l14.6 13.4l15.3 13.1l24.7 19.8l73.5 56.5l41.3 33.2M414.8 641.3l-38-38.5l-88.4-91.3l-26-25.5l-22-20l-12.7-10.7l-10.8-8.2l-10.6-7.2l-8.6-5.2l-8.5-4.1l-8.3-3l-8.1-1.7l-6.1-.5l-4.5 .3l-5.6 1l-3.9 1.4l-4.8 2.4l-4.1 3.1l-2.6 2.7l-2.6 4.1l-1.2 3.3l-.6 3.6l0 3.8l2.1 8l5.4 10l7.8 10.4l10.9 12.2l12.2 12.2l14.8 13.6l15.5 13.2l24.9 20.1l73.8 57.1l41.4 33.2M412.6 640.8l-39.9-40.2l-88.5-91.2l-24.2-23.7l-22.1-20.3l-12.7-10.7l-10.8-8.4l-10.6-7.4l-8.7-5.2l-8.6-4.3l-8.3-3.2l-8-1.8l-6.2-.5l-4.5 .2l-5.6 1l-3.9 1.3l-4.7 2.4l-4.1 3.1l-2.5 2.8l-1.9 3l-1.3 3.3l-.7 3.6l0.1 3.7l0.7 4l1.5 4.1l5.5 10l8 10.5l11.1 12.3l12.4 12.3l15 13.8l17.3 15l25.2 20.2l76 59.2l37.7 30.4M410.5 640.4l-41.9-42.1l-88.6-91l-24.2-23.7l-22.1-20.3l-12.8-10.7l-10.8-8.4l-10.6-7.3l-8.7-5.2l-8.6-4.2l-8.3-3.1l-8-1.7l-6.1-.4l-8.6 1.2l-3.9 1.3l-4.7 2.4l-4 3.1l-2.4 2.8l-1.8 3l-1.1 3.4l-.4 3.6l0.3 3.8l2.7 8.1l5.1 8.7l8.2 10.6l11.3 12.4l12.6 12.5l15.1 13.9l17.5 15.2l23.4 19.1l74.3 58.1l43.4 35M410.2 641.8l-43.8-43.8l-92.5-94.7l-24.2-23.6l-20.3-18.4l-21.7-17.8l-10.7-7.5l-8.8-5.4l-8.6-4.3l-8.3-3.2l-8.1-1.8l-6.1-.5l-8.6 1.1l-3.9 1.2l-4.7 2.4l-3.9 3.2l-2.3 2.8l-1.6 3.1l-1 3.4l0.1 6.2l1.1 4l1.8 4.1l5.3 8.7l8.4 10.6l11.5 12.5l14.5 14.3l15.3 14.1l17.7 15.3l23.5 19.4l76.5 60.2l41.6 33.6M408 641.4l-45.7-45.6l-90.7-92.7l-24.3-23.7l-20.3-18.6l-21.8-18l-10.7-7.6l-8.8-5.5l-8.7-4.5l-8.4-3.4l-8.1-2l-6.1-.5l-8.7 1l-3.8 1.2l-4.7 2.4l-2.9 2.4l-2.4 2.7l-1.7 3l-1 3.4l0.1 6.1l1.1 4l1.9 4.1l5.5 8.7l8.6 10.7l11.8 12.6l14.6 14.4l17.2 15.8l17.9 15.6l25.5 21l76.8 60.8l39.8 32.3M405.9 640.9l-47.7-47.3l-92.7-94.4l-22.4-21.8l-20.3-18.6l-21.9-18l-10.7-7.6l-8.8-5.5l-8.7-4.4l-6.7-2.7l-8.1-2.1l-6.2-.7l-8.7 .9l-3.9 1.3l-4.5 2.4l-2.9 2.3l-2.2 2.7l-1.6 3.1l-.7 3.4l0.5 6.2l2.8 6.8l5.7 8.7l8.9 10.8l12 12.7l16.5 16.1l17.4 16l18 15.7l27.6 22.8l75.1 59.9l38 30.8M403.7 640.4l-49.6-49l-92.7-94.3l-22.5-21.7l-20.4-18.6l-21.9-18l-10.7-7.6l-8.8-5.4l-8.7-4.4l-6.7-2.6l-8.1-1.9l-6.2-.5l-8.4 1.1l-3.8 1.4l-3.3 1.9l-2.8 2.4l-2.1 2.7l-1.8 5.4l0.6 6.1l2.9 6.8l5.9 8.8l9.2 10.7l13.8 14.4l16.9 16.3l17.6 16.2l20 17.5l27.7 23l111.5 89.8M403.5 641.8l-51.5-50.6l-94.8-96.1l-22.5-21.7l-18.6-17l-21.9-18.2l-10.8-7.7l-8.9-5.6l-8.7-4.5l-6.7-2.7l-8.2-2.2l-6.2-.5l-4.3 .2l-4.1 .8l-3.8 1.4l-3.2 1.9l-2.7 2.4l-2 2.8l-1.1 3.1l-.3 2.3l1.2 6.2l3.5 6.9l6.4 8.8l8.2 9.3l14.1 14.5l17 16.4l19.7 18l20.1 17.6l29.7 24.8l109.8 89M401.4 641.4l-53.5-52.4l-94.9-95.9l-22.5-21.7l-18.6-17l-22-18.1l-9-6.5l-8.9-5.7l-8.7-4.7l-6.8-2.9l-8.2-2.2l-6.3-.7l-7.1 .6l-3.9 1.2l-3.4 1.7l-2.8 2.3l-2 2.6l-1.2 3.1l-.3 2.2l0.8 4.9l3.2 6.7l5.1 7.3l9.4 10.7l14.2 14.5l18.9 18.2l21.5 19.8l20.3 17.8l31.7 26.6l106.3 86.5M399.3 640.9l-55.4-54l-95-95.7l-22.6-21.7l-18.6-17l-22.1-18.1l-9-6.5l-8.9-5.7l-8.7-4.6l-6.8-2.8l-8.2-2.1l-6.2-.5l-7 .9l-5.8 2.6l-4.1 4l-1.2 2.9l-.3 2.2l0.8 4.8l3.4 6.7l5.3 7.2l9.7 10.8l14.4 14.6l20.9 20l42.2 37.9l35.6 30l102.7 84M397.2 640.4l-55.5-53.7l-97-97.4l-22.6-21.7l-18.6-17l-22.1-18.1l-9.1-6.5l-8.9-5.6l-8.7-4.5l-6.8-2.7l-8.2-2l-6.1-.3l-6.8 1.2l-5.4 2.8l-2.3 2.5l-1 1.8l-.6 4.3l1.3 4.9l4 6.7l6 7.3l8.6 9.3l16.4 16.3l23 21.8l42.5 38.3l39.6 33.4l97.1 79.8M397 641.8l-59.3-57.2l-99-99.1l-20.7-19.8l-16.9-15.3l-22.2-18.3l-9.1-6.6l-8.9-5.8l-8.8-4.7l-6.8-2.9l-6.6-1.8l-6.3-.7l-7 .7l-4.7 1.9l-2.7 2.1l-1.3 1.7l-1.2 4l1 4.6l2.8 5.2l5.4 7.1l8.5 9.1l18 17.8l25 23.6l44.6 40.3l43.5 36.9l91.5 75.6M394.9 641.3l-61.3-58.8l-99-98.9l-20.8-19.8l-16.9-15.3l-22.2-18.3l-9.1-6.5l-9-5.8l-7.1-3.8l-6.9-2.9l-6.6-2l-6.3-.8l-7 .6l-4.6 1.9l-3.2 2.9l-1.3 3.8l0.5 3.4l2.6 5l4.1 5.4l8.2 8.9l46.6 44.7l46.7 42.4l45.5 38.9l89.8 74.4M392.8 640.8l-61.3-58.5l-101.1-100.5l-20.8-19.8l-16.9-15.3l-22.3-18.2l-9.1-6.6l-9-5.7l-7.1-3.7l-6.9-2.9l-6.6-1.8l-6.2-.7l-5.5 .6l-4.6 1.9l-2.9 2.9l-.8 2.9l0.6 3.2l2.7 4.9l4.3 5.5l7 7.3l54.3 51.5l45.1 40.9l47.5 40.8l86.1 71.7M390.8 640.4l-63.3-60.2l-101.2-100.3l-35.9-33.3l-22.3-18.5l-9.2-6.7l-9.1-5.8l-7.1-3.9l-7-3l-6.6-2l-6.3-.7l-5.6 .5l-3.4 1.3l-3.2 2.7l-.8 2.6l0.6 3.2l2 3.6l4.2 5.2l5.5 5.7l65.5 61.6l41.6 37.7l47.6 41.1l82.3 68.9M390.6 641.7l-65.2-61.7l-105.1-103.7l-34-31.5l-20.6-17l-9.3-6.8l-9.1-6l-7.1-4l-7-3.1l-6.8-2.2l-6.3-.8l-5.6 .4l-3.4 1.3l-2.3 1.9l-.9 2.5l0.2 2l1.7 3.4l8.1 9.1l80.6 75.1l36.1 32.6l47.7 41.3l78.6 66.1M388.6 641.2l-67.2-63.2l-105.2-103.4l-34.1-31.5l-20.6-17l-9.3-6.7l-9.1-6l-7.2-3.9l-7-3.1l-6.8-2l-6.2-.6l-4.1 .4l-3.3 1.2l-2.1 2l-.5 1.6l0.3 1.9l1.9 3.3l7.1 7.6l94.4 87l32.4 29.2l45.9 39.9l74.8 63.2M386.6 640.7l-59.6-55.5l-109.1-106.9l-21-19.8l-18.9-17.1l-20.7-16.9l-9.3-6.7l-9.2-5.9l-7.2-3.9l-7-3l-6.7-1.8l-6.1-.4l-3.9 .7l-2 .8l-1.3 1.3l-.6 1.5l0.3 1.8l1.2 2l5.6 6l37.8 33.7l66.1 61.3l34.4 31.1l44.1 38.4l71 60.2M384.5 640.2l-61.4-57l-109.3-106.6l-20.9-19.8l-19.1-17l-20.7-16.9l-9.3-6.7l-9.3-5.8l-7.2-3.8l-7-2.9l-6.7-1.6l-4.6-.2l-4.8 .9l-1.5 1.1l-.6 1.4l0.9 2.6l4 4.4l41.4 35.9l74 68.6l38.3 34.6l40.3 35.1l63.4 54M384.4 641.5l-65.3-60.4l-109.3-106.2l-21-19.7l-17.2-15.4l-20.8-17l-16.8-11.7l-7.4-4.1l-7.2-3.3l-6.8-2.1l-4.8-.6l-5.2 .5l-2.2 1.5l0.2 2.2l2.5 2.9l26.3 21.5l20.5 17.9l80 74.3l44.1 39.7l92.2 79.5M382.4 641l-67.2-61.8l-109.4-105.9l-21.1-19.7l-17.1-15.3l-20.9-17l-16.9-11.6l-7.4-4l-7.2-3.2l-6.9-1.9l-4.7-.4l-3.7 .5l-1.4 .9l-.2 1.2l2.1 2.5l22.9 17.5l22.4 19l120.5 111.2l42.3 37.3l59.5 51.2M380.5 640.5l-71.2-65.1l-107.5-103.7l-36.4-33.3l-21-17.1l-17-11.8l-7.4-4.2l-7.3-3.2l-7.1-2.1l-4.7-.5l-2.6 .2l-1.7 .7l-.3 .4l0.6 1.3l25.9 18.6l24.5 20.5l22.9 20.7l63.3 59.3l38.4 35.2l40.3 35.8l55.8 48.2M380.4 641.7l-40.4-36.3l-34.6-32l-105.7-101.5l-36.4-33.3l-21-17.2l-17.1-12l-13.2-7l-7.2-2.5l-5.1-.9l-4.9 .4l-.4 .3l0.8 1.1l12.3 7.4l11.1 7.7l13.2 10.3l17.2 14.5l24.8 22.5l63.4 59.6l38.4 35.3l40.4 36l53.8 46.8M378.4 641.2l-40.3-36.1l-34.6-31.8l-34.7-32.7l-74.9-72l-19.2-17.8l-17.3-15.3l-21.1-16.9l-17.2-11.5l-7.5-4l-5.6-2.4l-7.3-1.9l-4.6-.3l-1.6 .4l0.2 .3l14.2 7.4l15.1 10.2l13.4 10.4l15.3 13l26.9 24.3l65.3 61.6l36.5 33.8l38.5 34.5l53.8 47M376.5 640.7l-44.2-39.4l-34.7-31.7l-105.7-100.7l-34.6-31.5l-19.2-15.7l-17.3-12.3l-7.6-4.5l-7.7-3.6l-5.6-1.9l-5.5-1.1l-3-.1l-.8 .1l0.3 .2l6.2 2.1l7.5 3.5l7.6 4.4l9.6 6.5l13.4 10.2l17.3 14.5l28.8 26.1l65.4 61.9l38.4 35.8l38.5 34.6l48.1 42.1M374.6 640.2l-44.3-39.2l-34.6-31.5l-34.6-32.4l-75-71.5l-34.6-31.1l-21.2-17l-17.3-11.4l-7.7-4l-5.7-2.2l-5.8-1.5l-5.1-.4l4.2 .7l5.7 1.7l5.8 2.5l7.6 4.1l17.3 11.8l19.3 15.5l32.7 29.3l73.1 69.4l36.5 34l36.5 33.1l46.2 40.6M374.6 641.4l-46.2-40.7l-36.5-33l-36.6-34.1l-73.1-69.4l-32.7-29.4l-19.2-15.5l-17.3-11.9l-7.7-4.3l-5.8-2.5l-5.7-1.8l-5.4-.8l6.4 .6l5.7 1.7l5.8 2.4l7.7 4.1l17.3 11.7l19.2 15.4l34.6 31.1l75 71.5l34.6 32.4l36.6 33.2l44.2 39.1M372.6 640.9l-48-42.2l-38.5-34.6l-36.5-33.9l-69.3-65.6l-30.7-27.7l-19.2-15.8l-15.4-11l-13.3-7.6l-11.1-4.3l6.4 .5l5.7 1.6l5.7 2.4l7.6 4l17.3 11.6l19.2 15.3l17.3 15.2l19.2 17.7l75 71.8l34.6 32.5l34.6 31.6l42.3 37.6M370.7 640.4l-51.9-45.4l-38.4-34.5l-38.5-35.6l-63.4-59.9l-26.9-24.3l-19.1-16.1l-15.3-11.5l-13.2-8.3l-11.8-5.9l2.3-.5l5 .6l7.3 2.2l5.7 2.5l7.6 4.1l17.1 11.7l21.1 17.1l34.6 31.4l109.6 104.7l34.6 31.7l40.4 36.1M370.8 641.5l-53.8-46.8l-40.4-36l-38.5-35.4l-63.3-59.6l-23-20.9l-17.2-14.6l-15.2-11.9l-11.1-7.8l-13.8-8.2l-.3-.9l1.7-.5l4.5 .2l7 1.7l7.4 3l7.5 4.1l17.1 11.5l21 17l17.3 15.3l19.1 17.8l109.6 105.1l73 66.4M368.9 641l-57.7-49.9l-40.3-35.8l-38.4-35.3l-61.4-57.5l-22.9-20.8l-26.4-22l-24.8-17.5l-1-1.3l0.6-.9l4.9-.6l4.9 .8l7.1 2.3l12.9 6.6l17 11.7l21 17.1l36.4 33.2l109.5 105.4l71.1 65M367.1 640.5l-59.6-51.3l-40.3-35.6l-120.6-111.3l-22.5-19.1l-24.4-18.6l-1.5-1.7l-.2-1.3l1.2-.9l3.5-.6l4.6 .3l6.8 1.8l7.3 3.1l7.3 4l17 11.5l20.9 16.9l17.2 15.3l21 19.7l109.4 105.8l67.3 61.8M365.2 640l-61.5-52.7l-42.2-37.1l-32.6-29.6l-83.8-77.7l-18.6-16l-24.2-19.6l-2.2-2.8l-.2-.8l0.4-1.2l2.6-1.3l4-.3l4.7 .5l6.8 2l7.2 3.2l7.4 4.1l9.3 6.1l9.4 6.9l20.8 17.2l17.2 15.5l21 19.8l105.5 102.5l67.3 62.1M365.3 641.1l-61.4-52.3l-40.3-35.2l-40.2-36.2l-74.1-68.7l-43.1-37.3l-3.8-4.2l-.6-2.5l0.9-1.3l1.7-1l5.2-.7l4.6 .5l6.8 1.8l7.1 3.1l7.3 3.9l9.2 6l9.4 6.8l20.7 17.1l17.2 15.3l21 19.8l109.2 106.5l63.4 58.8M363.5 640.6l-69.1-58.6l-44.1-38.5l-36.3-32.8l-64.3-59.7l-39.5-35.1l-5.3-5.8l-1-2l-.1-1.7l0.7-1.4l1.6-1.2l2.2-.7l4-.5l6.2 .7l6.8 2l7.1 3.2l7.2 4l9.2 6.1l9.3 6.8l20.8 17.1l18.9 17.2l21 19.9l105.3 103.1l61.5 57.3M361.7 640.1l-72.9-61.6l-45.9-39.9l-30.5-27.5l-60.3-55.9l-37.8-34.5l-6.9-7.4l-1.6-3.2l-.1-1.8l0.7-1.6l2.3-1.8l3.5-1l4.3-.3l6.3 .9l6.8 2.2l7 3.3l7.3 4.1l18.4 12.9l20.7 17.2l18.9 17.2l21 19.9l105.2 103.4l59.5 55.8M361.8 641.2l-78.5-66.1l-47.8-41.4l-36.1-32.6l-81-75.3l-8.5-9.2l-1.9-3.4l-.4-2l0.6-2.6l2.2-2l3.3-1.3l5.5-.6l6.2 .8l6.8 2l7 3.1l7.1 4l9.1 5.9l9.3 6.8l20.6 17l35.9 33.2l103.2 101.9l65.2 61.6M360.1 640.7l-82.4-68.9l-47.6-41.2l-39.7-35.9l-67.8-63.5l-10.1-11.1l-2.2-3.6l-.8-3.2l0.6-2.8l2.9-2.7l3.4-1.4l5.5-.6l6.2 .6l6.7 1.9l6.9 3l7.1 3.8l9.1 5.8l9.1 6.7l22.4 18.4l35.9 33.3l101.2 100.2l65.2 62M358.3 640.2l-84.1-70.1l-47.6-40.8l-43.3-39.2l-56.5-53.5l-7.1-7.3l-4.5-5.5l-3-5l-.8-3.3l0.6-2.9l2.7-3l4.4-1.9l5.5-.8l6.2 .6l6.6 1.7l6.8 2.9l7.1 3.7l9 5.6l9.1 6.5l22.3 18.2l16.9 15.3l20.8 19.7l101.1 100.5l61.3 58.5M358.5 641.3l-89.8-74.5l-45.5-38.9l-44.9-40.7l-48.8-46.5l-8.3-8.9l-4.4-5.6l-2.7-5l-.8-3.4l1-3.9l3-3l4.5-2l5.5-.7l6.1 .4l6.6 1.6l6.8 2.7l8.8 4.6l9 5.6l9.1 6.6l22.2 18.2l16.9 15.3l20.8 19.8l101 100.7l59.3 56.9M356.8 640.8l-93.5-77.2l-43.5-37l-44.6-40.4l-25-23.6l-18-17.8l-7-7.6l-5.7-7.1l-3.1-5.2l-1.2-4.8l1-4l1.2-1.7l2.5-2.2l4.6-1.9l7-.9l6.2 .6l6.6 1.8l6.8 2.8l8.8 4.6l8.9 5.7l9.1 6.6l22.2 18.3l18.7 17l20.8 19.9l97.1 97.2l59.3 57.2M355.1 640.3l-95.3-78.3l-41.5-35l-44.3-40.1l-22.9-21.8l-16.2-16.2l-8.3-9.1l-5.5-7.2l-2.8-5.3l-1.1-4.7l0.2-2.2l1.1-2.9l1.4-1.7l2.7-2.2l5.9-2.3l7.2-.6l6.3 .8l6.6 1.9l6.8 2.9l8.8 4.7l8.9 5.8l9.1 6.6l22.1 18.2l18.7 17.1l20.7 19.9l97 97.4l57.4 55.6M355.3 641.4l-102.7-84l-35.7-30.1l-42.2-38l-21-20l-16.1-16.2l-8.3-9.2l-5.5-7.3l-3.7-6.7l-1-4.9l0.2-2.2l1.1-3l1.2-1.8l2.6-2.3l5.8-2.7l6.9-1l6.1 .4l8.2 2.1l6.8 2.7l8.7 4.6l8.9 5.6l9 6.5l22.1 18l18.6 16.9l22.6 21.7l95 95.7l55.4 54M353.6 640.9l-104.4-85l-33.7-28.2l-20.2-17.8l-21.7-19.8l-19-18.3l-14.2-14.5l-9.6-10.8l-5.4-7.3l-3.4-6.8l-1-4.9l0.2-2.2l1-3.2l2-2.7l2.7-2.3l3.3-1.8l3.8-1.2l7.1-.7l6.2 .6l8.2 2.2l6.8 2.8l8.7 4.6l8.9 5.7l9 6.5l22 18l18.6 17l22.5 21.7l94.9 95.8l53.5 52.4M351.9 640.4l-107.9-87.5l-31.6-26.4l-20.2-17.6l-19.6-18.1l-17-16.4l-14-14.5l-8.1-9.3l-6.4-8.7l-3.2-6.8l-.9-6.2l0.3-2.2l1.3-3.1l2.1-2.7l2.8-2.3l3.4-1.8l3.8-1.2l7.1-.9l6.2 .5l8.1 2.1l6.8 2.7l8.6 4.4l8.9 5.6l10.8 7.7l21.9 18.1l18.6 16.9l22.5 21.8l94.8 96l51.5 50.6M352.2 641.5l-111.5-89.9l-27.8-23.1l-37.7-33.6l-16.9-16.3l-14-14.5l-9.3-10.8l-6.1-8.8l-3.2-6.8l-.8-6.2l0.3-2.3l1.3-3.2l2-2.8l2.7-2.4l3.2-1.9l3.7-1.5l8.4-1.2l6.1 .4l8.1 1.9l6.7 2.5l8.7 4.3l8.8 5.4l10.7 7.6l21.9 17.9l20.4 18.5l22.5 21.8l94.7 96.2l49.6 48.9M350.6 641l-38-30.9l-75.1-59.9l-27.6-22.8l-35.6-31.8l-16.6-16.1l-12.1-12.8l-9.1-10.7l-5.9-8.8l-3-6.9l-.8-6.2l0.6-3.4l1.5-3.2l2.1-2.7l2.8-2.4l3.3-2l3.7-1.4l8.4-1.4l6.1 .3l8.1 1.8l6.6 2.4l8.6 4.2l8.8 5.2l10.7 7.4l21.8 17.7l20.4 18.4l24.2 23.5l92.7 94.4l47.7 47.3M349 640.5l-39.8-32.2l-74.9-59.4l-25.6-21.1l-17.9-15.5l-17.3-15.9l-14.7-14.4l-11.9-12.6l-8.8-10.7l-5.7-8.8l-2-4.2l-1.2-4l-.4-6.2l0.9-3.4l1.6-3l2.3-2.8l2.9-2.4l4.5-2.4l3.9-1.4l8.5-1l6.2 .4l8.1 2l8.3 3.2l8.7 4.5l8.7 5.4l10.8 7.7l21.8 17.9l20.3 18.6l24.3 23.6l90.7 92.7l45.7 45.5M347.4 640.1l-39.7-32.2l-76.5-60.2l-23.7-19.4l-17.7-15.4l-17-15.7l-14.4-14.2l-11.5-12.5l-8.3-10.6l-5.1-8.7l-1.7-4.1l-1-4l0.1-6.1l1.1-3.3l1.8-3.1l2.4-2.7l4-3.1l4.8-2.2l3.9-1.2l8.7-.8l6.2 .6l8.1 2.1l8.4 3.3l8.7 4.5l8.7 5.5l10.7 7.7l21.8 17.9l20.3 18.6l24.3 23.7l90.6 92.8l43.8 43.8M347.7 641.1l-35.9-29l-78.2-61.3l-27.1-22.1l-17.6-15.2l-15.1-13.9l-12.7-12.5l-11.5-12.5l-8.3-10.6l-5.4-8.7l-2.9-8.2l-.4-3.8l0.3-3.6l1-3.4l1.7-3.1l2.3-2.8l3.9-3.2l4.6-2.5l3.9-1.4l5.6-1l4.4-.2l6.2 .5l8.1 1.9l8.3 3.3l8.6 4.3l8.8 5.4l10.6 7.5l21.8 17.7l22.1 20.2l24.2 23.7l90.5 93l41.9 41.9M346.2 640.7l-37.8-30.5l-77.9-60.6l-25.1-20.4l-15.6-13.5l-15-13.8l-12.5-12.3l-11.3-12.3l-8.1-10.6l-5.8-10l-2.4-8.1l-.2-3.8l0.5-3.6l1.2-3.4l1.9-3l2.4-2.8l4-3.2l4.6-2.5l3.9-1.3l5.6-1.1l4.4-.3l6.2 .5l8 1.8l8.4 3l8.5 4.3l8.7 5.2l10.6 7.3l10.8 8.4l12.7 10.7l22.1 20.2l24.2 23.7l88.5 91.2l39.9 40.2M344.6 640.2l-39.5-31.8l-73.9-57.2l-25-20l-15.5-13.3l-14.9-13.6l-12.3-12.3l-11-12.1l-8-10.5l-5.6-10l-2.3-8.1l-.2-3.8l0.5-3.6l1.2-3.4l2.5-4.1l2.5-2.8l4-3.1l4.7-2.5l3.9-1.4l5.6-1.1l4.4-.3l6.2 .4l8 1.6l8.3 3l8.5 4l8.6 5.1l10.6 7.2l10.8 8.2l12.7 10.6l22 20.1l25.9 25.4l88.5 91.3l38 38.5M345 641.3l-41.3-33.2l-75.4-58l-24.7-19.9l-15.3-13.2l-14.5-13.4l-11.9-12.1l-9.2-10.5l-7.5-10.3l-5-9.9l-1.8-8l0-3.8l0.7-3.6l1.4-3.3l2.6-4.1l2.6-2.7l4.1-3.1l4.8-2.5l5.2-1.8l5.7-.9l4.4-.2l6.2 .5l8.1 1.8l8.3 3l8.5 4.2l8.6 5.1l10.6 7.2l10.8 8.3l12.6 10.6l22 20l26 25.5l88.4 91.4l36 36.6M343.5 640.8l-43.1-34.5l-73.2-56l-22.8-18.2l-15.1-12.9l-14.4-13.3l-11.7-11.9l-9-10.4l-7.3-10.3l-4.8-9.8l-1.5-5.4l-.4-3.8l0.3-3.8l0.9-3.5l1.5-3.3l2.8-4l3.6-3.6l4.3-2.9l4.9-2.3l4-1.3l5.7-1l4.4-.2l7.8 .6l8 2l8.4 3.1l8.5 4.2l8.6 5.2l10.6 7.3l10.7 8.2l12.7 10.6l21.9 20.1l26 25.5l122.4 126.2M342 640.4l-43-34.4l-72.8-55.4l-22.6-18l-14.9-12.8l-12.6-11.6l-11.5-11.8l-8.8-10.2l-8-11.6l-4.3-9.7l-1.3-7.9l0.2-3.7l1.3-4.7l1.6-3.3l2.9-3.9l3.7-3.6l4.4-2.9l5-2.3l5.3-1.6l5.8-.9l4.5-.1l7.7 .8l8.1 2.1l8.4 3.2l8.5 4.3l8.6 5.2l10.6 7.3l10.7 8.3l12.6 10.6l22 20.1l25.9 25.4l120.4 124.6M342.5 641.5l-44.8-35.8l-72.5-54.8l-22.4-17.8l-14.7-12.6l-12.3-11.5l-9.8-10.1l-8.7-10.2l-7.7-11.4l-4.2-9.7l-1.3-7.8l0.2-3.7l1.3-4.7l1.5-3.3l2.9-4.1l3.6-3.6l4.3-3.1l4.8-2.5l5.3-1.8l5.6-1l4.4-.4l7.7 .5l8 1.7l8.3 2.9l8.4 3.9l8.7 5l10.5 6.9l10.6 8l12.6 10.4l21.8 19.7l27.7 27.1l118.4 122.7M341 641l-46.5-37l-68.5-51.5l-22.2-17.5l-14.6-12.4l-12.1-11.3l-9.8-10l-8.4-10l-7.6-11.3l-4.1-9.6l-1-5.3l-.2-3.8l0.5-3.7l1.4-4.6l2.3-4.3l3.2-3.9l3.9-3.5l4.4-2.9l5-2.3l5.4-1.7l10.2-1.1l7.7 .6l8 1.9l8.3 2.9l10.2 5l8.6 5.1l10.5 7.2l10.7 8.1l12.6 10.5l21.8 19.9l27.7 27.3l114.6 119.1M339.6 640.6l-46.4-36.9l-68.1-51l-22-17.2l-14.3-12.2l-11.9-11.1l-9.4-9.9l-8.1-9.9l-7-11.1l-3.6-9.5l-.8-5.2l0-3.7l0.6-3.7l1.6-4.6l2.5-4.2l3.3-3.9l3.9-3.4l4.5-2.9l5-2.3l5.4-1.7l10.2-1.2l7.7 .5l8 1.7l8.2 2.9l10.1 4.8l8.7 5l10.5 7l10.6 8l12.5 10.4l23.7 21.5l27.6 27.2l112.6 117.3M338.2 640.2l-46.2-36.8l-67.8-50.4l-21.7-16.9l-12.6-10.7l-11.7-11l-9.2-9.7l-8-9.8l-6.8-11l-3.5-9.4l-.8-5.1l0-3.8l0.9-4.8l1.8-4.5l2.6-4.2l3.4-3.9l4-3.3l4.5-2.9l5-2.4l5.4-1.6l5.7-1l6-.3l7.7 .7l8.1 1.8l8.2 2.9l10.1 4.9l8.7 5l10.4 7.1l10.7 8.1l12.5 10.3l23.6 21.5l27.6 27.3l110.6 115.5M338.7 641.3l-48-38.1l-67.3-49.9l-21.4-16.7l-12.4-10.6l-11.4-10.7l-9-9.6l-6.5-8.2l-6.7-10.9l-3.4-9.3l-.8-5.1l0.1-3.8l0.8-4.8l1.8-4.5l2.5-4.3l3.3-3.9l3.9-3.5l4.4-3l5-2.4l5.3-1.9l5.6-1.2l5.9-.5l7.6 .4l8 1.5l8.2 2.6l10 4.5l10.3 5.8l10.5 6.9l10.6 7.9l12.5 10.3l23.6 21.3l27.5 27.1l108.6 113.6M337.3 640.9l-24-19.5l-23.8-18.5l-65.2-48l-21.2-16.5l-12.3-10.3l-11.3-10.6l-8.7-9.4l-6.5-8.2l-6.5-10.7l-2.2-5.3l-1.4-5.2l-.5-5l0.2-3.7l1.1-4.8l1.9-4.5l2.6-4.2l3.4-3.8l5-4.3l4.6-2.8l5.1-2.3l5.4-1.7l5.6-1.1l6-.4l7.7 .5l8 1.6l8.2 2.7l10 4.6l10.3 5.9l10.5 6.9l10.6 8l12.5 10.2l23.5 21.4l27.6 27.1l106.6 111.7M336 640.5l-23.9-19.4l-23.7-18.4l-64.8-47.5l-21-16.2l-12-10.2l-11-10.5l-8.4-9.2l-6.2-8l-6-10.6l-2-5.2l-1.1-5.1l-.3-3.8l0.4-4.9l1.2-4.6l2.1-4.5l2.8-4.1l3.4-3.8l5.1-4.2l4.6-2.9l6.4-2.8l5.5-1.6l5.7-.9l6-.3l7.7 .7l8 1.7l8.3 2.8l10 4.7l10.3 5.9l10.5 7l10.6 8l12.5 10.2l23.5 21.4l27.5 27.1l104.6 109.9M334.7 640.1l-23.9-19.4l-25.4-19.6l-62.5-45.6l-19.1-14.7l-11.9-10.1l-10.8-10.2l-8.4-9.1l-6-7.9l-5.9-10.4l-1.9-5.2l-1.1-5l-.2-5l0.5-4.8l1.4-4.6l2.2-4.4l2.9-4.1l3.5-3.7l5.2-4.2l4.7-2.8l6.3-2.8l5.5-1.6l5.7-1l6-.3l7.7 .6l8 1.6l8.2 2.7l10 4.5l10.3 5.8l10.4 6.8l10.6 7.9l12.5 10.1l23.4 21.2l29.3 28.8l102.7 108M335.2 641.3l-23.8-19.4l-25.3-19.7l-63.8-46.4l-18.9-14.5l-11.6-9.9l-9.3-8.8l-8.2-8.9l-5.9-7.7l-5.7-10.3l-1.9-5.1l-1.1-5l-.2-4.9l0.6-4.8l1.3-4.6l2.1-4.4l2.9-4.1l4.3-4.7l5.3-4.2l4.7-2.8l6.3-2.8l5.5-1.6l5.7-1l6-.4l7.7 .5l8 1.6l8.1 2.6l10 4.3l10.3 5.7l10.4 6.7l10.5 7.7l12.4 10l23.5 21l29.2 28.7l29.6 30.6l71.1 75.4M334 640.9l-23.8-19.3l-25.2-19.6l-61.7-44.6l-20.2-15.5l-11.3-9.8l-9-8.6l-7.9-8.8l-5.6-7.6l-5.3-10.1l-1.6-5l-.9-5l0-4.8l0.7-4.7l1.5-4.5l2.3-4.4l2.9-4l4.5-4.7l5.3-4.1l4.7-2.8l6.4-2.8l5.4-1.6l5.7-1.1l6-.4l7.7 .4l9.5 1.9l8.2 2.7l10 4.4l10.3 5.7l10.4 6.8l10.5 7.7l12.4 10.1l23.4 20.9l29.3 28.7l29.5 30.7l69.2 73.4M332.7 640.5l-23.6-19.3l-25.1-19.4l-61.2-44.1l-18.4-14.1l-11.3-9.5l-8.8-8.5l-7.8-8.7l-5.4-7.4l-3.6-6.3l-2.1-4.9l-1.4-4.9l-.6-4.9l0.1-4.7l0.9-4.7l1.7-4.4l2.4-4.3l3-4l4.5-4.7l5.3-4l4.8-2.8l6.4-2.8l5.4-1.7l7.2-1.2l6-.3l7.7 .6l9.6 2l8.2 2.7l10 4.6l10.3 5.7l10.4 6.8l10.5 7.8l12.4 10l23.4 21l29.2 28.7l31.4 32.6l65.4 69.6M331.5 640.2l-23.6-19.3l-24.9-19.3l-59.1-42.4l-19.7-15l-11-9.4l-8.6-8.4l-7.4-8.5l-5.2-7.3l-3.3-6.1l-1.9-4.9l-1.1-4.8l-.5-4.8l0.4-4.7l1.1-4.6l1.8-4.4l3.2-5.2l4.1-4.8l4.9-4.4l5.7-3.8l4.9-2.5l6.6-2.5l5.6-1.4l5.8-.8l6-.2l7.8 .7l9.6 2.1l8.2 2.9l10 4.6l10.3 5.8l10.4 6.9l10.5 7.7l12.4 10.1l23.4 21l29.1 28.7l31.4 32.6l63.5 67.7M332.1 641.4l-23.5-19.3l-24.9-19.3l-20.8-15.4l-39.5-27.9l-17.9-13.6l-10.9-9.2l-8.4-8.2l-7.3-8.3l-5.1-7.2l-3.2-6.1l-1.9-4.8l-1.1-4.7l-.4-4.7l0.3-4.7l1.1-4.5l1.7-4.4l3.1-5.2l4.1-4.9l4.8-4.4l5.6-3.9l4.8-2.6l6.6-2.7l5.5-1.5l7.2-1.1l6-.3l7.8 .6l9.5 2.1l8.2 2.7l10.1 4.5l10.2 5.7l10.3 6.7l10.5 7.7l12.4 9.9l23.3 20.8l29.2 28.5l31.3 32.6l63.4 67.6M330.9 641.1l-23.4-19.3l-24.7-19.2l-19-14l-40.8-28.7l-17.6-13.4l-9.3-8l-8.4-8l-7.2-8.2l-4.9-7l-3.2-5.9l-1.8-4.7l-1.1-4.7l-.4-4.7l0.3-4.6l1-4.5l1.8-4.3l3-5.2l4-4.9l4.8-4.5l5.4-4l4.8-2.7l6.4-2.8l5.5-1.7l7.1-1.3l6-.4l9.2 .5l8 1.5l9.8 3.1l10 4.3l10.2 5.5l10.3 6.6l10.5 7.6l12.3 9.8l25.1 22.3l29.1 28.5l31.3 32.6l59.6 63.7M329.8 640.7l-23.3-19.2l-24.6-19.1l-18.9-13.8l-38.8-27.2l-18.8-14.3l-9.1-7.8l-8.1-7.9l-6.9-8.1l-4.6-6.9l-2.9-5.8l-1.6-4.6l-1-4.6l-.2-4.6l0.5-4.5l1.6-5.5l2-4.3l3.4-5.1l4.2-4.7l5-4.4l5.6-3.8l4.9-2.6l6.5-2.7l5.5-1.5l7.2-1.2l6-.3l9.3 .7l8 1.6l8.1 2.5l10 4.2l10.1 5.5l10.4 6.4l10.4 7.5l12.3 9.7l25.1 22l29 28.4l33.1 34.4l57.7 61.8M328.7 640.4l-23.2-19.1l-24.5-19l-57.1-40.6l-17.2-13l-10.1-8.7l-7.8-7.8l-6.6-7.8l-4.4-6.8l-2.6-5.7l-1.4-4.6l-.8-5.7l0.1-4.4l0.8-4.5l2-5.3l2.2-4.2l3.7-5l4.5-4.6l5.1-4.2l5.8-3.7l5-2.5l6.6-2.5l5.6-1.4l7.2-1.1l6-.1l9.3 .8l8 1.7l8.2 2.6l10 4.3l10.1 5.5l10.4 6.5l10.4 7.5l12.3 9.7l25.1 22.1l29 28.3l33.1 34.5l55.7 59.8M327.5 640.1l-23-19.1l-22.7-17.6l-18.6-13.6l-39.6-27.7l-16.8-12.8l-8.7-7.5l-7.7-7.6l-6.5-7.7l-4.2-6.7l-2.6-5.6l-1.4-4.4l-.8-5.6l0.1-4.4l0.8-4.4l1.9-5.3l2.3-4.1l3.5-5l4.4-4.6l5.1-4.3l5.7-3.7l6.2-3.2l6.6-2.5l5.6-1.5l7.2-1.1l6-.2l9.3 .7l8 1.7l9.8 3.1l10 4.4l10.1 5.5l10.4 6.6l10.4 7.5l12.3 9.7l25 22.1l29 28.4l33.1 34.4l53.9 57.9M328.3 641.4l-23.1-19.2l-24.2-18.9l-18.5-13.4l-37.7-26.3l-16.6-12.6l-9.7-8.5l-7.5-7.4l-6.1-7.6l-4-6.5l-2.4-5.5l-1.1-4.4l-.6-5.5l0.3-4.3l0.9-4.3l2.1-5.2l2.3-4.1l3.7-4.9l4.4-4.6l5.2-4.2l5.7-3.7l6.2-3.2l6.6-2.5l5.6-1.4l7.2-1.1l6-.3l9.3 .6l8 1.6l9.7 3l10 4.3l10.1 5.4l10.3 6.4l10.5 7.4l12.3 9.6l24.9 21.9l29 28.2l33 34.3l51.9 55.9M327.2 641.1l-22.9-19.1l-22.4-17.5l-18.4-13.4l-38.9-27.1l-16.2-12.4l-8.4-7.3l-7.3-7.3l-6-7.4l-4-6.4l-2.3-5.4l-1.1-4.3l-.6-5.4l0.3-4.2l0.9-4.3l2-5.1l3-5.1l3.8-4.8l4.5-4.5l5.1-4.2l5.8-3.7l6.2-3.1l6.6-2.5l5.6-1.5l7.2-1.1l6-.3l9.3 .5l7.9 1.5l9.8 2.9l9.9 4.2l10.1 5.3l10.3 6.3l10.4 7.2l12.3 9.5l24.9 21.7l28.9 28l33 34.2l51.9 55.9M326.2 640.9l-22.8-19.1l-22.3-17.4l-18.2-13.3l-37-25.7l-17.3-13.2l-8.1-7.1l-7.1-7.2l-5.7-7.3l-3.6-6.3l-2.1-5.2l-1.2-5.3l-.2-4.2l0.7-5.3l1.2-4.1l2.4-5.1l3.2-4.9l4-4.7l4.7-4.4l5.3-4l5.9-3.6l6.3-3l6.7-2.3l5.6-1.4l7.3-1l6-.2l9.3 .7l8 1.5l9.7 3.1l10 4.2l10.1 5.3l10.3 6.4l10.4 7.3l12.3 9.5l24.9 21.7l28.9 28l32.9 34.2l50 53.9M325.2 640.7l-21-17.7l-22.2-17.4l-18.1-13.3l-38.1-26.5l-15.7-12l-8-7l-7-7l-5.6-7.1l-3.6-6.2l-2-5.1l-1.1-5.2l-.2-4.2l0.6-5.1l1.2-4.1l2.3-5l3.2-4.9l3.9-4.7l4.6-4.4l5.3-4l5.8-3.6l6.2-3.2l6.7-2.4l7-1.9l7.2-1l6-.3l9.3 .7l8 1.5l9.7 2.9l9.9 4.1l10.1 5.2l10.3 6.3l10.4 7.2l12.2 9.3l24.9 21.5l28.8 27.9l32.9 34.1l49.9 53.8M324.2 640.5l-20.9-17.7l-22-17.3l-18-13.1l-36.1-25.2l-16.8-12.8l-7.8-6.9l-6.6-6.9l-5.4-6.9l-3.3-6.1l-1.8-5l-.9-5.1l-.1-4l0.8-5.1l1.8-5l2.6-4.9l3.4-4.7l4.2-4.6l4.8-4.3l5.4-3.9l5.9-3.5l6.3-3l6.8-2.4l5.6-1.4l7.2-1.1l6-.2l9.3 .5l7.9 1.4l9.7 2.9l10 4l10 5.1l10.3 6.1l10.3 7.1l12.3 9.2l24.8 21.3l28.8 27.7l32.8 34l48 51.7M323.2 640.3l-20.7-17.6l-21.9-17.3l-16.2-11.8l-37.3-25.9l-15.2-11.7l-7.7-6.7l-6.5-6.8l-5.3-6.8l-3.2-5.9l-1.8-5l-.9-4.9l0-5l1-4.9l1.9-5l2.7-4.8l3.5-4.7l4.3-4.5l4.9-4.2l5.4-3.9l5.9-3.5l6.4-2.9l6.7-2.4l7-1.7l7.3-.9l6.1-.2l9.2 .7l8 1.5l9.7 2.9l9.9 4.1l10.1 5.2l10.3 6.2l10.3 7l12.2 9.3l24.8 21.3l28.8 27.7l32.9 34l46.1 49.7M322.3 640.1l-20.6-17.6l-20.1-15.9l-17.7-12.9l-35.4-24.6l-15-11.5l-8.6-7.6l-6.3-6.6l-5-6.7l-3-5.8l-1.6-4.8l-.6-4.9l0.2-4.8l1.1-4.9l2-4.8l2.9-4.8l3.6-4.6l4.3-4.4l6-5l5.5-3.8l6.1-3.3l6.4-2.8l12.4-3.6l7.3-1l6.1-.2l9.2 .6l8 1.5l9.7 2.8l9.9 4l10 5l12 7.2l10.3 7.1l12.2 9.3l24.8 21.3l27 25.9l32.8 33.9l46.1 49.7M323.1 641.5l-20.5-17.7l-20-15.9l-17.6-13l-36.4-25.4l-14.7-11.3l-7.4-6.5l-6.2-6.5l-4.8-6.5l-3-5.7l-1.6-4.7l-.6-4.8l0.2-4.7l1.1-4.8l2-4.7l2.8-4.7l3.5-4.6l5.2-5.3l6-4.9l5.6-3.7l6.1-3.3l6.4-2.8l12.5-3.6l7.3-1l6-.3l9.2 .6l9.5 1.8l9.7 2.9l10 4l10 5.1l10.3 6.2l10.3 7l12.2 9.2l24.7 21.1l28.8 27.5l32.7 33.8l44.2 47.7M322.3 641.3l-20.5-17.6l-19.8-15.8l-17.4-12.9l-34.6-24.1l-14.6-11.1l-8.1-7.3l-6-6.4l-4.6-6.4l-2.7-5.5l-1.3-4.7l-.5-4.6l0.4-4.7l1.2-4.7l2.1-4.6l3-4.6l3.6-4.5l5.2-5.2l6.1-4.8l5.6-3.7l6.1-3.3l6.4-2.8l12.5-3.6l7.3-1l6-.3l9.2 .5l9.5 1.7l9.7 2.8l9.9 3.9l10 5l10.2 6l10.4 6.9l12.1 9.1l24.7 20.9l26.9 25.5l32.7 33.6l44.2 47.5M321.4 641.2l-18.6-16.2l-19.7-15.9l-17.4-12.8l-35.6-24.9l-14.2-11l-7.9-7.2l-5.6-6.2l-4.3-6.3l-2.5-5.4l-1.2-4.5l-.3-4.6l0.6-4.6l1.4-4.5l2.2-4.6l3.7-5.4l3.9-4.4l5.4-5l6.3-4.8l5.7-3.5l12.7-5.9l12.5-3.3l7.4-.9l6-.2l9.2 .6l9.6 1.8l9.7 2.9l9.9 4l10 5.1l10.2 6l10.4 6.9l12.1 9.1l24.7 21l26.9 25.5l32.7 33.6l42.2 45.5M320.6 641.1l-18.5-16.2l-19.6-15.8l-15.6-11.6l-35.4-24.7l-14-10.8l-7.8-7.1l-5.5-6.1l-4.3-6.2l-2.4-5.3l-1.2-4.4l-.3-4.4l0.6-4.5l1.4-4.5l2.2-4.5l3.6-5.3l3.8-4.3l5.4-5.1l6.1-4.7l5.7-3.6l12.6-6l6.8-2.2l7-1.6l13.4-1.2l9.2 .6l9.5 1.7l9.7 2.8l9.9 3.9l10.1 5l10.1 5.9l10.3 6.8l12.2 9l24.6 20.7l26.9 25.4l32.6 33.4l42.2 45.5M319.8 641l-18.4-16.2l-19.4-15.6l-15.5-11.5l-33.5-23.5l-14.9-11.6l-7.5-6.9l-5.3-6l-4-6l-2.2-5.2l-1-4.3l-.1-4.4l0.7-4.4l1.5-4.4l2.3-4.3l3.8-5.3l3.9-4.2l5.4-5l6.2-4.6l5.7-3.6l12.6-5.9l6.8-2.3l7.1-1.6l13.3-1.2l9.2 .5l9.5 1.6l9.7 2.7l9.8 3.9l10.1 4.8l10.1 5.9l10.3 6.7l12.1 8.8l24.7 20.5l26.8 25.2l32.6 33.3l40.3 43.4M319 640.9l-18.2-16.1l-17.7-14.4l-15.4-11.4l-34.5-24.3l-13.5-10.5l-7.4-6.9l-5.2-5.9l-3.9-5.9l-2.2-5l-1-4.2l-.1-4.3l0.7-4.3l1.9-5.1l2.4-4.3l3.9-5.1l9.4-9.1l12-8.1l12.6-5.9l6.8-2.2l7.1-1.6l13.3-1.3l9.2 .4l9.5 1.6l9.6 2.6l9.9 3.7l10 4.8l10.1 5.7l10.3 6.6l12.1 8.8l24.6 20.2l26.7 25l32.6 33.2l40.3 43.3M318.3 640.9l-18.1-16.1l-17.5-14.3l-15.3-11.3l-32.7-23.1l-14.3-11.3l-7.2-6.7l-5-5.8l-3.6-5.7l-2-5l-.7-4.1l0-4.2l0.9-4.1l2-5.1l2.5-4.2l4-5l4.9-4.9l5.7-4.8l12.2-7.9l12.8-5.6l6.8-2.1l7.1-1.6l13.4-1l9.2 .5l9.5 1.7l9.7 2.7l9.9 3.8l10 4.8l10.1 5.8l10.3 6.7l12.1 8.7l24.6 20.3l26.7 25l30.7 31.3l40.3 43.2M317.6 640.9l-18-16.1l-15.8-12.9l-15.2-11.4l-33.6-23.9l-13-10.2l-7-6.6l-4.9-5.7l-3.6-5.7l-2-4.8l-.8-4.9l0.2-4l1-4.1l2.2-4.9l2.7-4.2l4-4.9l5-4.8l5.7-4.7l12.3-7.8l12.8-5.6l6.8-2.1l7.1-1.5l13.4-1.1l9.2 .5l9.5 1.6l9.7 2.6l9.8 3.7l10 4.7l10.1 5.7l10.3 6.5l12.1 8.7l24.5 20.1l26.7 24.8l30.7 31.1l38.3 41.1M316.9 640.9l-17.8-16.1l-15.7-12.8l-15-11.3l-31.9-22.7l-13.7-10.9l-6.8-6.5l-4.7-5.6l-3.3-5.5l-1.8-4.8l-.6-4.7l0.4-4l1.1-4l2.4-4.8l2.7-4l4.2-4.8l5-4.8l5.8-4.6l12.3-7.7l12.8-5.5l6.9-2.1l7.1-1.6l13.3-1.1l9.2 .4l9.5 1.5l9.6 2.6l9.8 3.6l10 4.6l10.1 5.6l10.3 6.4l12 8.6l12.2 9.5l12.3 10.3l26.7 24.7l30.6 30.9l38.4 41M316.3 640.9l-16.2-14.6l-15.5-13l-14.9-11.2l-32.8-23.6l-12.5-9.9l-6.7-6.4l-4.6-5.5l-3.3-5.4l-1.8-5.4l-.4-3.9l0.5-4.6l1.2-3.9l2.5-4.7l3.5-4.8l4.4-4.7l11.2-9.1l12.6-7.5l12.9-5.3l14-3.4l13.4-1l9.3 .6l9.4 1.6l9.7 2.6l9.8 3.7l10 4.7l10.1 5.6l10.3 6.5l12 8.5l24.5 20l26.7 24.6l30.6 31l36.5 39M315.7 641l-16-14.6l-15.5-12.9l-14.7-11.1l-31-22.4l-12.4-9.9l-6.6-6.3l-4.5-5.4l-3.3-5.3l-1.8-5.3l-.4-3.7l0.5-4.6l1.2-3.8l2.5-4.6l3.4-4.6l4.3-4.7l11.1-9l12.4-7.4l14.2-6l14-3.4l13.4-1l9.2 .5l9.5 1.6l9.6 2.5l9.9 3.6l9.9 4.6l10.1 5.5l10.2 6.4l12.1 8.5l22.7 18.2l26.6 24.2l30.6 30.7l36.4 38.8M315.1 641.1l-15.9-14.6l-13.8-11.6l-14.6-11.2l-30.8-22.3l-13.1-10.6l-6.3-6.2l-4.3-5.2l-3-5.2l-1.6-5.2l-.3-3.7l0.7-4.4l1.7-4.5l2.7-4.5l3.7-4.5l4.6-4.6l11.4-8.8l12.7-7.2l12.9-5.3l14-3.4l13.4-1.1l9.2 .5l9.5 1.5l9.6 2.5l9.8 3.5l10 4.5l10 5.4l10.2 6.3l12.1 8.3l22.6 18l26.6 24.1l30.5 30.4l36.4 38.7M314.5 641.2l-15.7-14.6l-13.6-11.4l-44.7-33.2l-11.9-9.6l-6.2-6.2l-4.3-5.2l-2.9-5.1l-1.6-5l-.3-3.6l0.7-4.3l1.7-4.4l2.7-4.4l3.6-4.4l4.5-4.5l11.3-8.7l12.5-7.2l14.2-5.8l14.1-3.4l13.3-1.1l9.2 .4l9.4 1.4l9.7 2.4l9.7 3.4l10 4.4l10 5.3l10.2 6.2l12 8.2l12.2 9.2l12.2 10.1l26.6 24.1l28.7 28.7l36.3 38.5M314 641.4l-14.1-13.2l-13.5-11.6l-14.3-11.1l-30-22.1l-12.6-10.3l-6-6l-4-5.1l-2.7-5l-1.4-4.9l-.1-3.6l0.8-4.2l1.9-4.3l2.8-4.3l3.7-4.3l4.6-4.3l11.4-8.6l12.6-7.1l14.2-5.7l14-3.4l13.3-1.2l9.2 .4l9.4 1.3l9.6 2.4l9.8 3.3l9.9 4.3l10.1 5.2l10.1 6.1l12 8.1l22.6 17.6l26.5 23.7l30.5 30.2l34.4 36.4M311.9 640l-12.3-11.6l-13.4-11.5l-42.5-32l-12.5-10.3l-5.9-5.9l-4.4-5.7l-2.5-4.9l-1.2-4.9l0.1-3.4l1-4.1l1.9-4.2l3-4.2l8.5-8.5l12.5-9l14-7.5l13.1-5l14.1-3.2l13.4-.9l9.2 .4l9.5 1.5l9.6 2.4l9.8 3.4l9.9 4.4l10.1 5.3l10.1 6.1l12 8.1l22.6 17.7l26.5 23.7l28.6 28.3l34.5 36.4M311.5 640.2l-12.3-11.6l-13.2-11.3l-41.8-31.8l-12-10.1l-5.7-5.8l-3.7-4.9l-2.7-5.5l-1-4.8l0.3-4l1.3-4l2.3-4.1l3.2-4.1l4-4.2l5.8-4.8l13.1-8.8l14.4-7.2l13.3-4.6l12.8-2.6l13.4-.8l9.3 .6l9.4 1.6l9.7 2.5l9.8 3.5l9.9 4.4l10.1 5.3l10.1 6.2l12 8.2l22.6 17.7l26.5 23.7l28.6 28.3l32.6 34.4M311.1 640.5l-12.1-11.6l-13.2-11.3l-40-30.6l-11.9-10l-5.6-5.8l-3.7-4.9l-2.6-5.4l-1-4.6l0.2-3.3l1.1-3.9l2.1-4l3-4l3.9-4l5.5-4.8l12.8-8.7l14.1-7.2l13.1-4.9l14.1-3.2l13.3-1l9.2 .4l9.4 1.3l9.6 2.3l9.8 3.2l9.9 4.2l10 5.1l10.1 5.9l12 8l22.5 17.2l26.4 23.4l28.6 27.9l32.5 34.2M310.7 640.8l-12-11.5l-11.6-10.1l-39.6-30.7l-11.8-9.9l-5.6-5.8l-4-5.5l-2.4-5.3l-.8-4.5l0.5-3.9l1.4-3.8l2.4-3.9l3.2-3.9l9.9-8.6l13-8.5l14.3-7l13.3-4.7l14.1-3l13.4-.8l9.3 .5l9.4 1.4l9.6 2.4l9.7 3.3l10 4.2l10 5.2l10.1 5.9l12 8l22.5 17.3l24.6 21.7l28.6 27.8l32.5 34M310.4 641.1l-11.9-11.5l-11.5-10l-38.9-30.3l-11.4-9.9l-5.3-5.6l-3.4-4.8l-2.4-5.2l-.7-4.4l0.4-3.8l1.4-3.8l2.3-3.7l3.3-3.9l9.7-8.4l14-8.9l14.4-7l13.2-4.6l14.1-3l13.4-.9l9.2 .5l9.5 1.4l9.5 2.3l9.8 3.2l9.9 4.2l10 5l10.1 5.9l12 7.8l22.5 17.2l24.6 21.5l28.5 27.6l32.4 33.9M310.1 641.5l-10.4-10.1l-11.3-10.1l-38.7-30.5l-11.2-9.8l-5.3-5.6l-3.7-5.3l-2.2-5.2l-.5-4.3l0.6-3.7l1.5-3.7l2.5-3.7l3.3-3.7l9.9-8.2l14.1-8.8l14.4-6.8l13.2-4.6l14.2-2.9l13.3-1l9.2 .4l9.4 1.3l9.6 2.3l9.7 3.1l9.9 4.1l10 5l10.1 5.8l12 7.7l22.4 16.9l24.6 21.4l26.7 25.7l32.4 33.6M308.3 640.4l-10.2-9.9l-9.8-8.7l-37.9-30.2l-10.9-9.7l-5-5.5l-3.5-5.3l-1.9-5l-.3-4.3l0.7-3.6l1.7-3.6l2.5-3.6l4.1-4.2l11.2-8.7l13.5-7.9l14.6-6.7l13.3-4.3l14.2-2.8l13.4-.8l9.3 .5l9.4 1.4l9.6 2.4l9.7 3.2l9.9 4.1l10 5l10.1 5.9l10.2 6.6l22.5 16.7l24.5 21.2l26.7 25.5l32.3 33.5M308.1 640.8l-10.1-9.8l-9.7-8.6l-36.2-29.2l-10.8-9.7l-4.9-5.5l-3.5-5.2l-1.9-4.9l-.3-4.2l0.7-3.6l1.7-3.5l2.5-3.5l4-4.1l10.2-7.8l14.3-8.5l14.4-6.6l13.2-4.4l14.2-3l13.3-1l9.2 .3l9.4 1.3l9.5 2.1l9.7 3l9.9 3.9l10 4.7l10 5.6l11.9 7.6l22.4 16.5l24.5 21l26.7 25.4l30.5 31.4M307.9 641.3l-10-9.8l-9.5-8.5l-34.6-28.2l-10.7-9.7l-4.9-5.4l-3.4-5.2l-1.9-4.9l-.2-4.7l0.8-3.4l1.8-3.5l2.7-3.4l4.1-4l11.2-8.3l14.6-8.2l14.6-6.4l13.3-4.3l14.2-2.8l13.4-.8l9.2 .4l9.4 1.3l9.6 2.2l9.7 3.1l9.9 4l10 4.8l10 5.7l10.2 6.4l22.4 16.4l24.5 20.8l26.6 25.2l30.5 31.2M306.3 640.4l-17.8-16.8l-33-27.2l-11.3-10.3l-4.6-5.4l-3.2-5.1l-1.7-4.8l0-4.6l1-3.4l1.9-3.3l2.7-3.4l4.2-3.9l12.4-8.6l14.8-8.1l14.8-6.2l13.4-4.1l12.9-2.4l13.3-.9l9.2 .4l9.4 1.3l9.6 2.1l9.7 3l9.8 3.9l10 4.7l10.1 5.6l10.1 6.3l22.4 16.2l24.4 20.6l26.6 25.1l28.6 29.2M306.2 641.1l-16.3-15.6l-33.7-28.2l-10.2-9.5l-5.1-6l-2.9-5l-1.5-4.8l0.2-4.5l1.1-3.3l2.1-3.3l2.8-3.3l4.3-3.8l12.5-8.4l14.9-7.9l14.8-6.1l13.5-4.1l12.8-2.4l13.3-.9l9.2 .4l9.4 1.2l9.5 2.1l9.7 2.9l9.9 3.8l9.9 4.7l10.1 5.4l10.1 6.3l22.3 16l24.5 20.4l26.5 24.9l28.6 29.1M304.7 640.3l-14.7-14.1l-32.1-27.2l-10.7-10.2l-4.8-5.9l-2.8-5l-1.2-4.6l0.3-4.5l1.3-3.2l2.1-3.2l3-3.2l4.4-3.8l12.6-8.2l15-7.7l14.8-6l13.5-4.1l12.8-2.3l13.3-.9l9.2 .3l9.4 1.1l9.5 2l9.7 2.9l9.8 3.7l9.9 4.6l10.1 5.4l10.1 6.2l22.3 15.8l22.6 18.7l26.5 24.5l28.6 28.8M304.7 641l-14.5-14l-30.6-26.2l-10.6-10.3l-4.8-5.9l-2.7-4.9l-1.2-4.6l0.4-4.4l1.2-3.2l2.6-3.7l7.5-6.8l12.8-8l15-7.5l14.9-6l13.4-3.9l14.3-2.6l13.4-.7l9.2 .4l9.3 1.2l9.6 2.1l9.7 3l9.8 3.8l9.9 4.6l10.1 5.4l10.1 6.3l22.3 15.8l22.6 18.7l24.7 22.9l28.6 28.6M303.3 640.4l-15.4-14.7l-29.1-25.5l-8.6-8.6l-4.5-5.8l-2.5-4.9l-1-4.5l0.5-4.4l1.4-3.1l2.7-3.6l7.7-6.6l12.9-7.9l16.3-7.9l15-5.7l13.5-3.8l12.9-2.2l13.4-.8l9.1 .4l9.4 1.2l9.5 2l8.1 2.4l9.8 3.5l9.9 4.5l10 5.2l10.1 6l22.3 15.4l22.5 18.4l24.7 22.4l28.5 28.4M303.4 641.3l-15.2-14.7l-27.7-24.5l-8.5-8.7l-4.4-5.8l-2.5-4.9l-1-5l0.7-4.3l1.5-3.1l2.8-3.5l7.9-6.5l13-7.6l16.4-7.8l15-5.6l13.5-3.7l12.9-2.2l13.4-.9l9.1 .4l9.4 1.2l9.5 1.9l9.7 2.8l9.8 3.7l9.9 4.5l10 5.2l10.1 6.1l22.3 15.4l22.5 18.4l24.7 22.5l26.7 26.6M302.2 640.9l-13.7-13.3l-26.2-23.7l-9-9.3l-4.2-5.8l-2.3-4.8l-.8-4.5l0.9-4.7l1.6-3l3-3.5l8-6.3l13.2-7.5l16.4-7.6l15-5.5l13.5-3.7l12.9-2.2l13.4-.8l9.1 .3l9.4 1.1l9.5 1.9l9.6 2.8l18.1 7.2l9.9 5l10.1 5.8l10.2 6.6l12 8.5l22.5 18l24.6 22.2l26.7 26.2M301 640.6l-12.1-12l-24.9-22.8l-9.4-10l-4-5.8l-2-4.7l-.6-4.4l1-4.7l1.8-2.9l3-3.4l8.3-6.2l14.2-7.9l16.7-7.3l15.1-5.4l13.7-3.5l12.9-2.1l13.4-.7l9.2 .5l9.3 1.2l9.5 2l9.7 2.8l18 7.3l10 5.1l10.1 5.8l20.5 13.9l22.5 17.8l24.6 22l26.6 26.1M300 640.3l-10.8-10.6l-23.4-21.9l-9.9-10.8l-3.7-5.7l-1.9-4.6l-.4-4.4l1.3-4.6l1.8-2.9l3.2-3.4l8.4-6l14.4-7.7l16.7-7.2l15.2-5.3l13.6-3.5l12.9-2l13.4-.7l9.1 .4l9.4 1.1l9.5 2l9.7 2.7l18 7.2l10 5l10 5.8l20.5 13.7l22.5 17.7l22.7 20.1l26.6 25.9M299 640.2l-32.3-31.2l-9.4-10.7l-3.5-5.6l-1.7-4.7l-.2-4.3l1.4-4.5l2-2.9l3.3-3.3l8.5-5.9l14.5-7.5l16.8-7.1l15.2-5.2l13.6-3.4l12.9-2l13.4-.7l9.1 .3l9.4 1.1l9.5 1.9l9.6 2.7l18 7l10 5l10.1 5.7l20.4 13.5l22.4 17.5l22.8 20l26.5 25.7M298.1 640.2l-29.6-29.1l-9.4-10.8l-3.4-5.7l-1.8-5.2l0-4.2l1.6-4.5l2.1-2.9l3.3-3.2l8.8-5.8l14.6-7.3l16.8-7l15.2-5.1l13.6-3.3l12.9-2l13.4-.8l9.1 .4l9.4 1l9.4 1.9l9.7 2.6l17.9 6.9l10 4.8l10.1 5.7l20.3 13.3l20.7 15.9l22.7 19.7l26.5 25.4M297.3 640.2l-27-27l-9.8-11.5l-3.2-5.7l-1.5-5.1l0.1-4.3l1.8-4.4l5.1-5.5l9.4-6.2l14.7-7.1l18.1-7.3l14-4.5l13.6-3.4l12.9-2l13.4-.7l9.1 .3l9.3 1l9.5 1.8l8 2.1l17.9 6.5l10 4.7l10 5.4l20.3 13l22.4 16.9l22.7 19.6l24.7 23.4M296.6 640.4l-26-26.6l-5.1-5.9l-4-5.5l-2.8-5.5l-1.1-5.1l0.5-4.1l2.1-4.4l5.5-5.4l9.9-6.1l15-7l18.4-7.1l14.1-4.4l13.7-3.2l12.9-1.8l13.4-.6l9.2 .4l9.3 1.1l9.5 1.8l8 2.2l17.9 6.6l10 4.7l10 5.5l20.3 13l20.7 15.6l22.6 19.4l24.7 23.3M296 640.6l-23.6-24.6l-5.7-6.7l-3.7-5.4l-2.6-5.5l-.9-5.1l0.6-4.1l2.4-4.3l5.7-5.3l9.9-6l15.2-6.9l18.4-6.9l14.1-4.3l13.7-3.2l12.9-1.8l13.4-.7l9.1 .4l9.4 1.1l17.5 3.9l17.9 6.5l9.9 4.7l10 5.3l20.3 12.9l20.6 15.5l22.7 19.2l22.9 21.4M295.4 640.9l-21.9-23.5l-5.4-6.6l-3.6-5.4l-2.4-5.5l-.7-4.5l0.8-4.6l2.5-4.3l5.9-5.2l10.1-5.9l15.3-6.7l18.4-6.8l14.1-4.3l13.7-3.1l12.9-1.8l13.4-.7l9.1 .4l9.4 1l17.4 3.8l17.9 6.4l18.3 9l20.2 12.5l20.6 15l22.6 18.9l22.8 21.1M294 640.2l-20-22l-5.1-6.6l-3.1-5.3l-2.1-5.5l-.3-4.4l1.1-4.5l2.9-4.2l6.2-5.2l10.5-5.7l15.6-6.6l18.6-6.7l14.3-4.1l13.7-3l13-1.7l11.9-.5l9.1 .3l9.3 1l17.5 3.8l17.9 6.2l18.2 8.8l20.2 12.4l20.6 14.9l22.5 18.7l22.8 21M293.6 640.6l-18.5-20.9l-4.8-6.6l-2.9-5.3l-1.9-5.4l-.2-4.4l1.4-4.5l3-4.1l6.4-5.1l10.6-5.7l15.7-6.5l18.6-6.5l14.3-4l13.7-3l13-1.7l11.9-.5l9.1 .3l9.3 1l17.4 3.6l17.9 6.2l18.2 8.6l18.5 11.1l20.5 14.6l22.5 18.4l22.8 20.6M292.4 640l-16.6-19.5l-4.4-6.5l-2.7-5.2l-1.4-5.3l0.1-4.4l1.7-4.4l3.3-4.1l6.8-5l11-5.6l15.9-6.3l17.6-6l14.3-4l13.8-2.9l12.9-1.6l11.9-.6l9.1 .3l9.3 .9l17.4 3.6l17.8 6l18.2 8.5l18.5 11l20.5 14.4l20.7 16.7l22.8 20.4M292.3 640.6l-15.2-18.5l-4.3-6.5l-2.4-5.2l-1.2-5.3l0.2-4.3l1.9-4.4l3.5-4.1l6.9-4.9l10.2-5.1l15.8-6.2l18.8-6.3l14.2-3.9l13.8-2.9l12.9-1.6l11.9-.6l9.1 .3l9.3 .9l17.4 3.4l17.8 6l18.2 8.4l18.4 10.8l20.5 14.2l20.7 16.6l21 18.6M291.4 640.2l-13.6-17.3l-3.8-6.3l-2.1-5.2l-.9-5.2l0.6-4.3l2.2-4.3l3.8-4l7.3-4.8l11.4-5.4l17.4-6.5l18-5.7l14.4-3.8l12.5-2.4l13-1.5l11.9-.5l16.9 1.1l17.3 3.4l17.8 5.8l18.2 8.3l18.4 10.7l20.5 14.1l20.7 16.4l20.9 18.5M291.5 640.9l-7.8-10l-5-7l-3.4-6.3l-1.8-5.1l-.5-4.6l0.9-4.8l2.5-4.2l4.1-3.9l7.6-4.8l11.7-5.3l16.6-6l18-5.6l14.5-3.7l12.4-2.4l13-1.5l11.9-.5l16.9 1.1l17.3 3.3l17.8 5.7l18.1 8.2l18.4 10.5l18.7 12.7l20.7 16.1l20.9 18.2M291 640.6l-6.7-8.8l-4.6-7l-3.1-6.2l-1.5-5l-.2-4.6l1.3-4.6l2.5-3.8l4.2-3.9l7.7-4.7l10.9-4.9l16.4-5.9l19.2-5.8l14.5-3.6l12.4-2.4l13-1.5l11.9-.5l16.9 1.1l17.3 3.2l16.1 5l18.1 7.8l18.4 10.2l18.6 12.3l20.6 15.8l20.9 17.9M290.6 640.5l-5.6-7.8l-4.2-6.9l-2.8-6.2l-1.1-4.9l0.1-4.5l1.6-4.6l2.8-3.7l4.4-3.8l8.1-4.7l11.2-4.7l17.8-6.2l18.2-5.3l14.6-3.5l12.5-2.2l11.5-1.4l11.9-.4l16.8 .9l17.4 3.2l17.7 5.5l16.4 7.1l18.4 10l18.6 12.3l18.9 14.2l20.8 17.6M290.4 640.4l-5.1-7.6l-3.7-6.7l-2.1-5.4l-.8-4.8l0.5-4.5l1.9-4.5l3-3.6l4.7-3.8l8.4-4.6l11.4-4.7l17-5.6l18.2-5.3l14.6-3.4l12.5-2.2l11.5-1.3l11.9-.5l16.8 .9l17.3 3.1l17.7 5.4l16.4 7l16.7 8.9l18.6 11.9l18.8 13.9l20.8 17.3M290.4 640.4l-4.6-7.4l-2.9-5.9l-1.8-5.3l-.4-4.8l0.7-4.3l2.2-4.5l3.3-3.6l5-3.7l8.6-4.5l11.7-4.6l17.2-5.6l17.1-4.8l14.6-3.3l12.5-2.2l11.5-1.3l11.9-.5l16.8 .9l15.7 2.6l17.7 5.1l16.3 6.7l16.7 8.6l18.5 11.6l18.8 13.6l20.7 17M290.5 640.4l-4.1-7.2l-2.4-5.7l-1.3-5.1l0-4.7l1.2-4.3l2.3-3.9l3.5-3.5l5.3-3.6l8.9-4.5l12-4.5l17.4-5.5l17.2-4.6l13.3-3l12.5-2.2l11.6-1.2l11.8-.5l16.8 .8l15.7 2.6l17.6 5l16.4 6.6l16.6 8.4l18.5 11.5l18.8 13.5l19 15.3M290.9 640.5l-3.3-6.2l-2.1-5.6l-1-5.1l0.3-4.7l1.5-4.2l2.6-3.8l3.7-3.5l5.5-3.6l8.4-4l12-4.4l17.5-5.4l17.3-4.6l13.2-2.9l12.6-2.1l11.5-1.3l11.8-.5l16.8 .8l17.2 2.9l16.1 4.5l16.3 6.5l16.6 8.4l16.8 10.2l18.8 13.2l18.9 15M291.4 640.7l-2.8-6.1l-1.7-5.5l-.5-4.9l0.7-4.5l1.9-4.1l3-3.8l4.1-3.3l5.9-3.5l9.7-4.3l12.5-4.3l16.9-5l17.5-4.5l13.4-2.7l11.2-1.8l11.5-1.2l11.9-.4l16.8 1l15.7 2.6l16 4.5l16.4 6.4l16.5 8.2l16.8 10.1l17 11.8l18.9 14.8M291.7 640.2l-2.2-5.9l-1.1-5.2l0.1-4.3l1.1-4.4l2.3-4l3.4-3.6l4.5-3.3l5.5-3l9-3.9l12.6-4.3l16.9-4.8l17.5-4.4l13.4-2.7l12.6-1.9l11.6-1.1l10.4-.3l16.8 .9l15.7 2.6l16 4.4l14.7 5.5l16.5 8l16.8 9.8l16.9 11.5l18.9 14.5M292.7 640.5l-1.8-5.7l-.6-5.1l0.4-4.2l1.5-4.2l2.7-3.9l3.8-3.6l4.8-3.2l5.8-2.9l9.4-3.8l13-4.2l17.2-4.8l16.4-3.9l24.7-4.3l11.6-1l10.4-.4l16.8 .9l15.7 2.5l16 4.3l14.6 5.5l16.5 7.9l16.8 9.6l16.9 11.4l17.1 13M293.5 640.2l-1.2-5.5l0-4.4l0.7-4l2-4.2l2.6-3.3l4.1-3.5l5-3.1l5.9-3l9.6-3.7l13.2-4.1l32.6-8.2l24.8-4.2l11.5-1.1l10.4-.3l16.8 .8l15.6 2.5l16 4.2l14.6 5.4l14.9 6.9l16.7 9.4l16.9 11.1l17.1 12.7M294.9 640.7l-.7-4.8l0.1-4.3l1-4l2.3-4.1l2.8-3.3l4.2-3.4l5.3-3.1l6.1-2.9l9.8-3.6l13.4-4.1l32.9-8l23.4-3.9l11.6-1l10.3-.3l15.2 .6l15.6 2.3l16 3.9l14.6 5.2l14.8 6.6l16.6 9.1l16.9 10.8l17.1 12.5M296.3 640.5l-.2-4.6l0.6-4.1l1.5-3.8l2.8-4l3.3-3.2l4.6-3.3l12.2-5.7l10.3-3.6l13.8-3.9l32.3-7.6l23.6-3.5l20.5-1.1l15.3 .8l15.6 2.4l14.3 3.5l14.6 5.1l14.8 6.5l16.6 9l15.2 9.6l17 12.2M298 640.4l0.2-4.4l1.2-4l2-3.7l2.8-3.3l3.5-3.1l4.4-2.8l12.5-5.7l23.3-7.1l30.9-7.1l23.5-3.6l20.6-1.2l15.1 .6l15.6 2.1l14.3 3.4l14.5 4.8l14.8 6.3l14.9 7.7l15.1 9.2l17 11.7M299.9 640.4l0.8-4.2l1.6-3.9l2.4-3.5l3.3-3.2l3.9-3l4.8-2.7l13.2-5.5l24.2-6.9l30.1-6.6l22.3-3.2l20.6-1l15.2 .7l14 1.9l14.3 3.3l14.5 4.8l14.7 6.2l14.9 7.6l15.2 9.1l15.2 10.4M302.2 640.5l1-3.5l1.9-3.8l2.8-3.4l3.5-3.2l9.3-5.5l13.7-5.3l24.7-6.8l29.2-6.1l22.3-3.1l19.2-.9l15.2 .7l14 1.9l14.2 3.3l14.5 4.6l13.1 5.4l14.9 7.4l15.1 8.8l15.2 10.2M304.9 640.1l1.5-3.3l2.5-3.6l2.8-2.8l3.9-3l9.9-5.3l14.5-5.2l25.4-6.6l27-5.4l21-2.8l19.1-.9l15.2 .7l13.9 1.9l14.3 3.1l12.9 4l13 5.2l14.9 7.1l13.3 7.6l15.2 9.7M307.7 640.4l1.9-3.2l2.9-3.5l7.5-5.6l10.6-5.1l14-4.7l24.7-6.1l25.8-5.1l21-2.7l19.1-.9l13.6 .5l14 1.7l14.2 3l12.8 3.8l13 4.9l13.2 6.1l13.3 7.1l15.1 9.4M311.2 640.2l5.2-5.9l8.1-5.3l11.3-4.9l14.6-4.6l24.1-5.7l24.7-4.7l19.6-2.5l19.1-.8l13.6 .5l13.9 1.6l12.6 2.6l12.9 3.6l12.9 4.7l13.2 5.8l13.3 7l15.1 9.1M315 640.2l6.1-5.6l8.9-5.1l11.1-4.4l15.1-4.3l23.5-5.4l23.6-4.3l19.6-2.3l17.7-.7l13.6 .5l12.4 1.3l12.5 2.4l12.8 3.4l13 4.5l13.1 5.6l13.2 6.8l13.4 7.8M319.1 640.2l6.9-5.3l8.9-4.5l12.6-4.4l15.8-4.3l24.1-5.1l21.3-3.6l18.4-2l16.2-.6l13.6 .4l12.3 1.4l12.6 2.3l11.2 2.9l12.9 4.3l11.4 4.7l13.2 6.3l13.4 7.5M323.6 640.4l7.7-5l9.6-4.3l12.3-3.9l16.2-4.1l23.3-4.8l20.1-3.2l17-1.8l16.2-.7l12.1 .4l12.3 1.2l12.5 2.2l11.1 2.7l12.9 4.1l11.4 4.5l11.5 5.3l13.3 7.1M329 640.2l8.6-4.6l10.4-4l13-3.8l17-3.9l20-3.9l18.9-2.9l17.1-1.6l14.7-.6l12.1 .4l12.3 1.2l10.9 1.8l11.1 2.5l12.8 3.9l11.4 4.4l11.5 5.1l11.6 6M334.9 640.3l8.6-4l11-3.8l14.6-3.9l17.7-3.8l19.2-3.4l16.4-2.3l15.7-1.4l13.3-.5l12.1 .4l12.3 1.2l10.9 1.7l11.1 2.5l11.2 3.3l11.3 4.2l9.9 4.2l11.5 5.6M341.9 640.1l9.5-3.7l11.8-3.5l15.5-3.7l18.3-3.6l17.1-2.8l15.3-1.9l12.9-1l13.3-.3l21.3 1.2l10.9 1.7l11.1 2.3l11.1 3.2l9.7 3.3l11.5 4.7l9.9 4.6M349.5 640.1l10.2-3.5l11.5-3l32.4-6.5l28.5-3.9l12.9-1l11.8-.3l21.2 1.1l20.4 3.3l11.1 2.9l9.7 3.1l19.5 8M357.5 640.2l23.1-6l30.9-5.7l26.2-3.3l21.8-1l19.7 .9l18.7 2.8l19.1 4.9l19.5 7.3M368.1 640l23.4-5.3l28.1-4.8l22.2-2.5l20.4-.9l18.2 .7l18.6 2.6l17.4 4.2l17.8 6.2M379.2 640l23.6-4.7l24.9-3.8l19.7-2l19-.7l16.6 .8l17.1 2.2l15.8 3.5l16.1 5.1M391 640.2l20.9-3.8l21.3-3l18.3-1.7l16.1-.6l15.1 .5l15.4 1.7l15.7 3l14.4 4.1M405.7 640.1l19.4-3l16.4-2l15.6-1.3l13.2-.3l13.6 .3l13.8 1.4l12.5 2l12.6 3M422.5 640.1l27.3-3.2l23.3-1.1l11.9 .3l10.7 .8l20.3 3.2M442.7 640.1l17-1.5l16.1-.5l15 .5l15.4 1.6" fill="none" stroke="#f00" stroke-width="0.42" shape-rendering="auto" mask="url(#rm)"/>
<polyline points="88,398.6 94,398.9 100,399.6 106,400.6 112,402.0 118,403.5 124,405.3 130,407.3 136,409.3 142,411.4 148,413.7 154,416.0 160,418.5 166,420.9 172,423.5 178,426.1 184,428.8 190,431.5 196,434.3 202,437.1 208,440.0 214,442.9 220,445.8 226,448.8 232,451.9 238,454.9 244,458.0 250,461.1 256,464.4 262,467.5 268,470.7 274,473.9 280,477.0 286,480.2 292,483.5 298,486.8 304,490.2 310,493.7 316,497.1 322,500.5 328,503.9 334,507.4 340,510.9 346,514.5 352,518.0 358,521.6 364,525.2 370,528.8 376,532.4 382,536.1 388,539.7 394,543.4 400,547.1 406,550.8 412,554.6 418,558.3 424,562.1 430,565.9 436,569.7 442,573.5 448,577.4 454,581.2 460,585.0 466,588.9 472,592.8 478,596.6 484,600.4 490,604.3 496,608.1 502,612.0 508,616.0 514,619.9 520,623.9 526,628.0 532,632.0 538,636.0 544,640.0" fill="none" stroke="#f00" stroke-width="1.2" stroke-opacity="1"/>
<polygon points="94.1,400 98.0,403 100.7,406 103.8,409 106.0,412 108.5,415 111.1,418 112.8,421 115.1,424 117.3,427 118.9,430 121.3,433 123.3,436 124.9,439 127.0,442 129.1,445 130.6,448 132.6,451 134.7,454 136.2,457 138.3,460 140.3,463 141.9,466 143.9,469 145.9,472 147.7,475 149.5,478 151.5,481 153.7,484 155.3,487 157.3,490 159.4,493 161.1,496 163.3,499 165.5,502 167.3,505 169.6,508 171.9,511 173.8,514 176.2,517 178.5,520 180.6,523 183.1,526 185.5,529 188.0,532 190.7,535 193.1,538 196.0,541 198.6,544 201.7,547 204.3,550 207.6,553 210.4,556 213.6,559 216.8,562 220.2,565 223.3,568 227.0,571 230.1,574 233.8,577 236.9,580 240.3,583 243.5,586 246.7,589 249.9,592 252.9,595 256.0,598 258.7,601 261.6,604 264.3,607 266.9,610 269.5,613 272.0,616 274.4,619 276.8,622 278.8,625 281.2,628 283.5,631 285.6,634 287.9,637 297.2,637 295.2,634 293.4,631 291.4,628 289.3,625 287.6,622 285.5,619 283.4,616 281.2,613 278.9,610 276.5,607 274.0,604 271.3,601 268.8,598 265.9,595 263.1,592 260.1,589 257.1,586 254.1,583 250.9,580 247.4,577 243.4,574 239.8,571 235.8,568 232.3,565 228.5,562 225.0,559 221.4,556 218.2,553 214.6,550 211.5,547 208.1,544 205.2,541 202.0,538 199.5,535 196.6,532 193.9,529 191.4,526 188.8,523 186.5,520 184.1,517 181.5,514 179.5,511 177.0,508 174.6,505 172.6,502 170.3,499 167.9,496 166.1,493 163.8,490 161.6,487 159.9,484 157.5,481 155.3,478 153.3,475 151.3,472 149.0,469 146.9,466 145.0,463 142.8,460 140.5,457 138.7,454 136.5,451 134.2,448 132.5,445 130.1,442 127.8,439 126.1,436 123.9,433 121.4,430 119.6,427 117.3,424 114.9,421 113.0,418 110.3,415 107.6,412 105.3,409 102.0,406 99.1,403 95.1,400" fill="#f00" fill-opacity="0.85"/>
</g></g>
<rect x="87.5" y="176.5" width="576" height="460" fill="none" stroke="#b8b8b8" stroke-width="1"/>
</g>
<text x="60.0" y="53.5" font-size="11.6" fill="#000">FDS20_0100_r_nb_con.outgal</text>
<text x="60.0" y="69.8" font-size="11.6" fill="#000">FDS20_0100_r_data.fits</text>
<text x="60.0" y="86.1" font-size="11.6" fill="#000">FDS20_0100_r_sigma.fits</text>
<text x="60.0" y="102.4" font-size="11.6" fill="#000">PSF</text>
<text x="99.6" y="102.4" font-size="11.6" fill="#000">= psf_r20_over2.fits</text>
<text x="60.0" y="118.7" font-size="11.6" fill="#000">FDS20_0100_r_finmask.fits</text>
<text x="60.0" y="135.0" font-size="11.6" fill="#000">pix (") =</text>
<text x="105.8" y="135.0" font-size="11.6" fill="#000">0.2000</text>
<text x="428.4" y="53.5" font-size="11.6" fill="#000">FITSECT = '[116:376,119:379]'</text>
<text x="428.4" y="69.8" font-size="11.6" fill="#000">CONVBOX = '101, 101'</text>
<text x="428.4" y="86.1" font-size="11.6" fill="#000">MAGZPT</text>
<text x="483.1" y="86.1" font-size="11.6" fill="#000">=</text>
<text x="551.6" y="86.1" font-size="11.6" fill="#000">0.</text>
<text x="428.4" y="102.4" font-size="11.6" fill="#000">INFILE: 2019-Oct-30</text>
<text x="428.4" y="118.7" font-size="11.6" fill="#000">PLOT: 11-Nov-2019 15:37:50.00</text>
<text x="428.4" y="135.0" font-size="11.6" fill="#000">alan@</text>
<text x="695.3" y="61.3" font-size="11.6" fill="#000">COMP_1</text>
<text x="749.6" y="61.3" font-size="11.6" fill="#000">= sersic</text>
<text x="695.3" y="86.05" font-size="11.6" fill="#000">1_XC</text>
<text x="737.2" y="86.05" font-size="11.6" fill="#000">= [247.8750] pix</text>
<text x="695.3" y="110.8" font-size="11.6" fill="#000">1_YC</text>
<text x="737.2" y="110.8" font-size="11.6" fill="#000">= [250.5390] pix</text>
<text x="695.3" y="135.55" font-size="11.6" fill="#000">1_MAG</text>
<text x="744.4" y="135.55" font-size="11.6" fill="#000">= 18.2570</text>
<text x="695.3" y="160.3" font-size="11.6" fill="#000">1_RE</text>
<text x="737.2" y="160.3" font-size="11.6" fill="#000">= 27.6758 pix</text>
<text x="695.3" y="185.05" font-size="11.6" fill="#000">1_N</text>
<text x="732.6" y="185.05" font-size="11.6" fill="#000">= 0.8271</text>
<text x="695.3" y="209.8" font-size="11.6" fill="#000">1_AR</text>
<text x="737.2" y="209.8" font-size="11.6" fill="#000">= 0.2541</text>
<text x="695.3" y="234.55" font-size="11.6" fill="#000">1_PA</text>
<text x="737.2" y="234.55" font-size="11.6" fill="#000">= -61.7649</text>
<text x="695.3" y="271.68" font-size="11.6" fill="#000">COMP_2</text>
<text x="749.6" y="271.68" font-size="11.6" fill="#000">= psf</text>
<text x="695.3" y="296.43" font-size="11.6" fill="#000">2_MAG</text>
<text x="744.4" y="296.43" font-size="11.6" fill="#000">= *35.0000*</text>
<text x="695.3" y="333.55" font-size="11.6" fill="#000">ERROR</text>
<text x="747.2" y="333.55" font-size="11.6" fill="#000">= Convergence</text>
<text x="695.3" y="370.68" font-size="11.6" fill="#000">Chi2/nu=</text>
<text x="765.2" y="370.68" font-size="11.6" fill="#000">1.2109763</text>
<text x="225.4" y="170.8" font-size="14.7" fill="#000">/data/alan/fds2/FDS20_0100_r_nb_con.outgal</text>
<text x="84.3" y="211.43" font-size="11.6" fill="#000" text-anchor="end">16</text>
<text x="84.3" y="272.9" font-size="11.6" fill="#000" text-anchor="end">18</text>
<text x="84.3" y="334.37" font-size="11.6" fill="#000" text-anchor="end">20</text>
<text x="84.3" y="395.83" font-size="11.6" fill="#000" text-anchor="end">22</text>
<text x="84.3" y="457.3" font-size="11.6" fill="#000" text-anchor="end">24</text>
<text x="84.3" y="518.77" font-size="11.6" fill="#000" text-anchor="end">26</text>
<text x="84.3" y="580.23" font-size="11.6" fill="#000" text-anchor="end">28</text>
<text x="84.3" y="637.5" font-size="11.6" fill="#000" text-anchor="end">30</text>
<text x="87.5" y="652.2" font-size="11.6" fill="#000" text-anchor="middle">0</text>
<text x="183.67" y="652.2" font-size="11.6" fill="#000" text-anchor="middle">5</text>
<text x="279.83" y="652.2" font-size="11.6" fill="#000" text-anchor="middle">10</text>
<text x="376.0" y="652.2" font-size="11.6" fill="#000" text-anchor="middle">15</text>
<text x="472.17" y="652.2" font-size="11.6" fill="#000" text-anchor="middle">20</text>
<text x="568.33" y="652.2" font-size="11.6" fill="#000" text-anchor="middle">25</text>
<text x="664.5" y="652.2" font-size="11.6" fill="#000" text-anchor="middle">30</text>
<text x="375.4" y="664.6" font-size="11.6" fill="#000" text-anchor="middle">Distance along sky [arcsec]</text>
<text x="0" y="0" font-size="11.6" fill="#000" text-anchor="middle" transform="translate(63.7 406.6) rotate(-90)">magnitude/arcsec^2</text>
<text x="7.2" y="706.3" font-size="8.16" fill="#000">/data/alan/fds2//data/alan/fds2/FDS20_0100_r_nb_con.outgal_profile2</text>
<text x="876" y="706.3" font-size="8.2" fill="#000" text-anchor="end" xml:space="preserve" style="white-space:pre">alan@  Mon Nov 11 15:37:50 2019</text>
<text x="216.5" y="213.5" font-size="13.3" fill="#8a8a8a">OBS</text>
<text x="216.5" y="248.2" font-size="13.3" fill="#fff">MODEL</text>
<text x="418.3" y="213.5" font-size="13.3" fill="#e8141c" xml:space="preserve" style="white-space:pre">BULGE  1.000</text>
<text x="418.3" y="243.8" font-size="13.3" fill="#1ed81e" xml:space="preserve" style="white-space:pre">NUCLEUS  0.000</text>
</svg>
</body></html>
